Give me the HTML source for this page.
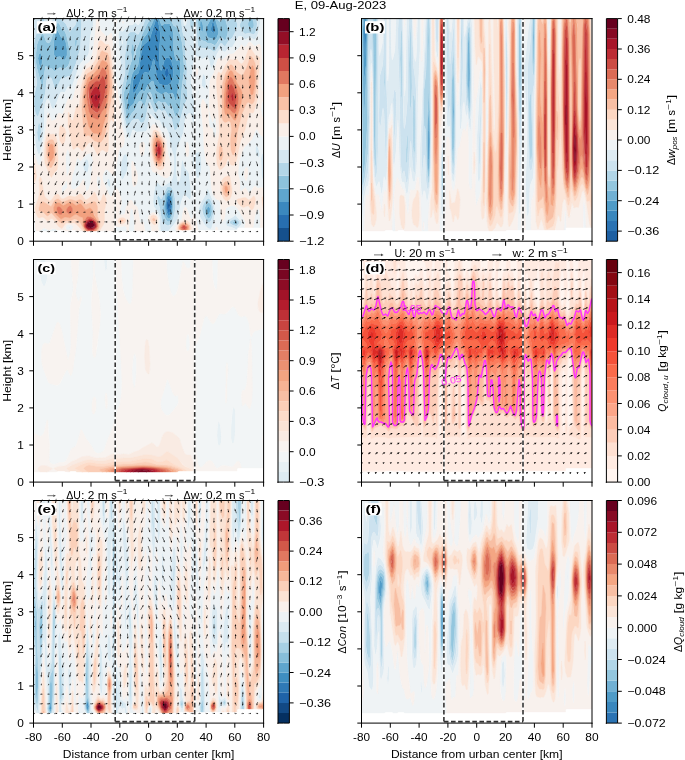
<!DOCTYPE html>
<html><head><meta charset="utf-8"><title>E, 09-Aug-2023</title>
<style>html,body{margin:0;padding:0;background:#fff;width:685px;height:760px;overflow:hidden}svg{display:block;will-change:transform;font-family:"Liberation Sans",sans-serif}</style>
</head><body>
<svg width="685" height="760" viewBox="0 0 685 760" version="1.1">
<defs>
<style type="text/css">*{stroke-linejoin: round; stroke-linecap: butt}</style>
</defs>
<g id="figure_1">
<g id="patch_1">
<path d="M0 760L685 760L685 0L0 0z" style="fill:#ffffff" />
</g>
<g id="axes_1">
<g id="patch_2">
<path d="M33.5 241.2L263.6 241.2L263.6 18.6L33.5 18.6z" style="fill:#ffffff" />
</g>
<g id="QuadContourSet_1" clip-path="url(#p49ef406c6c)">
<g transform="scale(.5)"><path d="M337 418l2-1 1-7-1-6-2-1-1 7 0 5z" style="fill:#15508d;stroke:#15508d;stroke-width:.8" />
<path d="M336 425l1 1 2-1 2-4 1-7-1-13-2-5-2 0-1 1-1 4-2 7 1 9zM337 417l-1-7 1-7 2 1 1 8-1 5-2 1zM332 155l1 0 2-1 3-7-1-8-3-4-1 1-1 2-2 5 0 7zM287 122l1-5-1-1zM311 75l2-2 2-8-1-7-1-2-2 3-1 8 0 5z" style="fill:#276eb0;stroke:#276eb0;stroke-width:.8" />
<path d="M336 431l1 1 2-1 2-2 2-8 1-9-1-9-1-8-2-3-3-2-3 3-1 4-1 13 1 13zM336 425l-2-8-1-9 2-7 1-4 1-1 2 0 2 5 1 13-1 7-2 4-2 1zM267 186l3-2 5-8 7-18 6-12 3-2 5 2 1 0 3-4 3-8 3-13 1-3 2 4 5 36 2 5 3 5 3 1 7 2 7-1 6-5 3-7 2-11-1-14-3-11-4-6-5-1-3 2-3 6-5 18-1 0-2-4-1-11 0-31 2-26-4-23-3-8-1 0-2 3-11 35-6 8-6 5-2 4-4 15-4 35-1 3-7 6-4 9-1 15 0 7zM331 154l-1-4 0-7 2-5 1-2 1-1 3 4 1 8-4 7-1 1zM287 121l0-5 1 1zM311 74l-1-7 1-8 2-3 1 2 0 9-1 6zM339 75l1-4-1-4-1 4zM425 65l3 1 1-3 1-4-1-9-2-6-2 0-1 3-2 9 0 5z" style="fill:#3b88be;stroke:#3b88be;stroke-width:.8" />
<path d="M336 437l3 0 3-5 2-9 1-11 0-11-2-9-3-6-3-1-3 2-2 6-2 19 1 15 2 6zM335 430l-3-9 0-13 2-13 2-4 1-1 3 2 2 5 2 17-2 9-2 6-3 3zM415 427l1 1 2 0 2-5 0-6-2-4-2 0-1 1-1 3 0 6zM257 221l4-8 6-5 7-16 6-9 4-3 4 3 2-1 5-11 9-9 2 0 1 2 4 16 2 3 10 6 7-4 3 0 4 3 8-2 2 3 3 11 2 1 1-2 8-54 0-15-2-13-1-1-3 5-2 0-3-6-3-17 0-29-2-10-5-11-3-1-4 1-4-1-5 4-1-1-1-2-4-11-10 0-5 13-10 19-6 7-3 5-4 21-4 29-3 5-8 9-3 11-7 48 0 13 0 2zM266 186l-1-10 1-15 4-9 7-6 1-3 4-35 4-15 2-4 6-5 6-8 11-35 2-3 1 0 3 8 4 23-2 26 0 31 1 11 2 4 1 0 5-18 3-6 3-2 5 1 4 6 3 11 1 14-2 11-3 7-6 5-7 1-7-2-3-1-3-5-2-5-5-36-2-4-1 3-3 13-3 8-3 4-1 0-5-2-3 2-6 12-8 20-6 8-1 0zM338 74l0-3 1-4 1 4zM80 134l1 1 2-2 2-14-2-9-2-4-1 0-1 1-2 3-1 7 1 8zM127 120l3-1 2-2 2-7 0-12-2-13-3-8-2-1-4-1-1-1-5-10-1-2-2-1-2 4-2 4-2 11-1 17 1 13 2 3 2 2 8-2zM427 78l2 1 2 0 3-4 3-8 0-8-7-22-8 0-8 15-2 6 0 5 2 8 2 4zM425 65l-3-4 0-5 2-9 1-3 2 0 2 8 1 9-2 5-1 0zM404 64l1 0 1-3 1-5-2-10-3-6-2 3 0 9 1 7z" style="fill:#5fa5cd;stroke:#5fa5cd;stroke-width:.8" />
<path d="M467 448l3 1 3-1 1-1 1-2-1-2-3-1-4 1-2 2zM336 444l1 0 3-2 3-6 3-11 1-13 0-13-2-11-3-7-5-2-3 3-4 8-2 13-2 14 1 8 1 7 4 8zM335 436l-2-4-3-7 0-15 3-18 1-5 3-2 3 1 4 7 1 10 0 11-1 11-2 8-3 4-2 1zM416 437l3-1 2-2 2-5 1-6-1-11-2-4-3-3-3 1-3 3-2 5-1 5 1 6 2 5 2 4zM415 427l-1-4 0-6 1-3 1-1 2 0 2 4 0 6-2 5-2 0zM254 238l1 1 3-2 6-11 6-6 6-14 2-3 3-1 2 1 4 8 1 1 2-1 6-22 1-3 3-2 3 5 4 17 2 4 2-1 4-5 2-2 7 4 6-2 6 8 1 1 5-3 1 1 7 21 2 1 1-1 4-6 2-7 2-11 3-35 4-30 0-13-3-39-3-17-6-17-1-2-8-4-6-14-15 0-2 1-2-1-4 0 4 11 1 2 1 1 5-4 4 1 4-1 3 1 5 11 2 10 0 29 3 17 3 6 2 0 3-5 1 1 2 13 0 15-8 52-1 4-2-1-3-11-2-3-8 2-4-3-3 0-7 4-10-6-2-3-4-16-1-2-2 0-9 9-5 11-2 1-4-3-4 3-6 9-7 16-6 5-4 8-2-2-1-7 1-12 8-48 4-9 6-7 3-5 4-29 3-18 3-6 7-9 13-25 2-7-5 0-7 8-12 24-7 20-5 11-2 14-2 3-1-2 2-11-1-9-1-5-2-2-1 1-1 2-1 13 2 15-6 18-11 52 0 10 4 28zM84 176l2-3 3-28 2-12 2 0 4 4 6 0 6 6 11-8 7 3 3-1 6-5 3-6 2-11-1-13-7-31-3-8-7-6-4-9-3-3-3 3-3 6-8 26-2 4-3 2-3-1-2-3-5-13-1-2-2 1-3 4-5 11-2 6-2 17 0 20 2 11zM80 134l-3-9-1-8 1-7 2-3 1-1 1 0 2 4 2 9-2 14-2 2zM126 119l-6-6-8 2-2-2-2-3-1-13 1-17 2-11 2-4 2-4 2 1 1 2 5 10 1 1 4 1 2 1 3 10 2 13 0 11-4 8-1 1zM152 94l1-3 1-9-1-5-1 0-2 3 0 5 0 7zM427 89l2 2 3-2 7-12 3-2 2 0 6 6 2-3 3-9 1-10-2-9-3-10-2-3-3 0-4 5-3 1-2-2-3-4-4 0 7 24 0 6-3 7-2 4-3 1-13-4-2-4-2-6 0-6 1-5 9-17-26 0 0 11 1 13 2 11 2 7 3 2 7 2 5 4 6 0zM403 63l-2-6-1-7 1-8 1-2 3 7 2 11-2 5-1 1zM501 57l3 0 2 0 2-5-1-9-3-6-3 0-1 1-4 8 0 6z" style="fill:#8dc2dc;stroke:#8dc2dc;stroke-width:.8" />
<path d="M334 451l3 0 3-2 6-9 3-11 2-15-1-17-3-15-4-7-4-2-5 1-2 4-9 20-1 0-5-7-1 0-2 4 1 6 4 13 5 29 2 3zM335 443l-3-3-4-8-1-7-1-8 2-14 2-13 4-8 3-3 5 2 3 7 2 11 0 15-1 11-3 11-4 7zM467 451l4 1 3 0 4-5 0-4-4-4-3-1-3 0-6 3-2 2-1 2 1 2zM466 447l-1-2 1-2 4-1 3 0 2 3-1 2-3 2zM415 444l3 1 1 0 3-4 3-7 2-11-1-9-2-8-3-6-3-3-2 0-4 3-4 6-3 6-1 7 3 11 4 8zM415 436l-4-8-2-5 0-6 2-5 2-4 2-2 3-1 3 3 2 4 1 11-1 6-2 5-3 3zM77 284l2 0 1-4 2-16-1-13-2-5-2 0-1 6-2 13 1 11zM349 261l1 0 3-2 5-10 10-38 5-10 2-8-2-26 1-30-3-29 0-24-6-21-3-26-12 0-3 1 0-1-6 0 6 14 8 4 1 2 7 21 2 15 3 37 0 13-4 30-3 37-2 10-3 8-3 4-1 1-2-1-7-21-1-1-5 3-1-1-6-8-6 2-7-4-2 2-4 5-1 1-1-1-3-7-3-13-3-5-3 2-1 3-6 22-2 1-1-1-4-8-2-1-3 1-2 3-6 14-6 6-6 11-3 2-2-5-5-34-1-11 11-52 6-18-2-13 1-13 1-4 1-1 2 3 2 11-2 13 1 2 2-3 2-14 5-11 7-20 12-24 7-8-12 0-4 11-10 20-1 1-2-1-4-4-9 0-4 3-2 5-5 38 0 37-6 28-1 11 1 15 7 44 2 5 2 3 3-2 6-10 3-2 7-1 2 0 5 7 3 1 3-1 3-4 1-3 5-26 3-8 1 0 1 3 6 14 3 4 3-1 4-5 2 0 4 3 6-1 1 0 6 11 1 2 5 0 1 3zM74 232l2 1 1-2 10-31 4-16 2-23 3-5 4-1 3 2 6 19 1 3 2 0 2-4 8-17 3-2 4 0 6-3 5-1 3-3 9-22 9-32 2-47-1-11-7 0-5 14-5 5-5 7-1 0-7-15-7-7-3-4-11 0-7 18-4 8-3 2-3-4-6-24-4 0-5 18-8 16-4 21 0 29 7 44-1 6-4 18-1 19 2 14 1 5zM84 174l-4-16-6-21-2-11 0-20 2-17 2-6 5-11 3-4 2-1 1 2 5 13 2 3 3 1 3-2 2-4 8-26 3-6 3-3 3 3 4 9 7 6 3 8 7 31 1 13-2 11-3 6-6 5-3 1-7-3-11 8-6-6-6 0-4-4-2 0-2 12-3 29-2 2zM151 93l-1-4 0-7 2-5 1 0 1 5 0 5-1 4-1 3zM428 104l3-2 10-15 3 0 4 5 3 0 7-12 4-2 3-3 7-14 3-9 0-4-5-11-9 0-1 4-2 0-3-4-6 0 3 6 4 15 0 7-3 11-2 5-1 0-6-6-3 1-7 11-5 4-7-4-6 0-5-4-7-2-3-2-2-7-2-11-1-13 0-11-4 0 0 8 3 39 1 7 2 4 1 1 10 0 12 3zM506 69l3-1 1-1 3-8 1-11-1-11-9 0 3 5 1 6-1 7-3 2-6-3-2-4 0-5 5-8-16 0-6 13 2 6 3 5 3 5 3 2 8-2zM382 59l3-2 3-9 1-5 0-6-9 0 0 15 1 5zM439 43l3-1 4-5-12 0 3 4zM323 38l1 0 2-1-4 0z" style="fill:#b3d6e8;stroke:#b3d6e8;stroke-width:.8" />
<path d="M322 462l15 0 10-12 6-8 4-8 5-30 3-8 3-6 1-1 1 1 9 9 2-1 1-5 0-11-4-35-2-4-6-7-4-15-1-1-2 5-3 33-2 5-2-1-1-2-2-11 0-45 2-11 5-10 7-18 3-26 3-7 3-4 3-2 3 3 4 16 2 1 1-1 2-6 1-11-1-16-1-8-5-17-3-24 4-33 3-15 2-2 1-1 12 6 2 0 6-4 3 0 3 5 3 15 1 2 2-1 3-6 6-19 6-11 3 0 5 4 3 1 2-2 6-7 6 0 1-1 10-18 3-4 5 1 7 6 1 0 7-4 3 0 6 4 2 0 2-1 4-7 4-13 1-12 0-9-7 0 2 9-1 10-3 9-4 4-9-3-7 2-3-1-4-6-5-9 1-6 5-9-15 0 5 11 0 4-3 9-7 14-3 3-4 2-7 12-3 0-4-5-3 0-10 15-3 2-7-5-12-3-10 0-1-1-2-4-1-7-3-39 0-8-3 0 0 6-1 5-3 9-3 2-1-2-1-5 0-15-6 0-2 12-2 2-1 0-1-3-2-11-4 0 3 26 6 21 0 24 3 29-1 30 2 26-2 8-5 10-9 36-4 9-5 5-1 0-2-4-4-20-1-3-5 0-1-2-6-11-1 0-6 1-4-3-2 0-4 5-3 1-3-4-6-14-1-3-1 0-3 8-5 26-3 5-2 2-3 1-3-2-4-6-9 1-3 2-7 12-3-1-1-2-4-14-5-36-1-14 1-11 6-28 0-37 5-38 2-5 4-3 9 0 4 4 2 1 1-1 10-20 4-11-8 0-3 8-3 5-1 0-5-5-1 0-5 5-5 0-3 1-12 12-5-2-2 2-1 6 0 5 4 56-2 33 1 26 7 58 4 14 4 11 3 5 2-1 4-12 1-4 2 0 6 4 15 0 5-2 3-7 3-21 1-5 1-1 9 10 3 2 4 0 2 1 7 14 1 0 3-1 3 3 5 12 4 26 5 17 1 9 0 11-2 21-3 7-3 4-16 9-2-1-6-7-2 0-1 1-2 5-3 11-2 15 1 11 1 6 6 8 4 8 2 8 0 18 1 6zM334 451l-8-5-2-3-5-29-4-13-1-6 2-4 1 0 5 7 1 0 9-20 2-4 5-1 4 2 4 7 4 19 0 15-3 16-3 10-6 9-3 1zM244 87l0-7 1 0 0 8-1 0zM388 87l0-9 1 4zM421 458l1 0 2-3 4-15 2-11 0-10-3-15-7-16-4-11-1 0-4 13-10 17-3 9 0 9 2 9 10 17 6 6zM415 443l-4-5-5-9-1-6-1-6 1-5 3-6 4-6 4-3 2 0 3 3 3 6 2 8 1 9-2 11-3 7-1 2-3 2zM473 459l1-1 1-3 2 0 6-6 1-4-2-3-6-6-5-6-1 0-4 4-12 6-2 3 0 4 1 4 2 2 7 1zM466 451l-5-3-2-3 1-2 2-2 5-2 4-1 4 2 3 3 0 4-4 5-3 0zM137 456l2 0 1-1-1-1-2 0zM218 374l1 0 2-2 0-6-2-7-2-2-2 1-1 6 1 5zM527 362l0-57-4 5-1 7 1 34 2 7zM244 359l1 0 2-2 6-12 2-7 0-21-1-6-3-3-3 1-3 5-4 14 0 19 1 9zM396 357l2-2 3-7 2-18-1-16-3-9-1-2-6 3-4 0-2 4-1 13 1 7 3 8 4 15 2 3zM172 345l3 0 1-3 2-10-1-9-2-4-2-1-2 2-2 3-3 9 2 8zM516 314l2 0 1-2 0-6-3-11-3-4-2 4 0 9 2 7zM77 308l2 0 1-2 1-5 5-26 2-24 1-30 1-11 3-9 1-2 2 0 1 0 2 3 4 13 3 3 1 0 3-4 9-25 3-5 3 0 4 1 1-1 6-11 1 0 5 1 3-3 13-39 8-11 9-9 3-6 1-9 1-23 6-22 1-15-12 0-2 5-1-5-10 0 1 11-2 47-9 32-9 21-3 4-5 1-6 3-4 0-3 2-8 17-2 4-2 0-1-3-6-19-3-2-4 1-2 1-3 25-2 13-12 36-1 2-2-1-3-5-3-15 0-21 2-9 3-11 1-6-7-49 0 126 2 14 2 33 3 14zM77 284l-2-8-1-11 2-13 1-6 2 0 3 6 0 13-2 16-1 3zM395 194l1-2 2-10-2 0-1 4zM409 178l2 0 0-2 1-9-1-12-2-5-1-2-2 1-1 3-2 17 0 2zM67 91l4-20 8-16 5-18-8 0-2 2-1-2-6 0zM97 65l3-2 4-8 7-18-5 0-3 6-4 3-3-3-2-6-6 0 6 24zM139 63l1 0 5-7 5-5 5-14-33 0 3 4 7 7zM458 41l2 0 1-4-6 0zM347 38l3-1-3 0z" style="fill:#d5e7f1;stroke:#d5e7f1;stroke-width:.8" />
<path d="M68 462l4 0-2-7 0-13-3-7 0 27zM80 462l33 0 1-2-4-3-4 0-7 4-10-5-3 1-7 5zM133 460l4 1 6-1 4-4-1-3-1-2-3-2-5 0-2 1-2 1-2 4 1 3zM137 455l2-1 1 1-1 1zM206 462l6 0-3-1zM228 462l26 0 0-4-1-5-3-1-12 2-6-1-2 2-3 7zM258 462l11 0 0-13-1-15-2-13-2-4-1 0-2 2-2 8 0 16-2 13 1 6zM291 462l12 0 0-7-6-12-1-5 1-6 3-3 3-3 4-1 3 1 3 2 3 4 1 8-1 13 1 9 4 0-2-28-3-10-9-12-1-8 1-11 3-20 3-7 1-1 2 0 7 8 3 0 16-10 3-7 3-22 0-17-1-7-5-15-4-24-3-9-3-7-6 0-7-14-2-1-4 0-3-2-9-10-1 1-1 5-4 22-1 4-3 3-18 1-6-4-2 0-1 4-4 12-2 1-5-12-4-13-8-48-2-22 0-21 2-33-4-53 0-8 1-4 2-2 5 2 12-12 3-1 5 0 5-5 1 0 5 5 1 0 3-5 3-8-51 0 2 8-2 3-1 1-1 0-2-3 0-5 1-4-31 0 1 17 3 8 10 11 5-2 5-5 2 2 7 86 9 61 3 34 4 18 2 11-1 8-1 5-3 4-4 2-2 4-4 20-4 30-2 1-1-1-12-11-3-1-3 3-2 5-2 7 1 8 11 26 4 5 1 0 2-1 6-17 1-2 7 11 3 9 2 11-1 8-4 13 2 4 4 1 4-1 2-2 2-11 5-12 3-3 3-1 1 1 4 9 5 2 2 4 5 28 1 2 5-2 1 2 3 16zM217 373l-2-4-1-5 1-6 2-1 2 2 2 7-1 7-1 1zM267 373l-2-6-2-29 0-10 1-6 1 0 2 3 7 20 1 8 0 7-2 7-3 6-2 1zM243 358l-1-4-1-9 1-18 4-13 2-5 3-1 3 3 1 6 1 11-1 12-1 3-7 14-2 2zM330 356l-17-10-7-2-3-6-4-32-1-18 4-32 2-5 2-2 3 0 8 5 7 12 6 7 3 7 3 29 5 16 1 13-1 9-2 6-5 3zM282 310l-2-7-1-12 2-5 5-2 2 2 1 3 0 13-3 8-2 1zM246 46l-1-1 0-2 2-1 1 3-1 1zM337 462l15 0-1-6 1-3 3-5 9-10 3-19 2-4 1-1 3 2 2 3 4 14 3 5 1 0 2-1 4-15 7 38 34 0 2-6 2 0 2 6 38 0 0-2-1 1-11-5-7-1-2-2-1-4 0-4 2-3 12-6 4-4 1 0 5 6 6 6 2 3-1 4-6 6 12 0 2-10-2-5-6-10-4-7-4-6-4-4-4-2-5 0-10 5-1 3-1 13-2 6-3 5-1 0-1-3-1-8-1-26-3-6-4-1-2-1-4-5-3-7-2-11-3-39-1-4-5-4-3-11-3-20-1-30-5-48 0-11 2-7 1-3 1 0 8 14 3 9 0 20 1 10 3 6 1 0 2-2 1 1 2 15 1 3 1 1 2-2 2-9-1-23-1-6-2-1-4 10-7-25 1-43 1-15 8-16 6-22 1-3 3-4 1 0 5 4 1-1 6-4 7-7 6 0 3-1 6-6 5-4 5-8 1 1 4 4 3 0 5-7 2-3 3 0 8 8 2 0 6-4 3 1 1 3 2 10 1 15-2 52 2 11 3 5 0-148-7 0 0 11-2 11-3 12-5 8-3 0-6-4-3 0-7 4-1 0-7-6-5-1-3 4-10 18-1 1-6 0-6 7-2 2-3-1-5-4-3 0-6 11-6 19-3 6-2 1-1-2-3-15-3-5-3 0-6 4-2 0-12-6-1 1-2 2-3 15-4 33 3 24 5 17 1 8 1 16-1 11-2 6-1 1-2-1-4-16-3-3-3 2-3 4-3 7-3 26-7 18-5 10-2 11 0 45 2 11 1 2 2 1 2-5 3-33 2-5 1 1 4 15 6 7 2 4 4 35 0 11-1 5-2 1-9-9-1-1-2 3-5 14-6 30-7 12zM420 458l-5-2-6-7-9-15-2-9 0-9 3-9 10-17 4-13 1 0 4 11 7 16 3 15-1 13-2 12-4 12-1 2zM395 356l-2-3-4-15-3-8-1-7 1-13 2-4 4 0 6-3 2 3 2 9 1 17-1 10-3 10-1 3-2 2zM374 314l-2-6-1-11 1-8 1-4 2-1 2 5 1 12-2 10-1 3zM395 193l0-7 1-4 2 0-2 10-1 2zM408 176l-5-5 0-4 2-15 1-3 2-1 1 2 2 5 1 14-1 9zM393 150l-1-3 0-6 1-5 2 0 1 9-1 5-2 1zM506 455l14 0 1-8 0-9-2-13-2-8-1 0-2 2-4 10zM214 427l1 1 1-3 1-2-2-2-1 1zM498 386l3-2 5-9 3-3 2 1 5 4 5-2 6 1 0-14-3-5-1-8-1-32 1-7 4-5 0-32-3-1-3-2-7-11-1-1-3 4-7 18-6 5-10 12-7 20-4 21 0 9 4 17 0 15 1 3 2 0 8-7 5 9zM491 360l-2-7 0-8 1-7 3-4 1 1 2 5 0 7-3 14zM515 314l-2-3-2-9 0-9 2-2 1 1 3 5 3 11-1 4-1 2-2 0zM125 385l1 1 1-1 3-5 5-5 0-6-2-10-3 9-1 2-4 3-1 2-1 5zM172 382l1 1 2-1 3-4 3-12 5-45-2-11-2-4-1 0-8 2-11 13-2 0-4-6-1 0-2 4-4 19-4 11-3 18 0 6 1 4 3 2 3 0 10-8 7-12 2 0 1 5zM172 345l-4-5-2-8 3-9 2-3 2-2 2 1 2 4 1 9-2 10-1 3-2 0zM198 380l1-1 2-5 1-14-2-6-4-3-1 1-1 2-1 8 2 12zM133 353l2-1 5-14 1-8-1-20-3-10-1-2-1 1-2 3-2 12 1 22zM77 331l3-2 1-2 2-6 4-35 6-37 2-23 1-1 1 1 5 14 1 2 6-2 3-3 4-10 1-1 2 0 4 2 3 0 1-3 6-19 3-8 1-2 2 1 4 4 2-1 10-37 1-3 6-8 6-18 3-5 8-5 5-11 2-13 6-41 1-22-6 0-1 15-5 20-2 26-2 10-2 4-12 12-5 8-13 39-3 3-5-1-1 0-6 11-1 1-4-1-3 0-3 5-9 25-3 4-1 0-3-3-4-13-2-3-1 0-2 0-1 2-3 9-1 11 0 28-2 16-4 28-3 13-1 2-2 0-1-1-5-16-2-35-2-14 0 61 7 24zM527 239l0-38-3 5-2 13 1 11zM244 88l1 0 0-8-1 0 0 2zM388 88l1-6-1-4zM369 51l1 0 2-2 2-12-8 0 2 11zM97 45l2 1 3-2 4-7-12 0zM173 42l2-5-3 0zM74 39l2-2-3 0z" style="fill:#ecf2f5;stroke:#ecf2f5;stroke-width:.8" />
<path d="M73 462l6 0 7-5 3-1 10 5 5-4 3 0 5 1 2 2 15 0 1 2 9 0 1-1-7-1-2-4 2-5 3-2 3 0 4 1 3 3 1 3-4 4 9 0 1 2 13 0-13-13-4-3-10 0-6 0-3 2-5 8-2 1-6-4-8-11-5-5-2 0-6 6-9-8-3-1-5 2-3-1-4-8-2-10 1-5 5-13 2-9 1-11-1-19 2-6 1 0 2 4 4 24 2 10 4 5 7 5 3-2 6-9 5-3 3 1 6 8 3 1 11-6 5 0 8 2 9-6 3 0 3 3 4 7 3 2 5-3 6-5 5-8 1 0 3 5 4 10 3 4 3-2 4-12 2 0 1 1 3 7 1 6-4 18 0 22-2 6-8 13 6 0 4-1 3 1 15 0 3-7 1-2 7 1 10-2 3 0 2 3 1 7 4 0-1-6 2-13 1-18 1-6 2-2 1 0 2 4 2 13 1 15 0 13 21 0-3-16-1-2-5 2-1-2-5-28-2-4-5-2-4-9-1-1-3 1-3 3-5 12-2 11-2 2-4 1-4-1-2-4 4-13 1-8-2-11-3-9-7-11-1 2-6 17-2 1-1 0-4-5-11-26-1-8 2-7 2-5 3-3 3 1 12 11 1 1 2-1 4-30 4-20 2-4 4-2 3-4 1-5 1-8-2-11-4-18-3-34-9-61-7-86-2-2-5 5-5 2-10-11-3-8-1-17-5 0-2 24-5 41-3 13-4 9-8 5-3 5-6 18-6 8-1 3-10 37-2 1-4-4-2-1-1 2-3 8-6 19-1 3-3 0-4-2-2 0-1 1-4 10-3 3-6 2-1-2-5-14-1-1-1 1-2 23-6 37-3 33-3 9-2 2-3 0-9-27 0 19 3 12 3 17-2 9-4 6 0 69 3 7 0 14zM239 447l-2-2-1-3 1-4 1-1 7-2 3 1 3 2 1 4-2 3-5 3zM214 427l0-5 1-1 2 2-1 2-1 3zM124 384l-1-5 1-6 5-4 4-10 2 10 0 6-5 5-3 5-1 1zM172 382l-3-18-1-5-2 0-7 12-10 8-3 0-3-2-1-4 0-6 3-18 4-11 4-19 2-4 1 0 4 6 2 0 11-13 8-2 1 0 2 4 2 11-5 45-3 12-3 4-2 1zM198 380l-3-6-2-12 1-8 1-2 1-1 4 3 2 6-1 14-2 5zM102 354l-2-2-1-3-9-22-1-8 0-15 1-18 3-13 3-6 6 2 5-1 3 2 3 8 2 11 1 32-1 15-1 4-5 5-5 8zM133 353l-1-17-1-22 2-12 2-3 1-1 1 2 3 10 1 20-2 10-4 12zM195 310l-10-19-3-4-3-2-3 2-8 12-3 3-2-1-4-5-3-2-3 0-5 5-2-1-3-10-4-26-3-11 0-17 0-7 1-3 2 3 3 12 3 2 1-1 6-25 1-2 5-1 1-4 3-32 7-31 3-6 11-8 7-10 4-11 3-25 2-3 2-1 3 1 7 7 6 0 3 6 5 41 7 85-1 13-3 9-1 0-5-4-1 2-2 6-2 22 0 26-1 7-1 2-1 1-8-5-2 0-3 2-5 8zM124 289l-4-9-2-13 1-13 1-2 3-1 3 2 4 5 2 7 0 10-3 9-3 6zM304 462l13 0-1-9 1-13-1-6-3-6-3-2-3-1-4 1-3 3-3 3-1 6 1 5 5 10 1 3 0 6zM307 449l-5-6-2-5 2-6 5-2 5 2 2 4 0 4-1 5-2 4-1 1zM352 461l0 1 3 0 1-1-1-5 0-3 4-6 7-4 6-2 6 4 4 6 1 4-2 5 15 0-7-38-4 15-2 1-1 0-3-5-6-17-3-2-1 1-3 8-2 15-11 13-2 5zM431 460l5 0-2-6-2 0-1 2zM490 455l16 0 4-25 3-8 3-5 1 0 2 4 1 9 1 15-1 10 7 0 0-38-2-7-1-9 0-6 3-4 0-15-6-1-5 2-5-4-2-1-9 14-2 0-1 0-6-11-8 7-2 0-1-3 0-15-4-17 2-24 8-24 2-4 15-15 6-15 2-5 2-2 1 1 7 11 3 2 3 1 0-34-3-7-2-11 1-13 1-4 3-3 0-16-3-5-2-13 2-48-2-22-1-6-2-3-3 1-6 4-3-2-4-5-3-2-3 1-4 7-3 2-2 0-4-4-1-1-5 8-5 4-6 6-3 1-6 0-7 7-6 4-1 1-5-4-1 0-3 4-1 3-6 22-8 16-1 15-1 43 7 25 4-10 2 1 1 6 1 23-2 9-2 2-1-1-1-3-2-15-1-1-2 2-1 0-3-6-1-10 0-20-3-9-8-14-1 0-1 3-2 11 5 53 1 32 3 20 3 11 5 4 1 4 3 39 2 11 3 7 4 5 2 1 4 1 3 6 1 26 1 8 1 3 1 0 3-5 2-6 1-13 1-3 10-5 5 0 4 2 4 4 4 6 4 7 6 10 2 5-2 10zM502 419l-5-7-3 0-7 3-6-3-4-4-2-4-1-5 1-1 5-1 8-2 3 0 7 5 3-2 5-5 1-1 2 1 1 3 1 5-1 9-4 9-2 1zM450 401l-3-4-4-9-2-9 0-10 2-7 4-6 3-2 7-3 1 1 2 3 2 11 2 11-1 11-2 7-3 5-4 2zM439 338l-5-10-1-14 0-15 5-26 1-11-2-39-4-52 0-11 2-12 2-4 1 0 3 3 1 0 2-2 6-13 7-11 3-2 7 1 6-2 2 2 5 6 3 2 1-1 3-3 4-9 6-17 3-2 1 0 10 15 6 2 2 2 0 6-3 63-1 13-3 13-5 15-1 1-6-1-3 5-7 30-9 22-8 39-3 7-3 3-5-1-2-3-3-10-2 1-3 10-4 6-6 5-1 0zM268 374l3-3 3-5 1-13-1-8-7-20-2-3-1 0-1 10 1 22 1 13 2 6zM491 361l2 0 1-4 2-10 0-7-2-5-1-1-3 4-1 7 0 8zM330 356l4 0 5-4 2-5 1-9-1-13-5-16-3-29-3-7-6-7-7-12-8-5-3 0-2 2-2 5-4 32 1 18 4 32 3 6 7 2zM318 340l-5-4-4-6-3-9-3-15-1-17 2-16 2-9 1-3 3-1 6 2 4 5 8 13 3 11 0 19-2 20-2 6-3 3-2 1zM375 314l2-4 1-9-1-12-2-5-2 1-1 4-1 8 1 11 1 5zM283 311l3 0 1-2 2-10 0-11-2-4-1 0-5 2-2 5 1 12 1 6zM393 151l2-1 1-5-1-9-2 0-1 5 0 7zM230 49l1 0 1-1 2-3-2-8-3 0-1 4 0 5zM247 47l1-2-1-3-2 1 0 2 0 1z" style="fill:#f9efe9;stroke:#f9efe9;stroke-width:.8" />
<path d="M165 461l1 1 3 0-9-16-7-7-4-1-9 4-8-1-7 5-3 0-5-4-14-16-1 0-5 5-3 1-8-8-7-1-1-4 0-3 3-11 2-1 3-1 16 10 7-12 3-2 2-1 3 0 6 5 3 1 13-5 4 0 9 3 8-3 3 1 6 7 3 2 9-4 8-2 3 3 3 9 0 17 5 17-1 6-4 7 4 0 8-13 2-6 0-22 4-18-1-6-3-7-1-1-2 0-4 12-3 2-3-4-4-10-3-5-1 0-5 8-6 5-5 3-3-2-4-7-3-3-3 0-9 6-8-2-5 0-11 6-3-1-6-8-3-1-5 3-6 9-3 2-7-5-4-5-2-10-4-24-2-4-1 0-2 6 1 19-1 11-2 9-5 13-1 5 2 10 4 8 3 1 5-2 3 1 9 8 6-6 2 0 5 5 8 11 6 4 2-1 5-8 3-2 6 0 10 0 4 3zM356 461l3-1-2-4 2-5 3-3 4-2 6-1 5 4 2 6-1 5 3 0 2-4-1-3-2-6-5-5-3-1-3 0-9 5-4 5-1 5zM307 449l3 1 1-1 2-4 1-5 0-4-2-4-5-2-5 2-2 6 2 5zM307 442l-2-2 0-2 2-2 3 2 0 2-1 2zM240 447l5 1 5-3 2-3-1-4-3-2-3-1-7 2-1 1-1 4 1 3zM242 443l-1-1 1-2 4 0 1 2-2 1zM503 420l1 0 3-3 3-9 1-9-2-6-2-1-1 1-5 5-3 2-7-5-3 0-8 2-5 1-1 1 1 5 2 4 4 4 6 3 7-3 3 0zM527 417l0-26-3 4 0 6 1 9zM451 401l4 1 4-3 3-6 2-7 0-9-2-11-2-11-2-3-1-1-7 3-3 2-4 6-2 7 0 10 2 9 4 9zM451 393l-3-3-1-4-2-11 3-9 3-3 3 0 3 2 2 4 1 13-1 6-2 4-3 2zM68 366l4-8 1-7-3-17-3-12 0 44zM103 355l1-2 5-8 5-5 1-4 1-15-1-32-2-11-3-8-3-2-5 1-6-2-3 6-3 13-1 18 0 15 1 8 9 22 3 5zM100 334l-4-7-2-12-1-9 0-11 1-9 2-4 3-2 5-1 4 3 2 7 1 12 0 11-2 9-3 9-3 5-1 0zM319 340l3 0 2-1 3-3 2-6 2-20 0-19-3-11-8-13-4-5-6-2-3 1-1 3-2 9-2 16 1 17 3 15 3 9 4 6zM317 332l-4-3-4-6-2-9-2-12 0-13 1-11 3-7 2-3 3 1 3 1 5 5 5 11 1 9 0 15-2 15-4 7-3 1zM439 339l3 0 6-5 4-6 3-10 2-1 3 10 2 3 5 1 3-3 3-7 8-39 9-22 7-30 3-5 6 1 1-1 5-15 3-13 1-13 3-63 0-6-2-2-6-2-10-15-1 0-3 2-6 17-4 9-3 3-1 1-3-2-5-6-2-2-6 2-7-1-3 2-7 11-6 13-2 2-1 0-3-3-1 0-2 4-2 12 0 11 4 52 2 39-1 11-5 26 0 15 1 14 3 7zM440 319l-2-6 0-11 1-8 2-3 1 0 2 2 2 6 0 13-2 8-2 1-1 0zM465 308l-3-8-1-14 0-8 2-18-1-11-1-4-3-3-7 3-3-1-2-3-2-5 0-54 1-15 6-20 9-17 2-1 3 2 9 14 10 6 3-3 7-15 6-18 1-2 2 0 3 4 4 9 3 15 0 28-3 24-1 8-3 6-3 1-7-3-2 1-4 10-5 7-2 9-8 32-4 37-3 8-1 1zM195 310l1 0 5-8 3-2 2 0 8 5 1-1 1-2 1-7 0-26 2-22 2-6 1-2 5 4 1 0 3-9 1-13-7-85-5-41-3-6-6 0-7-7-3-1-2 1-2 3-3 25-4 11-7 10-11 8-3 6-7 31-3 32-1 4-5 1-1 2-6 25-1 1-3-2-3-12-2-3-1 3 0 7 0 17 3 11 4 26 3 10 2 1 5-5 3 0 3 2 4 5 2 1 3-3 8-12 3-2 3 2 3 4zM194 284l-5-2-10-10-3-1-5 2-3-4-4-50 1-26 2-20 5-22 3-4 10-6 8-13 4-7 4-16 3-4 5 3 6 2 3 8 3 18 2 20 1 19 0 16-2 15-4 18-5 32-5 23-3 6-4 4-3 1zM125 290l1 0 1-2 3-6 2-17-2-7-4-5-3-2-3 1-1 4-1 13 2 13z" style="fill:#fcdecd;stroke:#fcdecd;stroke-width:.8" />
<path d="M168 460l1 2 2 0-3-6-2-5 0-13-1-3-6-2-6-4-3 0-10 7-10-2-7 4-3-1-5-5-6-8-2-7 2-6 3-4 2-2 3 0 8 5 2 1 9-5 4-1 5 1 7 5 7-4 3 1 9 11 2 0 6-3 3 1 15 28 0 4 0 6-2 3-3 4 3 0 4-7 1-8-5-15 0-18-2-6-2-4-3-1-7 2-9 4-3-2-6-7-3-1-8 3-9-3-4 0-13 5-3-1-6-5-3 0-2 1-3 2-7 12-16-10-3 1-2 1-3 11 0 5 2 2 6 1 8 8 3-1 5-5 1 0 14 16 5 4 3 0 7-5 8 1 9-4 4 1 7 6zM359 460l3 0-2-2-1-3 2-4 4-3 5-1 5 3 2 5-2 5 3 0 1-2 0-3 0-4-6-5-4-1-4 1-5 3-2 4-1 3zM242 444l3-1 2-1-1-2-4 0-1 2zM307 442l2 0 1-2 0-2-3-2-2 2 0 2zM452 394l3-1 3-3 2-10 0-7-2-6-1-2-3-2-3 0-3 3-2 5-1 6 2 11 3 4zM451 384l-2-4 0-3 1-4 2-2 3 3 1 6-2 5-2 1zM100 335l2 0 1 0 4-7 3-9 1-9 0-11-1-11-3-7-3-2-5 1-3 2-2 4-1 9 0 11 1 9 3 13zM100 321l-3-9 0-13 2-8 1-2 3-1 3 3 1 4 1 13-4 12-2 3zM317 333l5-1 2-4 2-4 2-14 0-15-1-9-5-11-5-5-3-1-3-1-2 3-3 7-1 11 0 13 2 12 2 9 4 6zM317 327l-4-4-3-6-2-9-1-9 2-17 2-6 3-1 5 2 3 5 3 7 2 10-1 11-2 11-4 6zM441 321l1 0 2-2 2-9-1-13-3-6-1 0-2 3-1 10 0 10 1 5zM465 309l2 1 1-1 3-8 4-37 9-37 10-21 2-1 1 0 6 3 3-1 3-6 1-8 3-24 0-28-3-15-4-9-3-4-2 0-1 2-6 18-7 15-3 3-10-6-9-14-3-2-2 1-9 17-6 20-1 15 0 54 2 5 2 3 3 1 7-3 3 3 1 4 1 11-2 18 0 8 1 14zM468 239l-8-10-8 1-1-1-2-4-1-8 0-28 2-22 4-14 4-9 3-3 3 1 2 3 8 21 9 14 2 9-2 15-8 28-4 9-1 0zM502 189l-2-9-2-19 3-22 2-6 1-2 2 1 1 3 2 5 1 21-3 23-3 6zM195 284l4 2 3-2 4-5 3-6 5-22 4-31 4-18 2-16 0-17-1-19-5-36-3-8-6-2-5-3-3 4-4 16-4 7-8 13-10 6-3 4-5 22-2 20-1 26 4 50 3 4 4-2 3 0 11 11zM198 271l-4-4-6 0-3-2-4-6-4-7-8-37-1-24 3-20 4-14 3-3 7-4 11-13 6-14 3-3 9 5 3 7 2 20 1 22-9 63-4 12-4 18-2 4z" style="fill:#f9c2a7;stroke:#f9c2a7;stroke-width:.8" />
<path d="M171 461l0 1 4 0-3-2-3-5-1-6 0-6 4-7 6-4 4 1 6 4 4 4 3 6 0 6-1 4-5 4-5 1 8 0 3-4 2-3 0-6-1-6-8-13-3-9-3-4-3-1-6 3-2 0-8-10-3-2-8 4-7-5-5-1-4 1-9 5-2-1-6-4-3-1-3 1-3 2-3 8 1 7 5 7 7 7 3 1 7-4 10 2 10-7 3 0 6 4 6 2 1 3 0 13zM119 429l-4-4-1-6 0-4 3-2 3 1 3 3 3 6-3 6-3 0zM136 427l-3-4 0-4 3-5 3-2 3 0 1 2 2 3 0 6-2 3-3 2zM360 458l2 2 4 0-3-2-1-3 2-4 5-2 4 2 2 4-1 3-3 2 4 0 2-4 0-3-4-5-3-1-4 1-4 2-2 3-1 3zM451 385l1 1 2-1 2-5-1-6-3-3-2 2-1 4 1 5zM317 327l3 0 2-2 2-6 2-9 1-11-2-10-3-7-3-5-5-2-3 1-2 6-2 9 0 10 2 11 2 7 3 6zM316 321l-3-4-2-5-2-15 1-8 1-5 2-2 3-2 3 2 3 6 2 7 1 7-1 10-2 7-3 3zM100 322l2 1 2-3 3-6 1-8-1-13-2-4-2-1-3 1-1 2-2 8 0 13zM198 271l3 0 2-4 4-18 4-12 9-63-1-22-2-20-3-7-9-5-3 3-6 14-11 13-7 4-3 3-4 14-3 20 1 24 8 37 4 7 4 6 3 2 6 0zM192 238l-9-4-2-5-3-6-4-24-1-12 1-11 2-7 2-5 7-5 7-7 6-4 6-12 2-1 3 3 3 5 3 11 0 20-3 26-3 15-5 8-6 13-3 3zM468 240l3 1 4-9 8-28 2-15-2-9-9-14-8-21-2-3-3-1-3 3-4 9-4 14-2 22 0 28 1 8 2 4 1 1 8-1zM465 225l-5-6-6-3-2-3-1-9 1-18 2-17 4-11 3-4 1 0 3 3 7 17 4 13 1 10-1 11-3 13-3 5-2 0zM503 190l1 0 2-2 1-4 2-10 1-14-1-20-2-5-1-3-2-1-1 2-2 6-3 22 2 19 1 7z" style="fill:#f2a17f;stroke:#f2a17f;stroke-width:.8" />
<path d="M173 461l2 1 9 0 5-1 4-3 2-5 0-6-3-6-4-4-7-4-5 0-3 2-2 3-3 5 0 6 0 4 3 5zM176 460l-4-2-2-5-1-6 2-3 2-4 3-2 5-1 4 1 4 3 4 4 1 6-1 4-2 3-3 2-6 1zM363 459l3 1 6 0 3-4-1-3-4-3-5 0-3 5zM367 458l-3-2 1-3 3-1 2 0 2 3 0 1-3 2zM119 429l3 0 1 0 3-6-3-6-3-3-3-1-3 2 0 4 1 6zM136 427l4 1 3-2 2-3 0-6-2-3-1-2-3 0-3 2-3 5 0 4zM317 322l3-1 3-5 2-15-1-8-2-7-3-4-3-2-3 2-2 4-2 13 3 15 2 5zM316 315l-4-7-1-11 2-8 1-2 3-1 3 3 2 3 1 12-1 8-2 3-1 1zM192 238l3 1 2-1 7-15 4-5 3-8 2-11 2-25 0-20-3-11-3-5-3-3-2 1-6 12-6 4-7 7-7 5-2 5-2 7-1 11 1 12 4 24 3 6 2 5zM191 225l-8-8-3-7-3-17 1-15 1-4 3-3 9-8 3-1 4 1 1-1 5-8 1-2 1 0 3 5 2 8 0 13-2 13-1 6-11 26-3 3zM465 225l3 1 2 0 3-5 3-13 1-11-1-10-4-13-7-17-3-3-1 0-3 4-4 11-2 17-1 18 1 9 2 3 6 3zM467 215l-3-2-6-7-2-4-1-5 1-10 1-11 3-5 2-3 3 3 3 6 4 16 0 7-1 9-1 4z" style="fill:#e17860;stroke:#e17860;stroke-width:.8" />
<path d="M176 460l6 1 6-1 4-4 2-3-1-6-2-4-5-4-4-2-3 0-4 2-3 2-2 4-1 6 1 4 3 3zM175 458l-3-3-1-4 0-4 2-4 3-2 5-1 4 1 4 2 3 4 0 4-2 5-7 3zM368 458l2 0 2-2 0-1-2-3-4 0-2 3 1 2zM316 316l3 0 1-1 2-5 1-8-1-7-2-6-1-2-3-1-3 3-2 10 2 11zM317 310l-3-5 0-6 1-6 2-1 2 1 1 4 1 5-1 6-1 2zM192 225l3 0 3-4 10-24 1-6 2-13 0-13-2-8-3-5-1 0-1 2-5 8-1 1-4-1-3 1-9 8-3 3-1 4 0 17 3 17 2 5zM192 215l-4-4-4-7-2-7 0-6 0-5 3-6 4-5 3-2 3 2 4 5 2 9-1 10-3 11-2 5-1 1zM467 215l3-2 1-4 1-9 0-7-4-16-3-6-3-3-2 3-3 5-1 11-1 10 1 5 2 4 6 7zM465 200l-1-1-2-6 1-4 1-2 1 0 2 6 0 7z" style="fill:#ce4f45;stroke:#ce4f45;stroke-width:.8" />
<path d="M176 459l9 0 6-3 1-3 0-4-1-4-3-3-5-2-4 0-3 1-3 2-2 4 0 6 2 3zM175 456l-2-3-1-4 1-3 3-3 3-1 4 0 6 4 2 5-2 4-1 1-6 2zM317 310l2 0 1-2 1-6-1-5-1-4-2-1-1 1-1 2-1 6 1 5zM192 216l3-1 2-5 3-11 1-10-2-9-4-5-3-2-3 2-4 5-3 6 0 5 0 6 2 7 4 8zM191 200l-2-8 2-3 1-1 2 3 0 8-2 3zM465 201l2-1 0-1 0-6-2-6-1 0-1 2-1 4 2 6z" style="fill:#b82531;stroke:#b82531;stroke-width:.8" />
<path d="M176 457l7 1 6-3 2-4-2-6-4-2-3-1-4 0-3 2-2 3-1 4 1 4zM180 456l-4-1-2-2 0-4 1-2 3-3 5 0 5 3 1 4 0 2-4 3zM191 201l1 1 2-3 0-8-2-3-1 1-2 4z" style="fill:#930e26;stroke:#930e26;stroke-width:.8" />
<path d="M181 456l5-1 3-4-1-4-2-1-4-2-6 1-2 4 0 4 2 2z" style="fill:#67001f;stroke:#67001f;stroke-width:.8" />
</g></g>
<g id="matplotlib.axis_1">
<g id="xtick_1">
<g id="line2d_1">
<defs>
<path id="mbc3e3207b5" d="M0 0L0 4.6" style="stroke:#000000;stroke-width:1" />
</defs>
<g>
<use href="#mbc3e3207b5" x="33.5" y="241.2" style="stroke:#000000;stroke-width:1" />
</g>
</g>
</g>
<g id="xtick_2">
<g id="line2d_2">
<g>
<use href="#mbc3e3207b5" x="62.3" y="241.2" style="stroke:#000000;stroke-width:1" />
</g>
</g>
</g>
<g id="xtick_3">
<g id="line2d_3">
<g>
<use href="#mbc3e3207b5" x="91" y="241.2" style="stroke:#000000;stroke-width:1" />
</g>
</g>
</g>
<g id="xtick_4">
<g id="line2d_4">
<g>
<use href="#mbc3e3207b5" x="119.8" y="241.2" style="stroke:#000000;stroke-width:1" />
</g>
</g>
</g>
<g id="xtick_5">
<g id="line2d_5">
<g>
<use href="#mbc3e3207b5" x="148.6" y="241.2" style="stroke:#000000;stroke-width:1" />
</g>
</g>
</g>
<g id="xtick_6">
<g id="line2d_6">
<g>
<use href="#mbc3e3207b5" x="177.3" y="241.2" style="stroke:#000000;stroke-width:1" />
</g>
</g>
</g>
<g id="xtick_7">
<g id="line2d_7">
<g>
<use href="#mbc3e3207b5" x="206.1" y="241.2" style="stroke:#000000;stroke-width:1" />
</g>
</g>
</g>
<g id="xtick_8">
<g id="line2d_8">
<g>
<use href="#mbc3e3207b5" x="234.8" y="241.2" style="stroke:#000000;stroke-width:1" />
</g>
</g>
</g>
<g id="xtick_9">
<g id="line2d_9">
<g>
<use href="#mbc3e3207b5" x="263.6" y="241.2" style="stroke:#000000;stroke-width:1" />
</g>
</g>
</g>
</g>
<g id="matplotlib.axis_2">
<g id="ytick_1">
<g id="line2d_10">
<defs>
<path id="m0c8410b8b1" d="M0 0L-4.2 0" style="stroke:#000000;stroke-width:1" />
</defs>
<g>
<use href="#m0c8410b8b1" x="33.5" y="241.2" style="stroke:#000000;stroke-width:1" />
</g>
</g>
<g id="text_1">
<text style="font-size:10.4px;font-family:&quot;Liberation Sans&quot;, sans-serif;text-anchor:end" x="23.8" y="245.2" transform="rotate(0 23.8 245.2)" textLength="6.6" lengthAdjust="spacingAndGlyphs">0</text>
</g>
</g>
<g id="ytick_2">
<g id="line2d_11">
<g>
<use href="#m0c8410b8b1" x="33.5" y="204.1" style="stroke:#000000;stroke-width:1" />
</g>
</g>
<g id="text_2">
<text style="font-size:10.4px;font-family:&quot;Liberation Sans&quot;, sans-serif;text-anchor:end" x="23.8" y="208.1" transform="rotate(0 23.8 208.1)" textLength="6.6" lengthAdjust="spacingAndGlyphs">1</text>
</g>
</g>
<g id="ytick_3">
<g id="line2d_12">
<g>
<use href="#m0c8410b8b1" x="33.5" y="167" style="stroke:#000000;stroke-width:1" />
</g>
</g>
<g id="text_3">
<text style="font-size:10.4px;font-family:&quot;Liberation Sans&quot;, sans-serif;text-anchor:end" x="23.8" y="171" transform="rotate(0 23.8 171)" textLength="6.6" lengthAdjust="spacingAndGlyphs">2</text>
</g>
</g>
<g id="ytick_4">
<g id="line2d_13">
<g>
<use href="#m0c8410b8b1" x="33.5" y="129.9" style="stroke:#000000;stroke-width:1" />
</g>
</g>
<g id="text_4">
<text style="font-size:10.4px;font-family:&quot;Liberation Sans&quot;, sans-serif;text-anchor:end" x="23.8" y="133.9" transform="rotate(0 23.8 133.9)" textLength="6.6" lengthAdjust="spacingAndGlyphs">3</text>
</g>
</g>
<g id="ytick_5">
<g id="line2d_14">
<g>
<use href="#m0c8410b8b1" x="33.5" y="92.8" style="stroke:#000000;stroke-width:1" />
</g>
</g>
<g id="text_5">
<text style="font-size:10.4px;font-family:&quot;Liberation Sans&quot;, sans-serif;text-anchor:end" x="23.8" y="96.8" transform="rotate(0 23.8 96.8)" textLength="6.6" lengthAdjust="spacingAndGlyphs">4</text>
</g>
</g>
<g id="ytick_6">
<g id="line2d_15">
<g>
<use href="#m0c8410b8b1" x="33.5" y="55.7" style="stroke:#000000;stroke-width:1" />
</g>
</g>
<g id="text_6">
<text style="font-size:10.4px;font-family:&quot;Liberation Sans&quot;, sans-serif;text-anchor:end" x="23.8" y="59.7" transform="rotate(0 23.8 59.7)" textLength="6.6" lengthAdjust="spacingAndGlyphs">5</text>
</g>
</g>
<g id="text_7">
<text style="font-size:10.4px;font-family:&quot;Liberation Sans&quot;, sans-serif;text-anchor:middle" x="10.8" y="129.9" transform="rotate(-90 10.8 129.9)" textLength="62.1" lengthAdjust="spacingAndGlyphs">Height [km]</text>
</g>
</g>
<g id="arrows_a"><path d="M33.4 231.5l.8 0M39.7 231.4l1.7 .1M46.9 231.6l1.7 -.1M54.1 231.7l1.7 -.2M61.3 231.6l1.7 0M68.5 231.6l1.7 -.1M75.7 231.4l1.7 .1M82.9 231.6l1.7 -.1M90.1 231.8l1.7 -.3M97.3 231.8l1.7 -.2M104.4 231.7l1.7 -.2M111.6 231.5l1.7 .1M118.8 231.8l1.7 -.2M126 231.8l1.7 -.2M133.2 231.5l1.7 .1M140.4 231.7l1.7 -.1M147.6 231.4l1.7 .1M154.8 231.5l1.7 .1M162 231.5l1.7 0M169.1 231.5l1.7 .1M176.3 231.7l1.7 -.2M183.5 231.8l1.7 -.2M190.7 231.6l1.7 0M198.4 231.5l1.2 .1M205.6 231.4l1.2 .2M212.7 231.4l1.2 .2M219.9 231.6l1.2 -.1M227.1 231.6l1.2 0M234.3 231.4l1.2 .2M241.5 231.5l1.2 0M248.7 231.5l1.2 0M255.9 231.7l1.2 -.2M33.4 222l.8 -.1M39.7 222l1.7 -.1M46.9 222l1.7 -.1M54.1 222.2l1.7 -.3M61.3 222.2l1.7 -.3M68.5 221.9l1.7 0M75.7 221.9l1.7 0M82.9 222.1l1.7 -.2M90 221.8l1.7 .1M97.2 221.9l1.7 0M104.4 221.8l1.7 .1M111.6 221.9l1.7 0M120.6 223.7l-.1 -1.8M127.7 224.5l0 -3M134.7 224.4l.2 -2.7M141.9 219.2l.2 3.2M148.6 219.3l.8 3M156.4 219.8l0 2.1M164 219.3l-.4 3M170.5 224.3l.3 -2.5M178.2 219.2l-.2 3.3M185.6 224.4l-.4 -2.9M192.4 219l0 3.7M199.9 224.3l-.3 -2.6M206.8 219.6l0 2.3M214 220l0 1.9M221.7 219.5l-.6 2.6M228.8 219.9l-.4 2M234.9 220.1l.7 1.8M242.1 219.6l.7 2.6M249.7 219.3l.2 3M257.3 219.8l-.1 2.1M33.6 212.4l.6 -.1M40.2 212.5l1.2 -.3M47.4 212.5l1.2 -.2M54.6 212.6l1.2 -.4M61.8 212.7l1.2 -.4M69 212.6l1.2 -.4M76.1 212.5l1.2 -.2M83.3 212.4l1.2 -.1M90.6 212.8l1.1 -.5M97.7 212.5l1.2 -.2M104.9 212.5l1.2 -.3M112.1 212.3l1.2 -.1M120.1 214.3l.4 -2.1M127.2 210.4l.5 1.9M135.3 209.8l-.4 2.8M141.5 209.4l.7 3.5M149.7 214.6l-.5 -2.6M156.2 209.9l.2 2.4M163 209.4l.9 3.5M170.5 209.5l.5 3.4M178.4 214.5l-.4 -2.4M185.7 214.4l-.4 -2.1M192.5 214.2l-.1 -1.9M200.2 209.9l-.7 2.6M206.7 209.6l.1 3.1M214.5 214.5l-.5 -2.4M221.2 209.6l0 3.1M228.7 213.8l-.3 -1.6M235.4 210.1l.2 2.1M241.8 209.8l1.1 2.9M249.9 215l0 -3.2M257.3 209.9l-.2 2.6M34.3 203.1l-.1 -.4M41 203.4l.4 -.8M48.4 203.5l.2 -.9M56 203.5l-.2 -.9M62.6 203.4l.4 -.8M70.5 203.5l-.3 -.8M77.8 203.4l-.4 -.8M84.3 203.5l.2 -.9M91.3 203.4l.4 -.8M99.4 203.4l-.4 -.8M106.4 203.5l-.2 -.9M113.3 203.5l0 -.9M121 200.3l-.5 2.4M127.6 205.5l.2 -3.5M134.9 200.5l0 2.1M142.1 204.7l0 -2.1M149.4 200.8l-.1 1.8M156.5 200l0 3.1M163.2 205.5l.6 -3.5M171.4 205l-.7 -2.6M178 204.7l.1 -2.1M185.2 205.1l.1 -2.8M192.4 200.6l0 2.1M199.2 204.2l.4 -1.6M206.5 204.1l.3 -1.5M213.4 200.4l.6 2.3M220.8 200.4l.4 2.2M228.8 204.8l-.4 -2.2M235.8 200.1l-.3 2.9M242.6 205.1l.1 -2.8M249.4 204.3l.5 -1.7M257.2 204.6l-.1 -2M34.4 192.4l-.2 .6M42.6 190.4l-1.5 3.2M49.2 191.2l-.6 1.8M56.7 190.9l-1 2.1M63.5 191l-.5 2M71.2 191l-1.1 1.9M78.1 191l-.7 2M85.6 191.1l-1.1 1.9M92 191.1l-.2 1.9M99.3 190.2l-.4 3.4M107 190.5l-1 2.9M114.4 190.3l-1.4 3.3M120.6 195.5l-.1 -2.8M127.8 195.1l-.1 -2.1M134.3 195.5l.6 -2.8M142.1 194.9l-.1 -2M149.7 195.7l-.5 -3.3M156.3 190.6l.2 2.5M163.4 190.3l.3 3.2M170.2 195.9l.8 -3.7M178.4 195l-.4 -2.1M184.8 195.9l.5 -3.6M192.7 195.4l-.3 -2.6M200 190.3l-.5 3.2M206.7 195.1l0 -2.1M214.1 195.2l-.1 -2.3M221.5 194.6l-.4 -1.7M228.3 195.2l.1 -2.3M234.9 191.2l.7 1.8M242.4 191.4l.3 1.6M249.6 195.5l.4 -3M257.4 190.8l-.2 2.2M34.4 183l-.2 .4M41.8 181.8l-.4 1.5M49.4 181.6l-.8 1.8M56.9 181.1l-1.3 2.5M64.1 181.3l-1.1 2.1M70.5 181.8l-.4 1.6M78.2 180.8l-1 3M85 181.3l-.5 2.1M92.4 181.8l-.6 1.5M99.2 180.5l-.4 3.5M106.9 182l-.8 1.3M114.2 180.8l-1 2.9M120.4 180.6l.2 3.2M127.9 185.2l-.2 -1.9M134.9 185.1l0 -1.8M142.1 181.4l-.1 1.9M149.5 180.8l-.3 2.8M156.3 186.3l.2 -3.8M164.3 180.6l-.8 3.3M171 185.8l-.2 -2.8M177.9 185.2l.1 -1.9M185.4 185.7l-.2 -2.5M192 181.1l.4 2.3M199.3 181.7l.3 1.6M206 185.6l.8 -2.5M214 185.3l0 -2M222 185.4l-.8 -2.1M227.7 181.4l.7 1.9M235.1 184.9l.5 -1.6M241.9 181l1 2.7M250.2 180.6l-.3 3.2M257.2 180.7l-.1 3M34.5 173.1l-.2 .6M42.5 171.5l-1.2 2.3M49.2 171.1l-.8 3.1M56.5 172.2l-.7 1.5M63.6 171.8l-.6 1.8M70.9 172l-.7 1.7M78.4 171.6l-1.1 2.2M85.4 171.2l-1 2.9M92.3 171.6l-.6 2M99.2 172l-.2 1.7M106.6 172.1l-.5 1.6M114.6 171l-1.6 3.3M120.7 171.1l-.2 3M127.6 175.5l.1 -1.9M135 170.8l-.1 3.7M141.9 175.7l.2 -2M149.8 175.8l-.5 -2.1M156.4 171.8l0 1.9M163.9 175.6l-.3 -1.9M170.3 175.9l.6 -2.2M177.6 170.9l.6 3.4M185.2 171.2l0 2.8M192.5 176l-.1 -2.4M199.7 175.3l-.1 -1.6M206.3 175.9l.5 -2.2M214.3 171.3l-.3 2.5M220.7 175.2l.5 -1.6M229.2 176.2l-1 -2.9M235.8 171.5l-.3 2.2M243.4 171.3l-.7 2.6M250.1 172.2l-.1 1.5M257 171l.2 3.2M34.3 163.4l-.1 .6M41.7 161.5l-.3 2.9M49.4 161.8l-.8 2.4M56.9 162l-1.2 2.1M63.4 162.6l-.5 1.4M71.1 162.2l-.9 1.8M77.9 162.1l-.5 2M85.3 161.9l-.8 2.2M93 161.7l-1.5 2.7M99.6 161.3l-.8 3.4M106.6 162l-.5 2.1M114 161.2l-.9 3.5M120.7 161.5l-.2 3M127.3 166.3l.4 -2.3M135 165.8l-.2 -1.8M142.3 161.5l-.3 2.8M149.8 166.9l-.7 -3.6M156.5 161.9l-.1 2.1M163.5 166.2l.1 -2.2M170.8 162.1l0 1.9M178 161.1l0 3.7M185.4 166.4l-.2 -2.6M192.1 161.3l.4 3.3M199.7 162.5l-.1 1.5M207 165.8l-.2 -1.7M214 165.7l0 -1.6M220.7 166.1l.5 -2.1M228.3 161.6l.1 2.8M235.3 161.9l.2 2.2M242.6 161.4l.2 3.1M250.8 161.6l-.9 2.7M256.3 161.5l1 3.1M34.4 153.9l-.2 .5M42.1 152.3l-.7 2.1M49 152.2l-.4 2.1M56.3 152.7l-.5 1.7M63.2 152.7l-.2 1.7M70.4 152.3l-.2 2.1M78.4 152.1l-1.2 2.5M85.7 151.7l-1.4 3.3M92.2 152l-.5 2.7M99.6 152.9l-.7 1.5M106.9 152.4l-.8 2M114.1 152.6l-.8 1.8M120.4 152.2l.1 2.2M128.1 152l-.5 2.7M135 156.4l-.1 -2M141.6 156.9l.6 -2.9M149.2 156.6l.1 -2.3M156.9 152.4l-.5 2M164.3 151.7l-.8 3.2M170.8 156.2l0 -1.9M178.4 152.2l-.3 2.3M185.3 156.4l-.1 -2M192.2 156.8l.2 -2.6M200.4 152l-.9 2.7M207.5 152.3l-.7 2.1M213.4 156.6l.5 -2.2M221.8 152.2l-.7 2.2M228.9 156.3l-.5 -1.9M235.6 156.3l0 -2M242.7 151.7l.1 3.2M249.7 152.5l.2 1.9M257.2 152.8l0 1.6M34.4 144.3l-.1 .4M42.3 142.3l-1 2.8M48.9 143.1l-.3 1.6M56.7 142.7l-1 2M63.4 143.2l-.5 1.5M70.5 142.8l-.3 1.9M78.2 143.2l-.9 1.5M85.5 142l-1.2 3.3M92.5 142.1l-.9 3.2M99.3 141.9l-.4 3.4M106.8 143.2l-.6 1.5M113.5 143l-.2 1.8M120.8 147.3l-.4 -3M127.3 142.9l.4 1.8M134.7 147.7l.3 -3.6M141.9 142l.3 3.3M149.3 142.7l0 2M156.8 142.2l-.4 3M163.5 147.5l.2 -3.3M170.8 147.5l.1 -3.3M178.5 141.9l-.6 3.4M185 141.8l.3 3.6M192.5 142.6l-.1 2.1M199.4 142.7l.2 2M207.5 146.8l-.7 -2M213.5 143.2l.5 1.5M221.8 146.9l-.7 -2.2M227.6 147.1l.8 -2.6M235.3 142.9l.2 1.9M242.8 146.3l0 -1.5M250 146.4l0 -1.6M257.5 146.3l-.4 -1.6M34.4 134.6l-.1 .5M42.5 132.5l-1.3 3.1M48.9 133.3l-.3 1.8M56 133.6l-.2 1.5M64 133.3l-1 1.8M71 133.5l-.9 1.6M78.7 132.7l-1.6 2.9M85 133.6l-.4 1.5M92.4 133.4l-.7 1.7M99.8 132.6l-1 3M107.1 132.7l-1.2 2.8M114.1 133.6l-.8 1.5M118.8 137.9l2.3 -3.8M128.6 132.8l-1 2.5M135.8 132.4l-1.2 3.3M143.1 132.1l-1.4 3.9M147.8 132.9l1.7 2.6M155.7 132.1l1 3.9M162.9 132.1l1 3.9M170 132.5l1 3.1M176.3 132.2l2.3 4M184.4 132.9l.9 2.3M191.6 131.9l1.1 4.2M199.5 137.4l.1 -2.4M207.4 133.4l-.6 1.7M213.8 132.5l.2 2.9M221.4 137.3l-.2 -2.2M228.6 133.1l-.2 2M236.2 132.6l-.7 2.9M243.4 137.8l-.8 -3.2M250.5 132.8l-.6 2.5M257.8 137.5l-.8 -2.8M34.3 124.9l-.1 .5M41.7 122.7l-.3 3.2M48.9 124l-.3 1.5M56.8 123.1l-1.1 2.7M63.6 123.9l-.6 1.6M70.7 123l-.6 2.7M78.5 122.8l-1.4 3.3M85.8 123.3l-1.4 2.4M92.7 122.7l-1.2 3.5M99.6 123.8l-.7 1.6M107.2 122.8l-1.3 3.2M114 123.5l-.7 1.9M119.9 128.9l.9 -4.7M129.3 122.8l-2.1 3.5M136.4 122.4l-2 4.1M143.3 122.9l-1.6 3.2M148.6 122l.9 4.6M155.5 122.7l1.2 3.5M163 122.4l.8 4M169.7 123.3l1.3 2.4M177.2 123.4l.9 2.1M184.4 123.3l.8 2.2M191.8 122.4l.7 4M199.5 127.3l.1 -1.9M207 127.2l-.2 -1.8M213.4 123.5l.6 1.9M221.2 127.4l0 -1.9M228.7 127.1l-.3 -1.7M235.7 127.5l-.1 -2.1M242.7 123.9l.1 1.5M250.1 123.3l-.1 2.2M257.3 123.3l-.1 2.1M34.3 115.3l-.1 .5M41.6 113.8l-.2 2M49.4 113.7l-.8 2.2M56.6 113.8l-.8 2M64.1 113.5l-1.2 2.5M70.4 114.1l-.2 1.7M77.7 114l-.3 1.8M85 114.2l-.4 1.6M92.3 114.3l-.6 1.5M99.4 113.9l-.5 1.9M106.7 114.4l-.6 1.4M113.8 113.2l-.6 3M121.6 112.8l-1.5 4M128.9 113.3l-1.5 3M136.3 113.4l-1.7 2.8M142.7 113.5l-.7 2.5M147.9 112.8l1.9 4M154.9 113.2l1.9 3.3M162.5 112.6l1.5 4.3M172.5 118.4l-2.1 -3.3M176.6 113.5l1.7 2.7M186.2 118.6l-1.3 -3.4M191.6 113.7l.9 2.2M199.6 118.4l0 -3M206.5 117.3l.3 -1.5M214.9 118.4l-1.1 -3.1M220.9 117.6l.2 -1.8M229.2 118.1l-.9 -2.5M235.1 118.2l.5 -2.7M242.2 113.9l.5 1.9M249.9 113.3l0 2.8M256.5 118.1l.6 -2.5M34.3 105.8l-.1 .4M42.4 103.7l-1.2 2.9M48.8 103.6l-.3 3M56.3 104.7l-.6 1.5M64 103.8l-1.1 2.8M70.4 104.2l-.2 2M77.8 104.2l-.4 2M85.3 104.3l-.8 1.9M92.3 104.1l-.6 2M99.2 103.6l-.3 2.9M106.9 103.6l-.9 3M113.7 104.5l-.4 1.6M121.5 103.3l-1.2 3.5M127 108.9l.9 -3.4M135.7 103.9l-.8 2.4M143 103.5l-1.2 3.3M148.4 103.5l1.1 3.3M155.4 103.4l1.4 3.4M162.6 103.4l1.4 3.5M170.2 103.5l.8 3.3M176.7 103.7l1.6 2.9M183.7 103.6l1.9 3.3M190.8 103.5l2.1 3.5M199.7 104.2l-.1 1.9M206.9 103.9l-.1 2.3M214.5 108.2l-.5 -2.1M221.7 107.8l-.5 -1.6M228.1 108.2l.3 -2M235.1 108.6l.5 -2.7M243 107.9l-.3 -1.8M250.1 108.3l-.2 -2.1M256.7 108.8l.4 -3.1M34.6 95.8l-.3 .7M42.2 94l-.9 2.8M49.3 94.7l-.7 1.9M57.2 93.9l-1.7 3.3M63.7 94.2l-.7 2.5M71.4 93.9l-1.5 3.3M77.6 95l-.2 1.5M85.2 94.6l-.7 1.9M92.4 95l-.7 1.5M99.3 94.7l-.4 1.8M106.9 95l-.7 1.5M114 94.5l-.7 2M120.9 94.2l-.4 2.4M128.6 93.4l-1.3 4.1M135.6 93.5l-.9 3.9M143 93.3l-1.2 4.3M147.6 93.5l2.2 4M155.8 93.7l.8 3.5M162.9 93.6l1 3.8M170.1 93.9l.8 3M177 93.7l1.4 3.5M183.8 93.6l1.8 3.8M192 94.2l.5 2.5M199 98l.6 -1.5M206.4 98.3l.4 -1.8M214.5 99l-.6 -2.8M221.2 98.2l-.1 -1.7M228.5 95l-.1 1.5M235.9 94.3l-.3 2.2M242.7 94l0 2.8M250.1 99.1l-.2 -3M256.6 94.4l.6 2.1M34.3 86.4l-.1 .5M41.9 84l-.6 3.5M49.1 84.2l-.6 3.2M56.4 84.3l-.7 3.1M63.3 84.3l-.4 3M70.4 84.5l-.2 2.5M78.1 85.2l-.7 1.7M85.3 85.4l-.8 1.4M93.1 84.4l-1.7 3.1M100 84.2l-1.3 3.3M106.9 84.9l-.8 1.9M113.7 84.9l-.4 2M121.9 84.7l-1.6 2.5M129.5 84.1l-2.4 3.6M136 84.4l-1.3 2.8M142.9 83.6l-1.1 4.3M148 84.2l1.6 3.4M155.2 84.8l1.4 2.3M164.5 89.1l-.9 -2.3M170 83.9l1.1 3.9M177.1 84.4l1.1 2.8M183.8 84.5l1.7 2.9M191.1 84.4l1.5 3M199.6 84.7l0 2.1M207.3 88.4l-.5 -1.5M214.2 88.6l-.2 -1.7M221.1 85.3l.1 1.6M228.4 89.4l-.1 -2.9M235.1 84.6l.4 2.3M242.6 84.8l.1 2.1M250.6 84.9l-.6 2M257.5 89l-.4 -2.1M34.4 76.7l-.2 .5M42.7 74.9l-1.5 2.8M48.8 75.4l-.2 1.8M56.8 75.4l-1 1.8M63.9 75.6l-.9 1.6M71.3 74.5l-1.4 3.4M78.2 75.7l-.8 1.6M85.3 74.6l-.9 3.1M92.7 74.5l-1.2 3.3M99.6 75.2l-.6 2M106.8 74.9l-.8 2.6M113.8 75.4l-.5 1.8M121.7 74l-1.6 4.4M127.3 79.5l.4 -2.4M135.9 75.2l-1 2.1M142.6 74.6l-.7 3.1M148.2 74.8l1.3 2.9M155 74.2l2 4M162.4 74.5l1.6 3.5M169.9 74l1.3 4.3M176.7 74.9l1.5 2.7M184.1 74.7l1.3 3M190.9 74.4l2 3.7M198.9 79.4l.7 -2.3M206.4 79l.4 -1.8M214.4 78.8l-.4 -1.6M221.2 80l0 -3.3M228.2 78.9l.2 -1.6M236.2 79.5l-.7 -2.4M242.7 74.6l0 3.1M250.3 75.6l-.3 1.6M256.9 79.6l.2 -2.6M34.5 67l-.3 .6M42.4 64.8l-1.3 3.6M49 65.5l-.4 2.1M56.1 64.9l-.3 3.2M63.3 64.7l-.4 3.6M70.6 65.8l-.4 1.8M77.8 65l-.5 3M85.1 65.7l-.5 1.9M92.5 65.1l-.8 2.8M99.3 65.6l-.3 1.9M107.3 65.4l-1.3 2.5M114.2 65.7l-.9 1.9M121.7 64.5l-1.6 4.1M128.7 64.8l-1.2 3.5M135.5 64.8l-.7 3.3M143.3 65.5l-1.3 2.2M148.6 64.5l.8 3.9M155.2 64.7l1.6 3.8M162.6 65.5l1.1 2.2M169.8 65.4l1.2 2.4M177.5 65.3l.6 2.4M184.2 65l1.2 3.1M191.9 65.1l.6 2.9M200.1 69.4l-.5 -1.8M207.5 64.9l-.9 3.1M214.5 70.1l-.5 -2.9M221.7 65.8l-.5 1.8M229.1 69.7l-.7 -2.2M235.5 69.8l.1 -2.3M242.2 65.7l.6 1.8M249.4 65.9l.6 1.7M257.8 65.3l-.7 2.5M34.4 57.5l-.2 .4M41.9 55.9l-.5 2.1M49.6 55.4l-1.2 3M56.4 56.5l-.7 1.4M63.6 56.3l-.6 1.6M70.5 56.4l-.3 1.5M77.8 55.6l-.5 2.5M84.9 55.1l-.5 3.5M92.6 56.2l-.9 1.7M99.2 55.9l-.3 2M106.8 55.2l-.9 3.3M113.9 56l-.5 2M119.2 60.1l1.5 -2.5M128.2 55.7l-.5 2.3M135.6 55.3l-.8 3.2M142.8 55.6l-.8 2.5M150.9 60.5l-2.1 -3.2M157.3 61.2l-1.2 -4.5M162.4 55.6l1.5 2.7M169.8 55.9l1.1 2.1M176.5 55.1l2 3.7M183.9 55.6l1.6 2.7M191.9 55.1l.7 3.5M199.1 60.2l.5 -2.3M207.3 55.7l-.5 2.2M213.2 55.8l.8 2.2M221.1 60.4l0 -2.8M227.6 60.4l.9 -2.8M235.1 59.9l.5 -1.9M243.2 59.7l-.4 -1.7M249.9 56.3l0 1.6M256.7 55.6l.4 2.4M34.5 47.8l-.3 .5M41.8 45.4l-.6 3.7M50.1 45.7l-1.9 3.3M56 46.1l-.2 2.2M63.3 46.2l-.3 2M71.1 46.1l-1 2.3M78.1 45.5l-.9 3.5M84.9 45.5l-.4 3.3M92.3 46.5l-.5 1.8M99.7 46.5l-.8 1.8M107.3 46l-1.4 2.6M114.1 45.7l-.9 3M121.3 45.8l-1 2.9M128.3 45l-.8 4.4M135.6 45l-1 4.4M143.6 45.8l-1.8 3.1M148.4 45.9l.9 2.7M155.7 45.6l.9 3.3M161.9 45.3l2.4 4M171.8 51.1l-1.2 -3.5M177.4 46.1l.7 2.3M184.1 45.8l1.4 3M190.9 45.6l2 3.4M200.5 45.9l-1.1 2.7M207.3 46.5l-.5 1.8M214 50l0 -1.8M221.7 50.6l-.6 -2.6M228.7 50.1l-.3 -1.8M235.4 50l.2 -1.7M243.2 50l-.5 -1.7M250.1 46.3l-.1 2M257.8 50.5l-.7 -2.3M34.4 38.2l-.2 .4M41.9 36.6l-.5 2.1M49.4 37.2l-.8 1.4M56.3 36.9l-.5 1.7M63.2 36.5l-.2 2.1M70.5 36.4l-.3 2.3M78.2 37.1l-.9 1.5M85.4 36l-1.1 3.2M92.2 37l-.4 1.6M99.9 36.5l-1 2.3M106.6 35.8l-.6 3.4M114.2 36.6l-.9 2M121.1 36.1l-.7 3M129.2 36.1l-1.9 3.3M135.6 35.2l-1 4.6M143 36.2l-1 2.8M148.6 35.5l.9 4.1M155.6 35.3l1.2 4.6M165.1 41.1l-1.8 -3M170.1 36.5l.7 2.2M177.4 36.2l.7 2.8M184.2 36.6l1.1 2.1M191 36.2l1.7 2.9M200 40.7l-.4 -2.1M206.2 36.5l.6 2.2M214.2 37.1l-.2 1.5M220.3 36.4l1 2.4M228.7 40.3l-.4 -1.7M235.4 36.3l.2 2.6M242.5 37.1l.3 1.6M249.7 36.4l.2 2.4M257.6 36.8l-.5 1.9M34.4 28.3l-.2 .6M42.4 26.6l-1.1 2.7M48.9 26.2l-.3 3.4M56.8 26.7l-1.2 2.6M63.3 27.1l-.3 1.8M70.4 27.1l-.2 1.9M78 27l-.6 2M85.2 27.4l-.6 1.6M92.3 27.2l-.6 1.8M99.4 26.1l-.6 3.5M106.4 27l-.3 1.9M113.8 26.8l-.5 2.1M121.8 26.8l-1.5 2.6M128.8 25.8l-1.5 4.4M135.7 26.8l-.8 2.3M143 26.2l-1.1 3.5M148.7 26.5l.7 2.9M155.2 27l1.4 2.1M161.9 26.1l2.3 3.9M170.2 26.1l.8 3.5M176.9 25.7l1.5 4.4M184 26.3l1.6 3.4M191.7 25.8l1 4.2M199.8 26.9l-.1 2.1M206.8 26.4l0 2.9M213.8 26.3l.2 3.2M221.2 26.6l0 2.7M228.3 31.2l.1 -2.2M235.8 31.2l-.2 -2.2M242.2 31.5l.6 -2.9M250.3 31.5l-.4 -2.8M257.8 26.8l-.8 2.3M34.3 18.9l0 .4M42.4 16.9l-1.2 2.9M49.2 17.3l-.6 2M56.5 17.6l-.7 1.8M63.7 17.7l-.8 1.7M70.4 17.6l-.3 1.7M77.6 16.7l-.3 3.1M85.6 17.1l-1.2 2.4M92 17.1l-.3 2.3M99.3 17l-.4 2.6M107 17.7l-.8 1.7M114.2 16.5l-1.1 3.5M121.7 16.2l-1.6 4.2M128.9 16.5l-1.6 3.7M135.5 16.2l-.7 4.2M142.9 16.4l-1 3.8M150.5 21.3l-1.2 -2M157.5 21.5l-1.1 -2.2M161.9 16.7l2.3 3.5M170.1 17l.8 2.5M176.9 16.5l1.4 3.5M184.5 17l.8 2.6M191.1 17l1.5 2.7M200.1 17.6l-.5 1.8M206.8 21l0 -1.7M213.6 21.4l.3 -2.1M220.6 21.6l.6 -2.4M229.2 17.2l-.9 2.2M235.1 21.8l.5 -2.7M242.6 17l.1 2.5M250 17.2l0 2.1M257.2 17.5l0 1.8" style="fill:none;stroke:#000;stroke-width:.55" /><path d="M35.1 231.6L34.2 232.4 34.3 230.8zM43.1 231.7L41.3 232.4 41.5 230.8zM50.3 231.5L48.6 232.4 48.6 230.8zM57.5 231.4L55.9 232.3 55.7 230.8zM64.7 231.5L63 232.4 63 230.8zM71.9 231.5L70.2 232.4 70.1 230.8zM79.1 231.7L77.3 232.4 77.4 230.8zM86.3 231.5L84.6 232.4 84.5 230.8zM93.4 231.3L91.9 232.3 91.6 230.8zM100.6 231.3L99 232.3 98.8 230.8zM107.8 231.4L106.2 232.3 106 230.8zM115 231.7L113.3 232.4 113.4 230.8zM122.2 231.3L120.6 232.3 120.4 230.8zM129.4 231.3L127.8 232.3 127.6 230.8zM136.6 231.6L134.9 232.4 134.9 230.8zM143.8 231.4L142.1 232.4 142 230.8zM151 231.7L149.2 232.4 149.3 230.8zM158.2 231.7L156.4 232.4 156.5 230.8zM165.4 231.6L163.6 232.4 163.7 230.8zM172.5 231.6L170.8 232.4 170.9 230.8zM179.7 231.4L178.1 232.3 177.9 230.8zM186.9 231.3L185.3 232.3 185.1 230.8zM194.1 231.5L192.4 232.4 192.4 230.8zM200.9 231.6L199.6 232.4 199.7 230.8zM208 231.7L206.7 232.3 206.9 230.8zM215.2 231.7L213.9 232.3 214.1 230.8zM222.4 231.5L221.2 232.4 221.1 230.8zM229.6 231.5L228.4 232.4 228.3 230.8zM236.8 231.7L235.4 232.3 235.7 230.8zM244 231.6L242.7 232.4 242.8 230.8zM251.2 231.6L249.9 232.4 250 230.8zM258.4 231.4L257.2 232.3 257 230.8zM35.1 221.8L34.3 222.7 34.1 221.1zM43.1 221.8L41.5 222.7 41.4 221.1zM50.3 221.8L48.6 222.7 48.6 221.1zM57.5 221.6L55.9 222.7 55.7 221.1zM64.7 221.6L63.1 222.7 62.8 221.1zM71.9 221.9L70.2 222.7 70.2 221.1zM79.1 221.9L77.3 222.7 77.4 221.1zM86.2 221.7L84.7 222.7 84.5 221.1zM93.4 222L91.7 222.7 91.8 221.1zM100.6 221.9L98.9 222.7 98.9 221.1zM107.8 222L106.1 222.7 106.2 221.1zM115 221.9L113.3 222.7 113.3 221.1zM120.4 220.1L121.3 221.9 119.7 222zM127.7 219.3L128.5 221.5 126.9 221.5zM135.1 219.5L135.7 221.7 134.1 221.6zM142.3 224.6L141.3 222.4 142.9 222.3zM150 224.5L148.6 222.6 150.2 222.2zM156.5 224.1L155.7 221.9 157.3 221.9zM163.3 224.5L162.8 222.2 164.4 222.4zM171.2 219.6L171.7 221.8 170.1 221.6zM177.8 224.7L177.2 222.4 178.8 222.5zM184.9 219.4L186 221.4 184.4 221.7zM192.4 224.9L191.6 222.7 193.2 222.6zM199.4 219.5L200.4 221.6 198.8 221.8zM206.8 224.2L206 222 207.6 222zM213.9 223.8L213.2 221.9 214.8 221.9zM220.6 224.3L220.3 222 221.9 222.3zM227.9 223.9L227.6 221.7 229.1 222.1zM236.2 223.7L234.8 222.2 236.3 221.6zM243.4 224.2L242 222.3 243.6 221.9zM250.1 224.5L249.2 222.4 250.8 222.2zM257 224L256.3 221.9 257.9 222zM34.8 212.2L34.4 213 34.1 211.5zM42.6 212L41.6 213 41.2 211.5zM49.8 212.1L48.7 213.1 48.5 211.5zM57 211.9L56 213 55.6 211.5zM64.2 211.8L63.3 213 62.7 211.5zM71.4 211.9L70.4 213 69.9 211.5zM78.6 212.1L77.5 213.1 77.2 211.5zM85.8 212.1L84.6 213.1 84.5 211.5zM92.9 211.7L92.1 213 91.4 211.5zM100.2 212.1L99.1 213.1 98.8 211.5zM107.3 212L106.3 213 105.9 211.5zM114.6 212.2L113.4 213.1 113.3 211.5zM120.9 210.2L121.3 212.4 119.7 212.1zM128.2 214.1L126.9 212.5 128.5 212.1zM134.5 214.8L134 212.5 135.6 212.7zM142.7 215.1L141.4 213.1 143 212.8zM148.8 209.9L150 211.9 148.4 212.2zM156.7 214.6L155.7 212.5 157.3 212.3zM164.3 215.1L163 213.1 164.6 212.8zM171.2 215L170.1 213 171.7 212.7zM177.6 210L178.8 212 177.2 212.3zM184.8 210.2L186 212.1 184.4 212.4zM192.3 210.4L193.2 212.2 191.6 212.3zM199 214.6L198.8 212.3 200.3 212.7zM206.9 214.9L206 212.8 207.6 212.7zM213.5 210L214.7 212 213.2 212.3zM221.2 214.9L220.4 212.7 222 212.7zM228.1 210.7L229.2 212.1 227.6 212.4zM235.7 214.4L234.8 212.3 236.4 212.2zM243.7 214.7L242.2 213 243.7 212.4zM250 209.6L250.7 211.8 249.1 211.7zM256.9 214.7L256.3 212.4 257.9 212.5zM34.1 202.2L35 202.5 33.4 202.7zM41.8 201.8L42.1 203 40.7 202.3zM48.8 201.8L49.4 202.8 47.8 202.4zM55.6 201.7L56.6 202.4 55 202.8zM63.4 201.8L63.7 203 62.3 202.3zM69.9 201.8L70.9 202.3 69.4 202.9zM76.9 201.8L78.1 202.2 76.7 203zM84.8 201.7L85.3 202.8 83.8 202.4zM92.1 201.8L92.5 203 91 202.3zM98.5 201.8L99.6 202.2 98.2 203zM105.9 201.8L106.9 202.4 105.4 202.8zM113.4 201.7L114.1 202.7 112.5 202.6zM120 204.9L119.7 202.6 121.3 202.9zM127.8 199.8L128.5 202 126.9 201.9zM134.9 204.8L134.1 202.6 135.7 202.6zM142.1 200.6L142.9 202.6 141.3 202.6zM149.1 204.4L148.5 202.6 150.1 202.7zM156.4 205.3L155.7 203 157.3 203.1zM164.1 199.8L164.6 202.1 163 201.8zM170.2 200.2L171.6 202.2 170 202.6zM178.1 200.5L178.8 202.6 177.2 202.6zM185.3 200.1L186 202.3 184.4 202.3zM192.4 204.7L191.6 202.6 193.2 202.6zM200 201L200.4 202.8 198.8 202.4zM207.1 201.1L207.6 202.8 206 202.5zM214.6 204.8L213.2 202.9 214.8 202.5zM221.6 204.8L220.4 202.8 222 202.5zM227.9 200.4L229.1 202.4 227.6 202.7zM235.3 205.2L234.7 202.9 236.3 203.1zM242.9 200.1L243.6 202.3 242 202.3zM250.4 200.9L250.7 202.8 249.2 202.4zM257.1 200.6L257.9 202.6 256.3 202.6zM34 193.5L33.5 192.7 35 193.3zM40.2 195.6L40.4 193.2 41.9 193.9zM48 194.7L47.8 192.7 49.4 193.2zM54.8 195L55.1 192.7 56.5 193.3zM62.5 195L62.2 192.8 63.8 193.2zM69.1 194.9L69.5 192.6 70.9 193.4zM76.7 195L76.6 192.7 78.1 193.2zM83.5 194.9L83.9 192.6 85.3 193.4zM91.5 194.9L90.9 192.9 92.5 193.1zM98.6 195.8L98.1 193.5 99.7 193.7zM105.3 195.5L105.2 193.1 106.7 193.6zM112.2 195.7L112.3 193.3 113.8 193.9zM120.4 190.5L121.3 192.6 119.7 192.7zM127.6 190.9L128.5 192.9 126.9 193zM135.5 190.5L135.7 192.8 134.2 192.4zM142 191L142.9 192.9 141.3 193zM148.9 190.2L150 192.3 148.4 192.5zM156.7 195.3L155.7 193.2 157.3 193.1zM163.9 195.7L162.9 193.6 164.5 193.4zM171.4 190.1L171.8 192.4 170.2 192zM177.6 190.9L178.8 192.8 177.2 193.1zM185.6 190.1L186.1 192.4 184.5 192.1zM192.1 190.6L193.2 192.7 191.6 192.8zM199.2 195.7L198.7 193.4 200.3 193.6zM206.8 190.8L207.6 193 206 193zM213.9 190.7L214.8 192.9 213.2 193zM220.8 191.3L222 192.8 220.4 193.1zM228.5 190.7L229.2 192.9 227.6 192.9zM236.2 194.7L234.8 193.3 236.3 192.7zM243.1 194.5L242 193.1 243.5 192.8zM250.3 190.4L250.8 192.7 249.2 192.5zM256.9 195.1L256.3 192.9 257.9 193.1zM34 183.7L33.5 183 34.9 183.7zM41 184.8L40.6 183.1 42.2 183.5zM47.8 185.1L47.9 183 49.3 183.6zM54.7 185.5L54.9 183.2 56.4 184zM61.9 185.4L62.2 183 63.6 183.8zM69.8 184.9L69.4 183.1 71 183.5zM76.5 185.9L76.4 183.5 78 184zM84.1 185.4L83.8 183.2 85.3 183.5zM91.1 184.8L91 183 92.5 183.6zM98.6 186.2L98.1 183.9 99.7 184.1zM105.3 184.7L105.4 182.9 106.8 183.7zM112.5 185.8L112.4 183.5 113.9 184zM120.6 186L119.7 183.9 121.3 183.8zM127.5 181.4L128.5 183.2 126.9 183.4zM134.9 181.6L135.7 183.3 134.1 183.3zM142 185.2L141.3 183.3 142.9 183.4zM149 185.8L148.4 183.6 150 183.7zM156.6 180.3L157.3 182.6 155.7 182.5zM163 186L162.7 183.7 164.3 184.1zM170.7 180.8L171.6 183 170 183.1zM178.1 181.5L178.8 183.4 177.2 183.3zM185.1 181L186 183.1 184.4 183.2zM192.8 185.6L191.6 183.6 193.2 183.2zM199.9 185L198.8 183.5 200.4 183.2zM207.6 181L207.6 183.3 206.1 182.8zM214 181.4L214.8 183.3 213.2 183.3zM220.4 181.2L221.9 183 220.4 183.6zM229.1 185.2L227.6 183.6 229.1 183zM236 181.8L236.3 183.6 234.8 183.1zM243.6 185.7L242.1 183.9 243.6 183.4zM249.7 186L249.1 183.8 250.7 183.9zM257.1 185.9L256.3 183.7 257.9 183.8zM34 174.2L33.5 173.4 35 174zM40.3 175.8L40.6 173.5 42 174.2zM48 176.3L47.7 174 49.3 174.3zM55.1 175.2L55.1 173.3 56.5 174zM62.4 175.5L62.2 173.4 63.7 173.9zM69.5 175.4L69.4 173.4 70.9 174zM76.3 175.8L76.6 173.4 78 174.1zM83.7 176.2L83.7 173.8 85.2 174.3zM91.2 175.7L91 173.5 92.5 173.9zM98.7 175.4L98.1 173.6 99.7 173.8zM105.7 175.3L105.4 173.5 106.9 173.9zM112 176.3L112.3 174 113.7 174.7zM120.3 176.3L119.7 174 121.3 174.2zM127.8 171.8L128.5 173.7 126.9 173.6zM134.8 176.6L134.1 174.4 135.7 174.4zM142.2 171.7L142.9 173.7 141.3 173.6zM148.7 171.6L150 173.5 148.5 173.9zM156.5 175.6L155.7 173.7 157.3 173.7zM163.4 171.7L164.4 173.6 162.9 173.8zM171.4 171.5L171.6 173.8 170.1 173.4zM178.5 176.5L177.4 174.4 178.9 174.2zM185.2 176.2L184.4 174 186 174zM192.3 171.4L193.2 173.5 191.6 173.6zM199.5 172.1L200.4 173.6 198.8 173.7zM207.3 171.5L207.6 173.8 206 173.5zM213.7 176L213.2 173.7 214.8 173.9zM221.6 172.1L221.9 173.9 220.4 173.4zM227.5 171.2L229 173 227.5 173.5zM235.3 175.9L234.8 173.6 236.3 173.8zM242.1 176L241.9 173.7 243.5 174.1zM249.8 175.2L249.1 173.6 250.7 173.7zM257.3 176.4L256.4 174.2 258 174.1zM34.1 164.7L33.4 163.9 35 164.2zM41.1 166.6L40.6 164.3 42.2 164.4zM47.8 166.3L47.8 163.9 49.3 164.5zM54.6 166L55 163.7 56.4 164.5zM62.5 165.5L62.2 163.8 63.7 164.3zM69.2 165.9L69.5 163.7 70.9 164.4zM76.9 166L76.6 163.8 78.1 164.2zM83.8 166.2L83.8 163.8 85.3 164.4zM90.5 166.4L90.8 164 92.2 164.8zM98.3 166.8L98 164.5 99.6 164.8zM105.7 166.1L105.3 163.9 106.9 164.2zM112.6 166.9L112.4 164.5 113.9 164.9zM120.3 166.6L119.7 164.4 121.3 164.5zM128.1 161.8L128.5 164.1 126.9 163.8zM134.7 162.3L135.7 164 134.1 164.1zM141.8 166.5L141.3 164.3 142.8 164.4zM148.7 161.2L149.9 163.2 148.3 163.5zM156.4 166.2L155.7 164 157.3 164.1zM163.8 161.8L164.4 164.1 162.9 164zM170.8 166L170 164 171.6 164zM178 167L177.2 164.8 178.8 164.8zM185.1 161.6L186 163.8 184.4 163.9zM192.7 166.8L191.7 164.7 193.3 164.5zM199.5 165.6L198.8 164 200.4 164.1zM206.6 162.3L207.6 163.9 206 164.1zM214 162.4L214.8 164 213.2 164zM221.6 161.9L222 164.2 220.4 163.9zM228.4 166.5L227.6 164.3 229.2 164.3zM235.8 166.2L234.8 164.1 236.4 164zM242.9 166.7L242 164.5 243.6 164.4zM249.1 166.4L249.1 164.1 250.6 164.6zM258 166.6L256.5 164.8 258 164.3zM34.1 154.8L33.5 154.1 35 154.6zM40.7 156.5L40.6 154.2 42.2 154.6zM48.2 156.5L47.8 154.2 49.4 154.5zM55.3 156.1L55 154.1 56.6 154.6zM62.7 156.1L62.2 154.3 63.8 154.5zM70 156.5L69.4 154.3 71 154.5zM76.3 156.6L76.5 154.3 78 155zM83.4 157.1L83.6 154.7 85 155.3zM91.3 156.8L90.9 154.5 92.5 154.8zM98.2 155.9L98.2 154 99.7 154.7zM105.4 156.4L105.4 154.1 106.9 154.7zM112.5 156.2L112.6 154.1 114.1 154.7zM120.6 156.6L119.7 154.4 121.3 154.3zM127.3 156.8L126.9 154.5 128.4 154.8zM134.8 152.4L135.7 154.3 134.1 154.4zM142.6 151.8L142.9 154.2 141.4 153.8zM149.3 152.1L150.1 154.4 148.5 154.3zM156 156.4L155.7 154.2 157.2 154.6zM163 157L162.7 154.7 164.3 155.1zM170.9 152.5L171.6 154.4 170 154.4zM177.7 156.6L177.2 154.3 178.8 154.6zM185.1 152.4L186 154.3 184.4 154.4zM192.6 152L193.2 154.3 191.6 154.1zM198.8 156.8L198.7 154.4 200.3 155zM206.1 156.4L206 154.1 207.5 154.6zM214.5 152.2L214.8 154.5 213.2 154.2zM220.5 156.5L220.4 154.2 221.9 154.7zM227.8 152.5L229.1 154.2 227.6 154.6zM235.5 152.4L236.4 154.4 234.8 154.4zM242.8 157.1L242 154.9 243.6 154.9zM250.1 156.2L249.1 154.5 250.7 154.3zM257.1 155.9L256.3 154.4 257.9 154.4zM34.1 145.2L33.5 144.5 35 145zM40.5 147.2L40.5 144.8 42 145.4zM48.3 146.4L47.8 144.6 49.4 144.9zM54.8 146.8L55.1 144.4 56.5 145.1zM62.5 146.2L62.2 144.5 63.7 145zM69.8 146.7L69.4 144.6 71 144.9zM76.5 146.2L76.7 144.3 78.1 145.1zM83.6 147.4L83.6 145.1 85.1 145.6zM91 147.4L90.8 145.1 92.4 145.5zM98.6 147.5L98.1 145.3 99.7 145.4zM105.5 146.2L105.4 144.4 106.9 145.1zM113.1 146.5L112.5 144.7 114.1 144.8zM120.2 142.1L121.3 144.2 119.7 144.4zM128.1 146.6L126.9 144.9 128.5 144.6zM135.1 141.8L135.7 144.1 134.1 144zM142.3 147.5L141.3 145.4 142.9 145.2zM149.2 146.8L148.5 144.7 150.1 144.7zM156.1 147.3L155.6 145 157.2 145.2zM163.8 142L164.5 144.2 162.9 144.1zM170.9 142L171.7 144.2 170.1 144.1zM177.6 147.5L177.1 145.2 178.7 145.5zM185.5 147.7L184.5 145.5 186.1 145.4zM192.3 146.9L191.6 144.7 193.2 144.8zM199.8 146.8L198.8 144.8 200.4 144.7zM206.1 142.7L207.5 144.5 206 145zM214.5 146.3L213.2 145 214.7 144.5zM220.5 142.6L221.9 144.5 220.4 144.9zM229.1 142.4L229.2 144.8 227.7 144.3zM235.8 146.6L234.8 144.8 236.4 144.6zM242.7 143.2L243.5 144.7 241.9 144.7zM249.9 143.1L250.7 144.7 249.1 144.8zM256.7 143.1L257.9 144.6 256.4 144.9zM34.1 135.6L33.4 134.9 35 135.3zM40.3 137.7L40.4 135.3 41.9 136zM48.3 136.9L47.8 135 49.4 135.2zM55.6 136.6L55 135 56.6 135.2zM62 136.9L62.3 134.7 63.7 135.5zM69.3 136.7L69.5 134.7 70.9 135.5zM76 137.5L76.4 135.2 77.8 136zM84.2 136.6L83.8 134.9 85.3 135.3zM91.1 136.8L91 134.8 92.5 135.4zM98 137.6L98 135.3 99.5 135.8zM105.1 137.5L105.2 135.1 106.7 135.8zM112.5 136.6L112.6 134.7 114 135.5zM122.2 132.3L121.8 134.6 120.4 133.7zM126.8 137.4L126.9 135 128.4 135.6zM133.9 137.8L133.9 135.5 135.4 136zM141 138.1L141 135.8 142.5 136.3zM150.8 137.3L148.9 135.9 150.2 135zM157.2 138.1L155.9 136.2 157.5 135.8zM164.4 138.1L163.1 136.2 164.6 135.8zM171.7 137.7L170.3 135.9 171.8 135.4zM179.7 138L177.9 136.5 179.3 135.7zM186.1 137.2L184.5 135.5 186 134.9zM193.3 138.3L191.9 136.4 193.5 135.9zM199.7 132.8L200.4 135 198.8 134.9zM206.2 136.8L206 134.8 207.5 135.4zM214.1 137.7L213.2 135.5 214.8 135.4zM220.9 132.9L222 135 220.4 135.2zM228.2 137.1L227.6 135 229.2 135.2zM235 137.6L234.7 135.3 236.2 135.7zM242.1 132.4L243.4 134.4 241.8 134.7zM249.4 137.4L249.1 135.1 250.7 135.5zM256.5 132.6L257.8 134.6 256.3 135zM34.1 126L33.4 125.3 35 125.6zM41.1 128.2L40.6 125.9 42.2 126.1zM48.3 126.9L47.8 125.3 49.4 125.6zM54.8 127.8L54.9 125.5 56.4 126.1zM62.4 127L62.2 125.2 63.7 125.7zM69.6 127.9L69.3 125.5 70.9 125.9zM76.3 128.1L76.4 125.8 77.8 126.4zM83.3 127.6L83.7 125.3 85.1 126.1zM90.8 128.2L90.7 125.9 92.3 126.4zM98.3 127.1L98.2 125.1 99.7 125.8zM105 128.1L105.1 125.7 106.6 126.3zM112.6 127.4L112.6 125.2 114.1 125.7zM121.2 122L121.5 124.4 120 124.1zM126.1 128.1L126.5 125.8 127.9 126.7zM133.4 128.5L133.6 126.2 135.1 126.9zM140.8 128L141.1 125.7 142.5 126.4zM149.9 128.8L148.7 126.8 150.3 126.5zM157.4 128.2L156 126.4 157.5 125.9zM164.3 128.5L163.1 126.5 164.6 126.2zM172 127.6L170.3 126.1 171.7 125.3zM178.9 127.5L177.3 125.8 178.8 125.2zM186 127.6L184.5 125.8 186 125.2zM193 128.5L191.8 126.5 193.4 126.2zM199.7 123.6L200.4 125.5 198.8 125.4zM206.5 123.7L207.6 125.3 206 125.6zM214.6 127.4L213.2 125.7 214.7 125.2zM221.2 123.5L222 125.4 220.4 125.5zM228.1 123.8L229.2 125.3 227.6 125.6zM235.4 123.4L236.4 125.4 234.8 125.5zM242.8 127L241.9 125.5 243.5 125.4zM249.8 127.6L249.1 125.4 250.7 125.5zM257 127.6L256.3 125.4 257.9 125.5zM34.1 116.3L33.4 115.6 35 116zM41.2 117.8L40.6 115.7 42.2 115.9zM47.8 117.9L47.8 115.6 49.3 116.1zM55 117.8L55.1 115.5 56.5 116.1zM61.9 118.1L62.1 115.7 63.6 116.4zM70 117.5L69.4 115.7 71 115.9zM77.1 117.6L76.6 115.7 78.2 115.9zM84.1 117.4L83.8 115.6 85.3 116zM91.2 117.4L91 115.5 92.5 116.1zM98.4 117.7L98.2 115.6 99.7 116zM105.5 117.2L105.4 115.5 106.9 116.1zM112.8 118.4L112.4 116.1 114 116.4zM119.4 118.8L119.4 116.5 120.9 117.1zM126.5 118.3L126.7 116 128.1 116.7zM133.5 118.2L133.9 115.9 135.3 116.7zM141.4 118.1L141.3 115.8 142.8 116.2zM150.7 118.8L149 117.2 150.5 116.5zM158 118.4L156.2 116.9 157.6 116.1zM164.8 119L163.3 117.2 164.8 116.6zM169.2 113.2L171.1 114.7 169.7 115.5zM179.5 118.1L177.6 116.7 179 115.8zM184.2 113.1L185.7 114.8 184.2 115.4zM193.3 117.9L191.7 116.2 193.2 115.6zM199.6 113.2L200.4 115.4 198.8 115.4zM207.1 114.3L207.6 116 206 115.6zM213.1 113.2L214.6 115 213.1 115.6zM221.4 114L222 115.9 220.4 115.7zM227.5 113.5L229 115.3 227.5 115.9zM236 113.4L236.4 115.7 234.8 115.4zM243.3 117.7L242 116 243.5 115.6zM250 118.3L249.1 116.1 250.7 116.1zM257.7 113.5L258 115.8 256.4 115.4zM34.2 106.6L33.4 106 35 106.3zM40.4 108.6L40.5 106.3 42 106.9zM48.4 108.7L47.8 106.5 49.4 106.6zM55.2 107.6L55 105.9 56.5 106.4zM62 108.6L62.1 106.2 63.6 106.8zM69.9 108.1L69.4 106.1 71 106.2zM76.9 108.1L76.6 106 78.1 106.3zM83.8 108.1L83.8 105.9 85.3 106.5zM91.1 108.2L91 105.9 92.5 106.4zM98.7 108.7L98.1 106.4 99.7 106.6zM105.4 108.7L105.2 106.4 106.8 106.8zM112.9 107.8L112.5 106 114.1 106.3zM119.5 109L119.5 106.6 121 107.1zM128.4 103.4L128.6 105.7 127.1 105.3zM134.1 108.4L134.1 106.1 135.6 106.6zM141.1 108.8L141.1 106.5 142.6 107zM150.2 108.9L148.7 107 150.2 106.5zM157.6 108.9L156 107.1 157.5 106.5zM164.7 108.9L163.2 107.2 164.7 106.6zM171.5 108.9L170.2 106.9 171.8 106.5zM179.4 108.6L177.6 107 179 106.3zM186.7 108.7L184.9 107.2 186.3 106.4zM194 108.8L192.2 107.3 193.6 106.5zM199.5 108.1L198.8 106.1 200.4 106.2zM206.7 108.4L206 106.2 207.6 106.2zM213.5 104.1L214.8 106 213.2 106.4zM220.7 104.6L221.9 105.9 220.4 106.4zM228.7 104.1L229.2 106.3 227.6 106zM236 103.7L236.4 106 234.8 105.7zM242.4 104.4L243.5 106 242 106.3zM249.8 104.1L250.7 106.1 249.1 106.2zM257.5 103.5L258 105.8 256.4 105.6zM33.9 97.2L33.5 96.1 34.9 96.9zM40.7 99L40.5 96.6 42.1 97.1zM47.9 98.4L47.9 96.2 49.3 96.8zM54.4 99.2L54.7 96.8 56.1 97.6zM62.3 98.8L62.2 96.5 63.7 96.9zM68.9 99.2L69.1 96.8 70.6 97.5zM77.2 98L76.6 96.4 78.2 96.6zM83.9 98.4L83.8 96.2 85.3 96.8zM91.1 98L91 96.2 92.5 96.8zM98.5 98.3L98.2 96.3 99.7 96.7zM105.4 98L105.4 96.2 106.8 96.9zM112.6 98.5L112.6 96.2 114.1 96.8zM120.1 98.8L119.7 96.5 121.3 96.8zM126.7 99.6L126.6 97.3 128.2 97.7zM134.1 99.5L133.9 97.2 135.5 97.6zM141.2 99.7L141 97.4 142.5 97.8zM150.9 99.5L149.1 97.9 150.5 97.2zM157.1 99.3L155.8 97.3 157.4 97zM164.4 99.5L163.1 97.5 164.6 97.1zM171.6 99.1L170.2 97.2 171.7 96.7zM179.1 99.3L177.6 97.5 179.1 97zM186.6 99.4L184.9 97.8 186.4 97.1zM192.8 98.9L191.7 96.8 193.2 96.6zM200.2 95L200.3 96.8 198.9 96.2zM207.1 94.8L207.6 96.7 206 96.4zM213.4 94L214.7 96 213.1 96.3zM221.1 94.8L222 96.5 220.4 96.5zM228.2 98L227.6 96.4 229.2 96.6zM235.2 98.7L234.8 96.4 236.3 96.6zM242.8 99L241.9 96.8 243.5 96.8zM249.8 93.9L250.7 96.1 249.1 96.2zM257.7 98.6L256.4 96.7 257.9 96.3zM34.2 87.3L33.4 86.8 35 87zM40.9 89.7L40.5 87.4 42.1 87.7zM48.1 89.5L47.7 87.2 49.3 87.5zM55.2 89.5L54.9 87.2 56.5 87.5zM62.6 89.4L62.1 87.1 63.7 87.4zM70 89.2L69.4 87 71 87.1zM76.6 88.6L76.6 86.5 78.1 87.2zM83.8 88.3L83.8 86.5 85.3 87.2zM90.4 89.4L90.7 87 92.1 87.8zM97.9 89.6L97.9 87.2 99.4 87.8zM105.4 88.8L105.4 86.6 106.9 87.2zM112.9 88.8L112.5 86.7 114.1 87zM119.1 89.1L119.6 86.8 121 87.6zM125.9 89.6L126.4 87.3 127.8 88.2zM133.8 89.3L134 86.9 135.4 87.6zM141.3 90.1L141 87.8 142.6 88.2zM150.5 89.6L148.9 87.9 150.3 87.2zM157.7 88.9L155.9 87.5 157.3 86.6zM162.8 84.7L164.3 86.4 162.8 87zM171.7 89.9L170.3 88 171.9 87.5zM179 89.3L177.4 87.5 178.9 87zM186.6 89.2L184.8 87.8 186.2 86.9zM193.7 89.3L192 87.7 193.4 87zM199.6 89L198.8 86.9 200.4 86.9zM206.3 85.3L207.5 86.6 206 87.1zM213.8 85.1L214.8 86.8 213.2 87zM221.3 88.5L220.4 86.9 222 86.8zM228.3 84.3L229.2 86.5 227.6 86.5zM236 89.1L234.8 87.1 236.4 86.8zM242.9 88.9L241.9 86.9 243.5 86.8zM249.3 88.8L249.2 86.6 250.7 87.1zM256.8 84.7L257.9 86.7 256.3 87zM34 77.7L33.5 76.9 35 77.5zM40.1 79.6L40.5 77.3 41.9 78zM48.4 79L47.8 77.1 49.4 77.3zM54.8 79L55.1 76.8 56.5 77.6zM62.1 78.8L62.3 76.8 63.7 77.6zM69 80L69.1 77.6 70.6 78.2zM76.6 78.8L76.7 76.8 78.1 77.6zM83.8 79.8L83.6 77.5 85.2 78zM90.8 79.9L90.8 77.6 92.3 78.1zM98.3 79.3L98.2 77 99.7 77.5zM105.4 79.6L105.3 77.2 106.8 77.7zM112.8 79L112.5 77 114.1 77.4zM119.3 80.4L119.3 78.1 120.8 78.7zM128.1 74.9L128.5 77.2 126.9 76.9zM133.9 79.2L134.1 76.9 135.6 77.6zM141.5 79.8L141.2 77.5 142.8 77.9zM150.3 79.7L148.7 78 150.2 77.3zM158 80.2L156.3 78.6 157.7 77.9zM164.9 79.9L163.3 78.3 164.7 77.6zM171.8 80.4L170.4 78.5 171.9 78.1zM179.3 79.6L177.6 78 179 77.2zM186.3 79.8L184.7 78 186.2 77.4zM193.9 80L192.2 78.5 193.6 77.7zM200.3 75L200.4 77.3 198.9 76.9zM207.1 75.4L207.6 77.4 206 77.1zM213.5 75.6L214.8 77 213.2 77.4zM221.2 74.5L222 76.7 220.4 76.7zM228.6 75.6L229.2 77.3 227.6 77.1zM234.9 75L236.3 76.9 234.8 77.3zM242.8 79.9L242 77.7 243.6 77.7zM249.6 78.8L249.2 77.1 250.7 77.4zM257.3 74.8L257.9 77.1 256.3 76.9zM33.9 68.2L33.5 67.2 34.9 67.9zM40.4 70.4L40.4 68 41.9 68.6zM48.2 69.7L47.8 67.4 49.4 67.7zM55.5 70.2L54.9 68 56.5 68.1zM62.7 70.4L62.1 68.2 63.7 68.3zM69.8 69.4L69.4 67.4 71 67.7zM76.9 70.2L76.5 67.9 78.1 68.1zM84 69.5L83.8 67.4 85.3 67.8zM91 70L90.9 67.7 92.4 68.1zM98.6 69.5L98.1 67.4 99.7 67.7zM105 69.8L105.3 67.5 106.7 68.2zM112.4 69.4L112.6 67.2 114 67.9zM119.3 70.6L119.4 68.3 120.9 68.9zM126.7 70.3L126.7 68 128.2 68.5zM134.3 70.3L134 68 135.5 68.3zM140.9 69.6L141.3 67.3 142.7 68.1zM149.9 70.6L148.7 68.6 150.2 68.3zM157.7 70.5L156.1 68.8 157.6 68.2zM164.7 69.7L163 68 164.4 67.3zM171.9 69.8L170.2 68.1 171.7 67.4zM178.6 69.9L177.3 67.9 178.8 67.5zM186.2 70.2L184.7 68.4 186.2 67.8zM192.9 70.1L191.7 68.1 193.3 67.8zM199.1 65.8L200.4 67.4 198.8 67.8zM206.1 70.2L205.9 67.9 207.4 68.3zM213.5 65.1L214.7 67.1 213.1 67.4zM220.7 69.4L220.4 67.4 221.9 67.8zM227.7 65.4L229.1 67.3 227.6 67.8zM235.6 65.3L236.4 67.6 234.8 67.5zM243.3 69.4L242 67.8 243.5 67.3zM250.5 69.2L249.2 67.8 250.7 67.3zM256.5 69.9L256.3 67.5 257.8 68zM34 58.3L33.5 57.6 34.9 58.3zM40.9 60L40.6 57.7 42.2 58.1zM47.6 60.4L47.7 58.1 49.1 58.7zM55.1 59.4L55.1 57.6 56.5 58.3zM62.4 59.5L62.2 57.7 63.7 58.2zM69.9 59.4L69.4 57.8 71 58.1zM76.9 60.2L76.5 57.9 78.1 58.2zM84.2 60.8L83.7 58.5 85.3 58.7zM90.9 59.7L91 57.6 92.5 58.3zM98.6 60L98.1 57.8 99.7 58zM105.4 60.7L105.2 58.3 106.7 58.7zM112.8 59.9L112.5 57.7 114.1 58.1zM121.8 55.7L121.4 58 120 57.2zM127.2 60.2L126.9 57.8 128.5 58.2zM134.2 60.6L134 58.3 135.5 58.7zM141.4 60.2L141.2 57.9 142.8 58.4zM147.6 55.4L149.5 56.8 148.1 57.7zM155.6 54.6L156.9 56.5 155.4 56.9zM164.9 60.2L163.2 58.7 164.6 57.9zM171.9 60L170.2 58.4 171.6 57.7zM179.5 60.7L177.8 59.2 179.2 58.4zM186.6 60.2L184.8 58.7 186.1 57.9zM193 60.7L191.8 58.7 193.3 58.4zM200.1 55.7L200.4 58 198.8 57.7zM206.3 60.1L206 57.8 207.6 58.2zM214.8 60.1L213.3 58.3 214.8 57.7zM221.2 55.4L222 57.6 220.4 57.6zM229.2 55.5L229.2 57.8 227.7 57.3zM236 56L236.3 58.1 234.8 57.7zM242.3 56.2L243.5 57.7 242 58.1zM250 59.5L249.1 57.9 250.7 57.9zM257.5 60.2L256.4 58.2 257.9 57.9zM33.9 48.8L33.5 47.9 34.9 48.7zM41 51.2L40.5 48.9 42.1 49.2zM47.1 50.9L47.5 48.6 48.9 49.4zM55.6 50.5L55 48.2 56.6 48.4zM62.7 50.3L62.2 48.2 63.8 48.4zM69.2 50.4L69.4 48.1 70.8 48.8zM76.7 51.1L76.4 48.8 78 49.1zM84.2 51L83.7 48.8 85.3 49zM91.2 50.1L91 48.1 92.5 48.5zM98.1 50.1L98.2 47.9 99.7 48.6zM104.9 50.6L105.2 48.3 106.6 49zM112.5 50.8L112.4 48.5 113.9 49zM119.7 50.8L119.6 48.5 121.1 49zM127.1 51.5L126.7 49.2 128.3 49.5zM134.2 51.6L133.9 49.2 135.4 49.6zM140.6 50.8L141 48.5 142.4 49.3zM150.1 50.7L148.6 48.8 150.1 48.3zM157.2 51L155.9 49.1 157.4 48.6zM165.4 51.3L163.6 49.8 165 48.9zM169.9 45.5L171.4 47.3 169.8 47.9zM178.7 50.5L177.3 48.6 178.8 48.1zM186.4 50.8L184.7 49.1 186.2 48.4zM193.9 50.9L192.2 49.4 193.5 48.6zM198.7 50.7L198.7 48.3 200.2 48.9zM206.3 50L206 48.1 207.6 48.5zM214 46.5L214.8 48.3 213.2 48.3zM220.6 45.9L221.9 47.9 220.3 48.2zM228.1 46.5L229.2 48.1 227.6 48.4zM235.8 46.6L236.4 48.4 234.8 48.2zM242.3 46.6L243.5 48.1 242 48.5zM249.8 50.3L249.1 48.2 250.7 48.3zM256.4 46.1L257.9 47.9 256.3 48.4zM34.1 39L33.5 38.4 35 38.9zM40.9 40.7L40.6 38.4 42.2 38.8zM47.8 40L47.9 38.2 49.3 39zM55.3 40.3L55 38.4 56.6 38.9zM62.8 40.8L62.2 38.6 63.8 38.7zM69.9 40.9L69.4 38.6 71 38.8zM76.5 40.2L76.7 38.2 78.1 39zM83.7 41.3L83.6 38.9 85.1 39.4zM91.3 40.2L91 38.4 92.5 38.9zM98 40.8L98.1 38.5 99.6 39.1zM105.7 41.4L105.2 39.1 106.8 39.4zM112.4 40.6L112.6 38.3 114 39zM119.9 41.2L119.6 38.9 121.2 39.2zM126.2 41.2L126.6 38.9 128 39.7zM134.1 42L133.8 39.7 135.4 40.1zM141.2 41L141.2 38.7 142.7 39.3zM149.9 41.8L148.7 39.8 150.3 39.4zM157.3 42L156 40.1 157.5 39.7zM162.2 36.2L164 37.7 162.6 38.5zM171.5 40.8L170.1 39 171.6 38.5zM178.6 41.1L177.3 39.2 178.9 38.8zM186.3 40.7L184.6 39.1 186 38.4zM193.8 41.1L192 39.5 193.4 38.8zM199.2 36.6L200.4 38.5 198.8 38.8zM207.4 40.8L206 38.9 207.6 38.4zM213.8 40.2L213.2 38.5 214.8 38.8zM222.1 40.9L220.5 39.1 222 38.5zM228 37L229.1 38.5 227.6 38.8zM235.7 41L234.8 38.9 236.4 38.8zM243 40.2L242 38.8 243.5 38.5zM250.1 40.9L249.1 38.8 250.7 38.6zM256.7 40.5L256.4 38.4 257.9 38.8zM34 29.6L33.4 28.8 35 29.2zM40.4 31.3L40.5 29 42 29.6zM48.3 31.8L47.8 29.5 49.3 29.6zM54.8 31.3L54.9 28.9 56.4 29.6zM62.7 30.8L62.2 28.9 63.8 29.1zM69.9 30.8L69.4 28.9 71 29.1zM76.8 30.9L76.6 28.7 78.1 29.2zM83.9 30.5L83.8 28.7 85.3 29.3zM91.1 30.8L91 28.7 92.5 29.2zM98.5 31.8L98 29.5 99.6 29.8zM105.8 30.9L105.3 28.9 106.9 29.1zM112.8 31.1L112.5 28.8 114.1 29.2zM119.2 31.2L119.6 28.9 121 29.7zM126.6 32.2L126.5 29.9 128.1 30.4zM134.1 31.2L134.1 28.9 135.6 29.4zM141.2 31.8L141.1 29.4 142.6 29.9zM149.9 31.5L148.6 29.6 150.1 29.2zM157.8 30.9L155.9 29.5 157.2 28.7zM165.4 31.9L163.5 30.4 164.9 29.6zM171.4 31.8L170.2 29.8 171.8 29.5zM179.1 32.3L177.7 30.4 179.2 29.9zM186.5 31.7L184.8 30 186.3 29.3zM193.2 32.2L191.9 30.2 193.4 29.8zM199.5 31.1L198.8 28.9 200.4 29zM206.8 31.5L206 29.3 207.6 29.3zM214.2 31.7L213.2 29.6 214.8 29.4zM221.2 31.4L220.4 29.2 222 29.2zM228.4 26.8L229.2 29 227.6 29zM235.3 26.8L236.4 28.9 234.8 29zM243.3 26.5L243.6 28.8 242 28.5zM249.5 26.5L250.7 28.5 249.1 28.8zM256.4 31.2L256.3 28.9 257.9 29.4zM34.2 19.8L33.4 19.3 35 19.4zM40.4 21.8L40.5 19.5 42 20.1zM48 21.4L47.8 19.1 49.4 19.6zM55 21.1L55.1 19 56.5 19.7zM62.2 21L62.3 19 63.7 19.7zM69.9 21.1L69.4 19.2 71 19.5zM77.1 22L76.5 19.7 78.1 19.9zM83.5 21.5L83.7 19.2 85.2 19.9zM91.5 21.6L90.9 19.3 92.5 19.5zM98.5 21.7L98.1 19.4 99.7 19.7zM105.3 21L105.4 19 106.8 19.7zM112.4 22.2L112.3 19.8 113.9 20.3zM119.3 22.5L119.4 20.1 120.9 20.7zM126.5 22.2L126.6 19.9 128.1 20.5zM134.3 22.5L133.9 20.2 135.5 20.5zM141.3 22.3L141.1 20 142.6 20.4zM148.1 17.4L149.9 18.9 148.6 19.7zM155.5 17.2L157.1 18.9 155.7 19.6zM165.4 22L163.5 20.6 164.9 19.7zM171.5 21.7L170.1 19.8 171.7 19.3zM179.1 22.1L177.6 20.4 179.1 19.8zM186 21.7L184.5 19.8 186.1 19.3zM193.7 21.6L191.9 20.1 193.3 19.3zM199.1 21.1L198.8 19.1 200.4 19.6zM206.8 17.7L207.6 19.4 206 19.3zM214.3 17.3L214.8 19.5 213.2 19.2zM221.7 17.1L222 19.4 220.4 19zM227.5 21.5L227.6 19.1 229.1 19.7zM236 16.9L236.4 19.2 234.8 18.9zM242.9 21.7L242 19.5 243.6 19.4zM249.9 21.5L249.1 19.3 250.7 19.4zM257.1 21.1L256.3 19.3 257.9 19.4z" style="fill:#000;stroke:none" /></g>
<g id="line2d_16">
<path d="M115.2 239.7L115.2 18.6" clip-path="url(#p49ef406c6c)" style="fill:none;stroke:#ffffff;stroke-width:1.6" />
</g>
<g id="line2d_17">
<path d="M115.2 239.7L115.2 18.6" clip-path="url(#p49ef406c6c)" style="fill:none;stroke-dasharray:4.6,2.5;stroke-dashoffset:0;stroke:#333333;stroke-width:1.6" />
</g>
<g id="line2d_18">
<path d="M194.7 239.7L194.7 18.6" clip-path="url(#p49ef406c6c)" style="fill:none;stroke:#ffffff;stroke-width:1.6" />
</g>
<g id="line2d_19">
<path d="M194.7 239.7L194.7 18.6" clip-path="url(#p49ef406c6c)" style="fill:none;stroke-dasharray:4.6,2.5;stroke-dashoffset:0;stroke:#333333;stroke-width:1.6" />
</g>
<g id="line2d_20">
<path d="M115.2 239.7L194.7 239.7" clip-path="url(#p49ef406c6c)" style="fill:none;stroke-dasharray:4.6,2.5;stroke-dashoffset:0;stroke:#333333;stroke-width:1.6" />
</g>
<g id="patch_3">
<path d="M33.5 241.2L33.5 18.6" style="fill:none;stroke:#000000;stroke-width:1;stroke-linejoin:miter;stroke-linecap:square" />
</g>
<g id="patch_4">
<path d="M263.6 241.2L263.6 18.6" style="fill:none;stroke:#000000;stroke-width:1;stroke-linejoin:miter;stroke-linecap:square" />
</g>
<g id="patch_5">
<path d="M33.5 241.2L263.6 241.2" style="fill:none;stroke:#000000;stroke-width:1;stroke-linejoin:miter;stroke-linecap:square" />
</g>
<g id="patch_6">
<path d="M33.5 18.6L263.6 18.6" style="fill:none;stroke:#000000;stroke-width:1;stroke-linejoin:miter;stroke-linecap:square" />
</g>
<g id="text_8">
<g id="patch_7">
<path d="M36.9 33.5L56.4 33.5L56.4 21.2L36.9 21.2z" style="fill:#ffffff" />
</g>
<text style="font-weight:700;font-size:11.7px;font-family:&quot;Liberation Sans&quot;, sans-serif;text-anchor:start" x="37.4" y="30.6" transform="rotate(0 37.4 30.6)" textLength="18.5" lengthAdjust="spacingAndGlyphs">(a)</text>
</g>
</g>
<g id="axes_2">
<g id="patch_8">
<path d="M278 241.2L289.4 241.2L289.4 18.6L278 18.6z" style="fill:#ffffff" />
</g>
<g id="QuadMesh_1">
<path d="M278 241.2L289.4 241.2L289.4 228.1L278 228.1L278 241.2" clip-path="url(#p65a85aa761)" style="fill:#15508d" />
<path d="M278 228.1L289.4 228.1L289.4 215L278 215L278 228.1" clip-path="url(#p65a85aa761)" style="fill:#276eb0" />
<path d="M278 215L289.4 215L289.4 201.9L278 201.9L278 215" clip-path="url(#p65a85aa761)" style="fill:#3b88be" />
<path d="M278 201.9L289.4 201.9L289.4 188.8L278 188.8L278 201.9" clip-path="url(#p65a85aa761)" style="fill:#5fa5cd" />
<path d="M278 188.8L289.4 188.8L289.4 175.7L278 175.7L278 188.8" clip-path="url(#p65a85aa761)" style="fill:#8dc2dc" />
<path d="M278 175.7L289.4 175.7L289.4 162.6L278 162.6L278 175.7" clip-path="url(#p65a85aa761)" style="fill:#b3d6e8" />
<path d="M278 162.6L289.4 162.6L289.4 149.5L278 149.5L278 162.6" clip-path="url(#p65a85aa761)" style="fill:#d5e7f1" />
<path d="M278 149.5L289.4 149.5L289.4 136.4L278 136.4L278 149.5" clip-path="url(#p65a85aa761)" style="fill:#ecf2f5" />
<path d="M278 136.4L289.4 136.4L289.4 123.4L278 123.4L278 136.4" clip-path="url(#p65a85aa761)" style="fill:#f9efe9" />
<path d="M278 123.4L289.4 123.4L289.4 110.3L278 110.3L278 123.4" clip-path="url(#p65a85aa761)" style="fill:#fcdecd" />
<path d="M278 110.3L289.4 110.3L289.4 97.2L278 97.2L278 110.3" clip-path="url(#p65a85aa761)" style="fill:#f9c2a7" />
<path d="M278 97.2L289.4 97.2L289.4 84.1L278 84.1L278 97.2" clip-path="url(#p65a85aa761)" style="fill:#f2a17f" />
<path d="M278 84.1L289.4 84.1L289.4 71L278 71L278 84.1" clip-path="url(#p65a85aa761)" style="fill:#e17860" />
<path d="M278 71L289.4 71L289.4 57.9L278 57.9L278 71" clip-path="url(#p65a85aa761)" style="fill:#ce4f45" />
<path d="M278 57.9L289.4 57.9L289.4 44.8L278 44.8L278 57.9" clip-path="url(#p65a85aa761)" style="fill:#b82531" />
<path d="M278 44.8L289.4 44.8L289.4 31.7L278 31.7L278 44.8" clip-path="url(#p65a85aa761)" style="fill:#930e26" />
<path d="M278 31.7L289.4 31.7L289.4 18.6L278 18.6L278 31.7" clip-path="url(#p65a85aa761)" style="fill:#67001f" />
</g>
<g id="matplotlib.axis_3" />
<g id="matplotlib.axis_4">
<g id="ytick_7">
<g id="line2d_21">
<defs>
<path id="mbff90f7d70" d="M0 0L4.2 0" style="stroke:#000000;stroke-width:1" />
</defs>
<g>
<use href="#mbff90f7d70" x="289.4" y="241.2" style="stroke:#000000;stroke-width:1" />
</g>
</g>
<g id="text_9">
<text style="font-size:10.4px;font-family:&quot;Liberation Sans&quot;, sans-serif;text-anchor:start" x="299.1" y="245.2" transform="rotate(0 299.1 245.2)" textLength="25.3" lengthAdjust="spacingAndGlyphs">−1.2</text>
</g>
</g>
<g id="ytick_8">
<g id="line2d_22">
<g>
<use href="#mbff90f7d70" x="289.4" y="215" style="stroke:#000000;stroke-width:1" />
</g>
</g>
<g id="text_10">
<text style="font-size:10.4px;font-family:&quot;Liberation Sans&quot;, sans-serif;text-anchor:start" x="299.1" y="219" transform="rotate(0 299.1 219)" textLength="25.3" lengthAdjust="spacingAndGlyphs">−0.9</text>
</g>
</g>
<g id="ytick_9">
<g id="line2d_23">
<g>
<use href="#mbff90f7d70" x="289.4" y="188.8" style="stroke:#000000;stroke-width:1" />
</g>
</g>
<g id="text_11">
<text style="font-size:10.4px;font-family:&quot;Liberation Sans&quot;, sans-serif;text-anchor:start" x="299.1" y="192.8" transform="rotate(0 299.1 192.8)" textLength="25.3" lengthAdjust="spacingAndGlyphs">−0.6</text>
</g>
</g>
<g id="ytick_10">
<g id="line2d_24">
<g>
<use href="#mbff90f7d70" x="289.4" y="162.6" style="stroke:#000000;stroke-width:1" />
</g>
</g>
<g id="text_12">
<text style="font-size:10.4px;font-family:&quot;Liberation Sans&quot;, sans-serif;text-anchor:start" x="299.1" y="166.6" transform="rotate(0 299.1 166.6)" textLength="25.3" lengthAdjust="spacingAndGlyphs">−0.3</text>
</g>
</g>
<g id="ytick_11">
<g id="line2d_25">
<g>
<use href="#mbff90f7d70" x="289.4" y="136.4" style="stroke:#000000;stroke-width:1" />
</g>
</g>
<g id="text_13">
<text style="font-size:10.4px;font-family:&quot;Liberation Sans&quot;, sans-serif;text-anchor:start" x="299.1" y="140.4" transform="rotate(0 299.1 140.4)" textLength="16.6" lengthAdjust="spacingAndGlyphs">0.0</text>
</g>
</g>
<g id="ytick_12">
<g id="line2d_26">
<g>
<use href="#mbff90f7d70" x="289.4" y="110.3" style="stroke:#000000;stroke-width:1" />
</g>
</g>
<g id="text_14">
<text style="font-size:10.4px;font-family:&quot;Liberation Sans&quot;, sans-serif;text-anchor:start" x="299.1" y="114.2" transform="rotate(0 299.1 114.2)" textLength="16.6" lengthAdjust="spacingAndGlyphs">0.3</text>
</g>
</g>
<g id="ytick_13">
<g id="line2d_27">
<g>
<use href="#mbff90f7d70" x="289.4" y="84.1" style="stroke:#000000;stroke-width:1" />
</g>
</g>
<g id="text_15">
<text style="font-size:10.4px;font-family:&quot;Liberation Sans&quot;, sans-serif;text-anchor:start" x="299.1" y="88" transform="rotate(0 299.1 88)" textLength="16.6" lengthAdjust="spacingAndGlyphs">0.6</text>
</g>
</g>
<g id="ytick_14">
<g id="line2d_28">
<g>
<use href="#mbff90f7d70" x="289.4" y="57.9" style="stroke:#000000;stroke-width:1" />
</g>
</g>
<g id="text_16">
<text style="font-size:10.4px;font-family:&quot;Liberation Sans&quot;, sans-serif;text-anchor:start" x="299.1" y="61.8" transform="rotate(0 299.1 61.8)" textLength="16.6" lengthAdjust="spacingAndGlyphs">0.9</text>
</g>
</g>
<g id="ytick_15">
<g id="line2d_29">
<g>
<use href="#mbff90f7d70" x="289.4" y="31.7" style="stroke:#000000;stroke-width:1" />
</g>
</g>
<g id="text_17">
<text style="font-size:10.4px;font-family:&quot;Liberation Sans&quot;, sans-serif;text-anchor:start" x="299.1" y="35.7" transform="rotate(0 299.1 35.7)" textLength="16.6" lengthAdjust="spacingAndGlyphs">1.2</text>
</g>
</g>
<g id="text_18">
<g transform="translate(340.7 158) rotate(-90)">
<text>
<tspan x="0" y="-1.2" style="font-size:10.4px;font-family:&quot;Liberation Sans&quot;, sans-serif" textLength="7.13" lengthAdjust="spacingAndGlyphs">Δ</tspan>
<tspan x="14.8" y="-1.2" style="font-size:10.4px;font-family:&quot;Liberation Sans&quot;, sans-serif"> </tspan>
<tspan x="18.1" y="-1.2" style="font-size:10.4px;font-family:&quot;Liberation Sans&quot;, sans-serif" textLength="4.06" lengthAdjust="spacingAndGlyphs">[</tspan>
<tspan x="22.1" y="-1.2" style="font-size:10.4px;font-family:&quot;Liberation Sans&quot;, sans-serif" textLength="10.15" lengthAdjust="spacingAndGlyphs">m</tspan>
<tspan x="32.3" y="-1.2" style="font-size:10.4px;font-family:&quot;Liberation Sans&quot;, sans-serif"> </tspan>
<tspan x="35.6" y="-1.2" style="font-size:10.4px;font-family:&quot;Liberation Sans&quot;, sans-serif" textLength="5.43" lengthAdjust="spacingAndGlyphs">s</tspan>
<tspan x="52.2" y="-1.2" style="font-size:10.4px;font-family:&quot;Liberation Sans&quot;, sans-serif" textLength="4.06" lengthAdjust="spacingAndGlyphs">]</tspan>
<tspan x="7.1" y="-1.2" style="font-style:oblique;font-size:10.4px;font-family:&quot;Liberation Sans&quot;, sans-serif" textLength="7.62" lengthAdjust="spacingAndGlyphs">U</tspan>
<tspan x="41.1" y="-5.4" style="font-size:7.3px;font-family:&quot;Liberation Sans&quot;, sans-serif" textLength="6.11" lengthAdjust="spacingAndGlyphs">−</tspan>
<tspan x="47.2" y="-5.4" style="font-size:7.3px;font-family:&quot;Liberation Sans&quot;, sans-serif" textLength="4.64" lengthAdjust="spacingAndGlyphs">1</tspan>
</text>
</g>
</g>
</g>
<g id="LineCollection_1" />
<g id="patch_9">
<path d="M278 241.2L283.7 241.2L289.4 241.2L289.4 18.6L283.7 18.6L278 18.6L278 241.2z" style="fill:none;stroke:#000000;stroke-width:1;stroke-linejoin:miter;stroke-linecap:square" />
</g>
</g>
<g id="axes_3">
<g id="patch_10">
<path d="M361.5 241.2L592 241.2L592 18.6L361.5 18.6z" style="fill:#ffffff" />
</g>
<g id="QuadContourSet_2" clip-path="url(#p26001cd7fa)">
<g transform="scale(.5)"><path d="M857 318l1-9 1-23-1-21-1-3zM729 115l1-1 2-36 0-26 0-5-2-3-1 6-1 19z" style="fill:#3a87bd;stroke:#3a87bd;stroke-width:.8" />
<path d="M857 334l2-9 0-43-1-39-1-1-1 49zM857 317l0-55 1 3 1 21-1 23zM938 162l0-56-1 24zM729 157l3-26 1-29 1-41-1-24-5 0-2 22 1 69 0 19zM729 113l-1-44 1-19 1-6 2 3 0 5 0 28-2 34-1 1z" style="fill:#4f9bc7;stroke:#4f9bc7;stroke-width:.8" />
<path d="M857 346l1-4 1-14 1-50-1-44-1-10-1-1-2 28 0 37 0 40zM857 334l-1-45 1-47 1 1 1 41 0 43zM906 269l1-7 1-39-1-35-1-8-1 37zM727 230l2-4 5-100 1-55-1-34-1 0 1 26-1 41-1 27-3 26-2-10-1-62 0-29 2-19-2 0-1 17 0 67zM938 201l1-12 1-46-1-52-1-16-2 6 0 8-1 39 1 45zM938 161l-1-31 1-24zM750 112l0-44-1 23zM1067 111l1-39-1-26-1 30z" style="fill:#71b0d3;stroke:#71b0d3;stroke-width:.8" />
<path d="M857 357l1-5 2-21 1-58-1-50-2-34-1-9-2 52-1 48 1 58 1 13zM857 345l-2-18 0-43 0-35 2-26 1 1 1 12 1 46-1 50-1 10-1 4zM727 349l3-21 5-85-1-61 2-111 0-34-2 0 1 39-2 63-4 87-2 4-2-145 0-29 1-19-2 0-1 17 2 276 1 16zM906 318l1-5 1-20 1-67 0-57-2-26-1-6-2 24-1 47 1 89zM906 267l-1-50 1-37 1 8 1 35-1 39zM750 302l3-224-1-41-3 0-1 4-2 28 2 120 0 84 1 27zM750 111l-1-22 1-21zM938 216l1-3 1-11 1-46-1-72-1-17-1-5-2 4-1 16-1 54 0 33zM938 200l-2-29-1-45 1-39 2-12 1 16 1 56-1 43zM1040 205l1-12 1-61-1-76-1-17-2 11 0 43 0 75zM1067 134l2-34 0-63-3 0-1 26 0 50 1 12zM1067 110l-1-34 1-30 1 28zM857 124l1-50-1-23-1 34z" style="fill:#93c6de;stroke:#93c6de;stroke-width:.8" />
<path d="M884 378l2-6 0-23 0-26-2-9-1 33zM724 370l2 0 1-2 3-14 6-47 1-21 1-50-2-86 2-89-1-24-1 0 0 34-2 111 1 63-5 83-3 21-1-3-1-16-2-258 1-35-1 0 1 230-1 87zM857 368l1-5 2-18 1-54-1-144 0-86-1-24-4 0-1 8-2 98-4 36-1 42 1 30 3 9 3 91 1 15zM857 356l-2-5-1-17 0-58 1-44 2-52 1 9 2 34 1 55-1 58-2 16-1 5zM857 123l-1-39 1-33 1 12 0 13zM906 337l1-3 2-20 2-84-2-98-2-29-1-1-3 41-1 52 1 111 2 24zM906 317l-2-20-1-89 1-47 2-24 1 6 2 26 0 57-1 67-1 20zM750 332l2-1 0-3 1-27 0-106 2-147-1-11-2 0 1 37-2 121 0 85-1 22-1-2-1-31 0-80-2-117 1-22 2-13-4 0-1 22 2 99 1 130 0 22zM814 330l1-10 1-25 0-19-1-9-1 6-2 26 0 24zM1062 322l1-1 1-9 1-26-2-68-1-27-2-9-2 24 0 82 1 24 1 6zM828 316l2-15 1-58-1-41-2-15-2 6 0 7-1 41 1 52 1 14zM804 308l1 0 0-7-1-30zM1040 250l1-9 2-39 0-87-1-78-5 0 0 34 0 57 1 91zM1040 204l-2-36 0-77 0-41 2-11 1 17 1 78-1 59zM938 228l1-1 2-14 1-53-1-84-1-20-2-5-3 10-1 17-2 74 1 32zM938 215l-4-48 0-33 1-52 1-16 2-4 1 5 1 18 1 75-1 44-1 9-1 3zM821 221l2-17 1-31-1-101-1-12-1-10-2 35-1 45 1 82 1 7zM771 207l0-58-2-29-1 45zM804 199l1-78-1-57-2-8-1 18-1 43 2 75zM896 181l1-23 0-26-1-75-1 49zM1067 152l2-11 1-24 0-76 0-4-1 0 0 63-2 34-1-9-1-15 0-43 1-30-1 0-1 34 0 46 1 26 1 6zM923 138l2-66-2-30-1 43z" style="fill:#b1d5e7;stroke:#b1d5e7;stroke-width:.8" />
<path d="M723 404l2-12 11-46 1-11 3-86-1-121 1-22 2-8 2 10 1 39 1 137 1 35 2 24 1 10 2 3 1-4 2-14 1-34 1-44-1-84 0-139-2 0 0 254-2 36 0 4-2 1-1-8-2-31-1-135-2-99 1-22-8 0 1 24-2 89 2 86-1 50-1 21-7 56-3 7-2 0-1-16zM884 400l2-3 0-5 1-26-1-49 0-11-2-5-1 21-1 32 1 30zM884 377l-1-30 1-33 2 9 0 28 0 21zM856 380l1-1 1-6 2-13 2-46 0-73-1-204-2 0 1 22 0 89 1 108-1 91-2 16-1 5-1-2-1-6-2-22-2-80-3-7-1-19 1-53 4-36 3-106-2 0-2 54-4 70-4 151 1 40 4-38 0-4 2 3 2 51 2 11zM814 367l1-4 2-13 4-68 1 3 3 42 1 14 2 5 2-2 1-10 2-70-1-86-1-17-4-29-3-95-6 0-3 63 0 99-4 48-2 10-1-1-2-33 1-97-2-79-1-10-7 0-1 21 0 37 3 86 2 144 3 22 1 1 3-7 1 3 3 19zM814 330l-2-7 0-24 2-26 1-6 1 9 0 19-1 25zM828 315l-1-8-1-14-1-52 1-41 0-7 2-6 2 15 1 41-1 58zM804 308l0-37 1 30 0 7zM820 221l0-2-1-13-1-80 1-44 2-32 1 10 1 22 1 94-1 32zM804 199l-2-7-2-75 1-43 1-18 2 8 1 57zM906 351l1-1 1-3 2-17 1-65 0-68-2-137-2-7-1 8-6 67-3-91-3 0-1 67 2 109 1 20 1-5 2-16 1 13 3 102 1 18zM906 336l-2-8-1-24-1-111 1-50 3-41 1 1 2 29 2 102-2 83-2 17-1 3zM896 180l-1-74 1-49 1 77 0 24zM1060 341l3-1 1-3 3-22-2-120 1-13 3-18 1-25 1-102-1 0 0 86-2 27-1 2-1-3-1-4-1-26 0-48 1-34-2 0-3 56-4 28-1 24 2 170 1 19 1 4zM1061 321l-2-13-1-26 0-78 2-22 2 9 1 27 2 70-1 24-1 9-1 1zM723 332l1-65-1-80zM959 333l2-13 0-18 1-68-1-15-4 76 1 30zM772 332l1-18 2-88-3-81 0-96-1-12-2 0-3 86-1 9-5 18-1 21-1 54 0 18 2 10 2-5 3-27 1-5 2 8 1 34 2 63zM771 206l-3-41 1-45 2 29zM1040 300l3-59 2-70 0-43-2-91-1 0 2 124-2 71-2 18-2-31-1-91 0-57 0-34-1 0 0 100 2 133zM788 281l3-22 2-57-1-17-4-7-2 21zM1013 268l1-15 1-105-1-60-1-31-2 53zM939 240l2-10 2-26 0-107-2-43-2-14-1 0-4 14-2 20-1 104 1 33 1 1 2-1 2 25 1 3zM937 226l-4-42-1-34 2-72 1-17 3-10 2 5 1 20 1 89-1 52-2 10-1 1zM922 232l1-17 3-79 0-99-4 0-1 9-1 162zM923 137l-1-52 1-43 2 30zM874 94l2-12 0-45-4 0 0 39 1 10z" style="fill:#cce2ef;stroke:#cce2ef;stroke-width:.8" />
<path d="M723 443l2-9 4-41 4-19 3-3 1-3 2-15 1-80 1-123 1-22 1-2 2 39 1 160 2 28 4 20 1 0 5-10 1 3 3 19 1 3 2-6 3-29 3 8 1 2 1-3 1-20 3-97 1-10 3-8 1-14 2-5 1 24 1 93 2 17 4-36 4-64 3 87 2 20 2 15 2 3 3-1 4 21 2 4 1-1 2-11 4-42 4 26 3 3 2-2 3-21 2-37 1-113 4-91 0-63-5 0-2 67-1 14-1 5-1-3-2-10-3-73-1 0 3 95 4 33 2 24 0 58-1 61-2 35-2 3-1-3-2-15-3-43-1-3-4 68-2 13-1 4-2-4-3-19-1-3-3 7-1-1-3-22-2-144-3-86 0-37 1-21-5 0-2 58-1 9-4 16-1-2-1-14-1-67-5 0 1 86-2 39-1-3-1-25 0-89 0-8-3 0 1 22 1 93 2 78-2 84-1 18-1-11-2-63-1-34-2-8-1 5-3 27-2 5-2-10 0-18 1-54 1-21 5-18 1-9 3-86-2 0-2 48-2 10-4 16-1-17-1-57-1 0 0 139 1 80-1 46-1 34-2 15-1 5-2-3-1-10-2-20-1-35-1-145-2-40-1-5-1 2-1 11-1 19 1 115-2 85-2 16-13 55zM788 280l-2-81 2-21 4 7 1 17-2 57-2 16zM1056 434l1-4 1-7 2-50 2-7 4-10 3-28-1-105 3-87 1-99-1 0-1 106-1 21-3 18-1 13 2 119-2 20-2 6-1 1-2 0-1-3-2-17-3-163 2-28 4-37 3-56-3 0-3 14-8 81-2-11-1-28-2-56-1 0 2 130-2 89-3 44-2-30-2-133 0-100-2 0 0 73 4 178-1 128 1 13 2-3 0-9 2-87 3-61 2-86 2-18 2 28 3 52 0 52-3 65 2 59 1 9zM884 431l2-1 2-11 1-44-2-74-1-12-2-2-2 28-1 60 1 42 1 10zM884 399l-1-17-1-28 1-32 1-21 2 5 0 11 1 49-1 27 0 4-2 3zM854 403l3-10 3-18 2-43 1-98-1-197-1 0 1 238-1 57-1 28-3 19-1 1-2-3-2-17-2-47-2-3-4 42-1-20 3-148 5-97 2-50-2 0-11 262 0 50 3 40 1 7 4-15 2 2 3 18zM906 365l1-1 2-5 1-14 3-67 0-53-2-188-6 0-3 28-2-6-1-22-2 0 3 91 6-67 1-8 2 12 2 135 0 69-1 63-2 15-1 3-1 1-2-6-1-18-3-102-1-13-2 16-1 5-1-16-2-109 1-71-2 0-2 35 0 45 3 108 1 25 2 5 3-3 0 2 3 87 2 17zM958 365l1-2 2-9 1-16 2-78 0-63 0-20-2-15-1 1-2 15-5 95 1 74 1 13zM959 332l-1-11-1-28 4-74 1 15-1 70 0 16zM1013 295l1-7 1-24 1-125-2-98-1-4-2 0-1 54 1 160zM1013 267l-2-157 2-53 1 31 1 60-1 105zM941 263l2-27 1-52 1-93-1-43-1-11-8 0-5 32-1 4-1-36-2 0 0 99-3 79-1 17-2-22 2-173-1 0-2 188 0 26 1 8 2-3 2-13 2-33 2-6 4 31 3-10 3 28zM938 239l-2-10-1-18-2 1-1-1-1-38 1-99 2-20 4-14 1 0 1 3 2 15 1 57-1 98-1 23-2 4zM809 257l4-32 2-28 0-97 3-63-5 0-2 137-2 18-3-151 0-4-2 0 2 76 1 115 1 28zM876 115l1-13 1-65-2 0 0 45-2 12-1-8-1-10 0-39-2 0 1 59 2 12 1 5zM1099 48l0-11-1 0 0 6z" style="fill:#deebf2;stroke:#deebf2;stroke-width:.8" />
<path d="M724 462l5 0 0-13 1-30 2-23 1-5 2-1 1 2 1 0 2-13 2-69 0-145 1-12 1-10 2 35 0 115 1 56 4 33 2 6 1 2 3-1 2 3 5 33 5-41 1-4 3 4 1-2 2-23 2-101 1-9 1-4 2-1 3-16 1 30 1 135-2 67 1 0 1 2 5 0-3-67 3-25 3-14 1-1 9 22 4 3 2 10 5 38 2 0 2-35 2-13 1-1 2 2 1 0 5-2 1-4 4-21 2 1 0 3 3 35 3 58 0 11 14 0-1-13 2-33 4-50 1-34 1-106-1-189-1 0 1 195-1 98-2 41-2 14-2 14-2 4-1-2-3-18-2-2-4 15-1-7-2-27-1-37 0-36 11-252-4 0-3 86-1-2 0-84-3 0 0 63-4 91-1 113-2 37-3 21-2 2-3-3-4-26-4 42-2 11-1 1-2-4-4-21-3 1-2-3-2-15-2-20-3-87-4 64-4 36-2-17-1-93-1-24-2 5-1 14-3 8-1 10-3 97-1 20-1 3-1-2-3-8-3 29-2 6-1-3-3-19-1-3-5 10-1 0-4-20-2-28-1-160-2-39-1 2-1 22-1 123-1 80-2 15-1 3-3 3-1 5-4 20-3 35-2 10 0 18zM848 460l-1-2-1-7 1-6 1-2 1 12-1 6zM880 462l9 0 0-11 3-35 0-34-1-74 2-26 1-8 3 0 2 9 2 62 2 26 2 8 1 3 1-1 2-4 2-11 5-70 1 0 2-2 7-35 2-2 1 1 3 6 3-20 2 42 0 78 2 11 2 6 1-1 2-5 2-141 2-58-1-139-4 0 2 30 0 78-1 74-2 34-1 10-3-10-3-28-3 10-4-31-2 6-3 41-1 7-2 1-1-5 0-28 2-189-1 0-1 123-3 51-1-8-2-39-1-127-1 0 2 188 0 53-3 67-1 14-2 5-1 1-2-7-2-17-2-68-1-21-3 2-2-5-1-11-3-114 0-52 2-35-4 0 1 160-3 46-3 36-3 56-1 127zM884 430l-1-3-1-11-1-41 1-60 2-28 2 2 1 12 2 74-1 44-2 11-2 1zM894 462l0-2 0 2zM1036 460l7 0 0-65 1-45 2 9 3 42 2 59 11 0 1-58 4-13 2-14 1-32 0-109 3-197-1 0-1 99-3 85 0 109-2 27-4 9-2 7-2 50-1 7-1 4-2-4-1-9-2-59 3-65 0-52-3-52-2-28-2 18-2 86-3 61-2 87 0 9-2 3-1-12 0-146-3-160 0-74-1 0 0 78 3 154-1 158 0 33zM1129 460l2 0 0-4 1-1 1 0-1-26-1-10-2 4 0 6-1 31zM1167 455l5 0-1-38-3-19-1 2-1 14zM952 412l1-1 3-10 3-8 2-10 3-51 1-81 0-67-1-39-2-7-1-1-2 8-4 39-3 15-1 13-1 44 2 74-2 52zM957 364l-2-8 0-13-1-74 5-93 2-13 1-1 2 15 0 40-2 104-1 33-2 9-1 2zM1011 392l2-5 0-10 4-204 0-45-2-91-2 0 3 87 0 54-1 93-1 17-1 7-2-44-1-160 1-54-2 0 3 290zM972 296l2-5 1-19 1-29-1-92-1-8-2 78zM809 192l2-18 2-137-3 0-1 16 0-16-3 0zM776 162l2-39-1-86-3 0 0 99 1 23zM876 131l1 0 1-12 1-82-1 0-1 65-1 13-2-2-1-5-2-12-1-59-1 0 1 65 2 13zM1049 132l8-76 3-19-9 0-1 24-1 9-2-5-1-28-2 0 2 56 1 28zM1184 129l0-92-1 0zM831 123l1-5 1-14 2-67-2 0-2 37-1 6-2-9-1-34-2 0 2 61 1 14 2 8zM785 120l4-16 1-9 2-58-10 0 1 67 1 14zM759 111l4-16 2-10 2-48-10 0 1 57zM1098 105l1-1 2-67-2 0 0 11-1-5 0-6-3 0 1 46zM929 73l1-4 5-32-7 0zM902 65l3-28-6 0 1 22z" style="fill:#eff3f5;stroke:#eff3f5;stroke-width:.8" />
<path d="M730 462l39 0 2-2 13 0 0-7 2-60-1-135-1-30-3 16-2 1-1 4-1 9-2 101-2 23-1 2-3-4-1 4-5 41-5-33-2-3-3 1-1-2-2-6-4-33-1-56 0-115-2-35-1 10-1 12-1 204-1 16-2 7-1 0-1-2-2 1-2 13-2 47 0 11zM745 453l-2-5-2-10-1-28 3-246 1 129 1 60 1 14 4 26 3 34 0 9-3 13-3 5zM779 442l-1-2-2-11-1-26 2-119 1-24 1-4 2 2 3-7 1 141-4 40-2 10zM769 432l-1-9 1-15 1 11zM791 462l4 0 1-2 12 0 1 2 34 0 0-11-2-52-4-44-2-1-4 21-1 4-5 2-1 0-2-2-1 1-2 13-2 35-2 0-5-38-2-10-4-3-9-22-1 1-3 14-3 25zM806 458l-3-5-2-8-2-24 0-24 2-6 1-1 5 2 1 3 2 22 0 32-2 9-1 1zM834 455l-3-4-3-1-2-5-2-11 0-13 1-13 2-9 4-6 3-11 1-2 2 4 1 12 1 36-2 19-2 4zM848 461l0-18-1 2-1 8 1 7zM857 462l22 0 1-127 3-56 3-36 3-46-1-160 0 154-2 28-4 22-1 12-1-35-1 5-1 180-1 31-1 10-2 4-1-1-2-5-4-22-1-2-3 16-2 1 0-12 0-24 3-35 1-130-1-197-1 0 1 189-1 104-1 36-4 50-2 33zM890 462l4 0 0-2 1 2 83 0-4-19-2-40 2-82 3-61 0-193 1-22 1-8-11 0 3 56 1 35-2 115 1 152-1 24-2 16-3 4-1-4-2-23 4-158-1-117-1-13-6-10-2-1-3 16-1 0-2-36-1-56-2 0 1 139-2 58-2 141-2 5-1 1-2-6-2-11 0-78-2-42-3 20-3-6-1-1-2 2-7 35-2 2-1 0-5 70-2 11-2 4-1 1-1-3-2-8-2-26-2-62-2-9-3 0-1 8-2 28 1 70 0 37-3 36 0 9zM906 443l-4-22-2-4-1-9 0-27 1 5 3 21 4-2 2 1 1-2 5-26 1 0 3 12 1 9-1 22-1 13-2 5-1 0-3-8-2-2-3 14zM952 412l-2-30 2-52-2-74 1-44 1-13 3-15 4-39 2-8 1 1 2 7 1 39 0 67-1 81-3 51-2 10-3 8-3 10zM897 349l-1-13 0-24 1 10zM948 347l-1-20 1-23 1 6 1 15-1 15zM972 295l0-74 2-78 1 8 1 92-1 29-1 19zM985 462l26 0 2-2 22 0 2-185-4-160 0-78-2 0 1 78 3 104 1 65-1 61-2 66-2 10-4 15-7 16-2 1-1-3-2-20 0-100 4-187-2-93 2-13-4 0 2 91 0 45-4 204 0 10-2 5 1-65-3-290-2 0 3 139 0 119-2 132-2 16-2 10-2 1-1 0-6-8-1-1-4 11-5 4-1 2zM1044 460l7 0 0-7-2-54-3-40-2-9-1 101 0 9zM1062 460l27 0-6-21-1 0-5 17-1 2-1-2-3-13-1-24 0-183 3-199-1 0-3 191 0 117-1 30-2 14-4 13zM1111 460l17 0 1-33 0-4 2-4 1 10 1 26 33 0 0-43 1-12 1-2 3 19 1 38 10 0-4-13-8-53-3-8-3 3-7 31-5-1-3 2-1-1-3-8-1-2-3 24-2 5-1 1-2-4-4-25-1-5-2-3-1 0-3 8-3 35-1 2-3-12-2-1zM988 263l2-7 0-24-3-134 0-61-7 0 1 21 6 189zM916 211l1-19 2-47 1-108-1 0-1 111-2 17-1-14-1-25 0-89-2 0 1 127 2 39zM1184 202l-1-154 0-11-2 0zM877 153l2-21 1-95-1 0-2 94-1 0-2-5-3-18-1-24-1-47-1 0 1 74zM1119 149l2-15 1-97-6 0 1 86zM1098 145l1-1 1-32 2-75-1 0-2 67-1 1-2-22-1-46-1 0 2 71zM844 123l3-86-4 0 0 84zM830 80l1-6 2-37-6 0 1 34zM1049 70l1-9 1-24-5 0 1 28zM995 62l1-25-2 0zM809 53l1-16-1 0z" style="fill:#f8f1ed;stroke:#f8f1ed;stroke-width:.8" />
<path d="M978 462l6 0 6-6 4-11 1 1 6 8 1 0 2-1 2-6 1-15 2-35 1-100 0-121-3-139-1 0 3 130 0 117-3 128-1 15-1 5-2 3-1-1-1-3-5-16-1-3-2 3-3 17-6 17-2 3-2-1-1-3-2-10-2-37 1-74 3-69 1-170 6 181 2 17 3 18 1 2 1-3 2-15 3-73 1-178-2 0-1 25-1-25-7 0 0 61 3 134 0 24-2 7-1-16-6-195-1-15-2 3-1 6 0 208-3 67-2 85 2 37 2 12zM807 459l1-1 1-3 1-10 0-33-2-17-1-3-5-2-2 2-1 7 0 28 3 22 2 6zM1089 460l21 0 6-30 2 1 3 12 1-2 3-35 3-8 1 0 2 3 2 11 3 19 2 4 1-1 5-29 1 2 3 8 1 1 3-2 5 1 7-31 3-3 3 8 9 58 3 8 2 0 0-27-3-24-1-3-5 2-1-2-7-32-2-2-1 1-3 4-6 22-4 7-2 1-2-7-5-22-2 28-2 9-2 0-1-4-6-24-3-15-3-48-2-70 3-212-2 0-1 97-2 15-2-26-1-86-1 0 0 112 4 53 1 45-4 83-2 19-1 55-3 32-2 13-3 4-10 5-2 0-2-7-5-33-1-2-3 0-2 2-4 14-1-4-2-16-1-169 3-206-1 0-3 199 0 183 1 24 3 13 1 2 1-2 5-17 1 0zM834 455l1 0 2-4 2-19-1-36-1-12-2-4-1 2-3 11-4 6-2 9-1 13 0 13 2 11 2 5 3 1zM746 453l1 1 3-5 3-13 0-9-3-34-4-26-1-14-1-60-1-129-3 246 2 30 1 8zM746 429l-3-5-1-23 1-100 2 70 4 39-1 17-1 2zM1018 453l2-1 6-12 5-17 2-12 1-19 2-125-4-141-1-89-1 0 1 86 3 111 0 80-2 81-3 17-3 11-4 2-2 2-2-2-1-22 0-89 2-110 2-141 1-26-3 0-2 11 2 54 0 48-4 254 1 36 1 10zM874 448l2-4 1-10 1-31 1-180 1-5 1 35 1-12 4-22 2-28 0-154-1 0 0 149-1 22-2 11-1 3-2-1-2-45 1-139-1 4 0 91-2 21-8-42-1-74-4 0 1 186-1 128 0 24-3 28 0 20 0 12 2-1 3-16 1 2 4 22 2 5zM873 425l-5-26-2-32 0-76 0-141 1-26 6 13 2 10 2 20 0 32 1 87-1 107-1 26-2 6zM906 444l1-1 3-14 2 2 3 8 1 0 2-5 1-13 1-22-1-9-3-12-1 0-5 26-1 2-2-1-4 2-3-21-1-5 0 27 1 9 2 4zM779 442l2-5 3-25 1-22-1-139-3 7-2-2-1 4-1 28-2 116 2 28 1 8zM779 417l-1-3-1-15-1-46 1-69 1-12 1-5 3 9 1 12 1 72-1 32-2 20zM965 439l3-4 1-8 2-32 0-304-3-54-2 0 1 28 3 28 0 33 0 258-1 15-1 12-2-7 0-12 1-156-2-123 0-5-4-5-2-10-1-22 0-34-9 0 1 56 2 36 1 0 3-16 2 1 6 10 1 13 1 117-1 82-3 72 1 24zM769 434l1-17-1-9-1 17zM1184 391l0-189-2-156-1-9-1 0 4 243-2 99zM1098 356l1-3 1-23 0-137 3-156-1 0-3 107-1 1-2-37-2-71-1 0 3 143 0 148 0 16zM897 350l0-28-1-10 0 24zM948 347l1-7 1-15-1-15-1-6-1 23zM916 165l2-31 1-97-1 0-1 50-1 29 0-79-2 0 0 89 1 25z" style="fill:#fbe5d8;stroke:#fbe5d8;stroke-width:.8" />
<path d="M1095 458l4-2 4-2 3-2 2-5 2-9 3-41 1-50 2-17 4-68 0-36-5-77 0-112-2 0 0 32 0 105 0 47 2 3 1 11 0 23-1 22-2-5-1 28-1 92-2 23-3 16-4 5-3 1-4 6-2-1-1-6-5-42-1-5-3 7-3 1-3 4-1 0-1-11-2-144 3-184 1-28-2 0-3 206 1 167 2 18 1 4 4-14 2-2 3 0 1 2 5 33 2 7zM979 451l2 1 3-4 6-17 2-16 2-3 1 3 5 16 1 3 1 1 2-3 1-5 1-15 3-139 0-110-3-126-1 0 3 137 0 119-2 100-1 19-3 8-1-2-1-5-3-16-1-46 3-152 0-162-1 0 0 19 0 89-1 70-3 73-2 15-1 3-1-2-3-18-2-17-6-181-1 170-3 69-1 72 2 33 1 11zM980 440l-2-6-1-11-1-31 3-191 2-11 2 72 4 59 0 76-1 19-2 14-2 9-1 2zM746 429l1 0 1-2 1-17-4-39-2-70-1 102 1 21zM743 401l0-35 1 27zM1020 427l2-2 4-2 1-3 4-17 1-17 2-57 0-82-3-106-1-104-1 0 1 97 3 126 0 65-3 59-2 20-2 8-2 0-1-2-3-5-2-12 0-74 2-78 2-176 1-28-1 0-1 28-2 132-2 143 0 68 1 17zM1184 428l0-37-1-5-1-9 2-104-4-236-1 0 1 35 2 221-1 52-2 28-2 12-2 4-1 0-7-31-2-3-1-1-2 1-2 7-7 24-2 5-2 1-2-8-2-15-3-42-3 55-1 11-2 3-1-2-3-9-3-16-4-52-1-52 0-104 0-85 1-39-1 0-3 214 3 87 3 35 8 33 1 4 2 0 2-9 2-28 5 22 2 7 2-1 4-7 6-22 3-4 1-1 3 6 6 28 1 2 5-2 0 2zM874 425l2-11 1-26 1-106-1-102-3-36-1-7-6-13-1 28 0 141 1 87 2 28 2 12 2 5zM873 408l-3-11-1-13-2-76 0-145 1-16 2-6 1 0 2 4 2 15 2 66-1 162-2 20-1 1zM779 418l4-28 1-34-1-68-1-12-3-9-1 5-1 12-1 74 1 45 1 11zM779 401l-1-11-1-43 1-59 1-10 2 24 1 51-1 33zM968 411l1-14 1-33 0-260-3-41-1-26-2 0 0 35 0 11-2 4-1-6-1-9 0-35-2 0 1 54 2 12 4 5 1 22 1 111-1 149 0 14zM968 384l-1-37 1-62 1 49zM968 204l-1-85 1-23 1 14 1 29-1 48zM1098 376l1 0 1-5 1-26 0-158 3-150-1 0-1 9-2 143 0 143-1 21-1 3-2-12 0-21 0-154-3-124 0-8-1 0 2 134 1 165 1 28zM1142 297l1-111-1-59-1-24-1 36 0 50 1 98zM1158 243l2 0 1-11 1-41 0-57-1-18-1 0-2 6-1 18-1 36 0 45zM881 221l2 1 2-5 2-30 0-150 0 141-2 24-1 8-1 3-2-5-1-32 0-139-1 134zM916 116l1-29 1-50-2 0-1 4zM1085 48l1-1 1-10-6 0zM1141 45l1-8-3 0 0 6zM1161 39l1 1 1-3-3 0z" style="fill:#fcd7c2;stroke:#fcd7c2;stroke-width:.8" />
<path d="M1095 446l4-6 3-1 4-5 3-16 2-25 1-90 1-28 2 5 1-26 0-19-1-11-2-3 0-30 0-124 0-30-2 0 1 30-1 171-1 131-2 32-2 10-1 1-3-3-1-10 1-58 0-170 2-134-1 17-2 124 0 169-1 24-1 5-1 0-2-10-1-28-1-186-1-106-1-9-1 0 1 22 2 108 0 186 4 55-1 13-2 10-2-2-1-8-2-20-4-89-3 54-1 9-2-6-3-15-1-18-2-41 1-57 2-78 0-85 2-15 1 6 1 16 1 26-2 78 2 29 3 32 1-10 1-153 1-32 1-15-2 0-1 10-1 1-4-11-4 0-1 14-3 205 2 137 1 11 1 0 3-4 3-1 3-7 1 5 5 42 1 6zM981 441l1-2 3-10 2-32 0-76-4-59-2-72-2 11-3 194 1 32 2 11zM980 429l-1-2-1-10-1-27 1-77 1-35 2-13 3 37 1 34-1 70-1 19-2 4zM1002 420l2-3 1-11 2-31 1-89 0-93-2-141-1-15-1 0 2 123 1 115 0 50-1 57-2 21-2 4-1-3-2-20-1-70 2-91 0-154 1-32-2 0 0 162-3 152 1 46 3 16 1 5zM1024 412l2 0 1-3 3-19 3-93 0-50-3-100-1-110-1 0 1 21 0 83 3 126-2 86-2 33-1 11-1 3-2-1-2-9-2-30 3-289 1-34-1 0-1 22-2 182-2 76 0 78 2 10zM873 409l1 0 1-5 1-18 1-93 0-76-2-59-2-13-2-4-1 0-2 6-1 18 0 145 2 76 1 13zM873 390l-3-30-2-72 0-117 1-17 2-5 2 5 2 17 1 65-1 128-1 21zM743 401l1-8-1-27zM779 401l2-17 1-33-1-49-2-24-1 10-1 61 1 41zM779 382l-1-11-1-31 1-35 1-12 2 56-1 22zM1136 396l2-3 1-11 3-55 3 42 2 15 2 8 2-1 2-5 7-24 2-7 2-1 1 1 2 3 7 31 1 0 2-4 2-12 2-30 1-57-2-215-1-34-2 0 2 37 1 212-2 72-1 15-2 5-1 1-2-3-5-30-3-9-2 1-1 5-8 34-2 5-2 1-1-4-2-13-2-38 0-148-2-111 2-32-2 0-1 8-2-2 0-6-2 0 2 34 1 261-2 41-2 11-1 0-3-7-3-15-2-50-2-173 1-70 1-32-2 0-1 117 1 158 3 55 4 18 3 9zM1142 297l-1-10-1-100 1-84 1 24 1 59zM968 385l1-51-1-49-1 64zM1160 260l1-3 1-6 1-21 1-85 0-78 2-30-3 0-1 3-1-1-1-2-8 0 3 13 1 15-2 100 1 61 2 24 1 8zM1158 241l-2-22 0-45 1-34 1-18 2-6 1 0 1 20 0 64-1 34-1 9-2 0zM883 213l1-3 2-10 1-24-1-139 0 136-1 24-1 5-1 3-2-7-1-27 0-130 0 133 1 32zM968 205l1-18 1-48-1-29-1-14-1 23zM962 87l2-4 0-11 0-35-4 0 0 35 1 9z" style="fill:#f8bfa4;stroke:#f8bfa4;stroke-width:.8" />
<path d="M1095 431l2-10 1-13-3-37-1-20 0-165-2-128-1-21-2 0-1 15-1 32-1 153-1 10-3-32-2-29 2-78-1-26-1-16-1-6-2 15 0 85-2 78-1 57 2 41 1 18 3 15 2 6 1-9 3-54 4 89 2 20 1 8zM1093 404l-1-5-2-30-2-85 1-199 1-38 2 23 1 114 1 211zM1080 336l-3-19-1-28 0-32 1-26 2 3 1 12 3 44 0 37-1 10zM981 429l2-8 2-17 0-70-1-32-3-37-2 13-1 35-1 79 1 28 1 7zM980 414l-1-10-1-18 1-71 2-22 2 15 1 29-1 64-1 11-1 3zM1105 412l1-1 2-12 2-33 2-292-1-37-2 0 2 34-1 165-1 122-1 29-2 5-1-2-2-26 0-182 1-115 2-30-2 0-1 35-1 130 0 145-1 54 1 8zM1002 407l2-6 2-21 1-107-2-217-1-19-3 0-1 32 0 154-2 65 0 55 1 47 2 13zM1002 393l-1-3-1-15-1-41 1-54 2-52-1-154 0-21 1-10 2 29 1 151 1 66-1 77-1 22zM1024 400l2 0 1-3 2-13 3-102-3-145 0-78-1-22-4 0-1 13-1 117 0 93-2 94 1 32zM1025 384l-1-7-1-24 1-93-1-73 1-120 2-23 1 2 1 17 0 63 2 138-2 94-1 20-1 7zM873 390l1-5 1-23 1-126-1-65-2-17-2-5-2 5-1 17 0 117 2 72 1 22zM872 327l-1 0-1-22-1-56 0-71 1-14 1-6 2 4 1 18 1 48-1 59-1 40zM1135 384l1 0 2-9 2-37-1-275-2-26-2 0 2 15 1 22 1 266-2 31-2 5-1-2-3-10-1-15-3-67-1-169 1-52 2-24-2 0-1 32-1 67 2 168 2 54 3 17zM779 384l2-37-2-54-1 12-1 38 1 28zM1149 383l2-1 2-5 8-34 1-5 2-1 3 9 5 30 2 3 1-1 2-5 2-17 1-37 0-50-1-197-2-35-1 0 1 13 1 24 1 210 0 41-2 29-2 14-1 3-2-3-8-56-2-1-6 45-4 14-1 4-2 1-1-3-2-12-2-37 2-143-2-111 0-21 2-11-2 0-1 2-1 30 2 111 0 148 2 38 2 13zM1161 279l2-6 1-30 2-174 2-32-2 0-1 24-1 86-1 87-1 18-2 8-2-2-1-8-2-37 0-155-1-10-2-11-3 0 2 19 1 18 2 164 3 25 1 9 2 5zM883 205l1-3 1-5 1-26 0-134-1 0 1 34 0 87-2 37-1 3-1-3-1-19 0-139 0 11-1 121 1 29z" style="fill:#f4a683;stroke:#f4a683;stroke-width:.8" />
<path d="M981 415l1-7 1-11 1-65-1-26-2-13-2 24-1 71 1 20 0 5zM1093 405l1-10-1-213-1-112-2-23-1 38-1 199 2 85 2 30zM1092 366l-2-5 0-12-2-76 2-197 2 53 1 114 0 89zM1002 394l2-6 1-24 1-76-1-65-1-151-2-29-1 10 0 21 1 154-2 52-1 54 1 41 1 15zM1002 377l-1-13-1-32 1-46 1-20 2 0 0 3 1 35-1 60zM1106 392l2-5 1-23 1-91 1-201-2-35-3 0-1 9-2 128 0 192 1 20 1 4zM1106 375l-1-6-1-20-1-156 2-126 1-24 2-3 1 10 1 22 0 156-2 126 0 14-2 8zM1026 385l1-7 1-25 2-91-2-136 0-63-1-17-1-2-2 23-1 124 1 69-1 94 1 25zM1027 275l-3-84 2-65 1 21 1 53zM1135 376l1-3 2-11 1-30-2-263-2-32-6 0-2 22-1 51 1 165 3 76 2 18zM1134 366l-3-17-2-24-2-126 1-123 1-24 2-9 1-4 2 1 1 6 1 26 2 225-1 56-1 11-1 3zM1149 375l2-1 1-4 4-14 6-45 2 1 8 56 2 3 1-3 2-15 2-51 0-105-1-128-2-32-3 0 2 13 1 24 2 223-1 44-2 16-1 4-2-2-1-6-2-17-3-32-1-22 2-211 1-21 2-13-2 0-2 21-2 181-1 30-2 10-1-2-2-5-1-9-3-31-3-173-2-22-3 0-1 8-1 31 2 111-2 132 2 39 2 14zM1149 367l-1-3-2-13-1-43 2-130-2-104 2-25 1 1 2 21 3 155 5 78 0 21-2 20-4 17-1 5zM1080 336l2 1 1-12 0-36-3-43-1-12-2-3-1 26 0 32 1 28zM873 327l2-63 0-43-1-45-1-14-2-4-1 6-1 16 0 78 1 47 1 22zM871 275l-1-21 0-33 0-32 1-19 2 4 0 10 1 48-1 39-2 5zM883 198l1-3 1-4 1-28 0-91-1-35 1 34 0 72-2 44-1 3-2-17 0-95 1-41-1 0 0 19 0 109 0 23z" style="fill:#e8896c;stroke:#e8896c;stroke-width:.8" />
<path d="M1002 378l2-18 1-59-1-34 0-1-2 0-1 22-1 48 1 31zM1106 376l2-8 0-15 2-132 0-150-1-21-1-10-2 3-1 24-2 132 1 152 1 19zM1106 356l-1-25-1-136 2-119 0-17 2-3 1 31 0 128-1 117zM1149 368l2-1 1-5 4-19 2-18 0-21-5-78-3-155-2-21-1-1-2 25 2 104-2 132 1 43 2 11zM1149 360l-1-4-1-16-1-45 2-106 1-25 3 64 4 80-2 33-2 15-1 3zM1092 367l1-133-1-105-2-53-2 199 2 78 0 8zM1090 336l-1-74 1-99 2 36 0 74 0 59zM1135 367l2-13 1-31-1-236-2-39-1-8-2-1-1 4-2 9-1 30-1 143 3 113 2 22 2 5zM1133 354l-2-14-1-26-2-112 1-115 1-26 2-9 2 1 0 5 1 22 2 211-1 54-1 11-1 0zM1174 361l1-4 2-14 1-39-2-224 0-24-2-13-1-6-3 0-2 13-1 21-2 211 1 22 3 32 2 17 1 6zM1173 349l-5-37-1-41 2-193 0-24 2-9 1 2 2 7 1 17 1 133 0 117-1 22-1 7zM871 276l2-3 0-8 1-35-1-46 0-10-2-4-1 19 0 34 0 31zM871 247l0-57 2 7 0 28 0 21-2 3zM1027 275l1-75-1-53-1-21-2 65zM883 190l1-3 1-3 1-30 0-82-1-35-3 0-1 26 0 98zM883 180l-1-26-1-46 1-43 1-26 1 3 1 10 0 58 0 59-1 9-1 3z" style="fill:#db6b55;stroke:#db6b55;stroke-width:.8" />
<path d="M1149 360l2-1 1-5 2-13 2-35-4-78-3-64-1 25-2 106 1 45 1 16zM1149 351l-2-19-1-39 2-60 1-11 5 53 1 31-2 34-2 10-2 2zM1106 357l2-25 1-117 0-128-1-31-2 3 0 17-2 119 1 136zM1106 306l-1-94 1-112 2 9 0 84 0 67zM1134 356l1 0 2-13 0-67-2-196-1-22 0-5-2-1-2 9-1 28-1 121 2 109 2 26zM1134 343l-2-8-1-26-2-86 1-99 1-34 1-16 2 3 1 29 1 122 0 91-1 22zM1174 350l1-10 2-32-1-130-1-109-2-17-1-5-1-2-2 9 0 24-2 197 3 52 2 22zM1172 334l-2-30-2-40 2-161 1-38 1 3 1 21 2 167 0 59-1 19zM1090 336l2-4 0-59 0-74-2-36-1 99zM1090 297l0-68 1 40zM871 249l2-3 0-21 0-28-2-7zM883 181l1-3 1-11 0-65 0-52-1-8-1-3-1 28-1 48 1 43zM883 169l-1-61 1-59 1 5 1 52-1 58z" style="fill:#cc4c44;stroke:#cc4c44;stroke-width:.8" />
<path d="M1149 352l2-2 2-12 2-34-1-29-5-53-1 11-2 62 1 39 1 11zM1149 340l-1-13-1-34 1-35 1-11 3 27 1 30-1 26-1 9-2 2zM1134 344l1-3 1-22 0-94-1-119-1-29-2-3-1 16-1 34-1 101 2 84 1 26zM1134 323l-2-19-2-66 1-80 1-37 2 10 1 90 0 83zM1172 334l2 0 1-26 0-95-2-129-1-16-1-3-1 38-2 161 2 40zM1172 306l-1-20-1-37 0-52 1-52 1 8 2 57 0 76zM1106 306l2-46 0-67 0-84-2-9-1 112zM1090 299l1-32-1-38zM883 170l1-7 1-61-1-48-1-5-1 61zM883 148l0-81 1 17 0 20z" style="fill:#bd2d35;stroke:#bd2d35;stroke-width:.8" />
<path d="M1149 341l2-2 1-11 1-26-1-28-3-27-1 11-1 37 1 35zM1149 323l-1-28 1-26 2 7 1 25-1 20-2 4zM1134 323l1-19 0-83-1-90-2-10-1 37-1 80 2 66zM1132 249l0-38 1 25zM1172 308l2-22 0-78-2-55-1-8-1 52 0 54 1 38zM883 149l1-47 0-18-1-17z" style="fill:#a81529;stroke:#a81529;stroke-width:.8" />
<path d="M1149 325l2-4 1-20-1-25-2-7-1 28zM1132 249l1-13-1-25z" style="fill:#870a24;stroke:#870a24;stroke-width:.8" />
</g></g>
<g id="matplotlib.axis_5">
<g id="xtick_10">
<g id="line2d_30">
<g>
<use href="#mbc3e3207b5" x="361.5" y="241.2" style="stroke:#000000;stroke-width:1" />
</g>
</g>
</g>
<g id="xtick_11">
<g id="line2d_31">
<g>
<use href="#mbc3e3207b5" x="390.3" y="241.2" style="stroke:#000000;stroke-width:1" />
</g>
</g>
</g>
<g id="xtick_12">
<g id="line2d_32">
<g>
<use href="#mbc3e3207b5" x="419.1" y="241.2" style="stroke:#000000;stroke-width:1" />
</g>
</g>
</g>
<g id="xtick_13">
<g id="line2d_33">
<g>
<use href="#mbc3e3207b5" x="447.9" y="241.2" style="stroke:#000000;stroke-width:1" />
</g>
</g>
</g>
<g id="xtick_14">
<g id="line2d_34">
<g>
<use href="#mbc3e3207b5" x="476.7" y="241.2" style="stroke:#000000;stroke-width:1" />
</g>
</g>
</g>
<g id="xtick_15">
<g id="line2d_35">
<g>
<use href="#mbc3e3207b5" x="505.6" y="241.2" style="stroke:#000000;stroke-width:1" />
</g>
</g>
</g>
<g id="xtick_16">
<g id="line2d_36">
<g>
<use href="#mbc3e3207b5" x="534.4" y="241.2" style="stroke:#000000;stroke-width:1" />
</g>
</g>
</g>
<g id="xtick_17">
<g id="line2d_37">
<g>
<use href="#mbc3e3207b5" x="563.2" y="241.2" style="stroke:#000000;stroke-width:1" />
</g>
</g>
</g>
<g id="xtick_18">
<g id="line2d_38">
<g>
<use href="#mbc3e3207b5" x="592" y="241.2" style="stroke:#000000;stroke-width:1" />
</g>
</g>
</g>
</g>
<g id="matplotlib.axis_6">
<g id="ytick_16">
<g id="line2d_39">
<g>
<use href="#m0c8410b8b1" x="361.5" y="241.2" style="stroke:#000000;stroke-width:1" />
</g>
</g>
</g>
<g id="ytick_17">
<g id="line2d_40">
<g>
<use href="#m0c8410b8b1" x="361.5" y="204.1" style="stroke:#000000;stroke-width:1" />
</g>
</g>
</g>
<g id="ytick_18">
<g id="line2d_41">
<g>
<use href="#m0c8410b8b1" x="361.5" y="167" style="stroke:#000000;stroke-width:1" />
</g>
</g>
</g>
<g id="ytick_19">
<g id="line2d_42">
<g>
<use href="#m0c8410b8b1" x="361.5" y="129.9" style="stroke:#000000;stroke-width:1" />
</g>
</g>
</g>
<g id="ytick_20">
<g id="line2d_43">
<g>
<use href="#m0c8410b8b1" x="361.5" y="92.8" style="stroke:#000000;stroke-width:1" />
</g>
</g>
</g>
<g id="ytick_21">
<g id="line2d_44">
<g>
<use href="#m0c8410b8b1" x="361.5" y="55.7" style="stroke:#000000;stroke-width:1" />
</g>
</g>
</g>
</g>
<g id="arrows_b" />
<g id="line2d_45">
<path d="M443.9 239.7L443.9 18.6" clip-path="url(#p26001cd7fa)" style="fill:none;stroke:#ffffff;stroke-width:1.6" />
</g>
<g id="line2d_46">
<path d="M443.9 239.7L443.9 18.6" clip-path="url(#p26001cd7fa)" style="fill:none;stroke-dasharray:4.6,2.5;stroke-dashoffset:0;stroke:#333333;stroke-width:1.6" />
</g>
<g id="line2d_47">
<path d="M523 239.7L523 18.6" clip-path="url(#p26001cd7fa)" style="fill:none;stroke:#ffffff;stroke-width:1.6" />
</g>
<g id="line2d_48">
<path d="M523 239.7L523 18.6" clip-path="url(#p26001cd7fa)" style="fill:none;stroke-dasharray:4.6,2.5;stroke-dashoffset:0;stroke:#333333;stroke-width:1.6" />
</g>
<g id="line2d_49">
<path d="M443.9 239.7L523 239.7" clip-path="url(#p26001cd7fa)" style="fill:none;stroke-dasharray:4.6,2.5;stroke-dashoffset:0;stroke:#333333;stroke-width:1.6" />
</g>
<g id="patch_11">
<path d="M361.5 241.2L361.5 18.6" style="fill:none;stroke:#000000;stroke-width:1;stroke-linejoin:miter;stroke-linecap:square" />
</g>
<g id="patch_12">
<path d="M592 241.2L592 18.6" style="fill:none;stroke:#000000;stroke-width:1;stroke-linejoin:miter;stroke-linecap:square" />
</g>
<g id="patch_13">
<path d="M361.5 241.2L592 241.2" style="fill:none;stroke:#000000;stroke-width:1;stroke-linejoin:miter;stroke-linecap:square" />
</g>
<g id="patch_14">
<path d="M361.5 18.6L592 18.6" style="fill:none;stroke:#000000;stroke-width:1;stroke-linejoin:miter;stroke-linecap:square" />
</g>
<g id="text_19">
<g id="patch_15">
<path d="M365 33.5L384.9 33.5L384.9 21.2L365 21.2z" style="fill:#ffffff" />
</g>
<text style="font-weight:700;font-size:11.7px;font-family:&quot;Liberation Sans&quot;, sans-serif;text-anchor:start" x="365.4" y="30.6" transform="rotate(0 365.4 30.6)" textLength="19" lengthAdjust="spacingAndGlyphs">(b)</text>
</g>
</g>
<g id="axes_4">
<g id="patch_16">
<path d="M606.4 241.2L617.6 241.2L617.6 18.6L606.4 18.6z" style="fill:#ffffff" />
</g>
<g id="QuadMesh_2">
<path d="M606.4 241.2L617.6 241.2L617.6 231.1L606.4 231.1L606.4 241.2" clip-path="url(#pd825c84d82)" style="fill:#1d5fa2" />
<path d="M606.4 231.1L617.6 231.1L617.6 221L606.4 221L606.4 231.1" clip-path="url(#pd825c84d82)" style="fill:#2b73b3" />
<path d="M606.4 221L617.6 221L617.6 210.8L606.4 210.8L606.4 221" clip-path="url(#pd825c84d82)" style="fill:#3a87bd" />
<path d="M606.4 210.8L617.6 210.8L617.6 200.7L606.4 200.7L606.4 210.8" clip-path="url(#pd825c84d82)" style="fill:#4f9bc7" />
<path d="M606.4 200.7L617.6 200.7L617.6 190.6L606.4 190.6L606.4 200.7" clip-path="url(#pd825c84d82)" style="fill:#71b0d3" />
<path d="M606.4 190.6L617.6 190.6L617.6 180.5L606.4 180.5L606.4 190.6" clip-path="url(#pd825c84d82)" style="fill:#93c6de" />
<path d="M606.4 180.5L617.6 180.5L617.6 170.4L606.4 170.4L606.4 180.5" clip-path="url(#pd825c84d82)" style="fill:#b1d5e7" />
<path d="M606.4 170.4L617.6 170.4L617.6 160.3L606.4 160.3L606.4 170.4" clip-path="url(#pd825c84d82)" style="fill:#cce2ef" />
<path d="M606.4 160.3L617.6 160.3L617.6 150.1L606.4 150.1L606.4 160.3" clip-path="url(#pd825c84d82)" style="fill:#deebf2" />
<path d="M606.4 150.1L617.6 150.1L617.6 140L606.4 140L606.4 150.1" clip-path="url(#pd825c84d82)" style="fill:#eff3f5" />
<path d="M606.4 140L617.6 140L617.6 129.9L606.4 129.9L606.4 140" clip-path="url(#pd825c84d82)" style="fill:#f8f1ed" />
<path d="M606.4 129.9L617.6 129.9L617.6 119.8L606.4 119.8L606.4 129.9" clip-path="url(#pd825c84d82)" style="fill:#fbe5d8" />
<path d="M606.4 119.8L617.6 119.8L617.6 109.7L606.4 109.7L606.4 119.8" clip-path="url(#pd825c84d82)" style="fill:#fcd7c2" />
<path d="M606.4 109.7L617.6 109.7L617.6 99.5L606.4 99.5L606.4 109.7" clip-path="url(#pd825c84d82)" style="fill:#f8bfa4" />
<path d="M606.4 99.5L617.6 99.5L617.6 89.4L606.4 89.4L606.4 99.5" clip-path="url(#pd825c84d82)" style="fill:#f4a683" />
<path d="M606.4 89.4L617.6 89.4L617.6 79.3L606.4 79.3L606.4 89.4" clip-path="url(#pd825c84d82)" style="fill:#e8896c" />
<path d="M606.4 79.3L617.6 79.3L617.6 69.2L606.4 69.2L606.4 79.3" clip-path="url(#pd825c84d82)" style="fill:#db6b55" />
<path d="M606.4 69.2L617.6 69.2L617.6 59.1L606.4 59.1L606.4 69.2" clip-path="url(#pd825c84d82)" style="fill:#cc4c44" />
<path d="M606.4 59.1L617.6 59.1L617.6 49L606.4 49L606.4 59.1" clip-path="url(#pd825c84d82)" style="fill:#bd2d35" />
<path d="M606.4 49L617.6 49L617.6 38.8L606.4 38.8L606.4 49" clip-path="url(#pd825c84d82)" style="fill:#a81529" />
<path d="M606.4 38.8L617.6 38.8L617.6 28.7L606.4 28.7L606.4 38.8" clip-path="url(#pd825c84d82)" style="fill:#870a24" />
<path d="M606.4 28.7L617.6 28.7L617.6 18.6L606.4 18.6L606.4 28.7" clip-path="url(#pd825c84d82)" style="fill:#67001f" />
</g>
<g id="matplotlib.axis_7" />
<g id="matplotlib.axis_8">
<g id="ytick_22">
<g id="line2d_50">
<g>
<use href="#mbff90f7d70" x="617.6" y="231.1" style="stroke:#000000;stroke-width:1" />
</g>
</g>
<g id="text_20">
<text style="font-size:10.4px;font-family:&quot;Liberation Sans&quot;, sans-serif;text-anchor:start" x="627.3" y="235" transform="rotate(0 627.3 235)" textLength="31.9" lengthAdjust="spacingAndGlyphs">−0.36</text>
</g>
</g>
<g id="ytick_23">
<g id="line2d_51">
<g>
<use href="#mbff90f7d70" x="617.6" y="200.7" style="stroke:#000000;stroke-width:1" />
</g>
</g>
<g id="text_21">
<text style="font-size:10.4px;font-family:&quot;Liberation Sans&quot;, sans-serif;text-anchor:start" x="627.3" y="204.7" transform="rotate(0 627.3 204.7)" textLength="31.9" lengthAdjust="spacingAndGlyphs">−0.24</text>
</g>
</g>
<g id="ytick_24">
<g id="line2d_52">
<g>
<use href="#mbff90f7d70" x="617.6" y="170.4" style="stroke:#000000;stroke-width:1" />
</g>
</g>
<g id="text_22">
<text style="font-size:10.4px;font-family:&quot;Liberation Sans&quot;, sans-serif;text-anchor:start" x="627.3" y="174.3" transform="rotate(0 627.3 174.3)" textLength="31.9" lengthAdjust="spacingAndGlyphs">−0.12</text>
</g>
</g>
<g id="ytick_25">
<g id="line2d_53">
<g>
<use href="#mbff90f7d70" x="617.6" y="140" style="stroke:#000000;stroke-width:1" />
</g>
</g>
<g id="text_23">
<text style="font-size:10.4px;font-family:&quot;Liberation Sans&quot;, sans-serif;text-anchor:start" x="627.3" y="144" transform="rotate(0 627.3 144)" textLength="23.2" lengthAdjust="spacingAndGlyphs">0.00</text>
</g>
</g>
<g id="ytick_26">
<g id="line2d_54">
<g>
<use href="#mbff90f7d70" x="617.6" y="109.7" style="stroke:#000000;stroke-width:1" />
</g>
</g>
<g id="text_24">
<text style="font-size:10.4px;font-family:&quot;Liberation Sans&quot;, sans-serif;text-anchor:start" x="627.3" y="113.6" transform="rotate(0 627.3 113.6)" textLength="23.2" lengthAdjust="spacingAndGlyphs">0.12</text>
</g>
</g>
<g id="ytick_27">
<g id="line2d_55">
<g>
<use href="#mbff90f7d70" x="617.6" y="79.3" style="stroke:#000000;stroke-width:1" />
</g>
</g>
<g id="text_25">
<text style="font-size:10.4px;font-family:&quot;Liberation Sans&quot;, sans-serif;text-anchor:start" x="627.3" y="83.3" transform="rotate(0 627.3 83.3)" textLength="23.2" lengthAdjust="spacingAndGlyphs">0.24</text>
</g>
</g>
<g id="ytick_28">
<g id="line2d_56">
<g>
<use href="#mbff90f7d70" x="617.6" y="49" style="stroke:#000000;stroke-width:1" />
</g>
</g>
<g id="text_26">
<text style="font-size:10.4px;font-family:&quot;Liberation Sans&quot;, sans-serif;text-anchor:start" x="627.3" y="52.9" transform="rotate(0 627.3 52.9)" textLength="23.2" lengthAdjust="spacingAndGlyphs">0.36</text>
</g>
</g>
<g id="ytick_29">
<g id="line2d_57">
<g>
<use href="#mbff90f7d70" x="617.6" y="18.6" style="stroke:#000000;stroke-width:1" />
</g>
</g>
<g id="text_27">
<text style="font-size:10.4px;font-family:&quot;Liberation Sans&quot;, sans-serif;text-anchor:start" x="627.3" y="22.6" transform="rotate(0 627.3 22.6)" textLength="23.2" lengthAdjust="spacingAndGlyphs">0.48</text>
</g>
</g>
<g id="text_28">
<g transform="translate(676.2 165.1) rotate(-90)">
<text>
<tspan x="0" y="-1.2" style="font-size:10.4px;font-family:&quot;Liberation Sans&quot;, sans-serif" textLength="7.13" lengthAdjust="spacingAndGlyphs">Δ</tspan>
<tspan x="28.8" y="-1.2" style="font-size:10.4px;font-family:&quot;Liberation Sans&quot;, sans-serif"> </tspan>
<tspan x="32.1" y="-1.2" style="font-size:10.4px;font-family:&quot;Liberation Sans&quot;, sans-serif" textLength="4.06" lengthAdjust="spacingAndGlyphs">[</tspan>
<tspan x="36.2" y="-1.2" style="font-size:10.4px;font-family:&quot;Liberation Sans&quot;, sans-serif" textLength="10.15" lengthAdjust="spacingAndGlyphs">m</tspan>
<tspan x="46.4" y="-1.2" style="font-size:10.4px;font-family:&quot;Liberation Sans&quot;, sans-serif"> </tspan>
<tspan x="49.7" y="-1.2" style="font-size:10.4px;font-family:&quot;Liberation Sans&quot;, sans-serif" textLength="5.43" lengthAdjust="spacingAndGlyphs">s</tspan>
<tspan x="66.3" y="-1.2" style="font-size:10.4px;font-family:&quot;Liberation Sans&quot;, sans-serif" textLength="4.06" lengthAdjust="spacingAndGlyphs">]</tspan>
<tspan x="7.1" y="-1.2" style="font-style:oblique;font-size:10.4px;font-family:&quot;Liberation Sans&quot;, sans-serif" textLength="8.52" lengthAdjust="spacingAndGlyphs">w</tspan>
<tspan x="15.6" y=".6" style="font-style:oblique;font-size:7.3px;font-family:&quot;Liberation Sans&quot;, sans-serif" textLength="4.63" lengthAdjust="spacingAndGlyphs">p</tspan>
<tspan x="20.3" y=".6" style="font-style:oblique;font-size:7.3px;font-family:&quot;Liberation Sans&quot;, sans-serif" textLength="4.46" lengthAdjust="spacingAndGlyphs">o</tspan>
<tspan x="24.7" y=".6" style="font-style:oblique;font-size:7.3px;font-family:&quot;Liberation Sans&quot;, sans-serif" textLength="3.80" lengthAdjust="spacingAndGlyphs">s</tspan>
<tspan x="55.2" y="-5.4" style="font-size:7.3px;font-family:&quot;Liberation Sans&quot;, sans-serif" textLength="6.11" lengthAdjust="spacingAndGlyphs">−</tspan>
<tspan x="61.3" y="-5.4" style="font-size:7.3px;font-family:&quot;Liberation Sans&quot;, sans-serif" textLength="4.64" lengthAdjust="spacingAndGlyphs">1</tspan>
</text>
</g>
</g>
</g>
<g id="LineCollection_2" />
<g id="patch_17">
<path d="M606.4 241.2L612 241.2L617.6 241.2L617.6 18.6L612 18.6L606.4 18.6L606.4 241.2z" style="fill:none;stroke:#000000;stroke-width:1;stroke-linejoin:miter;stroke-linecap:square" />
</g>
</g>
<g id="axes_5">
<g id="patch_18">
<path d="M33.5 482.1L263.6 482.1L263.6 259.5L33.5 259.5z" style="fill:#ffffff" />
</g>
<g id="QuadContourSet_3" clip-path="url(#p3f610aff29)">
<g transform="scale(.5)"><path d="M438 892l3-2 1-4 1-11-2-23-3-10-1 1-2 6-1 22 1 15 2 5zM465 887l2 0 1-3 2-6 1-20 0-29-1-11-2-4-1 0-2 7-3 36 0 22 2 7zM87 572l2 0 1-1 4-11 1-11 0-11-2-10-3-9-9 0-2 13 0 15 4 18zM211 543l1-1 2-5 1-18-7 0 1 15z" style="fill:#e7f0f4;stroke:#e7f0f4;stroke-width:.8" />
<path d="M434 937l3-1 5-4 5-1 7 1 10 2 3-2 7-9 3-1 3 4 3 10 44 0 0-43-1-6-1-10 1-9 1-8 0-203-17 5-5 5-2 7-2-3-3-24-4-12-4-4-7 3-3-1-3-3-7-15-3-2-3 1-9 11-4 3-3 0-7-1-3 1-9 17-2 2-2 1-3-3-8-13-3 0-3 5-9 36-7 16-2 10 0 18 3 64-3 50 0 24 2 46 1 13 3 15 3 5 2 0 3 0 10-11 4-2 3 0 4 3 6 10zM438 892l-1-1-2-5-1-16 1-21 2-6 1-1 3 10 2 23-1 11-3 6zM464 886l-2-11 0-26 3-30 2-5 1 0 2 4 1 13 0 31-3 22-1 3-2 0zM498 816l-7-10-1 1-3 4-2 1-1-5-1-15 1-10 1-1 5-1 3-9 2-20 2-45 4-29 2 17 1 88-2 28-2 6-2 1zM452 807l-1-4 0-13 1-26 0-28 2-11 1 4 1 11-2 22 0 35zM106 929l4 0 9-4 8 0 5-3 4-8 7-17 2-1 5-2 3-5 4-12 4-15 1-3 1 0 9 18 10 13 7 13 3 3 4 1 6-1 4-3 3-4 5-16 10-23 8-33 8-19 3-20 1-32-3-62-8-125 0-50-18 0-1 18-2 5-1 1-2-9-1-15-19 0 0 28 10 55 2 26-1 15-6 54-2 10-3 8-1 0-2-4-1-8 1-39-3-54 0-21 4-42-1-28-28 0-2 32-4 26-1 7 2 10 3 8 2 0 4-10 1 7-5 18-6 79-6 39-3 14-1 2-2-1-1-2-3-7-1-2-2 1-12 26-4 4-3 1-14-4-3-2-1-3-9-24-3-11-1-13 1-13 1-8 2-5 3-2 4 2 3 0 3-3 12-35 2-5 2-1 3 3 4 14 12 55 1 3 1-1 2-4 2-11 1-15-1-74 1-13 5-24-4-41-1-17-52 0 4 15 1 15-2 15-2 5-2 3-2 0-1-1-3-6-4-16 0-17 2-13-14 0 0 347 12 6 2 1 3-2 3-3 2-6 5-22 2 1 3 49-1 30 2 5 2 2zM186 827l-2-9 0-11 2-10 2-3 1 0 2 2 1 7 0 13-3 11-1 1zM212 816l-1-6-1-11 1-11 1-2 2 4 1 17-1 10zM334 831l3-1 5-3 11-15 3-5 2-10-2-6-6 1-4-5-9-25-1-2-2-1-1 3-5 19-6 18-1 9 1 8 3 7 5 6zM268 776l2-2 1-6 2-28 0-21-2-10-1-2-2 1-2 11-2 24 1 25 2 6zM375 703l1-1 2-1 2-11-1-14-3-8-1 1-2 3-1 10 0 13 1 6zM258 608l3 0 2-2 2-15 1-26 1-46-25 0 1 33 3 26 5 19 4 8zM345 591l2 2 3-2 5-11 3-13 8-44 2 2 5 11 2 1 3 0 3-5 1-13-49 0 1 24 3 22 3 17zM431 578l1 2 2-1 1-8 1-52-12 0 2 39 2 12z" style="fill:#f2f5f6;stroke:#f2f5f6;stroke-width:.8" />
<path d="M68 944l13 0-5-4 0-4 4-4 6-1 10 2 7 3 2 2-7 4-5 2 20 0 2-2-7-4 1-2 8-3 13-2 13-8 23-10 13-1 13 4 7 0 12-1 11-6 5-1 10 1 10-1 11 1 10-5 9-3 9-6 17-9 4 1 6 7 3 0 3-4 5-15 3-7 5-4 4-1 4 1 5 1 8 7 5 4 2 5 6 18 3 7 4 4 8 0 2 3 4 18 4 11 83 0 0-4 1-2 8 0-3-10-3-4-3 1-7 9-3 2-10-2-7-1-5 1-7 5-3-1-7-12-4-3-3 0-4 2-10 11-3 0-2 0-3-5-4-22-2-45 0-30 3-51-3-64 0-18 2-10 7-16 9-36 3-5 3 0 8 13 3 3 2-1 2-2 9-17 3-1 7 1 4-1 13-14 3 1 2 1 7 15 3 3 3 1 7-3 4 4 4 12 3 24 2 3 2-7 5-5 17-5 0-32-6 0-2-2-3-6 0-7 3-20 5-20 3-5 0-46-91 0-1 48-1 10-2 3-3-5-3-13-1-17-1-26-42 0-1 14-2 3-3 2-4-4-4-9-2-2-10 55-4 11-5 4-2-2-3-5-4-15-4-26-1-26-66 0-2 69-2 16-2 4-1 1-3-2-4-7-4-9-3-11-3-26-1-35-9 0 0 48 9 156 2 41-1 24-3 20-6 15-9 33-11 27-5 16-3 4-5 3-6 1-4-2-3-4-6-11-10-13-9-18-1 0-1 3-4 15-4 12-3 5-5 2-2 1-7 17-4 8-5 3-8 0-10 4-3 0-3-1-3-3-2-5 1-30-2-20-1-25 0-4-2-1-5 22-2 6-3 3-3 2-2-1-12-6 0 78zM333 831l-4-3-5-7-2-5-1-8 1-9 6-18 5-19 1-3 2 1 1 2 9 25 4 5 6-1 1 8 0 6-2 5-10 13-6 7-3 1zM268 775l-3-11-1-22 2-26 2-8 2-1 1 2 2 10 0 24-2 25-1 6-2 2zM295 747l-2-4-2-9-2-22 1-22 2-10 2-1 2 2 2 14 2 34-1 16-2 3zM373 701l-1-8 0-13 1-8 2-3 1-1 2 2 1 7 1 15-2 9-2 1-1 1zM527 893l0-33-1 8-1 9 1 10zM186 828l2 0 2-3 2-11 0-11-1-7-2-2-1 0-2 3-2 11 0 13zM212 817l2 0 1-10-1-17-2-4-1 2-1 11 1 12zM498 817l2-1 1-3 2-7 2-25-2-87-2-17-4 29-2 45-2 20-3 9-5 1-1 1-1 10 1 15 1 5 2-1 3-4 1-1zM452 807l2-10 0-35 2-22-1-11-1-4-2 11 0 28-1 26 0 13zM110 770l6 0 3-2 14-28 2-1 1 2 4 9 2 1 1-2 2-6 7-47 6-79 5-18-1-7-4 10-2 0-3-8-2-10 1-7 4-26 2-32-16 0 1 17 4 41-4 22-2 13 0 18 1 62-2 15-3 11-1 1-1-3-13-61-3-8-3-3-2 1-2 5-12 35-1 2-3 1-6-2-1 0-3 4-2 6-1 10 0 11 1 10 3 11 10 27 3 2zM188 715l1 0 2-2 1-7 8-61 1-17-2-26-10-55 0-28-3 0 1 30-3 39-1 20 3 56-1 39 1 8z" style="fill:#f8f3f0;stroke:#f8f3f0;stroke-width:.8" />
<path d="M79 942l2 2 12 0 5-2 7-4-2-2-9-4-5-1-6 0-4 2-3 3 0 4zM130 943l9 1 1-1-6-5 0-2 2-1 4-3 29-11 10-2 16 3 13 0 17-5 12 0 10-1 13 0 27-6 7-1 9 1 14 4 6-2 9-8 2-1 3 1 19 13 12 14 14 7 2 4 7 0-4-11-4-18-2-3-8 0-4-4-3-7-6-18-2-5-5-4-8-7-5-1-4-1-4 1-5 4-3 7-5 15-3 4-3 0-6-7-4-1-17 9-9 6-9 3-10 5-11-1-10 1-10-1-5 1-11 6-12 1-7 0-14-4-13 1-12 6-10 4-12 8-4 1-10 1-8 3-1 2 7 4 14 0zM296 748l1 0 1-1 1-4 1-16-2-34-2-12-2-2-1 0-2 4-1 9-1 22 2 25 2 5zM521 625l6 0 0-60-3 5-4 14-4 20 0 8 1 7 2 4z" style="fill:#f9ebe3;stroke:#f9ebe3;stroke-width:.8" />
<path d="M139 942l13 0 1 2 12 0-14-6-1-2 13-7 12-4 7 0 13 2 14 1 16-4 10 0 12-1 13 0 24-5 7-1 12 1 11 5 5 1 4 0 9-4 4 1 12 8 21 9 3 2 1 2 11 0-2-4-12-5-5-4-9-12-19-13-3-1-2 1-9 8-6 2-14-4-9-1-7 1-27 6-13 0-10 1-12 0-17 5-13 0-16-3-10 2-24 9-6 3-5 3 0 2z" style="fill:#fbe4d6;stroke:#fbe4d6;stroke-width:.8" />
<path d="M160 942l5 2 13 0-8-4-2-2 0-2 3-3 7-3 5 1 11 2 12 0 19-3 22-2 14 0 29-4 9 1 17 4 20 1 23 7 6 3 0 2 8 0-1-2-3-2-21-9-12-8-4-1-9 4-4 0-5-1-11-5-12-1-7 1-24 5-13 0-12 1-10 0-16 4-14-1-13-2-7 0-12 4-13 7 1 2z" style="fill:#fddcc9;stroke:#fddcc9;stroke-width:.8" />
<path d="M173 942l5 2 27 0-5-2-2-2 3-2 20-5 24-2 16 0 27-2 49 4 18 5 3 2 1 2 6 0 0-2-6-3-19-6-7-1-19-1-15-4-9-1-29 4-14 0-22 2-19 3-12 0-11-2-5-1-7 3-3 3 0 2z" style="fill:#fbceb7;stroke:#fbceb7;stroke-width:.8" />
<path d="M201 942l4 2 8 0-3-2 0-2 7-3 8-2 20-2 43-2 48 4 10 2 6 3 1 2-1 2 3 0 1-2 3 0-1-2-3-2-18-5-49-4-27 2-16 0-23 2-21 5-3 2z" style="fill:#f8bfa4;stroke:#f8bfa4;stroke-width:.8" />
<path d="M211 943l2 1 5 0-2-2 0-2 5-2 9-2 17-2 40-2 46 4 7 2 6 2 2 2-1 2 5 0 1-2-1-2-4-2-12-3-48-4-43 2-21 2-11 3-3 2 0 2z" style="fill:#f6b394;stroke:#f6b394;stroke-width:.8" />
<path d="M217 943l1 1 5 0-2-2 1-2 2-1 18-4 45-2 16 1 31 4 8 2 1 2-1 2 5 0 1-2-2-2-4-2-8-2-47-4-40 2-19 2-10 3-2 1 0 2z" style="fill:#f3a481;stroke:#f3a481;stroke-width:.8" />
<path d="M221 942l2 2 5 0-2-2 1-2 18-4 42-2 17 1 26 3 7 2 2 2-2 2 5 0 1-2-3-2-8-3-29-3-16-1-45 2-16 3-4 2z" style="fill:#eb9172;stroke:#eb9172;stroke-width:.8" />
<path d="M227 943l1 1 5 0-2-2 2-2 12-3 41-2 17 1 21 3 7 1 2 1 1 1-2 2 5 0 2-2-2-2-8-2-25-3-18-1-44 3-15 3-1 2z" style="fill:#e37e64;stroke:#e37e64;stroke-width:.8" />
<path d="M232 943l1 1 5 0-2-2 2-2 9-2 39-2 15 0 15 2 9 2 2 2 1 0-2 2 6 0 2-2-3-2-9-2-19-2-17-1-42 2-11 3-2 2z" style="fill:#db6b55;stroke:#db6b55;stroke-width:.8" />
<path d="M237 943l1 1 4 0-2-2 2-2 8-1 36-3 14 1 13 2 6 1 3 2-2 2 6 0 2-2-3-2-15-3-24-1-41 2-7 2-2 2z" style="fill:#d25849;stroke:#d25849;stroke-width:.8" />
<path d="M241 943l1 1 5 0-2-2 4-2 19-2 16-1 15 1 11 1 7 3-2 2 5 0 2-2-3-2-10-2-23-2-38 3-5 1-3 2z" style="fill:#c84440;stroke:#c84440;stroke-width:.8" />
<path d="M245 942l2 2 7 0-3-2 6-2 15-2 14 0 11 0 12 2 4 2-2 2 4 0 2-2-3-2-9-2-19-1-35 3-4 1-2 1z" style="fill:#be3036;stroke:#be3036;stroke-width:.8" />
<path d="M251 942l3 2 8 0-4-2 6-2 22-2 18 2 4 2-2 2 5 0 2-2-4-2-6-1-17-1-21 1-8 1z" style="fill:#b41c2d;stroke:#b41c2d;stroke-width:.8" />
<path d="M260 943l2 1 6 0-3-2 3-1 16-2 15 1 4 2-2 2 5 0 2-2-7-2-17-2-20 2-6 2z" style="fill:#a21328;stroke:#a21328;stroke-width:.8" />
<path d="M265 942l3 2 9 0-5-2 15-2 10 2-4 2 8 0 2-2-5-2-14-1-12 1z" style="fill:#8d0c25;stroke:#8d0c25;stroke-width:.8" />
<path d="M273 942l4 2 16 0 4-2-13-2z" style="fill:#790622;stroke:#790622;stroke-width:.8" />
</g></g>
<g id="matplotlib.axis_9">
<g id="xtick_19">
<g id="line2d_58">
<g>
<use href="#mbc3e3207b5" x="33.5" y="482.1" style="stroke:#000000;stroke-width:1" />
</g>
</g>
</g>
<g id="xtick_20">
<g id="line2d_59">
<g>
<use href="#mbc3e3207b5" x="62.3" y="482.1" style="stroke:#000000;stroke-width:1" />
</g>
</g>
</g>
<g id="xtick_21">
<g id="line2d_60">
<g>
<use href="#mbc3e3207b5" x="91" y="482.1" style="stroke:#000000;stroke-width:1" />
</g>
</g>
</g>
<g id="xtick_22">
<g id="line2d_61">
<g>
<use href="#mbc3e3207b5" x="119.8" y="482.1" style="stroke:#000000;stroke-width:1" />
</g>
</g>
</g>
<g id="xtick_23">
<g id="line2d_62">
<g>
<use href="#mbc3e3207b5" x="148.6" y="482.1" style="stroke:#000000;stroke-width:1" />
</g>
</g>
</g>
<g id="xtick_24">
<g id="line2d_63">
<g>
<use href="#mbc3e3207b5" x="177.3" y="482.1" style="stroke:#000000;stroke-width:1" />
</g>
</g>
</g>
<g id="xtick_25">
<g id="line2d_64">
<g>
<use href="#mbc3e3207b5" x="206.1" y="482.1" style="stroke:#000000;stroke-width:1" />
</g>
</g>
</g>
<g id="xtick_26">
<g id="line2d_65">
<g>
<use href="#mbc3e3207b5" x="234.8" y="482.1" style="stroke:#000000;stroke-width:1" />
</g>
</g>
</g>
<g id="xtick_27">
<g id="line2d_66">
<g>
<use href="#mbc3e3207b5" x="263.6" y="482.1" style="stroke:#000000;stroke-width:1" />
</g>
</g>
</g>
</g>
<g id="matplotlib.axis_10">
<g id="ytick_30">
<g id="line2d_67">
<g>
<use href="#m0c8410b8b1" x="33.5" y="482.1" style="stroke:#000000;stroke-width:1" />
</g>
</g>
<g id="text_29">
<text style="font-size:10.4px;font-family:&quot;Liberation Sans&quot;, sans-serif;text-anchor:end" x="23.8" y="486.1" transform="rotate(0 23.8 486.1)" textLength="6.6" lengthAdjust="spacingAndGlyphs">0</text>
</g>
</g>
<g id="ytick_31">
<g id="line2d_68">
<g>
<use href="#m0c8410b8b1" x="33.5" y="445" style="stroke:#000000;stroke-width:1" />
</g>
</g>
<g id="text_30">
<text style="font-size:10.4px;font-family:&quot;Liberation Sans&quot;, sans-serif;text-anchor:end" x="23.8" y="449" transform="rotate(0 23.8 449)" textLength="6.6" lengthAdjust="spacingAndGlyphs">1</text>
</g>
</g>
<g id="ytick_32">
<g id="line2d_69">
<g>
<use href="#m0c8410b8b1" x="33.5" y="407.9" style="stroke:#000000;stroke-width:1" />
</g>
</g>
<g id="text_31">
<text style="font-size:10.4px;font-family:&quot;Liberation Sans&quot;, sans-serif;text-anchor:end" x="23.8" y="411.9" transform="rotate(0 23.8 411.9)" textLength="6.6" lengthAdjust="spacingAndGlyphs">2</text>
</g>
</g>
<g id="ytick_33">
<g id="line2d_70">
<g>
<use href="#m0c8410b8b1" x="33.5" y="370.8" style="stroke:#000000;stroke-width:1" />
</g>
</g>
<g id="text_32">
<text style="font-size:10.4px;font-family:&quot;Liberation Sans&quot;, sans-serif;text-anchor:end" x="23.8" y="374.8" transform="rotate(0 23.8 374.8)" textLength="6.6" lengthAdjust="spacingAndGlyphs">3</text>
</g>
</g>
<g id="ytick_34">
<g id="line2d_71">
<g>
<use href="#m0c8410b8b1" x="33.5" y="333.7" style="stroke:#000000;stroke-width:1" />
</g>
</g>
<g id="text_33">
<text style="font-size:10.4px;font-family:&quot;Liberation Sans&quot;, sans-serif;text-anchor:end" x="23.8" y="337.7" transform="rotate(0 23.8 337.7)" textLength="6.6" lengthAdjust="spacingAndGlyphs">4</text>
</g>
</g>
<g id="ytick_35">
<g id="line2d_72">
<g>
<use href="#m0c8410b8b1" x="33.5" y="296.6" style="stroke:#000000;stroke-width:1" />
</g>
</g>
<g id="text_34">
<text style="font-size:10.4px;font-family:&quot;Liberation Sans&quot;, sans-serif;text-anchor:end" x="23.8" y="300.6" transform="rotate(0 23.8 300.6)" textLength="6.6" lengthAdjust="spacingAndGlyphs">5</text>
</g>
</g>
<g id="text_35">
<text style="font-size:10.4px;font-family:&quot;Liberation Sans&quot;, sans-serif;text-anchor:middle" x="10.8" y="370.8" transform="rotate(-90 10.8 370.8)" textLength="62.1" lengthAdjust="spacingAndGlyphs">Height [km]</text>
</g>
</g>
<g id="arrows_c" />
<g id="line2d_73">
<path d="M115.2 480.6L115.2 259.5" clip-path="url(#p3f610aff29)" style="fill:none;stroke:#ffffff;stroke-width:1.6" />
</g>
<g id="line2d_74">
<path d="M115.2 480.6L115.2 259.5" clip-path="url(#p3f610aff29)" style="fill:none;stroke-dasharray:4.6,2.5;stroke-dashoffset:0;stroke:#333333;stroke-width:1.6" />
</g>
<g id="line2d_75">
<path d="M194.7 480.6L194.7 259.5" clip-path="url(#p3f610aff29)" style="fill:none;stroke:#ffffff;stroke-width:1.6" />
</g>
<g id="line2d_76">
<path d="M194.7 480.6L194.7 259.5" clip-path="url(#p3f610aff29)" style="fill:none;stroke-dasharray:4.6,2.5;stroke-dashoffset:0;stroke:#333333;stroke-width:1.6" />
</g>
<g id="line2d_77">
<path d="M115.2 480.6L194.7 480.6" clip-path="url(#p3f610aff29)" style="fill:none;stroke-dasharray:4.6,2.5;stroke-dashoffset:0;stroke:#333333;stroke-width:1.6" />
</g>
<g id="patch_19">
<path d="M33.5 482.1L33.5 259.5" style="fill:none;stroke:#000000;stroke-width:1;stroke-linejoin:miter;stroke-linecap:square" />
</g>
<g id="patch_20">
<path d="M263.6 482.1L263.6 259.5" style="fill:none;stroke:#000000;stroke-width:1;stroke-linejoin:miter;stroke-linecap:square" />
</g>
<g id="patch_21">
<path d="M33.5 482.1L263.6 482.1" style="fill:none;stroke:#000000;stroke-width:1;stroke-linejoin:miter;stroke-linecap:square" />
</g>
<g id="patch_22">
<path d="M33.5 259.5L263.6 259.5" style="fill:none;stroke:#000000;stroke-width:1;stroke-linejoin:miter;stroke-linecap:square" />
</g>
<g id="text_36">
<g id="patch_23">
<path d="M36.9 274.4L55.5 274.4L55.5 262.1L36.9 262.1z" style="fill:#ffffff" />
</g>
<text style="font-weight:700;font-size:11.7px;font-family:&quot;Liberation Sans&quot;, sans-serif;text-anchor:start" x="37.4" y="271.5" transform="rotate(0 37.4 271.5)" textLength="17.6" lengthAdjust="spacingAndGlyphs">(c)</text>
</g>
</g>
<g id="axes_6">
<g id="patch_24">
<path d="M278 482.1L289.4 482.1L289.4 259.5L278 259.5z" style="fill:#ffffff" />
</g>
<g id="QuadMesh_3">
<path d="M278 482.1L289.4 482.1L289.4 472L278 472L278 482.1" clip-path="url(#pf4e5fc58b5)" style="fill:#ddebf2" />
<path d="M278 472L289.4 472L289.4 461.9L278 461.9L278 472" clip-path="url(#pf4e5fc58b5)" style="fill:#e7f0f4" />
<path d="M278 461.9L289.4 461.9L289.4 451.7L278 451.7L278 461.9" clip-path="url(#pf4e5fc58b5)" style="fill:#f2f5f6" />
<path d="M278 451.7L289.4 451.7L289.4 441.6L278 441.6L278 451.7" clip-path="url(#pf4e5fc58b5)" style="fill:#f8f3f0" />
<path d="M278 441.6L289.4 441.6L289.4 431.5L278 431.5L278 441.6" clip-path="url(#pf4e5fc58b5)" style="fill:#f9ebe3" />
<path d="M278 431.5L289.4 431.5L289.4 421.4L278 421.4L278 431.5" clip-path="url(#pf4e5fc58b5)" style="fill:#fbe4d6" />
<path d="M278 421.4L289.4 421.4L289.4 411.3L278 411.3L278 421.4" clip-path="url(#pf4e5fc58b5)" style="fill:#fddcc9" />
<path d="M278 411.3L289.4 411.3L289.4 401.2L278 401.2L278 411.3" clip-path="url(#pf4e5fc58b5)" style="fill:#fbceb7" />
<path d="M278 401.2L289.4 401.2L289.4 391L278 391L278 401.2" clip-path="url(#pf4e5fc58b5)" style="fill:#f8bfa4" />
<path d="M278 391L289.4 391L289.4 380.9L278 380.9L278 391" clip-path="url(#pf4e5fc58b5)" style="fill:#f6b394" />
<path d="M278 380.9L289.4 380.9L289.4 370.8L278 370.8L278 380.9" clip-path="url(#pf4e5fc58b5)" style="fill:#f3a481" />
<path d="M278 370.8L289.4 370.8L289.4 360.7L278 360.7L278 370.8" clip-path="url(#pf4e5fc58b5)" style="fill:#eb9172" />
<path d="M278 360.7L289.4 360.7L289.4 350.6L278 350.6L278 360.7" clip-path="url(#pf4e5fc58b5)" style="fill:#e37e64" />
<path d="M278 350.6L289.4 350.6L289.4 340.4L278 340.4L278 350.6" clip-path="url(#pf4e5fc58b5)" style="fill:#db6b55" />
<path d="M278 340.4L289.4 340.4L289.4 330.3L278 330.3L278 340.4" clip-path="url(#pf4e5fc58b5)" style="fill:#d25849" />
<path d="M278 330.3L289.4 330.3L289.4 320.2L278 320.2L278 330.3" clip-path="url(#pf4e5fc58b5)" style="fill:#c84440" />
<path d="M278 320.2L289.4 320.2L289.4 310.1L278 310.1L278 320.2" clip-path="url(#pf4e5fc58b5)" style="fill:#be3036" />
<path d="M278 310.1L289.4 310.1L289.4 300L278 300L278 310.1" clip-path="url(#pf4e5fc58b5)" style="fill:#b41c2d" />
<path d="M278 300L289.4 300L289.4 289.9L278 289.9L278 300" clip-path="url(#pf4e5fc58b5)" style="fill:#a21328" />
<path d="M278 289.9L289.4 289.9L289.4 279.7L278 279.7L278 289.9" clip-path="url(#pf4e5fc58b5)" style="fill:#8d0c25" />
<path d="M278 279.7L289.4 279.7L289.4 269.6L278 269.6L278 279.7" clip-path="url(#pf4e5fc58b5)" style="fill:#790622" />
<path d="M278 269.6L289.4 269.6L289.4 259.5L278 259.5L278 269.6" clip-path="url(#pf4e5fc58b5)" style="fill:#67001f" />
</g>
<g id="matplotlib.axis_11" />
<g id="matplotlib.axis_12">
<g id="ytick_36">
<g id="line2d_78">
<g>
<use href="#mbff90f7d70" x="289.4" y="482.1" style="stroke:#000000;stroke-width:1" />
</g>
</g>
<g id="text_37">
<text style="font-size:10.4px;font-family:&quot;Liberation Sans&quot;, sans-serif;text-anchor:start" x="299.1" y="486.1" transform="rotate(0 299.1 486.1)" textLength="25.3" lengthAdjust="spacingAndGlyphs">−0.3</text>
</g>
</g>
<g id="ytick_37">
<g id="line2d_79">
<g>
<use href="#mbff90f7d70" x="289.4" y="451.7" style="stroke:#000000;stroke-width:1" />
</g>
</g>
<g id="text_38">
<text style="font-size:10.4px;font-family:&quot;Liberation Sans&quot;, sans-serif;text-anchor:start" x="299.1" y="455.7" transform="rotate(0 299.1 455.7)" textLength="16.6" lengthAdjust="spacingAndGlyphs">0.0</text>
</g>
</g>
<g id="ytick_38">
<g id="line2d_80">
<g>
<use href="#mbff90f7d70" x="289.4" y="421.4" style="stroke:#000000;stroke-width:1" />
</g>
</g>
<g id="text_39">
<text style="font-size:10.4px;font-family:&quot;Liberation Sans&quot;, sans-serif;text-anchor:start" x="299.1" y="425.3" transform="rotate(0 299.1 425.3)" textLength="16.6" lengthAdjust="spacingAndGlyphs">0.3</text>
</g>
</g>
<g id="ytick_39">
<g id="line2d_81">
<g>
<use href="#mbff90f7d70" x="289.4" y="391" style="stroke:#000000;stroke-width:1" />
</g>
</g>
<g id="text_40">
<text style="font-size:10.4px;font-family:&quot;Liberation Sans&quot;, sans-serif;text-anchor:start" x="299.1" y="395" transform="rotate(0 299.1 395)" textLength="16.6" lengthAdjust="spacingAndGlyphs">0.6</text>
</g>
</g>
<g id="ytick_40">
<g id="line2d_82">
<g>
<use href="#mbff90f7d70" x="289.4" y="360.7" style="stroke:#000000;stroke-width:1" />
</g>
</g>
<g id="text_41">
<text style="font-size:10.4px;font-family:&quot;Liberation Sans&quot;, sans-serif;text-anchor:start" x="299.1" y="364.6" transform="rotate(0 299.1 364.6)" textLength="16.6" lengthAdjust="spacingAndGlyphs">0.9</text>
</g>
</g>
<g id="ytick_41">
<g id="line2d_83">
<g>
<use href="#mbff90f7d70" x="289.4" y="330.3" style="stroke:#000000;stroke-width:1" />
</g>
</g>
<g id="text_42">
<text style="font-size:10.4px;font-family:&quot;Liberation Sans&quot;, sans-serif;text-anchor:start" x="299.1" y="334.3" transform="rotate(0 299.1 334.3)" textLength="16.6" lengthAdjust="spacingAndGlyphs">1.2</text>
</g>
</g>
<g id="ytick_42">
<g id="line2d_84">
<g>
<use href="#mbff90f7d70" x="289.4" y="300" style="stroke:#000000;stroke-width:1" />
</g>
</g>
<g id="text_43">
<text style="font-size:10.4px;font-family:&quot;Liberation Sans&quot;, sans-serif;text-anchor:start" x="299.1" y="303.9" transform="rotate(0 299.1 303.9)" textLength="16.6" lengthAdjust="spacingAndGlyphs">1.5</text>
</g>
</g>
<g id="ytick_43">
<g id="line2d_85">
<g>
<use href="#mbff90f7d70" x="289.4" y="269.6" style="stroke:#000000;stroke-width:1" />
</g>
</g>
<g id="text_44">
<text style="font-size:10.4px;font-family:&quot;Liberation Sans&quot;, sans-serif;text-anchor:start" x="299.1" y="273.6" transform="rotate(0 299.1 273.6)" textLength="16.6" lengthAdjust="spacingAndGlyphs">1.8</text>
</g>
</g>
<g id="text_45">
<g transform="translate(339.9 389.6) rotate(-90)">
<text>
<tspan x="0" y="-1.3" style="font-size:10.4px;font-family:&quot;Liberation Sans&quot;, sans-serif" textLength="7.13" lengthAdjust="spacingAndGlyphs">Δ</tspan>
<tspan x="13.5" y="-1.3" style="font-size:10.4px;font-family:&quot;Liberation Sans&quot;, sans-serif"> </tspan>
<tspan x="16.8" y="-1.3" style="font-size:10.4px;font-family:&quot;Liberation Sans&quot;, sans-serif" textLength="4.06" lengthAdjust="spacingAndGlyphs">[</tspan>
<tspan x="20.9" y="-1.3" style="font-size:10.4px;font-family:&quot;Liberation Sans&quot;, sans-serif" textLength="5.21" lengthAdjust="spacingAndGlyphs">°</tspan>
<tspan x="26.1" y="-1.3" style="font-size:10.4px;font-family:&quot;Liberation Sans&quot;, sans-serif" textLength="7.27" lengthAdjust="spacingAndGlyphs">C</tspan>
<tspan x="33.3" y="-1.3" style="font-size:10.4px;font-family:&quot;Liberation Sans&quot;, sans-serif" textLength="4.06" lengthAdjust="spacingAndGlyphs">]</tspan>
<tspan x="7.1" y="-1.3" style="font-style:oblique;font-size:10.4px;font-family:&quot;Liberation Sans&quot;, sans-serif" textLength="6.36" lengthAdjust="spacingAndGlyphs">T</tspan>
</text>
</g>
</g>
</g>
<g id="LineCollection_3" />
<g id="patch_25">
<path d="M278 482.1L283.7 482.1L289.4 482.1L289.4 259.5L283.7 259.5L278 259.5L278 482.1z" style="fill:none;stroke:#000000;stroke-width:1;stroke-linejoin:miter;stroke-linecap:square" />
</g>
</g>
<g id="axes_7">
<g id="patch_26">
<path d="M361.5 482.1L592 482.1L592 259.5L361.5 259.5z" style="fill:#ffffff" />
</g>
<g id="QuadContourSet_4" clip-path="url(#p706396b148)">
<g transform="scale(.5)"><path d="M724 944l45 0 2-2 14 0 1 2 9 0 1-2 12 0 1 2 202 0 2-2 118 0 0-1-408 0 0 3zM928 872l1 0 1-3 1-7-3-89-2-18-1-2-2 35 0 69 1 9 2 5zM880 870l1-3 1-5 2-81 0-30-1-8-2-2-1 7-1 20-1 94 1 8zM1126 864l2-1 1-5 2-89-1-16-2-12-2 0-1 6-1 24 0 71 1 18zM1136 854l2 0 6-6 1-8-1-91-2-23-1-10-2-3-1 3-2 13-2 27 1 88zM1165 850l2-1 0-5 1-33 0-55-1-18-2 3 0 4-1 23 0 57zM1093 839l2-7 0-7-2-37-2 43 1 6zM1103 830l2-64 0-17-2-13-1 8-1 27 1 52zM1134 623l1 1 2-5 2-13 1-61-1-26-7 0 3 48-1 15-2 22zM1076 618l1-2 2-10 1-15-3-62-1 1-1 4-2 24-1 5-2-4-1 0-1 12 1 15zM1167 617l1-11 1-48 0-13-1-2-1-1-3 10-1 17 1 35 1 10zM1056 613l2-9 0-20-2-32 0-3-2-3-2 3-1 3 3 53zM1125 612l2-8 2-16-2-41-2-10-2 3-1 11-2 27 1 19 2 12zM1001 597l1-2 1-4 2-40 2-7 1-1 3 1 1-3 1-22-13 0-3 19-1 13 1 22 1 15zM988 596l3-55-1-22-4 0-1 15 2 54zM884 592l2-3 0-7 1-33-1-16-3-12-2 7 0 19 2 35zM905 592l1-7 3-44 0-22-14 0-1 22 0 3 2 0 1 1 3 9zM727 589l2-19 0-24-3-27-3 0 0 21 2 18 1 27zM1031 588l2-4 2-37-1-28-14 0 1 18 5 9 2 10zM795 587l1-2 1-7 2-31 0-15-1-3-2 0-2 12-1 15 0 21zM1044 586l2-4 4-33-2-17-1-2-1-1-3 11-1 11 1 26zM1149 588l3-11 2 5 1-4 2-59-12 0zM818 585l4-28 2 2 1 3 2 14 2-20 2-8 4 6 2-1 7-19 1 6 3 25 3 10 2-17 0-17-3-16-2-2-2 0-1-4-34 0 0 19 4 18zM749 568l1-5 4-35 1-1 4 16 3 4 1 0 2-8 1-20-27 0-2 24 2 0 1-7 2-4 1 4zM864 561l2-3 3-20 1-19-5 0-2 24zM929 560l4-23 2 0 4 18 2-5 2-31-19 0 2 28 2 10zM782 550l1-7-3-15 0-9-2 0 2 13zM962 547l3-12 1-1 5 13 1 1 3-12 1-17-16 0 0 22 1 4z" style="fill:#fff5f0;stroke:#fff5f0;stroke-width:.8" />
<path d="M724 941l407 0 0-3 1-2 52 0 0-61-7-1-6 0-2-1-1-3 2-110-1-24-2-11-2 2-1 7-2 19 0 39 0 63 0 18-2 5-2 1-6-4-11-3-2-2 0-10 6-9 1-11-2-98-2-26-1-7-2-2-1 3-6 21-1 0-3-4-2 0-1 3-6 21 0 24 2 80-1 18-2 4-2 0-5-3-3 0-39 0-18-1-4 7-2-1-2-4-3-1-98 0-7 4-2-23-2-65-3-44-2-9-1-2-2 6-1 19-1 113-1 2-1 0-4-2-22 1-3 1-3 2-1 0-2-24 1-98-1-17-1-8-2-1-2 11-1 18-2 95-2 24-1 0-3-3-17 0-5 0-1 0-1-3-2-107-1-22-2-3-1 8-1 28 1 63 2 24-1 10-1 1-5 1-23 0-20 1-8 0-6 2-9-3-19 0-7 4-1-2-1-3-2-55-2-6-1 7-3 55-1 2-9-2 0 67zM927 871l-3-7-1-15 0-67 2-29 1 2 2 18 3 89-1 8-1 2-1 0zM879 870l-1-6 1-87 1-26 1-10 2 2 1 13 0 43-2 65-1 4-1 2zM1132 868l-1-15 1-12 2 16zM1126 862l-2-24 0-69 1-22 1-6 2 0 2 12 1 22-2 83-1 5-2 1zM1136 853l-1-11-1-86 2-27 2-13 1-3 2 3 1 10 2 23 1 91-1 8-6 6-2 0zM1165 849l-1-33 0-50 1-23 2-5 1 18 0 55-1 34 0 4zM1053 850l5-6 1-10-2-22-4-18-1 44 0 7zM1092 846l1 0 2-4 1-11-1-63 0-11-2-2-1 19-2 53 0 13zM1092 838l0-2 0-11 1-37 2 41-1 7-1 3zM899 844l1 1 2-7-1-52-1-22-3-18-1 5-1 11 0 65 1 10zM915 843l1-83-1-22-2-6-1 10-1 20 2 76 0 3zM1103 840l2-2 0-7 1-62-1-29-2-15-1 5-1 12-1 35 1 52 1 7zM1103 829l-1-8-1-53 1-24 1-8 2 13 0 22-1 50zM1134 633l1 0 4-10 1-6 1-50 1-19 2-4 2 16 0 39 2 9 4-11 3 2 1-2 4-38 1 3 3 52 1 8 2 2 2-10 2-50 1-2 3 35 0 3 2 1 1-8 3-31 0-3 2-1 1 1 0-40-27 0-2 59-1 4-2-5-3 11-4-69-6 0 1 24-1 61-1 11-3 9-1-1-2-15 3-37-3-52-98 0 1 28-2 37-2 4-3-32-2-10-5-9-1-18-7 0-1 22-1 3-3-1-1 1-2 7-2 40-1 4-1 2-2-4-2-11-1-30 0-9 4-24-10 0 1 22-3 55-1-8-2-43 1-26-10 0-1 17-3 12-1-1-5-13-1 1-3 12-1-2-1-26-17 0-2 31-2 5-4-18-2 0-4 23-1-3-2-10-2-28-15 0 0 22-3 44-1 7-5-38-3-9-1-1-2 0 0-3 1-22-25 0-1 19-3 20-2 3-1-18 2-24-20 0 1 4 2 0 2 2 3 16 0 17-2 17-3-10-3-25-1-6-7 19-2 1-4-6-2 8-2 20-2-14-1-3-2-2-4 28-3-29-4-18 0-19-18 0-2 26-2 3-2-14-1-15-6 0 0 9 3 15-1 7-2-18-2-13-12 0-1 20-2 8-1 0-3-4-4-16-2 4-3 32-1 5-6-32-1-4-2 4-1 7-2 0 2-24-13 0 3 37-1 24-1 9 0-1-4-48 1 49 2 16 1 0 2-16 2-40 1-27 2 29 3 30 3-19 2-5 1 0 2 7 2 22 2 3 1-6 3-27 2-10 1 1 7 14 2 2 1 0 5-21 1 0 3 9 4 8 3 14 2 2 2-2 3 4 4 20 2 4 1-2 2-8 3-29 4-17 2-1 2 13 2 3 1 0 2 4 2 33 2 5 4-24 2 5 3 22 1 2 3-38 1-3 3 5 2-1 6-15 1 2 1 5 3 27 3 10 2 2 1-2 2-9 2-36 0-2 2-1 3 40 1 7 5-38 3-6 4-9 3 10 3 38 2 11 2 0 1-7 3-34 3 15 2-13 2-2 3 8 3 33 2 5 1-3 2-11 2-32 4-14 3-24 0-4 2 0 6 32 3 31 1 4 4-31 2-1 1 4 3 18 6-42 3-6 3 0 1 1 1 2 8 32 1 1 3-14 1-3 2 2 3 20 1 16 1-16 1-9 4-13 1-3 2 0 2 14 2 33 2 15 1 3 2-4 2-31 2 1 3 18 4 10 1-1 2-7 1-33 2-9 1-2 5 9 4-16 4 8 0 1 3 0 2 3 5 48 2 0 0-4 3-36 1-11 1-3 5 45 1 4 2-2 4-22 1 3 3 37 2 6 1-4 2-13 1-44 0-4 2 0 2 8 4 35 4 9 4 14 1-2 2-7 2-18 0-13 0-26 1-11 1-4 2-2 1 6 1 37 2 22 1 5 2-14 1-37 2-12 1-4 2-1 1 4 2 15-1 22 2 5 2-24 7-39 1-4 3 5 1-1 2-3 1 1 0 6-1 47 1 25 4 15 2 2 4-10zM1076 617l-7-31-1-15 1-12 1 0 2 4 1-5 2-24 1-4 1-1 3 62-2 19-1 6zM1166 615l-2-11-1-37 2-16 2-9 1 1 1 2 0 15-1 46-1 11zM1055 612l-1-8-3-52 1-3 2-3 2 3 0 3 2 32-1 24-1 5zM1125 612l-2-4-2-11-1-20 2-28 1-9 2-3 2 10 2 41-2 16-1 5zM884 591l-1-9-2-35 0-19 2-7 3 12 1 16-1 33 0 7zM795 586l-2-11 0-19 1-15 2-12 2 0 1 3 0 15-2 33-1 5-1 2zM1044 586l-2-11 0-24 1-11 3-11 1 1 1 2 2 17-4 33z" style="fill:#ffebe2;stroke:#ffebe2;stroke-width:.8" />
<path d="M1046 880l1 0 1-1 3-6 18 1 39 0 3 0 5 3 3-2 2-22-2-78 0-24 6-21 1-3 2 0 3 4 1 0 6-21 1-3 2 2 1 7 2 26 2 98-1 11-6 9 0 10 2 2 11 3 6 4 3-2 1-4 0-115 2-24 1-7 2-2 2 11 1 24-2 110 1 3 2 1 6 0 7 1 0-16-4-4-3-11-2 1-3 9-1-1 0-95-1-28-2-10-1-3-2 1-2 9-2 28-1 103-2 5-9-12-1-9-3-106-3-27-1-5-2-1-2 3-5 13-1 1-3-2-2 0-1 2-3 7-3 4-2 7-1 20 3 93-1 7-2 4-1 0-2-2-2-5-4-15 0-89-2-24-2-9-1 5-2 20-2 63-1-50-2-18-2 1-2 27-2 74-2 4-1 0-2-2-1-4-3-39-1-6-4 51-2 6-4 4-3-3-3-9-1-94-2-2-3 11-1 0-3-16-2-3-1 22 0 91-1 9-2 8-1-1-2-5-4-21-2-6-1-3-6 7-1 0-6-8-3-2-7 7-3-3-4-6-2-1-11 7-3-1-1-2-8-23-4-6-1 0-3 0-2-2-1-48 0-7-2-2-1 16 0 43-1 9-2 2-7-7-3 3-7 21-5 11-3 15-4 8-1-3-1-7-1-87-5-33-2-7-1-2-2 6-2 19 0 102-1 5-1 2-2-3 0-6 0-104-2-20-2-8-1 2-3 13-2 3-1 0-4 3-5-8-1 2-2 26 0 80-3 17-2 4-2 1-1-9 1-98-2-21-2-11-2 0-1 4-4 26-3 101-1-21-2-17-3 32-1-2-5-18-4 5-7 23-2 1-1-2-2-104-1-16-3-10-1 2-2 18-1 102-1 6-1 2-3-1-2-2-8-16-5-3-1-4-1-10-3 27-2 5-2 3-4-1-6 2-3 4-3 1-10-2-4 7-3-2-4-5-9-5-2 0-5 3-5 1-5 8-2 0-1-10-2-77-1-12-2-1-1 5-1 15-2 72-1 4-2 1-7-12 0 26 9 2 1-2 3-55 1-7 2 6 2 55 1 3 1 2 7-4 19 0 9 3 6-2 8 0 20-1 23 0 5-1 1-1 1-10-2-24-1-63 1-28 1-8 2 3 1 22 2 107 1 3 1 0 5 0 17 0 3 3 1 0 2-24 2-95 1-18 2-11 2 1 1 8 1 17-1 98 2 24 1 0 3-2 3-1 22-1 4 2 1 0 1-2 1-113 1-19 2-6 1 2 2 9 3 44 2 65 2 23 7-4 98 0 3 1zM1053 849l-1-13 1-42 4 18 2 22-1 10-4 4zM905 847l-1-9 0-30 2-26 1-12 2 4 1 14 1 48-1 8-4 4zM1091 845l-1-5 0-14 2-52 1-19 2 2 0 11 1 63-1 11-2 4-1 0zM898 844l-2-7-1-10 0-65 1-11 1-5 3 18 1 26 1 48-2 7zM914 842l-1-6-2-78 1-18 1-8 2 6 1 26-1 72 0 7zM1102 838l-1-11-1-61 1-28 2-13 2 7 1 13 0 41-1 48 0 4-2 2zM1132 868l2-11-2-16-1 12zM1177 807l0-61-2 5 0 20 0 35zM1134 640l1-1 3-6 3-3 3-13 1 0 2 3 1 0 4-13 3 2 2-2 3-22 1 2 3 34 1 7 2 3 2-12 2-36 1 3 3 22 0 3 2 0 2-9 2-25 2-5 1 0 0-13-1-1-2 1 0 3-3 31-1 8-2-1 0-3-3-35-1 2-2 50-2 10-2-2-1-8-3-52-1-3-4 38-1 2-3-2-4 11-2-9 0-39-2-16-2 4-1 19-1 50-1 6-4 10-1 0-5-24-4 10-2-2-4-15-1-25 1-47 0-6-1-1-2 3-1 1-3-5-1 4-7 39-2 24-2-5 1-22-2-15-1-4-2 1-1 4-2 12-1 37-2 14-1-5-2-22-1-37-1-6-2 2-1 4-1 11 0 26 0 13-2 18-2 7-1 2-4-14-4-9-4-35-2-8-2 0 0 4-1 44-2 13-1 4-2-6-3-37-1-3-4 22-2 2-1-4-5-45-1 3-1 11-3 36 0 4-2 0-5-48-2-3-3 0 0-1-4-8-4 16-5-9-1 2-2 9-1 30-2 10-1 1-2-4-3-10-2-14-2-1-2 26-2 9-2-10-3-39-2-16-2 0-1 3-4 13-1 9-1 16-1-16-3-20-2-2-1 3-3 14-1-1-8-32-2-3-3 0-3 6-2 7-4 35-3-18-1-4-2 1-4 31-1-4-3-31-6-32-2 0 0 4-3 24-4 14-2 32-2 11-1 3-2-5-3-33-3-8-2 2-2 13-3-15-3 34-1 7-2 0-2-11-3-38-3-10-4 9-3 6-5 38-1-7-3-40-2 1 0 6-2 30-2 11-1 2-4-8-4-31-1-5-1-2-6 15-2 1-3-5-1 3-3 38-1-2-3-22-2-5-4 24-1-2-3-36-2-4-1 0-2-3-2-13-2 1-4 17-3 29-2 8-1 2-2-4-4-20-3-4-2 2-2-2-3-14-4-8-3-9-1 0-5 21-1 0-2-2-7-14-1-1-2 10-3 27-1 6-2-3-2-22-2-7-1 0-2 5-3 19-3-30-2-29-2 60-3 23-1 0-1-6-2-36 0 47 3 6 1-2 2-6 3-28 1-6 4 29 2-1 4-15 4 14 0 1 2 0 2-11 3-29 1-6 1 0 5 13 4 33 1 5 2 1 4-16 3 14 1-2 3-18 3 6 3 1 1 2 5 11 3 4 1 0 4-9 5-36 1-3 2-2 4 28 1-1 4 23 1 2 1 1 4-17 2 3 3 17 1 2 4-28 2 1 1 4 2 1 6-23 1 5 2 21 5 12 2 2 1-1 4-17 2-1 3 15 1 3 2-4 3-28 1-6 3 3 4 7 5 22 2 7 2 0 4-7 2 0 1 0 4-22 2 3 4 29 2 4 7-12 1-9 3-35 1-11 2-4 1 0 2 3 2 8 2 37 2 10 1 0 1-9 3-27 2-1 4 28 1-3 3-41 2-7 1-3 2-1 3 6 4 22 3 6 2 14 2 4 2-2 0-4 2-24 0-3 2 3 0 34 3 12 1 0 1-1 3-9 3-36 2 0 4 41 2 11 1 2 2-2 2-16 2-3 6 12 1 1 1 0 2-10 3-36 1-2 1 2 2 19 2 5 2-22 2-4 3 10 1 2 3-5 2 4 3 30 2 13 2 1 1-6 3-30 1-1 3 20 3 10 2 0 1 0 3-12 3 28 1 3 2 1 2-10 4-33 1-3 4 28 3 2 2 3 3 10 1 3 1-3 5-24 1-4 2-1 1 2 3 17 1 4 2-7 3-15 1 1 2 3 1 2 3-2 2-5 4-25 1-1 3 1 1 2 2 6 2 26 2 9 6 9 3-6 1 0zM1143 597l-1-15 2-17 0 15zM789 548l2-3 2-26-7 0 1 15z" style="fill:#fee0d2;stroke:#fee0d2;stroke-width:.8" />
<path d="M1046 867l1 1 1-2 2-13 0-93 1-22 2 3 3 16 1 0 3-11 2 2 1 94 3 9 3 3 4-4 2-6 4-51 1 6 3 39 1 4 2 2 1 0 2-4 2-74 2-27 2-1 2 18 1 50 2-63 2-20 1-5 2 9 2 24 0 89 4 15 2 5 2 2 1 0 2-4 1-7-3-93 1-20 2-7 3-4 3-7 1-2 2 0 3 2 1-1 5-13 2-3 2 1 1 5 3 27 3 106 1 9 9 12 2-5 1-103 2-28 2-9 2-1 1 3 2 10 1 28 0 95 1 1 3-9 2-1 3 11 4 4 0-4-2-2-2-4-1-9-1-103-1-9-2 2-1 7-2 2-3-23-2-6-2 1-1 4-6 40-3 7-1 26 1 54-1 3-2 2-1-2-2-9-2-83-2-32-3-18-1-3-2 0-1 0-6 11-1 1-5-1-4 7-3 2-2 5-4 13-1 22 0 13 3 15 1 26 1 37-1 6-1 0-3-6-4-17 0-76-2-31-1-11-2-4-1 3-3 21-1 5-3-13-2 1-1 8-2 27-3 73-1 1-1-2-2-5-1-52-2-16-1-2-2 12-3 63-1 8-4 4-2 0-1-3-1-9-1-72-1-26-1-9-2-1-3 6-1 0-5-13-1 5-1 21 0 104-2 13-1 0-2-6-6-35-1-3-4 11-2 3-1 0-3-2-4-8-2-1-7 7-3-2-4-6-2-1-5 3-6 5-3-1-1-3-3-9-3-24-3 6-6-2-1-2-2-53-1-11-2-1-1 9-2 15-1 50 0 1-1 0-6-7-2 2-8 26-5 10-5 21-2 1-1-6 0-81-2-24-7-28-1-2-2 1-4 18-4-25-2-4-1 1-3 8-7 10-2-1-3-4-1 2-2 7-1 33 0 70-1 11-3 10-1-8 0-90-2-23-2-14-1-3-2 0-1 3-6 28-3 8-1 2-1-1-5-12-1 2-2 5-1 16-1 52-9 30-2-1 0-5-2-99-2-22-3-9-1 0-1 2-2 15-3 67-3 18-2 24-1 2-10-17-3-70-1 5-1 6-2 67-2 13-1 2-1 1-6 0-2-2-1-5 0-22-1 20-2 13-3 3-4 0-3-3-1-9 0-86 0-12-2-7-1 7-1 16 1 85-1 10-2 4-2 0-5-8-8-4-3-1-10 4-5 9-2-2 0-6-1-94-2-10-1-4-2 0-1 2-1 7-2 17-2 82-1 4-3-6-3-9-1-8 0 16 7 12 2-1 1-6 2-70 1-15 1-5 2 1 1 12 2 77 1 10 2 0 5-8 5-1 5-3 2 0 9 5 4 5 3 2 4-7 10 2 3-1 3-4 6-2 4 1 2-3 2-5 3-27 1 10 1 4 5 3 8 16 3 3 2 0 2-8 1-100 1-18 2-4 3 10 1 16 2 104 1 2 2-1 7-23 4-5 5 18 1 2 3-32 2 17 1 21 3-97 3-23 2-11 2 0 1 5 2 19 0 108 1 7 2-1 2-6 3-17 0-78 2-26 1-2 5 8 4-3 1 0 2-3 3-13 1-2 2 8 2 20 0 104 0 6 2 3 1-2 1-5 0-102 2-19 2-6 1 2 2 7 5 33 1 87 1 7 1 3 4-8 3-15 5-11 7-21 3-3 7 7 2-2 1-9 0-43 1-16 2 2 0 7 1 48 2 2 3 0 1 0 4 6 8 23 1 2 3 1 11-7 2 1 4 6 3 3 7-7 3 2 6 8 1 0 6-7 1 3 4 20zM1156 851l0-6 1-4 0 10 0 2zM1177 807l-2-1 0-37 0-18 2-5zM906 848l4-6 1-8-2-50 0-10-2-4-2 20-1 35 0 19 1 3zM907 838l-1-6 1-17 2 7 0 9 0 4zM1134 646l1-1 3-5 3 0 1-1 3-8 3-2 4-15 5 3 3-10 1 0 3 21 1 6 2 2 2-8 2-20 1 0 3 12 2-1 1-4 4-29 2-3 0-11-1 0-2 5-2 25-2 9-2 0 0-3-3-22-1-3-2 36-2 12-2-3-1-7-3-34-1-2-3 22-2 2-3-2-4 13-1 0-2-3-1 0-3 13-3 3-3 6-1 1-5-20-1 0-3 6-6-9-2-9-2-26-2-6-1-2-3-1-1 1-4 25-2 5-3 2-1-2-2-3-1-1-3 15-2 7-1-4-3-17-1-2-2 1-1 4-5 24-1 3-1-3-3-10-2-3-3-2-4-28-1 3-4 33-2 10-2-1-1-3-3-28-3 12-1 0-2 0-3-10-3-20-1 1-3 30-1 6-2-1-2-13-3-30-2-4-3 5-1-2-3-10-2 4-2 22-2-5-2-19-1-2-1 2-3 36-2 10-1 0-1-1-6-12-2 3-2 16-2 2-1-2-2-11-4-41-2 0-3 36-3 9-1 1-1 0-3-12 0-34-2-3 0 3-2 24 0 4-2 2-2-4-2-14-3-6-4-22-3-6-2 1-1 3-2 7-3 41-1 3-4-28-2 1-3 27-1 9-1 0-2-10-2-37-2-8-2-3-1 0-2 4-1 11-3 35-1 9-7 12-2-4-4-29-2-3-4 22-1 0-2 0-4 7-2 0-2-7-5-22-4-7-3-3-1 6-3 28-2 4-1-3-3-15-2 1-4 17-1 1-2-2-5-12-2-21-1-5-6 23-2-1-1-4-2-1-4 28-1-2-3-17-2-3-4 17-1-1-1-2-4-23-1 1-4-28-2 2-1 3-5 36-4 9-1 0-3-4-5-11-1-2-3-1-3-6-3 18-1 2-3-14-4 16-2-1-1-5-4-33-5-13-1 0-1 6-3 29-2 11-2 0 0-1-4-14-4 15-2 1-4-29-1 6-3 26-2 8-1 2-3-6 0 14 1 1 2 0 1-3 5-21 1-3 4 16 2 0 4-7 2 1 2 4 2-1 3-12 3-31 1-1 6 37 4 16 2 1 3-4 1 0 3 5 1-1 3-13 2-2 4 0 4 9 5 3 1 0 7-16 3-20 2-2 2 22 2 7 3 3 3 9 1 0 4-13 2 2 3 14 1 3 2-4 2-15 2 0 3 6 4-6 2-1 2 6 5 4 3 5 1-1 4-11 2 0 4 12 2-3 4-21 1 0 5 6 3 2 4 12 3 3 4-3 3 0 4-16 2 1 4 22 2 3 2-2 2-1 1 1 2-1 1-5 6-45 1 0 1 2-1 20 1 9 1 3 1 1 4 7 1 2 1-2 4-29 2-1 3 18 1 5 2-2 3-44 1-9 1-3 2 0 1 4 2 8 1 29 1 11 2 1 1-1 2 0 4 6 4 2 5 9 1 0 3-4 4-13 2-2 6 23 1 2 2-2 4-16 3 2 4 6 1 0 2-7 3-28 1-4 3 27 2 2 2-12 2-2 3 8 1 0 3-3 2 1 4 22 1 4 2 2 1-4 3-18 1-2 5 13 7 12 2 10 2 3 2-2 1-4 5-24 1-4 3 13 1 3 3-1 5 12 1 2 1-2 5-21 1-2 2 0 1 2 3 14 1 2 5-10 3-1 4-6 4-13 2-2 3 13 2-7 2 2 4 21 6 6 3-5 1 1zM1144 598l0-20 0-13-2 19z" style="fill:#fdcdb9;stroke:#fdcdb9;stroke-width:.8" />
<path d="M1046 864l1 0 1-2 1-9 0-102 1-24 1-6 5 13 1 0 3-6 2 1 1 9 1 26 1 72 1 9 1 3 2 0 4-4 1-8 3-63 2-12 1 2 2 16 1 52 2 5 1 2 1-1 3-73 2-27 1-8 2-1 3 13 1-5 3-21 1-3 2 4 1 11 2 31 0 76 4 17 3 6 1 0 1-2 0-8-2-59-3-19 0-16 1-15 3-9 3-9 3-2 4-7 5 1 1-1 4-8 3-3 2 0 2 4 3 32 2 28 1 72 2 9 1 2 2-2 1-3-1-54 1-26 3-7 6-40 1-4 2-1 2 6 3 23 2-2 1-7 2-2 1 9 1 103 1 9 2 4 2 2 0-3-1-1-2-6-1-7 0-83-2-32-1-5-5 7-4-19-1-2-2 1-1 3-6 27-3 1-1 4-3 16-2-4-6-49-1-5-1-1-3 0-7 8-5 0-4 6-4 3-5 9-2 15-2 4-4-30-2-5-1 3-3 16-1 2-3-8-2 1-4 32-2 78-1 1-2-5-2-72-2-12-1-1-2 5-1 15-3 70-2 8-2 4-2 0-1-8-1-78-2-31-1-8-2-1-3 4-1 0-5-13-2 12-1 21 0 109-1 9-1 1-3-12-2-17-1-63-2-10-2 21-3 41-2 8-1 2-3-3-6-16-4 11-3 4-2-2-5-8-5 1-2-4-2-1-2 8-2 4-2 0-2-4-2-7-2-37-2-17-2 0-2 32-1 1-1 0-2-1-1-2-2-54-2-15-2 0-7 34-1-2-2-3-1 1-4 46-5 19-6 15-5 21-1-7-1-79-2-28-1-5-3-6-5-18-2 0-3 9-1 1-4-20-2-3-1 1-10 19-2 0-3-3-1 1-3 15-3 34-3-38-3-13-1-3-2 0-1 3-4 17-5 9-1 1-1-1-5-9-1 1-1 2-2 9-1 14-2 63-4 17-3 6-3-99-2-21-4-19-1-1-2 6-4 39-2 9-2 4-1 7-2 63-2 1-1-2-4-5-1-3-2-67-2-17-2 6-2 18-2 80-2 4-5 0-1-1-1-3 0-76-2-13-2 21-1 70-1 7-2 2-3 0-2-2-2-5 0-93-1-21-2-6-1 4-2 10-2 20 2 87-1 8-2 1-5-7-5-1-4-2-4 0-3-4 0-4-2 1-7 16-1 1-2-103-1-13-2-4-1-2-2 0-2 5-3 16-2 91 0 4-1 1-2-5-2-10-1-57-1-26 0 81 2 12 3 9 2 2 1-4 2-82 2-17 1-7 1-2 2 0 1 4 2 11 1 99 2 2 5-9 5-2 7-2 9 5 4 6 3 2 2-4 1-6-1-87 1-18 1-7 2 7 0 14 0 89 1 4 1 2 6 1 2-1 2-6 2-29 0 22 1 6 2 1 7-1 2-4 1-11 2-63 1-10 1-5 3 70 10 17 1-2 2-24 3-18 3-67 2-15 1-2 1 0 3 9 2 22 2 99 0 5 2 1 9-30 1-49 2-22 1-3 1-1 5 12 1 1 1-2 3-8 6-28 1-3 2 0 3 11 2 25 0 96 1 6 3-10 1-11 0-70 1-33 2-7 1-2 3 4 2 1 7-10 3-8 1-1 2 4 4 25 4-18 2-1 1 2 7 28 2 24 0 81 1 6 2-1 5-21 5-10 8-26 2-2 6 7 1 0 0-1 1-50 2-15 1-9 2 1 1 11 2 53 1 2 6 2 3-6 3 24 3 9 1 3 3 1 6-5 5-3 2 1 4 6 3 2 7-7 2 1 4 8 3 2 1 0 2-3 4-11 1 3 5 34zM1115 851l-2-2 0-5 0-15 2 3 0 15zM1157 853l0-12-1 6zM907 838l2-3 0-4 0-9-2-7-1 17zM998 804l2-12 0-17 0-12-2-10-1 6 0 9zM1051 653l2 0 3-6 6-23 1-1 3 8 1 0 3-3 5 13 1 1 1-2 5-19 1-1 2 0 1 2 3 12 1 2 3-6 2-1 1 0 2-2 8-16 2 1 3 11 2-5 2 0 4 16 6 3 3-3 1 1 5 16 1-1 3-4 3 2 1 0 3-7 3-4 4-15 2 0 3 2 1-1 2-3 1 0 4 18 2 3 1-3 3-16 1-1 3 6 3-5 5-23 1-2 0-14-1 2-4 25-2 9-2 1-3-12-1 0-2 20-2 8-2-2-1-6-3-21-1 0-3 10-5-3-4 15-3 2-3 8-1 1-3 0-3 5-1 1-5-18-1-1-3 5-6-6-4-21-2-2-2 7-3-13-2 2-4 13-4 6-3 1-5 10-1-2-3-14-1-2-2 0-1 2-5 21-1 2-1-2-5-12-3 1-1-3-3-13-1 4-5 24-1 4-2 2-2-3-2-10-7-12-5-13-1 2-3 18-1 4-2-2-1-4-4-22-2-1-3 3-1 0-3-8-2 2-2 12-2-2-3-27-1 4-3 28-2 7-1 0-4-6-3-2-4 16-2 2-1-2-6-23-2 2-4 13-3 4-1 0-5-9-4-2-4-6-2 0-1 1-2-1-1-11-1-29-2-8-1-4-2 0-1 3-1 9-3 44-2 2-1-5-3-18-2 1-4 29-1 2-1-2-4-7-1-1-1-3-1-9 1-20-1-2-1 0-6 45-1 5-2 1-1-1-2 1-2 2-2-3-4-22-2-1-4 16-3 0-4 3-3-3-4-12-3-2-5-6-1 0-4 21-2 3-4-12-2 0-4 11-1 1-3-5-5-4-2-6-2 1-4 6-3-6-2 0-2 15-2 4-1-3-3-14-2-2-4 13-1 0-3-9-3-3-2-7-2-22-2 2-3 20-7 16-1 0-5-3-4-9-4 0-2 2-3 13-1 1-3-5-1 0-3 4-2-1-4-16-6-37-1 1-3 31-3 12-2 1-2-4-2-1-4 7-2 0-4-16-1 3-5 21-1 3-3-1 0 10 3-2 6-19 1-2 4 11 2 0 4-5 4 3 2-1 3-8 3-16 1-2 7 30 3 7 2 0 3-2 1 1 3 3 1-1 5-14 3-1 1 0 4 8 3 1 3-1 7-12 3-9 2 0 4 17 3 3 3 6 1 0 4-13 2 3 3 13 1 3 2-3 2-12 2 1 3 7 1 0 3-3 3 2 4-3 5 5 1-1 4-9 2 1 4 10 2-2 4-16 1-1 8 5 4 8 3 3 7 1 4-13 2-1 4 19 2 4 2-1 5 4 4-18 1-2 3 12 2-1 3-4 3 1 1-2 4-24 2-1 3 14 1 4 2-1 2-14 2-37 1-5 2 1 1 8 1 37 2 9 1 4 2 0 3-3 1 0 6 4 6 7 1-1 5-5 2-5 2-1 1 2 5 13 1 2 2-2 4-15 3 0 5 5 2-5 3-16 1-2 3 18 2 1 2-8 2 0 3 4 6 0 1 3 4 16 2 1 1-3 3-14 1-2 8 15z" style="fill:#fcbba1;stroke:#fcbba1;stroke-width:.8" />
<path d="M1046 861l1-1 1-9 0-109 1-21 2-12 5 13 1 0 3-4 2 1 1 8 2 31 1 78 1 8 2 0 2-4 2-8 3-70 1-15 2-5 1 1 1 2 2 11 1 69 1 4 1 3 1-9 2-70 4-32 2-1 3 8 1-2 3-16 1-3 2 5 4 30 2-4 2-15 5-9 4-3 4-6 5 0 1-1 4-5 3-2 2 0 1 1 1 5 6 49 2 4 3-16 1-4 3-1 7-30 2-1 1 2 4 19 5-7 1 7 2 22 0 93 1 7 3 5 0-2-3-6 0-6 0-83-2-34-2-12-5 7-3-13-2-4-2 1-1 2-4 20-2 3-3 0-4 9-2-1-1-6-4-28-2-5-3 0-8 5-5 0-4 5-4 2-5 8-4 15-4-23-2-3-1 2-3 13-1 2-3-7-2 2-7 46-4-25-2-5-1 0-2 3-1 8-3 28-3 14-1 52-2-5 1-63-3-36-3-22-2-1-3 3-1-1-1-3-1-7 0-13-1-7-2 1-1 9 0 12-4 44 1 102 0 6-1 3-2-5-2-17 0-76 0-15-2-7-2 0-1 5-3 17-2 17-1 44-1 6-2 0-2-6-2-7-1-63-5-18-1 0-2 6-2 19 0 17 2 37-1 7-1 1-2-4-2-9 1-30 0-12-2 1 0 3-1 34-2 6-1 1 0-2-2-53-2-13-2-7-1 0-2 3-4 16-1-5-3-2-5-6-1 10-2 33-1 4-1 0-2-7-1-51-2-13-1-3-2 0-5 18-2 1-3-1-1 1-2 4-3 18-2 22-4-35-1-4-1 0-1 5-2 25-1 59-2 13-1-8-1-76-2-27-2-5-4-9-4-13-2-1-3 6-1 0-2-16-1-5-1-1-2 0-1 3-10 20-2 1-3-3-1 1-6 28-4-24-2-5-1-2-2 0-1 3-4 15-5 6-1 1-1-1-5-8-1 0-2 3-1 6-2 16-2 70-3 12-2-1 0-1-2-69-1-24-5-37-3-9-2-1-1 4 0 15-3 25-2 6-2 2-2 3-1 9-2 67-1 6-2-1-1-1-1-6-2-67-1-16-2-5-1 1-2 7-3 19-1 83-1 5-5 0-1-1 0-9 0-76-2-17-1-1-2 25-2 80-1 5-2 2-3-2-2-7 1-91-2-22-1-9-2-3-1 3-3 10-5 8-1 9-2 23 0 64 0 6-2 4-9-1-2-3-2-59-2-11-1 4-1 14-2 50-2 8-1 3-2-102-2-17-2-2-3-2-2 4-2 4-2 17-2 91-2-4 0-4-2-77-2-22 2 101 2 10 2 5 1-1 0-4 2-91 3-16 2-5 2 0 1 2 2 4 1 13 2 103 1-1 7-16 2-1 0 4 3 4 4 0 4 2 5 1 5 7 2-1 1-11-2-82 2-22 2-10 1-4 2 6 1 21 0 93 2 5 2 2 3 0 2-2 1-7 1-70 2-21 2 13 0 76 1 3 1 1 5 0 2-4 2-80 2-18 2-6 2 17 2 67 1 3 4 5 1 2 2-1 2-63 1-7 2-4 2-9 4-39 2-6 1 1 4 19 2 21 3 99 3-6 4-17 2-63 1-14 2-9 1-2 1-1 5 9 1 1 1-1 5-9 4-17 1-3 2 0 1 3 3 13 3 38 3-34 3-15 1-1 3 3 2 0 10-19 1-1 2 3 4 20 1-1 3-9 2 0 5 18 3 6 1 5 2 28 1 79 1 7 5-21 6-15 5-19 4-46 1-1 2 3 1 2 7-34 2 0 2 15 2 54 1 2 2 1 1 0 1-1 2-32 2 0 2 17 2 37 2 7 2 4 2 0 2-4 2-8 2 1 2 4 5-1 5 8 2 2 3-4 4-11 6 16 3 3 1-2 2-8 3-41 2-21 2 10 1 63 2 17zM992 821l-2-3-1-8 2-47 1 3 3 42-1 10 0 2zM998 803l-1-35 0-9 1-6 2 10 0 12 0 17zM1115 852l0-20-2-3 0 15 0 5zM1051 671l2-1 7-32 2-3 1 0 3 5 3-5 1-1 5 13 1 1 6-20 1-1 2 1 1 2 3 11 1 2 3-5 3-1 4-10 6-7 5 12 1-1 1-3 2 0 4 13 6 2 3-2 1 1 5 15 4-6 4 6 6-13 4-16 2 0 3 3 1 1 2-3 1 0 4 15 2 2 1-3 3-11 1-1 2 3 1 0 3-5 5-16 1-2 0-14-1 2-5 23-3 5-3-6-1 1-3 16-1 3-2-3-4-18-1 0-2 3-1 1-3-2-2 0-4 15-3 4-3 7-1 0-3-2-3 4-1 1-5-16-1-1-3 3-6-3-4-16-2 0-2 5-3-11-2-1-8 16-2 2-1 0-2 1-3 6-1-2-3-12-1-2-2 0-1 1-5 19-1 2-1-1-5-13-3 3-1 0-3-8-1 1-6 23-3 6-2 0-5-23-8-15-1 2-3 14-1 3-2-1-4-16-1-3-6 0-3-4-2 0-2 8-2-1-3-18-1 2-3 16-2 5-5-5-3 0-4 15-2 2-1-2-5-13-1-2-2 1-2 5-5 5-1 1-6-7-6-4-1 0-3 3-2 0-1-4-2-9-1-37-1-8-2-1-1 5-2 37-2 14-2 1-1-4-3-14-2 1-4 24-1 2-3-1-3 4-2 1-3-12-1 2-4 18-5-4-2 1-2-4-4-19-2 1-4 13-7-1-3-3-4-8-8-5-1 1-4 16-2 2-4-10-2-1-4 9-1 1-5-5-4 3-3-2-3 3-1 0-3-7-2-1-2 12-2 3-1-3-3-13-2-3-4 13-1 0-3-6-3-3-4-17-2 0-3 9-7 12-3 1-3-1-4-8-1 0-3 1-5 14-1 1-3-3-1-1-3 2-2 0-3-7-7-30-1 2-3 16-3 8-2 1-4-3-4 5-2 0-4-11-1 2-5 16-1 3-3 2 0 8 1-1 3-5 5-14 1-1 4 9 2 0 4-5 4 2 2-1 6-15 1 0 9 27 3 2 3-1 4 3 1-1 5-14 1-2 3 0 4 7 5 0 8-11 3-6 2 1 4 13 6 8 1-1 4-11 2 2 3 13 1 2 2-1 2-8 2 2 3 13 1 2 6-8 4-9 2 0 3 4 1-1 4-9 2 1 4 9 2-1 4-14 1-2 2 0 6 3 7 11 6 3 1 0 1-3 3-9 2-1 4 18 2 2 2 2 5 8 1 0 3-7 1 0 2 1 1 0 5-9 3-2 1-2 4-22 2-1 4 15 2 0 2-8 2-17 1-2 3 21 3 9 1 3 2 0 3-5 3 0 4 2 4 4 3 1 5-3 2-4 2 0 3 4 3 7 1 1 2-2 4-13 1-2 3 0 4 4 2-2 3-13 1 0 3 14 2 1 2-6 2 0 3 3 6 1 1 2 4 13 2 2 1-2 3-13 1-2 3 3 4 10z" style="fill:#fca689;stroke:#fca689;stroke-width:.8" />
<path d="M1046 858l1-3 0-6-1-106 4-40 0-12 1-9 2-1 2 9-1 11 0 5 2 5 1 1 3-3 2 1 4 24 2 39-1 59 2 4 1-52 3-14 3-28 1-8 2-3 1 0 2 5 4 25 7-46 2-2 3 7 1-2 3-13 1-2 2 3 4 23 4-15 5-8 4-2 4-5 5 0 10-5 1 0 2 3 4 30 1 6 2 1 4-9 3 0 2-3 3-18 2-4 2-1 1 1 4 16 5-7 1 5 3 37 0 87 1 7 2 5-2-16-1-94-1-23-3-16-5 7-3-11-2-2-2 0-2 4-3 16-2 2-3 0-4 6-2-1-2-13-1-8 0-9-1-5-1 0-8 5-10 2-8 5-3 4-2 3-2 12-2 3-4-18-2-3-1 1-3 10-1 2-3-6-2 1-6 27-1 1-4-12-2-1-1-1-2 5-4 16-1 0-5-10-5-34-5-17-1-9 2-15 4-11 2 2 2-1 3-7 1-1 5 14 1 1 4-16 2-4 1 0 3 3 3 10 1 1 3-3 3-1 4-12 3-4 3-2 5 12 1 0 1-3 2 0 4 12 2 1 4 0 3-2 1 2 5 14 4-5 4 8 2-1 4-12 4-18 2-1 3 4 1 1 3-2 4 13 2 1 4-11 1 0 2 1 1 0 8-18 1-1 0-11-1 2-6 19-2 2-1 0-2-3-1 1-3 11-1 3-2-2-4-15-1 0-2 3-1-1-3-3-2 0-4 16-6 13-4-6-4 6-5-15-1-1-3 2-6-2-4-13-2 0-1 3-1 1-5-12-6 7-4 10-3 1-3 5-1-2-3-11-1-2-2-1-1 1-6 20-1-1-5-13-1 1-3 5-3-5-1 0-2 3-7 32-2 1-6-33-4-10-3-3-1 2-3 13-1 2-2-2-4-13-1-2-6-1-3-3-2 0-2 6-2-1-3-14-1 0-3 13-2 2-4-4-3 0-1 2-4 13-2 2-1-1-3-7-3-4-2 0-2 4-5 3-3-1-4-4-4-2-3 0-3 5-2 0-1-3-3-9-3-21-1 2-2 17-2 8-2 0-4-15-2 1-4 22-1 2-3 2-5 9-1 0-2-1-1 0-3 7-1 0-5-8-2-2-2-2-4-18-2 1-3 9-1 3-1 0-8-4-5-10-8-3-1 2-4 14-2 1-4-9-2-1-4 9-1 1-3-4-2 0-4 9-6 8-1-2-3-13-2-2-2 8-2 1-1-2-3-13-2-2-4 11-1 1-6-8-4-13-2-1-3 6-8 11-5 0-4-7-3 0-1 2-5 14-1 1-4-3-3 1-3-2-9-27-1 0-5 13-3 3-4-2-4 5-2 0-4-9-1 1-5 14-1 3-3 3 0 7 3-3 1-3 5-12 1 0 3 5 1 1 6-5 4 2 2-1 6-11 1 1 2 3 7 20 3 3 5 2 3-1 6-14 2-1 1 0 3 4 3 1 4-3 4-6 6-6 2 1 4 12 6 7 1-2 4-10 6 17 4-1 2 5 1 15-2 21 3 13-3 18-1 2-4 4-2 9-4 59-1-12-2-43-2-18-2-4-1 1-6 17-1 20 1 75-1 7-2 1-2-1-1-4 0-83-2-17-1-5-1-1-2 10-1 20-2 80-1 6-1 1-2-1-1-8 0-68 0-26-3-25-3-10-4 11-5 5-1 3-2 10-2 26-1 69-1 5-1 2-5 1-1-1-1-4-2-68-1-18-2-5-1 1-3 12-2 3-4-34-3-6-3-1-2 2-2 3-4 25-2 0-4-25 0 10 2 9 1 18 1 74 2 6 2-89 2-19 3-7 1-1 2 0 3 4 2 15 2 104 1-3 2-8 2-50 1-14 1-4 2 11 2 59 2 3 7 2 2-1 2-4 0-74 2-21 1-7 5-8 3-10 1-3 2 3 2 14 1 21-1 87 2 7 3 2 2-2 1-5 2-80 2-25 1 1 2 17 0 76 0 9 1 1 5 0 1-5 1-83 3-19 2-7 1-1 2 5 1 16 2 67 1 6 1 1 2 1 1-6 2-67 1-9 2-3 2-2 2-6 3-25 0-15 1-4 2 1 3 9 5 37 1 24 2 69 0 1 2 1 3-12 2-70 2-16 1-6 2-3 1 0 5 8 1 1 1-1 5-6 4-15 1-3 2 0 1 2 2 5 4 24 6-28 1-1 3 3 2-1 10-20 1-3 2 0 1 1 1 5 2 16 1 0 3-6 2 1 4 13 4 9 2 5 2 27 1 76 1 8 2-13 1-59 2-25 1-5 1 0 1 4 4 35 2-22 3-18 2-4 1-1 3 1 2-1 5-18 2 0 1 3 2 13 1 51 2 7 1 0 1-4 2-33 1-10 5 6 3 2 1 5 4-16 2-3 1 0 2 7 2 13 2 53 0 2 1-1 2-6 1-34 0-3 2-1 0 12-1 30 2 9 2 4 1-1 1-7-2-37 0-17 2-19 2-6 1 0 5 18 1 63 2 7 2 6 2 0 1-6 1-44 2-17 3-17 1-5 2 0 2 7 0 15 0 76 2 17zM1045 851l-1-2 0-7 0-24 2 18zM1028 821l-1-1-1-8 0-46-1-23-2-11-5-10-1 0-4 13-5 4-3 9-1-1-3-15-3-6-1-1-7 5-3 3-2 0-3-3-2 8-2 23-1-4-4-41-2-9-2 0-5 15-2 1-3-1-1 0-6 14-1 1-5-12-1 1-6 25-4-30-2-5-3-3-4-16-4-9-3-15 0-7 2-6 4-11 4-6 4-20 2-2 4 15 2 0 4-14 1 1 4 15 3 6 2-1 4-6 3-1 9 6 10-3 6 7 1 1 2-2 5-15 3-2 4 3 2-1 3-9 1 0 3 14 2 1 2-5 2 0 3 3 7 4 4 9 2 1 1-1 4-13 2 1 3 5 3 9 2 18 0 41-4 27-4-9-2 1-6 20-2 21-1 48zM854 784l-1-3-4-45-4-44-3-17 0-11 6-21 2-1 3 2 1 0 4-8 2 1 3 6 1 1 2-3 4-11 1-2 2 0 6 2 5 9 8 6 1 0 1-1 3-8 2-1 4 15 4 6 2 4 1 7 0 10-2 9-6 13-2 1-3-2-1 1-4 22-2 3-5-21-1-3-1-1-3 4-4 13-5 5-1 1-1-1-5-8-1 0-2 2-3 17zM992 822l2-4 1-10-3-42-1-3-2 47 1 8 1 2z" style="fill:#fc9272;stroke:#fc9272;stroke-width:.8" />
<path d="M1046 852l0-16-2-18 0 24 0 7zM1184 846l-1-91-5-62-1-2-2 0-3 2-4-3-3 0-3 3-2 15-2 2-3 0-4 4-2-4-2-7 3-13-2-21 4-27 2-1 4 6 3-2 4 11 2 1 4-9 3 1 1-1 6-14 2-2 1-1 0-9-1 1-2 3-4 13-2 2-1 0-2-1-1 0-4 11-2-1-4-13-3 2-1-1-3-4-2 1-4 18-4 12-2 1-4-8-4 5-5-14-1-2-3 2-4 0-2-1-4-12-2 0-1 3-1 0-5-12-3 2-3 4-4 12-3 1-3 3-1-1-3-10-1-3-3 0-6 20-1-1-5-14-1 1-3 7-2 1-2-2-2 2-3 14-1 10 1 9 5 17 5 34 5 10 1 0 4-16 2-5 1 1 2 1 4 12 1-1 6-27 2-1 3 6 1-2 3-10 1-1 2 3 4 18 2-3 2-12 2-3 3-4 8-5 10-2 8-5 1 0 1 5 0 9 1 8 2 13 2 1 4-6 3 0 2-2 3-16 2-4 2 0 2 2 3 11 5-7 3 16 1 23 1 94 1 9zM1073 730l-1 0-5-8-2-12-1-9 0-11-4-15 0-9 1-4 3-1 5-13 1-1 5 16 1 1 4-17 2-4 1 0 2 0 1 2 3 10 1 1 3-2 2 0 1-1 6-17 3-3 1 0 5 13 1 0 1-2 2 0 4 12 2 1 7-2 1 2 5 15 2-5 2-1 2 9-1 7-1 3-2 1-2-1-5 3-8 2-5 3-3 4-2 14-2 3-4-16-2-2-1 1-3 8-1 1-3-9-2 3-3 15-3 10-1 0-4-8-3-2-2 2-2 10zM789 844l2 1 1-1 1-4 2-82 1-20 2-10 1 1 1 3 2 17 0 78 0 11 2 1 1 0 2-1 0-4 0-87 1-11 6-17 1-1 2 4 1 10 4 63 3-44 1-17 2-7 4-4 3-15 0-9-2-9 2-21-1-15-2-5-4 1-6-17-4 10-1 2-6-7-4-12-2-1-6 6-4 6-4 3-3-1-3-4-1 0-2 1-6 14-3 1-5-2-3-3-7-20-2-3-1-1-6 11-2 1-4-2-6 5-1-1-3-5-1 0-5 12-1 3-3 3 0 8 3-3 6-13 1 0 3 3 1 0 6-5 6 2 6-7 9 19 8 14 3-4 7-16 2-1 4 2 3 0 8-11 6-4 6 14 4 5 2 0 1 0 4-9 2 3 3 9 4 9 1 11-3 15 4 9 1 9-2 6-4 4-1 4-5 29-1-2-3-26-3-12-1 1-6 13-4 20-5-23-1-1-2 5-2 19-3 45 0 44-1-83-2-21-5-37-1-1-3-1-7-16-4 11 1 6 3 3 3 1 3-2 1 1 1 6-2 8-6 7-5 24-2 24-1 63 0 5-2 3-2-1-1-5-2-69-2-26-2-4-1 1-3 7-2 0-4-20-3-5-3-1-2 2-2 2-4 15-2 0-4-16 0 8 4 25 2 0 4-25 2-3 2-2 3 1 3 6 4 34 2-3 3-12 1-1 2 5 1 18 2 68 1 4 4 1 2-1 1-2 1-5 1-69 2-28 2-9 6-7 4-11 2 3 1 9 3 26 0 89zM803 834l-1-11 2-47 1 3 1 48-1 9-1 0zM1028 822l1-8 1-50 2-17 6-20 2-1 4 9 4-29-1-16 1-23-2-18-3-9-3-5-2-1-4 13-1 1-2-1-4-9-7-4-3-3-2 0-2 5-2-1-3-14-1 0-3 9-2 1-4-3-3 2-5 15-2 2-1-1-6-7-10 3-9-6-3 1-4 6-2 1-3-6-4-15-1-1-4 14-2 0-4-15-2 2-4 20-4 6-4 11-2 6 0 7 3 15 4 9 4 16 3 3 2 5 4 30 6-25 1-1 5 12 1-1 6-14 1 0 3 1 2-1 5-15 2 0 2 9 4 41 1 4 2-23 2-8 3 3 2 0 3-3 7-5 1 1 3 6 3 15 1 1 3-9 5-4 4-13 1 0 5 10 2 11 1 23 0 46 1 8zM1028 745l-4-20-6-11-1-1-4 11-5 5-3 6-1 0-4-14-3-3-6 1-4 5-2 1-3-3-1 2-3 12-1-2-6-34-2 0-5 14-2 1-3-1-1 0-6 11-1 0-5-9-1 1-6 16-4-19-5-10-1-12-5-10-1-9 2-13 5-11 3-14 2-3 4 14 2 1 1-1 3-6 1 2 5 8 2 3 2-1 6-7 3 0 7 3 8 0 8 5 1 0 2-2 5-15 3-3 4 3 2-1 3-7 1 2 3 13 2 2 2-2 2 0 6 4 4 2 6 7 1-1 4-9 2 0 1 1 3 7 2 12 0 11-2 13 3 13-1 13-2 5-1 0-3-4-2 2-6 15-4 13zM854 785l4-53 3-17 2-2 1 0 5 8 1 1 1-1 5-5 4-13 3-4 1 1 1 3 5 21 2-3 4-22 1-1 3 2 2-1 6-13 2-9 0-10-1-7-2-4-4-6-4-15-2 1-3 8-1 1-1 0-8-6-5-9-6-2-2 0-1 2-4 11-2 3-1-1-3-6-2-1-4 8-1 0-3-2-2 1-6 21 0 11 3 17 4 40 4 49zM854 751l-1-3-6-44 1-14-3-15 1-13 2-9 2-2 3 1 1 0 4-6 2 0 3 5 1 0 2-1 5-14 3-1 5 2 7 10 6 6 1 1 1-1 3-5 2-1 7 19 0 11-1 5-3 6-2 1-4 1-2 2-2 18-2 6-1-3-3-16-2-2-3 1-1 2-4 12-5 5-1 1-1-1-5-10-1 0-2 2-2 10z" style="fill:#fb7d5d;stroke:#fb7d5d;stroke-width:.8" />
<path d="M1184 839l0-94-4-42 2-15-4-5-4-4-3 3-1 1-3-3-2 1-4 5-6 0-3-4-2-13 1-13 1-6 2-1 4 7 3-3 1 2 3 10 2 1 4-9 3 3 7-18 2-2 1 1 0-10-1 1-2 2-6 14-1 1-3-1-4 9-2-1-4-11-3 2-4-6-2 1-4 27 2 21-3 13 2 7 2 4 4-4 3 0 2-2 2-15 3-3 3 0 4 3 3-2 2 0 1 2 5 62zM1151 703l1-2 0 2-1 1zM760 835l3-1 1-5 2-67 2-28 4-18 6-7 2-8-1-6-1-1-5 2-2-2-2-2-1-6 3-9 1-2 7 16 3 1 1 1 5 36 2 33 1 72 0-40 2-32 2-28 3-13 1 1 2 5 3 18 4-20 6-13 1-1 3 12 3 26 1 2 5-29 1-4 4-4 2-4 0-9-5-11 3-17-1-11-4-7-3-9-2-3-4 9-1 0-2 0-4-5-6-14-6 4-8 11-3 0-4-2-2 1-7 16-3 4-8-14-9-19-6 7-6-2-6 5-1 0-3-3-1 0-6 13-3 3 0 13 9-18 4 1 7-7 6 3 4 0 2 1 7 12 2 9-1 6-1 3-6 5-1 3 1 1 3-2 3 2 7 8 3 6-7 40-3 79-2-1-2-68-2-19-1-10-2-2-1 1-3 5-2-1-4-15-3-5-3-2-2 2-6 15-2-1-4-14 0 8 4 16 2 0 4-15 2-2 2-2 3 1 3 5 4 20 2 0 3-7 1-1 2 4 2 26 2 68zM792 742l-6-38 0-5 3-11-2-6-6-6-1-9 3-7 6-3 9-12 3-2 3-1 1 0 2 3 4 10 4 7 2 1 1 0 4-7 2 2 2 8 0 7-1 5-1 2-3 1-4-1-5 6-1 6 3 9-2 8-4 8-4 11-5-13-1 0-4 23-2 5zM821 734l-5-33 2-7 3-4 3 2 7 9 1 3-1 3-3 3-1 4-5 21zM804 836l1 0 1-2 0-9-1-46-1-3-2 49zM854 751l4-32 2-7 3-7 1 0 5 10 1 1 1-1 5-5 4-12 1-2 3-1 2 2 3 16 1 3 2-6 2-18 2-2 4-1 2-1 3-6 1-5 0-11-7-19-2 1-3 5-1 1-1-1-6-6-7-10-5-2-3 1-5 14-2 1-1 0-3-5-2 0-4 6-1 0-3-1-2 2-2 9-1 13 3 15-1 14 6 44zM853 734l-3-15-2-16 2-9 4-3 3 2 1 2 2 8-4 28-2 5zM868 708l-1-5 0-11-1-4-5-6-5-2-5-2-1-3-1-8 1-1 1-2 3 0 4-6 5 2 1 0 7-17 2-1 3-1 3 2 14 23 1-1 3-4 2 0 1 5 1 7-2 5-6 0-12 14-7 14-4 4zM890 706l-1-5 1-4 1 6-1 5zM1028 747l4-13 6-15 2-2 3 4 1 0 2-9 1-11-3-11 2-13 0-11-2-12-3-7-1-1-2 0-4 9-1 1-6-7-4-2-6-4-2 0-2 2-2-2-3-13-1-2-3 7-2 1-4-3-3 3-5 15-2 2-1 0-8-5-8 0-7-3-3 0-6 7-2 1-2-3-5-8-1-2-3 6-1 1-2-1-4-14-2 3-3 14-5 11-2 13 1 9 5 10 1 12 5 10 4 19 6-16 1-1 5 9 1 0 6-11 1 0 3 1 2-1 5-14 2 0 6 34 1 2 3-12 1-2 3 3 2-1 4-5 6-1 3 3 4 14 1 0 3-6 5-5 4-11 1 1 6 11zM1028 729l-4-13-5-10-1-5 3-5 6-3 3-1 6 1 4 4 4 2 1 5-1 8-1 0-3-3-10 19-2 2zM1003 725l-5-12-1-1-6-1-4 6-2 0-3-2-1 1-3 8-1-1-4-20 2-11-1-2-2 0-3 1-2 2-2 10-1 3-2 1-3-2-1 1-3 6-3 4-1 0-2-2-3-6-1 0-4 13-2 2-1-3-4-17 2-8 3-2 3 1 3 4 1 0 3-3 3-1 3 1 3 3 1 0 2-3 1-3-3-6-6-7-18 2-5-3-1-5 0-6 4-15 2-3 4 9 2 1 4-1 1 0 7 7 8-10 3-2 2 0 8 3 10 7 3 1 3-4 7-20 1-1 2 0 2 2 2-1 3-4 6 18 2 1 8 6 4 1 6 6 1-1 4-8 2 0 2 3 1 5 0 4-2 6-3 3-5-2-5 2-7 0-4 3-3 7 3 13-3 9-1 4-8 11-1 0zM1073 731l4-14 2-2 3 2 4 8 1 0 3-10 3-15 2-3 3 9 1-1 3-8 1-1 2 2 4 16 2-3 2-14 3-4 5-3 8-2 5-3 2 1 2-1 1-3 1-7-2-9-2 1-2 5-5-15-1-2-7 2-2-1-4-12-2 0-1 2-1 0-5-13-1 0-3 3-6 17-1 1-2 0-3 2-1-1-3-10-1-2-2 0-1 0-2 4-4 17-1-1-5-16-1 1-5 13-3 1-1 4 0 9 4 15 0 11 1 9 2 12 5 8zM1072 721l-4-7-2-6 0-7 1-5 2-2 3-1 7 4 7-3 3 0 2 3 0 6-1 7-3 7-1 0-4-8-3-1-2 2-2 9-2 3zM1109 706l-3-11-3-2-4 2-4-12-2-1-4-4-3 4-1 0-5-1-2-6 1-10 3-11 3-2 1 2 3 13 1 1 2-3 3 0 1-3 4-18 2-3 3-2 1 1 5 13 1 1 3-2 5 21-1 7-7 11-1 12-2 5zM1068 682l-1-5 0-8 2-13 1-2 2 10 1 11-3 8zM1123 673l0-2 1 0 1 2-2 2zM724 697l3-4 6 0 1-1-2-6-9-10 0 22zM981 694l4-1 5 1 1-1 0-3-1-5-2-2-3-2-4 1-4 6 0 2z" style="fill:#fb6b4b;stroke:#fb6b4b;stroke-width:.8" />
<path d="M760 821l2 1 3-81 7-38-3-6-7-8-3-2-3 2-1-1 1-3 6-5 1-3 1-8-2-7-7-12-2-1-4 0-6-3-7 7-4-1-9 18 0 6 9 10 2 6-1 1-6 0-3 4-1 1 0 9 4 14 2 1 6-15 2-2 3 2 3 5 4 15 2 1 3-5 1-1 2 2 1 10 2 19zM760 764l-3-32-2-15-2-2-4 5-2 0-5-19 1-9-5-8-3-11 0-6 2-5 3-6 3-3 3 1 3 4 3 8 0 7-4 15 0 4 5 4 6-3 3 0 5 6 2 4 0 5-4 19-3 30zM727 712l-2-9 2-4 2-1 2 3 1 3-3 9-2 0zM1184 745l0-15-3-26 1-5 2-4 0-21-3 1-1-2-2-7 1-8 2-7 2-1 1 1 0-10-1-1-3 5-5 13-1 2-3-3-4 9-2-1-3-10-1-2-3 3-4-7-2 1-1 8-1 11 2 13 3 4 6 0 4-5 2-1 3 3 1-1 3-3 4 4 4 5-2 15zM792 743l6-28 1 0 5 13 4-11 3-5 3-9 0-2-3-9 1-6 5-6 4 1 3-1 1-2 1-5 0-7-2-8-2-2-4 7-1 0-2-1-4-7-4-10-2-3-1 0-3 1-3 2-9 12-5 2-2 2-2 8 1 8 6 5 2 6-3 11 0 5zM792 730l-5-26 1-5 6-11-3-13 0-8 5-13 3-4 3-1 3 2 2 3 3 12 0 9-4 17 5 11-7 16-5-9-1 0-4 18zM821 735l1 0 5-21 1-4 3-3 1-3-1-3-7-9-3-2-3 4-2 7zM821 725l-3-22 1-6 2-2 3 1 1 2 2 6-5 21zM854 736l2-5 4-28-2-8-1-2-3-2-4 3-2 9 3 24 2 7zM853 725l-2-6-2-16 2-6 3-2 3 3 1 6-2 18-2 4zM1028 730l12-21 3 3 1 0 1-8-1-5-4-2-4-4-6-1-3 1-6 3-3 5 1 5 5 10zM1028 719l-4-13 0-3 3-6 3 0 6 1 1 3 1 3-4 10-4 5-2 1zM1004 727l1 0 8-11 3-10 1-5-3-11 3-7 4-3 7 0 5-2 5 2 3-3 2-6 0-4-1-5-2-3-2 0-4 8-1 1-6-6-4-1-8-6-2-1-6-18-3 4-2 1-2-2-2 0-1 1-7 20-3 4-3-1-10-7-8-3-2 0-3 2-8 10-7-7-1 0-4 1-2-1-4-9-2 3-4 15 0 6 1 5 5 3 18-2 6 7 3 6-1 3-2 3-1 0-3-3-3-1-3 1-3 3-1 0-3-4-3-1-3 2-2 8 4 17 1 3 2-2 4-13 1 0 3 6 2 2 1 0 3-4 3-6 1-1 3 2 2-1 1-3 2-10 2-2 4-1 2 2-2 11 4 20 1 1 3-8 1-1 3 2 2 0 3-5 1-1 1 0 6 2zM1003 719l-3-9-5-7 0-11-4-19 1-7 3-13 2-6 1-3 2 0 2 1 5-1 6 25 0 6-3 15 1 3 2 8 0 5-8 14-1 0zM978 716l-1-1-2-8 1-8 1-2 1 0 4 3 3-2 2 1 1 4-1 6-2 1-3-3zM938 714l-1-11 0-4 2-2 2 1 1 2 1 4-2 10-2 1zM950 706l0-3 1-2 1 0 2 2-1 2-1 3-1-1zM981 693l-4-3 0-2 4-6 4-1 3 2 2 2 1 5 0 3-1 1-5-1-3 1zM966 680l-3-5-1-6 2-5 2-2 3 1 2 3 2 5 0 4-2 4-3 2zM1073 722l6-14 3 1 4 8 1 0 2-3 2-13-1-5-1-2-3 0-7 3-7-4-3 1-2 2-1 5 0 7 3 8 3 5zM1073 714l-3-4-2-6 1-3 1-2 3-1 2 3 1 3-1 7zM1086 708l-1-5 1-2 1-1 2 1 0 5-2 3zM869 708l1 2 4-4 7-14 12-14 6 0 2-5-1-7-1-5-2 0-3 4-1 1-14-23-3-2-3 1-2 1-7 17-1 0-5-2-4 6-3 0-1 2-1 1 1 8 1 3 5 2 5 2 5 6 1 4 0 11zM870 699l1-6-4-16 0-8 1-9 3-9 2-2 3-1 3 2 4 8 2 8 1 7-2 7-4 8-9 13zM890 708l1-5-1-6-1 4zM1109 708l2-5 1-12 7-11 1-7-5-21-3 2-1-1-5-13-1-1-3 2-2 3-4 18-1 3-3 0-2 3-1-1-3-13-1-2-3 2-3 11-1 10 2 5 2 2 3 0 1 0 3-4 1 1 5 4 4 12 3-2 3 1zM1105 690l-4-2-1-2-2-6-1-7 1-11 2-11 2-4 3-2 1 1 2 4 3 11 1 3 2 2 1 3 0 4-6 16-1 2zM1151 704l1-1 0-2-1 1zM1069 683l1 0 1-3 2-5-1-11-2-10-1 2-2 13 0 8zM1123 675l2-2-2-2 0 2z" style="fill:#f5523a;stroke:#f5523a;stroke-width:.8" />
<path d="M760 765l5-38 4-19 0-5-2-4-5-6-3 0-6 3-5-4 0-4 4-15 0-7-3-8-3-4-3-1-3 3-3 6-2 5 0 6 3 11 5 8-1 9 5 19 2 0 4-5 2 2 2 15zM760 740l-5-30-2-3-4 6-2 0-1-4-1-8 2-4 3 1 3 4 5-5 2-2 3 2 4 6 0 5-5 29-2 5zM741 677l-1-8 2-4 1-2 2 1 1 3 0 6-1 4-2 1zM792 731l2-3 4-18 1 0 5 9 7-16-5-11 4-17 0-9-3-12-2-3-3-2-3 1-3 4-5 13 0 8 3 13-6 11-1 5zM792 721l-3-11 0-7 2-5 3-3 1 0 2 2 1 6-4 18-2 1zM804 712l-2-1-2-10 0-4 2-2 3 4 1 4-1 5zM799 686l-3-7-1-10 3-10 1-2 3-1 2 2 2 4 1 12-2 7-3 6-1 0zM1184 730l0-10-2-16 2-9-2 4-1 5zM821 725l1 0 5-21-2-6-1-2-3-1-2 2-1 6zM821 716l-2-13 1-4 2-1 2 3 1 5-3 11-1 0zM854 726l3-12 1-11-1-5-3-3-3 2-1 2-1 5 2 15 2 5zM854 717l-2-5-1-8 0-3 2-2 1-1 2 3 1 3-1 10zM1004 720l1 0 2-2 5-10 1-4 0-3-3-9 3-23-6-25-5 1-2-1-2 0-1 3-2 6-3 13-1 7 4 19 0 11 3 4zM1003 714l-3-11-1-11-5-19 2-15 2-7 2-2 5 2 2 1 2 8 1 9 0 8-3 13 3 11 0 3-5 11-1 0zM1028 720l8-9 2-7-1-3-1-3-6-1-3 0-3 6 1 7zM1028 712l-1-8 1-3 4 2 1 1-3 7zM978 716l3-8 1-1 3 3 2-1 1-6-1-4-2-1-3 2-4-3-1 0-1 2-1 8 2 8zM939 715l2-1 2-10-1-4-1-2-2-1-2 2 0 4 1 9zM1073 714l2-3 1-7-1-3-2-3-3 1-1 2-1 3 2 7 2 2zM727 713l2 0 3-9-1-3-2-3-2 1-2 4zM1087 709l2-3 0-3 0-2-2-1-1 1-1 3 1 4zM951 707l1 1 2-4-1-1-1-2-1 0-1 2zM871 701l11-17 4-11-1-7-2-8-4-8-3-2-3 1-2 2-3 9-1 9 0 8 4 16-1 6zM875 686l-2-2-2-3-1-10 2-11 1-3 3-2 3 3 1 3 2 10-1 6-2 5-2 3zM1106 690l2 1 1-2 6-16 0-4-1-3-2-2-1-3-3-11-2-4-1-1-3 2-2 6-2 11-1 11 3 11 1 2zM1102 682l-2-5 0-11 2-12 1-2 2-1 1 2 2 5 1 17-1 5-2 3-1 1zM966 681l3-1 2-1 2-8-2-5-2-3-3-1-2 2-2 7 1 6zM1181 675l3-1 0-23-1-1-2 1-1 4-2 9 1 7z" style="fill:#ee3a2c;stroke:#ee3a2c;stroke-width:.8" />
<path d="M760 742l7-34 0-5-4-6-3-2-2 2-5 5-3-4-3-1-2 4 1 8 1 4 2 0 4-6 2 3zM760 729l-4-25 2-5 2-2 4 4 1 5-3 20-2 4zM792 722l2-1 4-18-1-6-2-2-1 0-4 4-1 5 1 10zM792 714l-1-6 0-5 1-4 2-1 1 3 0 5-1 8-2 1zM1184 720l0-22-1 2-1 4zM854 718l2-4 1-10-1-3-2-3-1 1-2 2 0 3 1 10zM853 708l0-4 1-2 1 4-1 4zM821 717l1 0 3-13-1-4-2-2-1 0-1 2-1 4zM821 708l0-5 1 0 0 6-1 0zM1004 715l1 0 2-3 3-8 0-3-3-9 3-15 0-10-3-15-2-1-5-2-2 2-2 7-2 15 5 19 1 11zM1003 708l-1-7 0-6 2-1 3 5 0 4-2 6-1 0zM1002 688l-4-8-1-9 1-12 2-3 1 0 4 2 2 4 1 7-1 8-2 8-1 3-2 1zM804 712l1-4 1-5-1-4-3-4-2 2 0 4 2 10zM1028 712l2-1 3-7-1-1-4-2-1 3zM799 686l2 1 1 0 2-3 3-11-1-11-2-4-2-2-3 1-1 2-3 10 1 10zM876 686l2-2 2-4 2-9-2-10-1-3-3-3-3 2-1 3-2 11 1 10 2 3zM875 673l0-4 1-2 1 4-1 3zM1103 683l3 0 2-2 1-8-1-15-2-5-1-2-2 1-1 2-2 13 0 11zM1104 673l-1-6 0-4 2-1 1 7-1 4zM742 677l1 1 2-1 1-4 0-6-1-3-2-1-1 2-2 4 0 4z" style="fill:#dd2a25;stroke:#dd2a25;stroke-width:.8" />
<path d="M760 730l2-4 3-20-1-5-4-4-2 2-2 5 3 21zM760 719l-3-15 1-3 2-2 2 2 1 5-1 12-2 3zM792 715l2-1 2-10-1-3-1-3-3 3-1 3zM821 709l1 0 1-3-1-3-1 0zM854 710l1-6-1-2-1 2 0 2zM1004 709l2-1 1-5 0-4-3-5-2 1 0 6zM1002 689l2-1 3-8 1-11-1-7-2-4-4-2-1 0-2 3-1 12 1 9 2 4zM1001 677l-1-8 1-4 1 0 2 2 0 6-2 5zM876 674l1-3-1-4-1 4zM1105 673l1-6-1-5-2 1 0 4 0 5z" style="fill:#ca181d;stroke:#ca181d;stroke-width:.8" />
<path d="M760 721l2-3 1-12-1-5-2-2-2 2-1 5 2 12zM760 712l-1-6 0-2 1-2 2 2 0 4-2 5zM1002 678l2-3 0-6-1-3-2-1-1 8 1 3z" style="fill:#b71319;stroke:#b71319;stroke-width:.8" />
<path d="M760 713l2-7-2-4-1 2 0 2z" style="fill:#a30f15;stroke:#a30f15;stroke-width:.8" />
</g></g>
<g id="matplotlib.axis_13">
<g id="xtick_28">
<g id="line2d_86">
<g>
<use href="#mbc3e3207b5" x="361.5" y="482.1" style="stroke:#000000;stroke-width:1" />
</g>
</g>
</g>
<g id="xtick_29">
<g id="line2d_87">
<g>
<use href="#mbc3e3207b5" x="390.3" y="482.1" style="stroke:#000000;stroke-width:1" />
</g>
</g>
</g>
<g id="xtick_30">
<g id="line2d_88">
<g>
<use href="#mbc3e3207b5" x="419.1" y="482.1" style="stroke:#000000;stroke-width:1" />
</g>
</g>
</g>
<g id="xtick_31">
<g id="line2d_89">
<g>
<use href="#mbc3e3207b5" x="447.9" y="482.1" style="stroke:#000000;stroke-width:1" />
</g>
</g>
</g>
<g id="xtick_32">
<g id="line2d_90">
<g>
<use href="#mbc3e3207b5" x="476.7" y="482.1" style="stroke:#000000;stroke-width:1" />
</g>
</g>
</g>
<g id="xtick_33">
<g id="line2d_91">
<g>
<use href="#mbc3e3207b5" x="505.6" y="482.1" style="stroke:#000000;stroke-width:1" />
</g>
</g>
</g>
<g id="xtick_34">
<g id="line2d_92">
<g>
<use href="#mbc3e3207b5" x="534.4" y="482.1" style="stroke:#000000;stroke-width:1" />
</g>
</g>
</g>
<g id="xtick_35">
<g id="line2d_93">
<g>
<use href="#mbc3e3207b5" x="563.2" y="482.1" style="stroke:#000000;stroke-width:1" />
</g>
</g>
</g>
<g id="xtick_36">
<g id="line2d_94">
<g>
<use href="#mbc3e3207b5" x="592" y="482.1" style="stroke:#000000;stroke-width:1" />
</g>
</g>
</g>
</g>
<g id="matplotlib.axis_14">
<g id="ytick_44">
<g id="line2d_95">
<g>
<use href="#m0c8410b8b1" x="361.5" y="482.1" style="stroke:#000000;stroke-width:1" />
</g>
</g>
</g>
<g id="ytick_45">
<g id="line2d_96">
<g>
<use href="#m0c8410b8b1" x="361.5" y="445" style="stroke:#000000;stroke-width:1" />
</g>
</g>
</g>
<g id="ytick_46">
<g id="line2d_97">
<g>
<use href="#m0c8410b8b1" x="361.5" y="407.9" style="stroke:#000000;stroke-width:1" />
</g>
</g>
</g>
<g id="ytick_47">
<g id="line2d_98">
<g>
<use href="#m0c8410b8b1" x="361.5" y="370.8" style="stroke:#000000;stroke-width:1" />
</g>
</g>
</g>
<g id="ytick_48">
<g id="line2d_99">
<g>
<use href="#m0c8410b8b1" x="361.5" y="333.7" style="stroke:#000000;stroke-width:1" />
</g>
</g>
</g>
<g id="ytick_49">
<g id="line2d_100">
<g>
<use href="#m0c8410b8b1" x="361.5" y="296.6" style="stroke:#000000;stroke-width:1" />
</g>
</g>
</g>
</g>
<g id="QuadContourSet_5" clip-path="url(#p706396b148)">
<g transform="scale(.5)"><path d="M723 751l1 26 1 57 2 10 2 5 1-1 0-4 2-91 3-16 2-5 2 0 1 2 2 4 1 13 2 103 1-1 7-16 2-1 0 4 3 4 4 0 4 2 5 1 5 7 2-1 1-8-2-87 2-20 2-10 1-4 2 6 1 21 0 93 2 5 2 2 3 0 2-2 1-7 1-70 2-21 2 13 0 76 1 3 1 1 5 0 2-4 2-80 2-18 2-6 2 17 2 67 1 3 4 5 1 2 2-1 2-63 1-7 2-4 2-9 4-39 2-6 1 1 4 19 2 21 3 99 3-6 4-17 2-63 1-14 2-9 1-2 1-1 5 9 1 1 1-1 5-9 4-17 1-3 2 0 1 3 3 13 3 38 3-34 3-15 1-1 3 3 2 0 10-19 1-1 2 3 4 20 1-1 3-9 2 0 5 18 3 6 1 5 2 28 1 79 1 7 5-21 6-15 5-19 4-46 1-1 2 3 1 2 7-34 2 0 2 15 2 54 1 2 2 1 1 0 1-1 2-32 2 0 2 17 2 37 2 7 2 4 2 0 2-4 2-8 2 1 2 4 5-1 5 8 2 2 3-4 4-11 6 16 3 3 1-2 2-8 3-41 2-21 2 10 1 63 2 17 3 12 1-1 1-9 0-109 1-21 2-12 5 13 1 0 3-4 2 1 1 8 2 31 1 78 1 8 2 0 2-4 2-8 3-70 1-15 2-5 1 1 1 2 2 11 1 69 1 4 1 3 1-9 2-70 4-32 2-1 3 8 1-2 3-16 1-3 2 5 4 30 2-4 2-15 5-9 4-3 4-6 5 0 7-8 3 0 1 1 1 5 6 49 2 4 3-16 1-4 3-1 7-30 2-1 1 2 4 19 5-7 1 7 2 22 0 93 1 7 3 5M1184 597l-1 2-5 23-3 5-3-6-1 1-3 16-1 3-2-3-4-18-1 0-2 3-1 1-3-2-2 0-4 15-3 4-3 7-1 0-3-2-3 4-1 1-5-16-1-1-3 3-6-3-4-16-2 0-2 5-3-11-2-1-8 16-2 2-1 0-2 1-3 6-1-2-3-12-1-2-2 0-1 1-5 19-1 2-1-1-5-13-3 3-1 0-3-8-1 1-6 23-3 6-2 0-5-23-8-15-1 2-3 14-1 3-2-1-4-16-1-3-6 0-3-4-2 0-2 8-2-1-3-18-1 2-3 16-2 5-5-5-3 0-4 15-2 2-1-2-5-13-1-2-2 1-2 5-5 5-1 1-6-7-6-4-1 0-3 3-2 0-1-4-2-9-1-37-1-8-2-1-1 5-2 37-2 14-2 1-1-4-3-14-2 1-4 24-1 2-3-1-3 4-2 1-3-12-1 2-4 18-5-4-2 1-2-4-4-19-2 1-4 13-7-1-3-3-4-8-8-5-1 1-4 16-2 2-4-10-2-1-4 9-1 1-5-5-4 3-3-2-3 3-1 0-3-7-2-1-2 12-2 3-1-3-3-13-2-3-4 13-1 0-3-6-3-3-4-17-2 0-3 9-7 12-3 1-3-1-4-8-1 0-3 1-5 14-1 1-3-3-1-1-3 2-2 0-3-7-7-30-1 2-3 16-3 8-2 1-4-3-4 5-2 0-4-11-1 2-5 16-1 3-3 2M1115 852l0-20-2-3 0 15 0 5zM998 804l-1-36 0-9 1-6 2 10 0 12 0 17z" style="fill:none;stroke:#ff33ff;stroke-width:2.8" />
</g></g>
<g id="arrows_d"><path d="M361.9 472.6l-1.2 .6M369.1 472.7l-1 .6M376.3 472.6l-1.1 .6M383.5 472.7l-1 .6M390.7 472.6l-1.1 .5M397.9 472.7l-1 .7M405.1 472.7l-1 .7M412.3 472.6l-1.1 .5M419.5 472.7l-1 .7M426.7 472.6l-1.1 .5M433.9 472.6l-1.1 .6M441.1 472.7l-1 .6M448.3 472.7l-1 .7M455.5 472.7l-1 .7M462.7 472.6l-1.1 .5M469.9 472.7l-1 .6M477.1 472.7l-1 .6M484.3 472.7l-1 .6M491.5 472.7l-1 .6M498.7 472.6l-1.1 .6M505.9 472.7l-1 .6M513.1 472.6l-1.1 .5M520.3 472.6l-1.1 .5M527.5 472.6l-1.1 .5M534.7 472.6l-1.1 .6M542 472.7l-1 .6M549.2 472.7l-1 .6M556.4 472.7l-1 .6M563.6 472.6l-1.1 .6M570.8 472.7l-1 .6M578 472.7l-1 .6M585.2 472.6l-1.1 .6M361.4 463.2l-.2 .1M368.5 463.4l.2 -.1M375.7 463.4l.2 -.1M382.9 463.4l.2 -.1M390.1 463.4l.2 -.1M397.3 463.4l.2 -.1M404.5 463.3l.2 -.1M411.7 463.4l.2 -.1M418.9 463.3l.2 -.1M426.1 463.4l.2 -.1M433.3 463.3l.2 -.1M440.5 463.4l.2 -.1M447.7 463.3l.2 -.1M454.9 463.3l.2 -.1M462.1 463.4l.2 -.1M469.3 463.3l.2 -.1M476.5 463.4l.2 -.1M483.7 463.3l.2 -.1M490.9 463.3l.2 -.1M498.1 463.4l.2 -.1M505.3 463.4l.2 -.1M512.5 463.3l.2 -.1M519.7 463.3l.2 -.1M526.9 463.3l.2 -.1M534.1 463.3l.2 -.1M541.3 463.4l.2 -.1M548.5 463.3l.2 -.1M555.7 463.3l.2 -.1M563 463.4l.2 -.1M570.2 463.4l.2 -.1M577.3 463.3l.2 -.1M584.5 463.3l.2 -.1M361.1 453.8l.5 -.3M368 454l1.1 -.6M375.2 454l1.1 -.7M382.4 454l1.1 -.6M389.7 454.1l1.1 -.7M396.8 454l1.1 -.7M404 454l1.1 -.7M411.2 454l1.1 -.6M418.4 454l1.1 -.6M425.7 454.1l1.1 -.7M432.8 453.9l1.2 -.6M440.1 454.1l1.1 -.7M447.2 453.9l1.2 -.6M454.4 454l1.1 -.7M461.6 453.9l1.2 -.6M468.9 454l1.1 -.7M476.1 454l1.1 -.7M483.3 454.1l1.1 -.7M490.5 454.1l1.1 -.7M497.6 454l1.1 -.6M504.9 454l1.1 -.7M512.1 454.1l1.1 -.7M519.3 454l1.1 -.7M526.4 454l1.1 -.6M533.6 454l1.1 -.6M540.8 453.9l1.1 -.6M548.1 454.1l1.1 -.7M555.3 454l1.1 -.6M562.5 454.1l1.1 -.7M569.7 454.1l1.1 -.7M576.9 454l1.1 -.7M584 453.9l1.2 -.6M361.1 444.2l.5 -.4M368 444.4l1.1 -.7M375.1 444.2l1.2 -.6M382.4 444.4l1.1 -.7M389.6 444.3l1.1 -.6M396.8 444.4l1.1 -.7M404 444.4l1.1 -.7M411.2 444.4l1.1 -.7M418.4 444.3l1.1 -.6M425.6 444.3l1.2 -.6M432.9 444.4l1.1 -.7M440.1 444.4l1.1 -.7M447.2 444.3l1.2 -.6M454.4 444.3l1.2 -.6M461.6 444.3l1.1 -.6M468.8 444.3l1.1 -.6M476.1 444.4l1.1 -.7M483.2 444.3l1.2 -.6M490.4 444.3l1.1 -.6M497.7 444.4l1.1 -.7M504.9 444.3l1.1 -.7M512 444.3l1.1 -.6M519.3 444.4l1.1 -.7M526.4 444.3l1.2 -.6M533.6 444.3l1.2 -.6M540.9 444.3l1.1 -.6M548.1 444.4l1.1 -.7M555.2 444.3l1.1 -.6M562.4 444.3l1.2 -.6M569.7 444.4l1.1 -.7M576.8 444.3l1.2 -.6M584.1 444.4l1.1 -.7M360.9 434.6l.9 -.5M367.8 434.8l1.5 -.9M375 434.9l1.5 -.9M382.1 434.7l1.6 -.8M389.4 434.8l1.6 -.9M396.6 434.8l1.6 -.9M403.8 434.7l1.6 -.8M410.9 434.7l1.6 -.8M418.1 434.7l1.6 -.8M425.4 434.8l1.5 -.9M432.6 434.7l1.6 -.8M439.8 434.8l1.6 -.9M447.1 434.9l1.5 -1M454.3 434.9l1.5 -1M461.5 434.9l1.5 -1M468.6 434.7l1.6 -.8M475.8 434.8l1.6 -.9M483 434.8l1.6 -.8M490.2 434.8l1.6 -.9M497.4 434.8l1.6 -.9M504.6 434.8l1.6 -.9M511.9 434.9l1.5 -1M519.1 434.9l1.5 -.9M526.3 434.9l1.5 -.9M533.4 434.7l1.6 -.8M540.7 434.9l1.5 -1M547.9 434.9l1.5 -.9M555 434.8l1.6 -.9M562.2 434.8l1.6 -.9M569.5 434.9l1.5 -1M576.6 434.8l1.6 -.9M583.9 434.8l1.6 -.9M360.9 425l.9 -.5M367.8 425.2l1.5 -.9M374.9 425.1l1.6 -.8M382.2 425.2l1.5 -.9M389.4 425.2l1.5 -1M396.7 425.3l1.5 -1M403.8 425.2l1.5 -.9M410.9 425.1l1.6 -.8M418.2 425.1l1.6 -.8M425.4 425.2l1.6 -.9M432.6 425.2l1.5 -.9M439.8 425.1l1.6 -.8M447 425.1l1.6 -.9M454.2 425.1l1.6 -.9M461.5 425.3l1.5 -1M468.7 425.3l1.5 -1M475.9 425.2l1.5 -1M483 425.2l1.6 -.9M490.2 425.1l1.6 -.8M497.5 425.3l1.5 -1M504.7 425.3l1.5 -1M511.9 425.3l1.5 -1M519 425.1l1.6 -.8M526.3 425.2l1.5 -1M533.4 425.1l1.6 -.8M540.7 425.3l1.5 -1M547.9 425.2l1.5 -.9M555.1 425.3l1.5 -1M562.3 425.2l1.6 -.9M569.5 425.2l1.5 -.9M576.7 425.2l1.5 -1M583.8 425.1l1.6 -.8M360.9 415.4l.9 -.5M367.8 415.6l1.5 -1M375 415.5l1.6 -.9M382.2 415.5l1.6 -.9M389.4 415.5l1.6 -.9M396.7 415.6l1.5 -1M403.9 415.6l1.5 -1M411 415.6l1.5 -.9M418.2 415.6l1.5 -1M425.5 415.6l1.5 -1M432.6 415.4l1.6 -.8M439.8 415.4l1.6 -.8M447 415.6l1.5 -1M454.2 415.6l1.5 -.9M461.4 415.4l1.6 -.8M468.6 415.5l1.6 -.9M475.8 415.5l1.6 -.9M483 415.5l1.6 -.9M490.2 415.5l1.6 -.8M497.4 415.5l1.6 -.8M504.6 415.5l1.5 -.9M511.8 415.4l1.6 -.8M519.1 415.6l1.5 -.9M526.3 415.6l1.5 -1M533.5 415.6l1.5 -.9M540.6 415.5l1.6 -.8M547.8 415.5l1.6 -.9M555.1 415.5l1.6 -.9M562.2 415.5l1.6 -.9M569.5 415.5l1.6 -.9M576.7 415.6l1.5 -.9M583.8 415.5l1.6 -.9M360.7 405.8l1.3 -.7M367.6 406.1l2 -1.3M374.8 406.1l2 -1.3M381.9 405.9l2.2 -1.1M389.2 406.1l2.1 -1.2M396.3 405.9l2.1 -1.1M403.5 406l2.1 -1.2M410.7 406l2.1 -1.1M418 406.1l2 -1.3M425.1 405.9l2.1 -1.1M432.4 406.1l2 -1.3M439.5 406l2.1 -1.2M446.7 405.9l2.1 -1.1M453.9 406l2.1 -1.2M461.1 405.9l2.1 -1.1M468.4 406.1l2 -1.3M475.5 406l2.1 -1.2M482.7 406l2.1 -1.2M489.9 405.9l2.1 -1.1M497.1 405.9l2.1 -1.1M504.4 406l2.1 -1.2M511.5 405.9l2.1 -1.1M518.8 406l2.1 -1.2M526.1 406.1l2 -1.3M533.2 406l2.1 -1.2M540.3 405.9l2.1 -1.1M547.6 406.1l2 -1.3M554.8 406.1l2.1 -1.2M562 406.1l2.1 -1.2M569.2 405.9l2.1 -1.1M576.4 406l2.1 -1.2M583.6 406l2.1 -1.2M360.7 396.1l1.3 -.7M367.5 396.3l2.1 -1.1M374.7 396.3l2.1 -1.1M381.9 396.3l2.1 -1.1M389.2 396.4l2 -1.3M396.3 396.3l2.1 -1.1M403.5 396.3l2.1 -1.1M410.7 396.4l2.1 -1.2M417.9 396.3l2.2 -1.1M425.1 396.3l2.1 -1.1M432.3 396.3l2.1 -1.1M439.6 396.5l2 -1.3M446.7 396.3l2.1 -1.1M454 396.5l2 -1.3M461.1 396.3l2.1 -1.2M468.4 396.4l2.1 -1.2M475.6 396.4l2.1 -1.2M482.7 396.3l2.1 -1.1M490 396.4l2.1 -1.2M497.2 396.4l2 -1.3M504.4 396.4l2.1 -1.2M511.6 396.4l2.1 -1.2M518.7 396.3l2.2 -1.1M526.1 396.5l2 -1.3M533.3 396.5l2 -1.3M540.3 396.3l2.1 -1.1M547.6 396.4l2.1 -1.2M554.9 396.5l2 -1.3M562 396.4l2.1 -1.2M569.2 396.4l2.1 -1.2M576.4 396.4l2 -1.3M583.6 396.3l2.1 -1.1M360.7 386.6l1.3 -.8M367.4 386.6l2.2 -1.1M374.7 386.6l2.1 -1.1M381.9 386.7l2.1 -1.2M389.1 386.7l2.1 -1.1M396.3 386.7l2.1 -1.2M403.5 386.6l2.1 -1.1M410.8 386.8l2.1 -1.2M417.9 386.8l2.1 -1.2M425.2 386.8l2 -1.3M432.3 386.7l2.1 -1.1M439.5 386.7l2.1 -1.1M446.8 386.7l2.1 -1.2M453.9 386.7l2.1 -1.1M461.2 386.7l2.1 -1.2M468.3 386.6l2.1 -1.1M475.6 386.8l2.1 -1.2M482.8 386.8l2 -1.3M490 386.8l2 -1.3M497.2 386.9l2 -1.3M504.4 386.8l2.1 -1.2M511.6 386.7l2.1 -1.2M518.8 386.8l2 -1.3M526 386.8l2 -1.2M533.1 386.6l2.1 -1.1M540.4 386.7l2.1 -1.2M547.5 386.6l2.1 -1.1M554.8 386.8l2.1 -1.2M562 386.7l2.1 -1.2M569.2 386.7l2.1 -1.2M576.5 386.9l2 -1.3M583.7 386.8l2 -1.3M360.7 376.8l1.4 -.7M367.5 377.1l2.1 -1.2M374.7 377.1l2.1 -1.2M382 377.2l2 -1.3M389.2 377.2l2 -1.3M396.4 377.2l2 -1.3M403.5 377l2.2 -1.1M410.8 377.2l2 -1.3M417.9 377l2.1 -1.1M425.1 377l2.1 -1.2M432.3 377.1l2.1 -1.2M439.6 377.2l2 -1.3M446.7 377l2.1 -1.1M453.9 377l2.1 -1.1M461.2 377.2l2 -1.3M468.3 377l2.2 -1.1M475.5 377l2.1 -1.1M482.8 377.1l2.1 -1.2M489.9 377l2.1 -1.1M497.1 377l2.1 -1.1M504.3 377l2.1 -1.1M511.6 377.2l2 -1.3M518.7 377l2.1 -1.1M526 377.1l2.1 -1.2M533.2 377.1l2.1 -1.2M540.3 377l2.2 -1.1M547.6 377l2.1 -1.1M554.9 377.2l2 -1.3M562 377.1l2.1 -1.2M569.1 377l2.1 -1.1M576.5 377.2l2 -1.3M583.6 377.1l2.1 -1.2M360.7 367.3l1.3 -.8M367.6 367.6l2 -1.3M374.8 367.6l2 -1.3M382 367.5l2 -1.3M389.1 367.4l2.1 -1.2M396.3 367.4l2.1 -1.1M403.5 367.4l2.1 -1.2M410.8 367.5l2 -1.3M417.9 367.5l2.1 -1.2M425.1 367.4l2.1 -1.2M432.4 367.5l2.1 -1.2M439.6 367.5l2.1 -1.2M446.8 367.6l2 -1.3M454 367.5l2.1 -1.2M461.1 367.4l2.1 -1.2M468.4 367.6l2 -1.3M475.6 367.5l2 -1.3M482.8 367.4l2.1 -1.2M490 367.4l2.1 -1.2M497.3 367.6l2 -1.3M504.5 367.6l2 -1.3M511.5 367.3l2.2 -1.1M518.8 367.5l2 -1.3M526 367.4l2.1 -1.2M533.2 367.4l2.1 -1.2M540.4 367.4l2.1 -1.1M547.6 367.5l2.1 -1.2M554.8 367.4l2.1 -1.1M562 367.4l2.1 -1.1M569.2 367.4l2.1 -1.1M576.4 367.5l2.1 -1.2M583.6 367.3l2.1 -1.1M360.7 357.5l1.3 -.7M367.6 357.9l2 -1.3M374.7 357.8l2.1 -1.2M382 357.9l2 -1.3M389.2 357.9l2 -1.3M396.3 357.7l2.1 -1.1M403.5 357.8l2.1 -1.2M410.7 357.8l2.1 -1.2M418 357.9l2 -1.3M425.2 357.9l2 -1.3M432.3 357.7l2.1 -1.1M439.6 357.9l2 -1.3M446.8 357.9l2 -1.3M454 357.8l2.1 -1.2M461.2 357.9l2 -1.3M468.3 357.8l2.1 -1.2M475.6 357.8l2 -1.2M482.8 357.9l2 -1.3M490 357.9l2 -1.3M497.2 357.8l2.1 -1.2M504.4 357.8l2.1 -1.2M511.6 357.9l2 -1.3M518.7 357.7l2.1 -1.1M526 357.9l2 -1.3M533.2 357.9l2 -1.3M540.3 357.7l2.1 -1.1M547.7 357.9l2 -1.3M554.7 357.7l2.1 -1.1M561.9 357.7l2.1 -1.1M569.2 357.8l2.1 -1.2M576.5 357.9l2 -1.3M583.7 357.9l2 -1.3M360.7 348l1.3 -.8M367.6 348.2l2 -1.3M374.7 348.1l2.1 -1.1M381.9 348.2l2.1 -1.2M389.1 348.1l2.1 -1.1M396.3 348.1l2.1 -1.1M403.6 348.3l2 -1.3M410.8 348.3l2 -1.3M418 348.2l2 -1.3M425.1 348.1l2.1 -1.2M432.4 348.3l2 -1.3M439.5 348.1l2.1 -1.1M446.8 348.2l2.1 -1.2M454 348.2l2.1 -1.2M461.1 348l2.2 -1.1M468.4 348.2l2 -1.3M475.5 348.1l2.1 -1.1M482.8 348.3l2 -1.3M490 348.3l2 -1.3M497.2 348.2l2 -1.3M504.4 348.2l2 -1.3M511.6 348.1l2.1 -1.1M518.7 348.1l2.1 -1.1M526 348.1l2.1 -1.2M533.2 348.1l2.1 -1.2M540.5 348.3l2 -1.3M547.6 348.2l2 -1.3M554.9 348.2l2 -1.3M562 348.2l2 -1.3M569.3 348.2l2 -1.3M576.4 348.1l2.1 -1.2M583.7 348.3l2 -1.3M360.8 338.4l1.3 -.8M367.5 338.5l2.1 -1.2M374.8 338.6l2 -1.3M382 338.6l2 -1.3M389.1 338.5l2.1 -1.2M396.3 338.5l2.1 -1.2M403.6 338.6l2 -1.3M410.7 338.5l2.1 -1.2M417.9 338.4l2.1 -1.1M425.1 338.4l2.1 -1.1M432.4 338.6l2 -1.3M439.6 338.5l2.1 -1.2M446.7 338.4l2.1 -1.1M453.9 338.5l2.1 -1.2M461.2 338.6l2.1 -1.2M468.4 338.6l2 -1.3M475.5 338.4l2.1 -1.1M482.8 338.5l2.1 -1.2M490 338.5l2.1 -1.2M497.2 338.6l2 -1.3M504.3 338.4l2.1 -1.1M511.5 338.4l2.1 -1.1M518.8 338.6l2 -1.3M526 338.5l2.1 -1.2M533.1 338.4l2.1 -1.1M540.4 338.5l2.1 -1.2M547.6 338.6l2 -1.3M554.8 338.5l2.1 -1.2M562 338.4l2.1 -1.1M569.2 338.6l2 -1.3M576.3 338.4l2.1 -1.1M583.6 338.4l2.1 -1.1M360.6 328.5l1.4 -.6M367.5 328.9l2.1 -1.2M374.7 328.8l2.1 -1.1M381.8 328.7l2.2 -1M389 328.7l2.2 -1M396.3 328.7l2.2 -1.1M403.4 328.7l2.2 -1M410.8 328.9l2.1 -1.2M417.9 328.7l2.2 -1M425.1 328.9l2.1 -1.2M432.3 328.8l2.1 -1.1M439.5 328.7l2.2 -1M446.7 328.7l2.2 -1M453.9 328.8l2.1 -1.1M461.1 328.8l2.1 -1.1M468.3 328.7l2.1 -1.1M475.5 328.8l2.1 -1.2M482.7 328.7l2.2 -1M489.9 328.7l2.2 -1M497.1 328.8l2.1 -1.1M504.3 328.7l2.1 -1.1M511.6 328.8l2.1 -1.2M518.7 328.7l2.2 -1.1M526 328.8l2.1 -1.2M533.2 328.9l2.1 -1.2M540.3 328.8l2.1 -1.1M547.5 328.7l2.2 -1.1M554.8 328.9l2.1 -1.2M561.9 328.7l2.2 -1M569.2 328.8l2.1 -1.1M576.4 328.9l2 -1.3M583.5 328.7l2.2 -1.1M360.7 318.9l1.4 -.7M367.4 319l2.2 -1M374.7 319.1l2.1 -1.1M381.9 319.1l2.1 -1.1M389 318.9l2.2 -.9M396.3 319.2l2.1 -1.1M403.4 318.9l2.2 -.9M410.7 319.1l2.1 -1.1M417.8 319l2.2 -1M425 318.9l2.2 -.9M432.3 319.1l2.1 -1.1M439.5 319.1l2.2 -1M446.6 319l2.2 -.9M453.9 319.1l2.1 -1.1M461 319l2.2 -.9M468.2 319l2.2 -1M475.5 319.1l2.2 -1M482.7 319.1l2.2 -1M489.9 319l2.2 -1M497.1 319.1l2.1 -1.1M504.3 319.1l2.2 -1M511.5 319.1l2.2 -1.1M518.6 318.9l2.2 -.9M526 319.2l2.1 -1.1M533 318.9l2.2 -.9M540.3 319.1l2.1 -1.1M547.5 319.1l2.2 -1M554.7 319l2.2 -.9M562 319.2l2.1 -1.2M569.2 319.1l2.1 -1.1M576.3 319l2.2 -1M583.6 319.2l2.1 -1.2M360.1 309.3l2.3 -.9M366.8 309.5l3.4 -1.3M374.1 309.6l3.3 -1.4M381.2 309.4l3.4 -1.2M388.4 309.5l3.4 -1.3M395.7 309.6l3.3 -1.4M402.8 309.4l3.4 -1.2M410 309.5l3.4 -1.3M417.2 309.4l3.4 -1.1M424.5 309.7l3.3 -1.5M431.7 309.5l3.3 -1.4M438.8 309.4l3.4 -1.2M446.1 309.5l3.3 -1.4M453.2 309.4l3.4 -1.1M460.5 309.5l3.4 -1.3M467.7 309.6l3.3 -1.5M474.9 309.6l3.3 -1.4M482.1 309.5l3.4 -1.3M489.3 309.6l3.3 -1.4M496.5 309.7l3.3 -1.5M503.6 309.4l3.4 -1.2M510.9 309.6l3.3 -1.5M518.1 309.4l3.4 -1.2M525.3 309.6l3.3 -1.4M532.4 309.4l3.4 -1.2M539.7 309.5l3.3 -1.3M547 309.7l3.3 -1.5M554.1 309.5l3.4 -1.3M561.3 309.6l3.3 -1.4M568.5 309.5l3.3 -1.3M575.7 309.3l3.4 -1.1M582.9 309.5l3.3 -1.3M360.1 299.5l2.4 -.7M366.8 299.9l3.3 -1.4M374 299.8l3.4 -1.3M381.2 299.9l3.3 -1.3M388.4 299.7l3.4 -1.2M395.6 299.9l3.3 -1.4M402.8 299.9l3.3 -1.3M410 299.7l3.4 -1.1M417.2 299.8l3.4 -1.2M424.4 299.6l3.4 -1M431.6 299.7l3.4 -1.1M438.7 299.5l3.5 -.9M446 299.8l3.4 -1.3M453.2 299.7l3.4 -1.1M460.4 299.7l3.4 -1.1M467.6 299.7l3.4 -1.1M474.9 299.8l3.4 -1.3M482 299.6l3.4 -1M489.2 299.8l3.4 -1.2M496.4 299.6l3.5 -1M503.6 299.6l3.4 -1.1M510.9 299.8l3.4 -1.3M518 299.7l3.4 -1.2M525.2 299.7l3.4 -1.1M532.4 299.6l3.4 -1M539.6 299.6l3.5 -.9M546.8 299.5l3.5 -.9M554.1 299.8l3.4 -1.3M561.3 299.8l3.4 -1.2M568.5 299.8l3.4 -1.3M575.7 299.8l3.4 -1.2M582.8 299.5l3.5 -.9M360.1 289.8l2.4 -.7M366.7 289.8l3.5 -.8M374 290.1l3.4 -1.2M381.2 290.1l3.4 -1.2M388.4 290.1l3.4 -1.2M395.5 289.9l3.5 -.9M402.8 290l3.5 -1M409.9 289.8l3.5 -.7M417.2 290.1l3.4 -1.1M424.4 290l3.4 -1.1M431.5 289.9l3.5 -.9M438.8 289.9l3.5 -1M445.9 289.8l3.5 -.8M453.2 290l3.5 -1M460.4 290.1l3.4 -1.2M467.5 289.8l3.5 -.8M474.7 289.8l3.5 -.7M481.9 289.8l3.5 -.8M489.2 289.9l3.5 -.9M496.4 290.1l3.4 -1.1M503.5 289.7l3.5 -.7M510.8 289.9l3.5 -1M518 289.9l3.5 -.9M525.2 290l3.4 -1M532.4 290l3.5 -1M539.6 290l3.5 -1M546.8 289.9l3.5 -1M554 289.9l3.5 -1M561.2 289.8l3.5 -.8M568.4 289.9l3.5 -.9M575.6 289.8l3.5 -.8M582.8 289.9l3.5 -.9M360 280l2.4 -.5M366.7 280.2l3.5 -.9M373.9 280.2l3.5 -.9M381.1 280l3.5 -.6M388.3 280.3l3.5 -.9M395.5 280.1l3.5 -.8M402.7 280l3.6 -.6M409.9 280.2l3.5 -.8M417.1 280.3l3.5 -.9M424.3 280.2l3.5 -.8M431.5 280.3l3.5 -.9M438.7 280.3l3.5 -.9M446 280.3l3.5 -.9M453.1 280l3.6 -.6M460.3 280.1l3.5 -.7M467.5 280l3.5 -.6M474.8 280.3l3.5 -1M482 280.2l3.5 -.8M489.2 280.3l3.5 -1M496.3 280.1l3.5 -.8M503.5 280l3.5 -.6M510.7 280l3.6 -.6M517.9 280.1l3.5 -.7M525.2 280.2l3.5 -.8M532.4 280.2l3.5 -.9M539.6 280.3l3.5 -1M546.7 280l3.6 -.6M554 280.1l3.5 -.7M561.2 280.3l3.5 -1M568.4 280.1l3.5 -.8M575.6 280.2l3.5 -.8M582.8 280.3l3.5 -.9M360 270.2l2.4 -.4M366.7 270.5l3.5 -.7M373.8 270.2l3.6 -.4M381.1 270.4l3.5 -.7M388.3 270.3l3.6 -.5M395.5 270.4l3.5 -.7M402.7 270.3l3.6 -.5M409.9 270.4l3.5 -.7M417.1 270.5l3.5 -.7M424.3 270.5l3.5 -.7M431.5 270.2l3.6 -.4M438.7 270.5l3.5 -.8M445.9 270.1l3.6 -.3M453.1 270.3l3.6 -.5M460.3 270.3l3.6 -.5M467.5 270.5l3.5 -.8M474.7 270.4l3.6 -.6M481.9 270.4l3.5 -.7M489.1 270.3l3.6 -.5M496.3 270.2l3.6 -.4M503.5 270.1l3.6 -.3M510.7 270.2l3.6 -.4M517.9 270.3l3.6 -.5M525.1 270.4l3.5 -.7M532.3 270.3l3.6 -.5M539.5 270.4l3.5 -.7M546.7 270.4l3.5 -.6M553.9 270.3l3.6 -.5M561.1 270.3l3.6 -.6M568.3 270.3l3.6 -.6M575.5 270.2l3.6 -.4M582.8 270.3l3.6 -.6M360 260.7l2.4 -.5M366.7 260.7l3.6 -.6M373.9 260.8l3.5 -.7M381.1 260.8l3.5 -.7M388.2 260.4l3.6 -.3M395.5 260.7l3.6 -.6M402.7 260.6l3.6 -.4M409.9 260.8l3.5 -.7M417.1 260.7l3.6 -.6M424.3 260.6l3.6 -.4M431.5 260.5l3.6 -.3M438.7 260.5l3.6 -.3M445.9 260.7l3.5 -.6M453.1 260.8l3.5 -.7M460.3 260.6l3.6 -.5M467.5 260.5l3.6 -.4M474.7 260.5l3.6 -.3M481.9 260.7l3.5 -.6M489.1 260.5l3.6 -.3M496.3 260.7l3.6 -.5M503.5 260.6l3.6 -.5M510.7 260.5l3.6 -.4M517.9 260.8l3.5 -.7M525.1 260.6l3.6 -.5M532.3 260.6l3.6 -.5M539.5 260.8l3.5 -.7M546.7 260.7l3.5 -.7M553.9 260.6l3.6 -.5M561.1 260.5l3.6 -.4M568.4 260.7l3.5 -.6M575.5 260.6l3.6 -.5M582.8 260.7l3.5 -.6" style="fill:none;stroke:#000;stroke-width:.75" /><path d="M362.5 472.3L361.2 474.1 360.3 472.3zM369.8 472.2L368.6 474.1 367.5 472.5zM377 472.3L375.7 474.1 374.7 472.3zM384.2 472.3L383 474.1 381.9 472.4zM391.4 472.3L390 474.1 389.2 472.3zM398.6 472.2L397.4 474.2 396.3 472.5zM405.8 472.2L404.6 474.2 403.6 472.5zM413 472.3L411.6 474.1 410.8 472.3zM420.2 472.2L419.1 474.2 418 472.5zM427.4 472.3L426.1 474.1 425.2 472.3zM434.6 472.3L433.3 474.1 432.4 472.3zM441.8 472.2L440.6 474.1 439.6 472.4zM449 472.2L447.9 474.2 446.8 472.5zM456.2 472.2L455.1 474.2 454 472.5zM463.4 472.3L462.1 474.1 461.2 472.3zM470.6 472.3L469.4 474.1 468.4 472.4zM477.8 472.3L476.6 474.1 475.6 472.4zM485 472.3L483.8 474.1 482.8 472.4zM492.2 472.2L491.1 474.2 490 472.5zM499.4 472.3L498.1 474.1 497.2 472.3zM506.6 472.2L505.5 474.2 504.4 472.5zM513.8 472.3L512.5 474.1 511.6 472.3zM521 472.3L519.7 474.1 518.8 472.3zM528.2 472.3L526.9 474.1 526 472.3zM535.4 472.3L534.2 474.1 533.2 472.3zM542.6 472.2L541.5 474.1 540.4 472.4zM549.8 472.3L548.6 474.1 547.6 472.4zM557 472.2L555.9 474.2 554.8 472.5zM564.3 472.3L563 474.1 562 472.3zM571.5 472.2L570.3 474.1 569.2 472.4zM578.7 472.2L577.5 474.1 576.4 472.4zM585.9 472.3L584.6 474.1 583.6 472.3zM363 462.4L361.7 464.2 360.8 462.5zM370.3 462.2L369.2 464.1 368.1 462.5zM377.6 462.2L376.4 464.1 375.3 462.4zM384.7 462.2L383.6 464.1 382.5 462.5zM392 462.2L390.8 464.1 389.7 462.4zM399.2 462.2L398 464.1 396.9 462.5zM406.4 462.3L405.1 464.1 404.2 462.4zM413.6 462.3L412.4 464.1 411.4 462.4zM420.8 462.3L419.5 464.1 418.6 462.4zM428 462.2L426.9 464.1 425.7 462.5zM435.2 462.3L433.9 464.1 433 462.3zM442.4 462.2L441.3 464.1 440.2 462.5zM449.6 462.3L448.4 464.1 447.4 462.4zM456.8 462.3L455.6 464.1 454.6 462.4zM464 462.3L462.8 464.1 461.8 462.4zM471.2 462.3L470 464.1 469 462.4zM478.4 462.3L477.2 464.1 476.2 462.4zM485.7 462.3L484.3 464.1 483.4 462.3zM492.9 462.3L491.5 464.1 490.6 462.3zM500 462.2L498.8 464.1 497.8 462.4zM507.2 462.2L506 464.1 505 462.4zM514.5 462.3L513.1 464.1 512.2 462.3zM521.7 462.3L520.4 464.1 519.4 462.4zM528.9 462.3L527.6 464.1 526.6 462.3zM536.1 462.3L534.7 464.1 533.8 462.3zM543.2 462.3L542 464.1 541 462.4zM550.5 462.3L549.2 464.1 548.2 462.4zM557.7 462.3L556.3 464.1 555.5 462.3zM564.9 462.2L563.6 464.1 562.6 462.4zM572 462.2L570.9 464.1 569.8 462.4zM579.3 462.3L578 464.1 577.1 462.3zM586.5 462.3L585.2 464.1 584.3 462.4zM363.4 452.5L362.2 454.4 361.1 452.7zM370.9 452.3L369.6 454.2 368.6 452.5zM378.1 452.3L376.8 454.2 375.8 452.5zM385.3 452.3L384 454.2 383 452.5zM392.4 452.3L391.3 454.2 390.2 452.5zM399.7 452.3L398.4 454.2 397.4 452.5zM406.9 452.3L405.7 454.2 404.6 452.5zM414.1 452.3L412.8 454.2 411.8 452.5zM421.3 452.3L420 454.2 419 452.5zM428.4 452.3L427.3 454.2 426.2 452.5zM435.7 452.4L434.4 454.2 433.5 452.4zM442.8 452.2L441.7 454.2 440.6 452.5zM450.1 452.4L448.8 454.2 447.9 452.4zM457.3 452.3L456.1 454.2 455 452.5zM464.5 452.4L463.2 454.2 462.3 452.4zM471.7 452.3L470.5 454.2 469.4 452.5zM478.9 452.3L477.7 454.2 476.7 452.5zM486.1 452.3L484.9 454.2 483.8 452.5zM493.3 452.3L492.1 454.2 491 452.5zM500.5 452.3L499.3 454.2 498.3 452.5zM507.7 452.3L506.5 454.2 505.5 452.5zM514.9 452.3L513.7 454.2 512.6 452.5zM522.1 452.3L520.9 454.2 519.9 452.5zM529.3 452.4L528.1 454.2 527.1 452.5zM536.5 452.4L535.3 454.2 534.3 452.5zM543.8 452.4L542.5 454.2 541.5 452.4zM550.9 452.2L549.8 454.2 548.7 452.5zM558.1 452.4L556.9 454.2 555.9 452.5zM565.3 452.2L564.2 454.2 563.1 452.5zM572.5 452.3L571.4 454.2 570.3 452.5zM579.7 452.3L578.5 454.2 577.5 452.5zM587 452.4L585.6 454.2 584.8 452.4zM363.3 442.8L362.2 444.7 361.1 443.1zM370.8 442.6L369.7 444.5 368.6 442.9zM378.1 442.8L376.8 444.6 375.9 442.8zM385.2 442.7L384 444.6 383 442.8zM392.5 442.7L391.2 444.6 390.2 442.8zM399.7 442.7L398.4 444.6 397.4 442.8zM406.9 442.7L405.7 444.6 404.6 442.8zM414.1 442.7L412.9 444.6 411.8 442.8zM421.3 442.7L420 444.6 419.1 442.8zM428.5 442.8L427.2 444.6 426.3 442.8zM435.6 442.6L434.5 444.5 433.4 442.9zM442.8 442.6L441.7 444.5 440.6 442.9zM450.1 442.8L448.8 444.6 447.9 442.8zM457.3 442.7L456 444.6 455.1 442.8zM464.5 442.7L463.2 444.6 462.3 442.8zM471.7 442.7L470.4 444.6 469.5 442.8zM478.9 442.6L477.7 444.5 476.6 442.9zM486.1 442.8L484.8 444.6 483.9 442.8zM493.3 442.7L492.1 444.6 491.1 442.8zM500.5 442.7L499.3 444.6 498.3 442.8zM507.7 442.7L506.5 444.6 505.5 442.8zM514.9 442.7L513.7 444.6 512.7 442.8zM522.1 442.6L520.9 444.5 519.9 442.9zM529.4 442.8L528 444.6 527.1 442.8zM536.6 442.8L535.2 444.6 534.3 442.8zM543.7 442.7L542.5 444.6 541.5 442.8zM550.9 442.6L549.7 444.5 548.7 442.9zM558.2 442.7L556.9 444.6 555.9 442.8zM565.4 442.8L564 444.6 563.1 442.8zM572.5 442.6L571.4 444.5 570.3 442.9zM579.8 442.8L578.5 444.6 577.5 442.8zM586.9 442.7L585.7 444.6 584.7 442.8zM363.6 433.1L362.3 435 361.3 433.2zM371.1 432.9L369.9 434.8 368.8 433.1zM378.3 432.9L377.1 434.8 376 433.1zM385.5 433L384.2 434.8 383.3 433zM392.7 433L391.4 434.8 390.5 433zM399.9 433L398.6 434.8 397.7 433zM407.1 433L405.8 434.8 404.9 433zM414.3 433L413 434.8 412.1 433zM421.6 433L420.2 434.8 419.3 433zM428.7 432.9L427.5 434.8 426.5 433.1zM435.9 433L434.6 434.8 433.7 433zM443.1 433L441.8 434.8 440.9 433zM450.2 432.8L449.1 434.8 448 433.1zM457.5 432.8L456.3 434.8 455.2 433.1zM464.7 432.8L463.5 434.8 462.4 433.1zM472 433L470.6 434.8 469.7 433zM479.1 433L477.9 434.8 476.9 433zM486.4 433L485.1 434.8 484.1 433zM493.5 432.9L492.3 434.8 491.3 433.1zM500.7 432.9L499.5 434.8 498.5 433.1zM507.9 432.9L506.7 434.8 505.7 433zM515.1 432.9L513.9 434.8 512.9 433.1zM522.3 432.9L521.1 434.8 520.1 433.1zM529.5 432.9L528.3 434.8 527.3 433.1zM536.8 433L535.5 434.8 534.5 433zM543.9 432.9L542.7 434.8 541.7 433.1zM551.1 432.9L549.9 434.8 548.9 433.1zM558.4 433L557.1 434.8 556.1 433zM565.6 432.9L564.3 434.8 563.3 433zM572.7 432.8L571.6 434.8 570.5 433.1zM580 433L578.7 434.8 577.7 433zM587.2 433L585.9 434.8 584.9 433zM363.5 423.4L362.3 425.3 361.3 423.6zM371.1 423.2L369.9 425.1 368.8 423.4zM378.3 423.4L377 425.2 376.1 423.4zM385.5 423.3L384.3 425.1 383.2 423.4zM392.6 423.2L391.5 425.1 390.4 423.4zM399.8 423.2L398.7 425.1 397.6 423.4zM407.1 423.2L405.9 425.1 404.8 423.4zM414.3 423.4L413 425.2 412.1 423.4zM421.5 423.3L420.2 425.2 419.3 423.4zM428.7 423.3L427.5 425.1 426.5 423.4zM435.9 423.2L434.7 425.1 433.7 423.4zM443.2 423.4L441.8 425.2 440.9 423.4zM450.3 423.3L449.1 425.1 448.1 423.4zM457.5 423.3L456.3 425.2 455.3 423.4zM464.6 423.2L463.5 425.1 462.4 423.4zM471.8 423.2L470.7 425.1 469.6 423.4zM479.1 423.2L477.9 425.1 476.9 423.4zM486.3 423.3L485.1 425.1 484.1 423.4zM493.6 423.4L492.2 425.2 491.3 423.4zM500.7 423.2L499.5 425.1 498.4 423.4zM507.9 423.2L506.7 425.1 505.6 423.4zM515.1 423.2L513.9 425.1 512.9 423.4zM522.4 423.4L521 425.2 520.2 423.4zM529.5 423.2L528.3 425.1 527.3 423.4zM536.8 423.4L535.5 425.2 534.6 423.4zM543.9 423.2L542.8 425.1 541.7 423.4zM551.1 423.3L549.9 425.1 548.9 423.4zM558.3 423.2L557.2 425.1 556.1 423.4zM565.6 423.3L564.3 425.1 563.3 423.4zM572.7 423.2L571.5 425.1 570.5 423.4zM579.9 423.2L578.8 425.1 577.7 423.4zM587.2 423.3L585.9 425.2 585 423.4zM363.5 413.8L362.3 415.7 361.3 414zM371 413.6L369.9 415.5 368.8 413.8zM378.3 413.6L377 415.5 376 413.8zM385.5 413.6L384.2 415.5 383.3 413.8zM392.7 413.6L391.5 415.5 390.4 413.8zM399.8 413.5L398.7 415.5 397.6 413.8zM407 413.5L405.9 415.5 404.8 413.8zM414.3 413.6L413.1 415.5 412 413.8zM421.5 413.6L420.3 415.5 419.2 413.8zM428.6 413.5L427.5 415.5 426.4 413.8zM435.9 413.7L434.6 415.5 433.7 413.7zM443.2 413.7L441.8 415.5 440.9 413.7zM450.3 413.6L449.1 415.5 448 413.8zM457.5 413.6L456.3 415.5 455.3 413.8zM464.8 413.7L463.4 415.5 462.5 413.7zM471.9 413.6L470.7 415.5 469.7 413.8zM479.1 413.6L477.9 415.5 476.9 413.8zM486.3 413.7L485.1 415.5 484.1 413.7zM493.6 413.7L492.3 415.5 491.3 413.7zM500.8 413.7L499.5 415.5 498.5 413.7zM507.9 413.6L506.7 415.5 505.7 413.8zM515.2 413.7L513.9 415.5 512.9 413.7zM522.3 413.6L521.1 415.5 520.1 413.8zM529.5 413.5L528.4 415.5 527.3 413.8zM536.7 413.6L535.5 415.5 534.5 413.8zM544 413.7L542.7 415.5 541.7 413.7zM551.2 413.7L549.9 415.5 548.9 413.8zM558.3 413.6L557.1 415.5 556.1 413.8zM565.6 413.7L564.3 415.5 563.3 413.7zM572.8 413.6L571.5 415.5 570.5 413.8zM579.9 413.6L578.8 415.5 577.7 413.8zM587.2 413.7L585.9 415.5 585 413.7zM363.8 404.1L362.5 405.9 361.5 404.2zM371.3 403.8L370.1 405.7 369.1 404zM378.5 403.8L377.3 405.7 376.3 404zM385.8 404L384.5 405.7 383.6 403.9zM392.9 403.8L391.7 405.7 390.7 404zM400.2 403.9L398.9 405.7 398 404zM407.3 403.8L406.1 405.7 405.1 404zM414.6 403.9L413.3 405.7 412.3 404zM421.7 403.7L420.6 405.7 419.5 404zM429 403.9L427.7 405.7 426.8 403.9zM436.1 403.7L435 405.7 433.9 404zM443.4 403.9L442.1 405.7 441.1 404zM450.6 403.9L449.3 405.7 448.4 404zM457.8 403.8L456.5 405.7 455.5 404zM465 403.9L463.7 405.7 462.8 403.9zM472.1 403.8L471 405.7 469.9 404zM479.4 403.9L478.1 405.7 477.2 404zM486.6 403.9L485.3 405.7 484.4 404zM493.8 403.9L492.5 405.7 491.6 403.9zM501 403.9L499.7 405.7 498.8 404zM508.2 403.8L507 405.7 506 404zM515.4 403.9L514.1 405.7 513.2 403.9zM522.6 403.8L521.4 405.7 520.4 404zM529.7 403.7L528.6 405.7 527.5 404zM537 403.9L535.8 405.7 534.8 404zM544.3 403.9L542.9 405.7 542 404zM551.4 403.8L550.2 405.7 549.1 404zM558.6 403.8L557.4 405.7 556.4 404zM565.8 403.8L564.6 405.7 563.6 404zM573.1 403.9L571.7 405.7 570.8 404zM580.2 403.9L579 405.7 578 404zM587.4 403.8L586.2 405.7 585.2 404zM363.8 394.4L362.5 396.3 361.5 394.5zM371.4 394.3L370.1 396.1 369.1 394.3zM378.6 394.3L377.3 396.1 376.3 394.3zM385.8 394.3L384.5 396.1 383.6 394.3zM392.9 394.1L391.7 396 390.7 394.3zM400.2 394.3L398.9 396.1 398 394.3zM407.4 394.2L406.1 396.1 405.1 394.3zM414.6 394.2L413.3 396.1 412.3 394.3zM421.8 394.3L420.5 396.1 419.6 394.3zM429 394.3L427.7 396.1 426.8 394.3zM436.2 394.3L434.9 396.1 434 394.3zM443.3 394.1L442.2 396 441.1 394.3zM450.6 394.3L449.3 396.1 448.4 394.3zM457.7 394.1L456.6 396 455.5 394.3zM465 394.2L463.7 396.1 462.8 394.3zM472.1 394.1L471 396 469.9 394.3zM479.4 394.1L478.2 396 477.1 394.3zM486.6 394.3L485.3 396.1 484.4 394.3zM493.8 394.2L492.5 396.1 491.6 394.3zM501 394.1L499.8 396 498.7 394.3zM508.2 394.2L507 396 505.9 394.3zM515.4 394.2L514.2 396 513.1 394.3zM522.7 394.3L521.3 396.1 520.4 394.3zM529.7 394.1L528.6 396 527.5 394.3zM536.9 394.1L535.8 396 534.7 394.3zM544.3 394.3L542.9 396.1 542 394.3zM551.4 394.2L550.2 396.1 549.2 394.3zM558.5 394.1L557.4 396 556.3 394.3zM565.8 394.2L564.6 396.1 563.6 394.3zM573 394.2L571.8 396.1 570.8 394.3zM580.2 394.1L579 396 578 394.3zM587.5 394.3L586.2 396.1 585.2 394.3zM363.7 384.7L362.6 386.6 361.5 384.9zM371.4 384.7L370 386.4 369.2 384.7zM378.6 384.7L377.3 386.4 376.4 384.7zM385.8 384.6L384.5 386.4 383.5 384.7zM393 384.6L391.7 386.4 390.7 384.7zM400.1 384.5L398.9 386.4 397.9 384.7zM407.4 384.6L406.1 386.4 405.2 384.7zM414.5 384.5L413.3 386.4 412.3 384.7zM421.7 384.5L420.5 386.4 419.5 384.7zM428.9 384.5L427.8 386.4 426.7 384.7zM436.2 384.6L434.9 386.4 434 384.7zM443.4 384.6L442.1 386.4 441.2 384.7zM450.6 384.5L449.3 386.4 448.3 384.7zM457.8 384.6L456.5 386.4 455.6 384.7zM465 384.6L463.7 386.4 462.7 384.7zM472.2 384.6L470.9 386.4 470 384.7zM479.4 384.5L478.2 386.4 477.1 384.7zM486.5 384.5L485.4 386.4 484.3 384.7zM493.7 384.4L492.6 386.4 491.5 384.7zM500.9 384.4L499.8 386.4 498.7 384.7zM508.2 384.5L507 386.4 505.9 384.7zM515.4 384.5L514.2 386.4 513.2 384.7zM522.6 384.5L521.4 386.4 520.3 384.7zM529.8 384.5L528.6 386.4 527.5 384.7zM537.1 384.6L535.7 386.4 534.8 384.7zM544.2 384.6L543 386.4 542 384.7zM551.5 384.6L550.1 386.4 549.2 384.7zM558.6 384.5L557.4 386.4 556.4 384.7zM565.8 384.5L564.6 386.4 563.6 384.7zM573 384.6L571.8 386.4 570.8 384.7zM580.1 384.4L579 386.4 577.9 384.7zM587.4 384.4L586.2 386.4 585.1 384.7zM363.8 375.2L362.5 377 361.5 375.2zM371.3 374.9L370.1 376.7 369.1 375zM378.5 374.9L377.3 376.8 376.3 375zM385.7 374.8L384.5 376.7 383.5 375zM392.9 374.8L391.8 376.7 390.6 375zM400.1 374.8L398.9 376.7 397.9 375zM407.4 375L406.1 376.8 405.2 375zM414.5 374.8L413.4 376.7 412.3 375zM421.8 375L420.5 376.8 419.6 375zM429 374.9L427.7 376.8 426.7 375zM436.2 374.9L434.9 376.8 433.9 375zM443.3 374.8L442.2 376.7 441.1 375zM450.6 375L449.3 376.8 448.4 375zM457.8 375L456.5 376.8 455.6 375zM464.9 374.8L463.8 376.7 462.7 375.1zM472.2 375L470.9 376.8 470 375zM479.4 374.9L478.1 376.8 477.2 375zM486.6 374.9L485.3 376.8 484.4 375zM493.8 375L492.5 376.8 491.6 375zM501 375L499.7 376.8 498.8 375zM508.2 375L506.9 376.8 506 375zM515.3 374.8L514.2 376.7 513.1 375zM522.6 375L521.3 376.8 520.4 375zM529.8 374.9L528.6 376.7 527.5 375zM537 374.9L535.8 376.8 534.8 375zM544.3 375L542.9 376.8 542 375zM551.4 375L550.1 376.8 549.2 375zM558.6 374.8L557.4 376.7 556.3 375zM565.8 374.9L564.6 376.8 563.6 375zM573.1 375L571.7 376.8 570.8 375zM580.1 374.8L579 376.7 577.9 375.1zM587.4 374.9L586.2 376.7 585.2 375zM363.7 365.4L362.5 367.3 361.5 365.6zM371.3 365.1L370.1 367.1 369 365.4zM378.5 365.1L377.3 367.1 376.2 365.4zM385.7 365.1L384.5 367.1 383.5 365.4zM393 365.3L391.7 367.1 390.7 365.4zM400.2 365.3L398.9 367.1 397.9 365.4zM407.3 365.3L406.1 367.1 405.1 365.4zM414.5 365.2L413.3 367.1 412.3 365.4zM421.7 365.2L420.5 367.1 419.5 365.4zM429 365.3L427.7 367.1 426.7 365.4zM436.1 365.2L434.9 367.1 433.9 365.4zM443.3 365.2L442.1 367.1 441.1 365.4zM450.5 365.1L449.4 367.1 448.3 365.4zM457.7 365.2L456.5 367.1 455.5 365.4zM465 365.3L463.7 367.1 462.8 365.4zM472.1 365.1L471 367.1 469.9 365.4zM479.3 365.2L478.2 367.1 477.1 365.4zM486.6 365.3L485.3 367.1 484.4 365.4zM493.8 365.3L492.5 367.1 491.6 365.4zM500.9 365.1L499.8 367.1 498.7 365.4zM508.1 365.1L507 367.1 505.9 365.4zM515.5 365.4L514.1 367.2 513.2 365.4zM522.5 365.2L521.4 367.1 520.3 365.4zM529.8 365.3L528.6 367.1 527.6 365.4zM537 365.3L535.8 367.1 534.8 365.4zM544.2 365.3L542.9 367.1 542 365.4zM551.4 365.2L550.2 367.1 549.2 365.4zM558.7 365.3L557.3 367.1 556.4 365.4zM565.9 365.3L564.5 367.1 563.6 365.4zM573.1 365.3L571.8 367.1 570.8 365.4zM580.2 365.2L579 367.1 578 365.4zM587.5 365.4L586.1 367.2 585.2 365.4zM363.8 355.9L362.5 357.7 361.5 355.9zM371.3 355.5L370.1 357.4 369.1 355.8zM378.5 355.6L377.3 357.5 376.3 355.7zM385.7 355.5L384.6 357.4 383.4 355.8zM392.9 355.5L391.7 357.4 390.7 355.7zM400.2 355.7L398.9 357.5 398 355.7zM407.4 355.6L406.1 357.5 405.1 355.7zM414.5 355.6L413.3 357.5 412.3 355.7zM421.7 355.5L420.6 357.4 419.5 355.8zM428.9 355.5L427.8 357.4 426.7 355.8zM436.2 355.7L434.9 357.5 434 355.7zM443.3 355.5L442.2 357.4 441.1 355.8zM450.5 355.6L449.4 357.4 448.3 355.7zM457.8 355.6L456.5 357.5 455.5 355.7zM464.9 355.5L463.8 357.4 462.7 355.8zM472.2 355.6L470.9 357.5 470 355.7zM479.3 355.6L478.2 357.5 477.1 355.7zM486.5 355.5L485.4 357.4 484.3 355.8zM493.7 355.5L492.6 357.4 491.5 355.8zM501 355.6L499.8 357.5 498.7 355.7zM508.2 355.6L507 357.5 505.9 355.7zM515.3 355.5L514.2 357.4 513.1 355.8zM522.6 355.7L521.3 357.5 520.4 355.7zM529.8 355.5L528.6 357.4 527.5 355.7zM537 355.5L535.8 357.4 534.7 355.8zM544.3 355.7L542.9 357.5 542 355.7zM551.4 355.5L550.2 357.4 549.1 355.8zM558.7 355.7L557.3 357.5 556.4 355.7zM565.9 355.7L564.5 357.5 563.6 355.7zM573 355.6L571.8 357.5 570.8 355.7zM580.1 355.5L579 357.4 577.9 355.8zM587.4 355.5L586.2 357.4 585.1 355.8zM363.7 346.2L362.5 348 361.5 346.3zM371.3 345.9L370.1 347.8 369.1 346.1zM378.6 346L377.3 347.8 376.3 346.1zM385.7 345.9L384.5 347.8 383.5 346.1zM393 346L391.7 347.9 390.8 346.1zM400.2 346L398.9 347.8 397.9 346.1zM407.3 345.8L406.2 347.8 405.1 346.1zM414.5 345.9L413.4 347.8 412.3 346.1zM421.7 345.9L420.5 347.8 419.5 346.1zM429 346L427.7 347.8 426.7 346.1zM436.1 345.9L435 347.8 433.9 346.1zM443.4 346L442.1 347.9 441.2 346.1zM450.6 346L449.3 347.8 448.3 346.1zM457.8 345.9L456.5 347.8 455.5 346.1zM465 346.1L463.7 347.9 462.8 346.1zM472.1 345.9L471 347.8 469.9 346.1zM479.4 346L478.1 347.8 477.2 346.1zM486.5 345.8L485.4 347.8 484.3 346.1zM493.7 345.8L492.6 347.8 491.5 346.1zM500.9 345.9L499.8 347.8 498.7 346.1zM508.1 345.9L507 347.8 505.9 346.1zM515.4 346L514.1 347.8 513.2 346.1zM522.6 346L521.3 347.9 520.4 346.1zM529.8 346L528.6 347.8 527.6 346.1zM537 346L535.8 347.8 534.8 346.1zM544.1 345.8L543 347.8 541.9 346.1zM551.4 345.9L550.2 347.8 549.1 346.1zM558.6 345.9L557.4 347.8 556.3 346.1zM565.8 345.9L564.6 347.8 563.6 346.1zM573 345.9L571.8 347.8 570.7 346.1zM580.2 346L579 347.8 578 346.1zM587.4 345.9L586.2 347.8 585.1 346.1zM363.7 336.4L362.6 338.4 361.5 336.7zM371.3 336.3L370.1 338.2 369.1 336.4zM378.5 336.2L377.3 338.1 376.2 336.5zM385.7 336.3L384.5 338.2 383.5 336.5zM392.9 336.3L391.7 338.2 390.7 336.5zM400.1 336.3L398.9 338.2 397.9 336.4zM407.3 336.2L406.2 338.1 405.1 336.5zM414.6 336.3L413.3 338.2 412.3 336.4zM421.8 336.4L420.5 338.2 419.6 336.4zM429 336.4L427.7 338.2 426.8 336.4zM436.1 336.2L435 338.1 433.9 336.5zM443.4 336.3L442.1 338.2 441.1 336.4zM450.6 336.4L449.3 338.2 448.4 336.4zM457.8 336.4L456.5 338.2 455.6 336.4zM464.9 336.3L463.8 338.2 462.7 336.5zM472.1 336.2L471 338.2 469.9 336.5zM479.4 336.4L478.1 338.2 477.2 336.4zM486.6 336.3L485.4 338.2 484.3 336.4zM493.8 336.3L492.6 338.2 491.5 336.4zM500.9 336.2L499.8 338.1 498.7 336.5zM508.2 336.4L506.9 338.2 506 336.4zM515.4 336.4L514.1 338.2 513.2 336.4zM522.6 336.2L521.4 338.2 520.3 336.5zM529.8 336.3L528.6 338.2 527.6 336.4zM537.1 336.4L535.7 338.2 534.8 336.4zM544.2 336.3L543 338.2 542 336.4zM551.4 336.2L550.2 338.1 549.1 336.5zM558.6 336.4L557.4 338.2 556.4 336.4zM565.9 336.4L564.5 338.2 563.6 336.4zM573 336.2L571.8 338.2 570.7 336.5zM580.3 336.4L578.9 338.2 578 336.4zM587.5 336.4L586.1 338.2 585.2 336.4zM363.8 327L362.4 328.8 361.6 327zM371.3 326.6L370.1 328.5 369.1 326.8zM378.6 326.8L377.3 328.6 376.4 326.8zM385.8 326.8L384.4 328.6 383.6 326.8zM393 326.9L391.6 328.6 390.8 326.8zM400.2 326.8L398.9 328.6 398 326.8zM407.4 326.8L406 328.6 405.2 326.8zM414.5 326.6L413.3 328.5 412.3 326.8zM421.8 326.8L420.4 328.6 419.6 326.8zM429 326.7L427.7 328.5 426.7 326.8zM436.2 326.7L434.9 328.6 434 326.8zM443.5 326.9L442 328.6 441.2 326.8zM450.6 326.8L449.3 328.6 448.4 326.8zM457.8 326.8L456.5 328.6 455.6 326.8zM465 326.8L463.7 328.6 462.8 326.8zM472.2 326.8L470.9 328.6 470 326.8zM479.4 326.7L478.1 328.5 477.2 326.8zM486.7 326.8L485.3 328.6 484.4 326.8zM493.9 326.8L492.5 328.6 491.6 326.8zM501 326.7L499.7 328.5 498.8 326.8zM508.3 326.8L506.9 328.6 506 326.8zM515.4 326.7L514.2 328.5 513.2 326.8zM522.7 326.8L521.3 328.6 520.4 326.8zM529.8 326.7L528.6 328.5 527.6 326.8zM537 326.6L535.8 328.5 534.8 326.8zM544.3 326.8L542.9 328.6 542 326.8zM551.5 326.8L550.1 328.6 549.2 326.8zM558.6 326.7L557.4 328.5 556.4 326.8zM565.9 326.8L564.5 328.6 563.7 326.8zM573 326.7L571.8 328.6 570.8 326.8zM580.2 326.6L579 328.5 578 326.8zM587.5 326.8L586.1 328.6 585.3 326.8zM363.8 317.3L362.5 319.1 361.6 317.3zM371.4 317.2L370 318.9 369.2 317.1zM378.6 317.1L377.3 318.9 376.3 317.1zM385.8 317.1L384.5 318.9 383.6 317.1zM393.1 317.3L391.6 319 390.9 317.1zM400.2 317.1L398.9 318.9 397.9 317.1zM407.5 317.3L406 319 405.2 317.1zM414.6 317.1L413.3 318.9 412.4 317.1zM421.9 317.2L420.4 318.9 419.6 317.1zM429.1 317.3L427.6 319 426.9 317.1zM436.2 317.1L434.9 318.9 434 317.1zM443.4 317.2L442.1 318.9 441.2 317.1zM450.7 317.3L449.2 319 448.4 317.1zM457.8 317.1L456.5 318.9 455.6 317.1zM465.1 317.3L463.6 319 462.9 317.1zM472.3 317.2L470.8 319 470.1 317.1zM479.5 317.2L478.1 318.9 477.2 317.1zM486.7 317.2L485.3 318.9 484.4 317.1zM493.9 317.2L492.5 318.9 491.6 317.1zM501 317.1L499.7 318.9 498.8 317.1zM508.3 317.2L506.9 318.9 506 317.1zM515.5 317.1L514.1 318.9 513.2 317.1zM522.7 317.3L521.2 319 520.5 317.1zM529.8 317.1L528.5 318.9 527.6 317.1zM537.1 317.3L535.6 319 534.9 317.1zM544.3 317.1L542.9 318.9 542 317.1zM551.5 317.2L550.1 318.9 549.2 317.1zM558.7 317.3L557.3 319 556.5 317.1zM565.8 317.1L564.6 318.9 563.6 317.1zM573.1 317.1L571.8 318.9 570.8 317.1zM580.3 317.2L578.9 318.9 578.1 317.1zM587.4 317.1L586.2 318.9 585.2 317.1zM364.3 307.7L362.8 309.3 362.1 307.5zM372 307.5L370.5 309.1 369.8 307.3zM379.2 307.4L377.8 309.1 377 307.2zM386.5 307.5L384.9 309.1 384.2 307.3zM393.6 307.5L392.1 309.1 391.4 307.3zM400.8 307.4L399.4 309.1 398.6 307.2zM408.1 307.5L406.5 309.1 405.9 307.3zM415.3 307.5L413.8 309.1 413 307.2zM422.5 307.6L420.9 309.2 420.3 307.3zM429.6 307.3L428.2 309 427.3 307.2zM436.8 307.4L435.4 309.1 434.6 307.2zM444.1 307.6L442.5 309.2 441.9 307.3zM451.3 307.4L449.8 309.1 449 307.2zM458.5 307.6L456.9 309.2 456.3 307.3zM465.7 307.5L464.2 309.1 463.4 307.2zM472.8 307.3L471.4 309.1 470.6 307.2zM480.1 307.4L478.6 309.1 477.8 307.2zM487.3 307.5L485.8 309.1 485.1 307.3zM494.5 307.4L493 309.1 492.2 307.2zM501.6 307.3L500.2 309 499.4 307.2zM508.9 307.5L507.4 309.1 506.7 307.3zM516 307.3L514.6 309 513.8 307.2zM523.3 307.5L521.8 309.1 521.1 307.3zM530.5 307.4L529 309.1 528.2 307.2zM537.7 307.6L536.2 309.2 535.5 307.3zM544.9 307.4L543.4 309.1 542.7 307.2zM552 307.3L550.7 309 549.8 307.2zM559.3 307.5L557.8 309.1 557.1 307.2zM566.5 307.4L565 309.1 564.2 307.2zM573.7 307.4L572.2 309.1 571.5 307.2zM581 307.6L579.4 309.2 578.8 307.3zM588.1 307.4L586.6 309.1 585.9 307.2zM364.4 298.2L362.7 299.7 362.2 297.8zM372 297.8L370.5 299.4 369.8 297.6zM379.2 297.8L377.7 299.5 377 297.6zM386.4 297.8L384.9 299.5 384.2 297.6zM393.7 297.9L392.1 299.5 391.5 297.6zM400.8 297.8L399.4 299.4 398.6 297.6zM408 297.8L406.6 299.5 405.8 297.6zM415.3 298L413.7 299.5 413.1 297.6zM422.5 297.9L420.9 299.5 420.3 297.6zM429.7 298L428.1 299.6 427.5 297.6zM436.9 298L435.3 299.5 434.7 297.6zM444.2 298.1L442.5 299.6 442 297.7zM451.3 297.9L449.8 299.5 449.1 297.6zM458.5 298L456.9 299.5 456.3 297.6zM465.7 298L464.1 299.5 463.5 297.6zM472.9 298L471.3 299.5 470.7 297.6zM480.1 297.8L478.6 299.5 477.9 297.6zM487.4 298L485.7 299.6 485.2 297.6zM494.5 297.9L493 299.5 492.3 297.6zM501.8 298L500.1 299.6 499.6 297.6zM509 298L507.3 299.5 506.8 297.6zM516.1 297.9L514.6 299.5 513.9 297.6zM523.3 297.9L521.8 299.5 521.1 297.6zM530.6 298L529 299.5 528.3 297.6zM537.8 298L536.1 299.6 535.6 297.6zM545 298.1L543.3 299.6 542.8 297.7zM552.2 298.1L550.5 299.6 550 297.7zM559.3 297.8L557.8 299.5 557.1 297.6zM566.5 297.9L565 299.5 564.3 297.6zM573.7 297.8L572.2 299.5 571.5 297.6zM581 297.9L579.4 299.5 578.7 297.6zM588.2 298.1L586.5 299.6 586 297.7zM364.4 288.5L362.7 290.1 362.2 288.2zM372.2 288.6L370.4 290 370 288zM379.3 288.3L377.7 289.9 377.1 288zM386.5 288.3L384.9 289.9 384.3 288zM393.7 288.3L392.1 289.9 391.5 288zM400.9 288.5L399.3 289.9 398.8 288zM408.1 288.4L406.5 289.9 405.9 288zM415.4 288.6L413.6 290 413.2 288zM422.5 288.3L420.9 289.9 420.3 288zM429.7 288.4L428.1 289.9 427.5 288zM437 288.5L435.3 290 434.8 288zM444.2 288.4L442.5 289.9 442 288zM451.4 288.6L449.7 290 449.2 288zM458.5 288.4L456.9 289.9 456.3 288zM465.7 288.3L464.1 289.9 463.5 288zM473 288.5L471.3 290 470.8 288zM480.2 288.6L478.5 290 478 288zM487.4 288.6L485.7 290 485.2 288zM494.6 288.4L492.9 289.9 492.4 288zM501.7 288.3L500.2 289.9 499.5 288zM509 288.6L507.3 290 506.9 288zM516.2 288.4L514.5 289.9 514 288zM523.4 288.5L521.7 289.9 521.2 288zM530.6 288.4L528.9 289.9 528.4 288zM537.8 288.4L536.1 289.9 535.6 288zM545 288.4L543.3 289.9 542.8 288zM552.2 288.4L550.5 289.9 550 288zM559.4 288.4L557.7 289.9 557.2 288zM566.6 288.6L564.9 290 564.5 288zM573.8 288.5L572.1 289.9 571.6 288zM581 288.5L579.3 290 578.9 288zM588.2 288.5L586.5 289.9 586 288zM364.4 279L362.7 280.5 362.2 278.5zM372.1 278.8L370.4 280.3 369.9 278.4zM379.3 278.9L377.6 280.3 377.2 278.4zM386.6 279L384.8 280.4 384.4 278.4zM393.7 278.8L392.1 280.3 391.5 278.4zM401 278.9L399.2 280.3 398.8 278.4zM408.2 279.1L406.4 280.4 406.1 278.4zM415.4 278.9L413.7 280.3 413.2 278.4zM422.5 278.8L420.9 280.3 420.4 278.4zM429.8 278.9L428.1 280.3 427.6 278.4zM437 278.8L435.3 280.3 434.8 278.4zM444.2 278.8L442.5 280.3 442 278.4zM451.4 278.8L449.7 280.3 449.2 278.4zM458.6 279.1L456.8 280.4 456.5 278.4zM465.8 279L464 280.4 463.7 278.4zM473 279.1L471.2 280.4 470.9 278.4zM480.2 278.8L478.5 280.3 478 278.4zM487.4 278.9L485.7 280.3 485.2 278.4zM494.6 278.8L492.9 280.3 492.4 278.4zM501.8 278.9L500.1 280.3 499.6 278.4zM509 279L507.2 280.4 506.9 278.4zM516.3 279.1L514.4 280.4 514.1 278.4zM523.4 279L521.7 280.3 521.3 278.4zM530.6 278.9L528.9 280.3 528.4 278.4zM537.8 278.9L536.1 280.3 535.6 278.4zM545 278.8L543.3 280.3 542.8 278.4zM552.3 279.1L550.4 280.4 550.1 278.4zM559.4 279L557.7 280.4 557.3 278.4zM566.6 278.8L564.9 280.3 564.4 278.4zM573.8 278.9L572.1 280.3 571.7 278.4zM581 278.9L579.3 280.3 578.9 278.4zM588.2 278.8L586.5 280.3 586 278.4zM364.4 269.5L362.6 270.8 362.3 268.9zM372.2 269.3L370.4 270.7 370 268.7zM379.4 269.6L377.5 270.8 377.3 268.8zM386.6 269.4L384.8 270.7 384.4 268.8zM393.8 269.5L392 270.8 391.7 268.8zM401 269.3L399.2 270.7 398.8 268.7zM408.2 269.5L406.4 270.8 406.1 268.8zM415.4 269.4L413.6 270.7 413.2 268.8zM422.6 269.3L420.8 270.7 420.4 268.7zM429.8 269.3L428 270.7 427.6 268.7zM437 269.5L435.2 270.8 434.9 268.8zM444.2 269.3L442.5 270.7 442 268.7zM451.4 269.6L449.5 270.8 449.4 268.8zM458.6 269.5L456.8 270.8 456.5 268.8zM465.8 269.5L464 270.8 463.7 268.8zM473 269.3L471.3 270.7 470.8 268.7zM480.2 269.4L478.4 270.7 478.1 268.8zM487.4 269.4L485.6 270.7 485.3 268.8zM494.7 269.5L492.8 270.8 492.5 268.8zM501.9 269.6L500 270.8 499.8 268.8zM509.1 269.6L507.2 270.8 507 268.8zM516.3 269.6L514.4 270.8 514.2 268.8zM523.5 269.5L521.6 270.8 521.3 268.8zM530.6 269.4L528.9 270.7 528.5 268.8zM537.9 269.5L536 270.8 535.7 268.8zM545.1 269.4L543.3 270.7 542.9 268.8zM552.3 269.4L550.5 270.7 550.1 268.8zM559.5 269.5L557.6 270.8 557.4 268.8zM566.7 269.5L564.9 270.8 564.5 268.8zM573.9 269.5L572.1 270.8 571.7 268.8zM581.1 269.6L579.2 270.8 579 268.8zM588.3 269.4L586.5 270.7 586.2 268.8zM364.4 259.8L362.7 261.2 362.3 259.2zM372.2 259.8L370.4 261.1 370.1 259.1zM379.4 259.7L377.6 261.1 377.2 259.1zM386.6 259.7L384.8 261.1 384.4 259.1zM393.8 260L391.9 261.2 391.8 259.2zM401 259.8L399.2 261.1 398.9 259.1zM408.2 259.9L406.4 261.1 406.1 259.2zM415.4 259.7L413.6 261.1 413.2 259.1zM422.6 259.8L420.8 261.1 420.5 259.1zM429.8 259.9L428 261.1 427.7 259.2zM437 260L435.1 261.2 435 259.2zM444.2 260L442.3 261.2 442.2 259.2zM451.4 259.8L449.6 261.1 449.3 259.1zM458.6 259.7L456.8 261.1 456.4 259.1zM465.8 259.9L464 261.1 463.7 259.1zM473.1 259.9L471.2 261.1 471 259.2zM480.3 260L478.3 261.2 478.2 259.2zM487.4 259.8L485.6 261.1 485.3 259.1zM494.7 260L492.8 261.2 492.6 259.2zM501.8 259.8L500 261.1 499.7 259.1zM509.1 259.8L507.2 261.1 506.9 259.1zM516.3 259.9L514.4 261.1 514.2 259.2zM523.4 259.7L521.7 261.1 521.3 259.1zM530.7 259.9L528.8 261.1 528.6 259.1zM537.9 259.9L536 261.1 535.8 259.1zM545.1 259.7L543.3 261.1 542.9 259.1zM552.3 259.7L550.5 261.1 550.1 259.1zM559.5 259.9L557.6 261.1 557.4 259.1zM566.7 259.9L564.8 261.2 564.6 259.2zM573.9 259.8L572.1 261.1 571.7 259.1zM581.1 259.8L579.2 261.1 579 259.1zM588.3 259.8L586.5 261.1 586.1 259.1z" style="fill:#000;stroke:none" /></g>
<g id="line2d_101">
<path d="M443.9 480.6L443.9 259.5" clip-path="url(#p706396b148)" style="fill:none;stroke:#ffffff;stroke-width:1.6" />
</g>
<g id="line2d_102">
<path d="M443.9 480.6L443.9 259.5" clip-path="url(#p706396b148)" style="fill:none;stroke-dasharray:4.6,2.5;stroke-dashoffset:0;stroke:#333333;stroke-width:1.6" />
</g>
<g id="line2d_103">
<path d="M523 480.6L523 259.5" clip-path="url(#p706396b148)" style="fill:none;stroke:#ffffff;stroke-width:1.6" />
</g>
<g id="line2d_104">
<path d="M523 480.6L523 259.5" clip-path="url(#p706396b148)" style="fill:none;stroke-dasharray:4.6,2.5;stroke-dashoffset:0;stroke:#333333;stroke-width:1.6" />
</g>
<g id="line2d_105">
<path d="M443.9 480.6L523 480.6" clip-path="url(#p706396b148)" style="fill:none;stroke-dasharray:4.6,2.5;stroke-dashoffset:0;stroke:#333333;stroke-width:1.6" />
</g>
<g id="patch_27">
<path d="M361.5 482.1L361.5 259.5" style="fill:none;stroke:#000000;stroke-width:1;stroke-linejoin:miter;stroke-linecap:square" />
</g>
<g id="patch_28">
<path d="M592 482.1L592 259.5" style="fill:none;stroke:#000000;stroke-width:1;stroke-linejoin:miter;stroke-linecap:square" />
</g>
<g id="patch_29">
<path d="M361.5 482.1L592 482.1" style="fill:none;stroke:#000000;stroke-width:1;stroke-linejoin:miter;stroke-linecap:square" />
</g>
<g id="patch_30">
<path d="M361.5 259.5L592 259.5" style="fill:none;stroke:#000000;stroke-width:1;stroke-linejoin:miter;stroke-linecap:square" />
</g>
<g id="text_46">
<text style="font-size:9.2px;font-family:&quot;Liberation Sans&quot;, sans-serif;text-anchor:middle;fill:#ff33ff" x="411.5" y="311" transform="rotate(0 411.5 311)" textLength="20.4" lengthAdjust="spacingAndGlyphs">0.05</text>
</g>
<g id="text_47">
<text style="font-size:9.2px;font-family:&quot;Liberation Sans&quot;, sans-serif;fill:#ff33ff" transform="translate(442.1 385.8) rotate(-12)" textLength="20.4" lengthAdjust="spacingAndGlyphs">0.05</text>
</g>
<g id="text_48">
<g id="patch_31">
<path d="M365 274.4L384.9 274.4L384.9 262.1L365 262.1z" style="fill:#ffffff" />
</g>
<text style="font-weight:700;font-size:11.7px;font-family:&quot;Liberation Sans&quot;, sans-serif;text-anchor:start" x="365.4" y="271.5" transform="rotate(0 365.4 271.5)" textLength="19" lengthAdjust="spacingAndGlyphs">(d)</text>
</g>
</g>
<g id="axes_8">
<g id="patch_32">
<path d="M606.4 482.1L617.6 482.1L617.6 259.5L606.4 259.5z" style="fill:#ffffff" />
</g>
<g id="QuadMesh_4">
<path d="M606.4 482.1L617.6 482.1L617.6 469L606.4 469L606.4 482.1" clip-path="url(#p2c75ea1437)" style="fill:#fff5f0" />
<path d="M606.4 469L617.6 469L617.6 455.9L606.4 455.9L606.4 469" clip-path="url(#p2c75ea1437)" style="fill:#ffebe2" />
<path d="M606.4 455.9L617.6 455.9L617.6 442.8L606.4 442.8L606.4 455.9" clip-path="url(#p2c75ea1437)" style="fill:#fee0d2" />
<path d="M606.4 442.8L617.6 442.8L617.6 429.7L606.4 429.7L606.4 442.8" clip-path="url(#p2c75ea1437)" style="fill:#fdcdb9" />
<path d="M606.4 429.7L617.6 429.7L617.6 416.6L606.4 416.6L606.4 429.7" clip-path="url(#p2c75ea1437)" style="fill:#fcbba1" />
<path d="M606.4 416.6L617.6 416.6L617.6 403.5L606.4 403.5L606.4 416.6" clip-path="url(#p2c75ea1437)" style="fill:#fca689" />
<path d="M606.4 403.5L617.6 403.5L617.6 390.4L606.4 390.4L606.4 403.5" clip-path="url(#p2c75ea1437)" style="fill:#fc9272" />
<path d="M606.4 390.4L617.6 390.4L617.6 377.3L606.4 377.3L606.4 390.4" clip-path="url(#p2c75ea1437)" style="fill:#fb7d5d" />
<path d="M606.4 377.3L617.6 377.3L617.6 364.3L606.4 364.3L606.4 377.3" clip-path="url(#p2c75ea1437)" style="fill:#fb6b4b" />
<path d="M606.4 364.3L617.6 364.3L617.6 351.2L606.4 351.2L606.4 364.3" clip-path="url(#p2c75ea1437)" style="fill:#f5523a" />
<path d="M606.4 351.2L617.6 351.2L617.6 338.1L606.4 338.1L606.4 351.2" clip-path="url(#p2c75ea1437)" style="fill:#ee3a2c" />
<path d="M606.4 338.1L617.6 338.1L617.6 325L606.4 325L606.4 338.1" clip-path="url(#p2c75ea1437)" style="fill:#dd2a25" />
<path d="M606.4 325L617.6 325L617.6 311.9L606.4 311.9L606.4 325" clip-path="url(#p2c75ea1437)" style="fill:#ca181d" />
<path d="M606.4 311.9L617.6 311.9L617.6 298.8L606.4 298.8L606.4 311.9" clip-path="url(#p2c75ea1437)" style="fill:#b71319" />
<path d="M606.4 298.8L617.6 298.8L617.6 285.7L606.4 285.7L606.4 298.8" clip-path="url(#p2c75ea1437)" style="fill:#a30f15" />
<path d="M606.4 285.7L617.6 285.7L617.6 272.6L606.4 272.6L606.4 285.7" clip-path="url(#p2c75ea1437)" style="fill:#840711" />
<path d="M606.4 272.6L617.6 272.6L617.6 259.5L606.4 259.5L606.4 272.6" clip-path="url(#p2c75ea1437)" style="fill:#67000d" />
</g>
<g id="matplotlib.axis_15" />
<g id="matplotlib.axis_16">
<g id="ytick_50">
<g id="line2d_106">
<g>
<use href="#mbff90f7d70" x="617.6" y="482.1" style="stroke:#000000;stroke-width:1" />
</g>
</g>
<g id="text_49">
<text style="font-size:10.4px;font-family:&quot;Liberation Sans&quot;, sans-serif;text-anchor:start" x="627.3" y="486.1" transform="rotate(0 627.3 486.1)" textLength="23.2" lengthAdjust="spacingAndGlyphs">0.00</text>
</g>
</g>
<g id="ytick_51">
<g id="line2d_107">
<g>
<use href="#mbff90f7d70" x="617.6" y="455.9" style="stroke:#000000;stroke-width:1" />
</g>
</g>
<g id="text_50">
<text style="font-size:10.4px;font-family:&quot;Liberation Sans&quot;, sans-serif;text-anchor:start" x="627.3" y="459.9" transform="rotate(0 627.3 459.9)" textLength="23.2" lengthAdjust="spacingAndGlyphs">0.02</text>
</g>
</g>
<g id="ytick_52">
<g id="line2d_108">
<g>
<use href="#mbff90f7d70" x="617.6" y="429.7" style="stroke:#000000;stroke-width:1" />
</g>
</g>
<g id="text_51">
<text style="font-size:10.4px;font-family:&quot;Liberation Sans&quot;, sans-serif;text-anchor:start" x="627.3" y="433.7" transform="rotate(0 627.3 433.7)" textLength="23.2" lengthAdjust="spacingAndGlyphs">0.04</text>
</g>
</g>
<g id="ytick_53">
<g id="line2d_109">
<g>
<use href="#mbff90f7d70" x="617.6" y="403.5" style="stroke:#000000;stroke-width:1" />
</g>
</g>
<g id="text_52">
<text style="font-size:10.4px;font-family:&quot;Liberation Sans&quot;, sans-serif;text-anchor:start" x="627.3" y="407.5" transform="rotate(0 627.3 407.5)" textLength="23.2" lengthAdjust="spacingAndGlyphs">0.06</text>
</g>
</g>
<g id="ytick_54">
<g id="line2d_110">
<g>
<use href="#mbff90f7d70" x="617.6" y="377.3" style="stroke:#000000;stroke-width:1" />
</g>
</g>
<g id="text_53">
<text style="font-size:10.4px;font-family:&quot;Liberation Sans&quot;, sans-serif;text-anchor:start" x="627.3" y="381.3" transform="rotate(0 627.3 381.3)" textLength="23.2" lengthAdjust="spacingAndGlyphs">0.08</text>
</g>
</g>
<g id="ytick_55">
<g id="line2d_111">
<g>
<use href="#mbff90f7d70" x="617.6" y="351.2" style="stroke:#000000;stroke-width:1" />
</g>
</g>
<g id="text_54">
<text style="font-size:10.4px;font-family:&quot;Liberation Sans&quot;, sans-serif;text-anchor:start" x="627.3" y="355.1" transform="rotate(0 627.3 355.1)" textLength="23.2" lengthAdjust="spacingAndGlyphs">0.10</text>
</g>
</g>
<g id="ytick_56">
<g id="line2d_112">
<g>
<use href="#mbff90f7d70" x="617.6" y="325" style="stroke:#000000;stroke-width:1" />
</g>
</g>
<g id="text_55">
<text style="font-size:10.4px;font-family:&quot;Liberation Sans&quot;, sans-serif;text-anchor:start" x="627.3" y="328.9" transform="rotate(0 627.3 328.9)" textLength="23.2" lengthAdjust="spacingAndGlyphs">0.12</text>
</g>
</g>
<g id="ytick_57">
<g id="line2d_113">
<g>
<use href="#mbff90f7d70" x="617.6" y="298.8" style="stroke:#000000;stroke-width:1" />
</g>
</g>
<g id="text_56">
<text style="font-size:10.4px;font-family:&quot;Liberation Sans&quot;, sans-serif;text-anchor:start" x="627.3" y="302.7" transform="rotate(0 627.3 302.7)" textLength="23.2" lengthAdjust="spacingAndGlyphs">0.14</text>
</g>
</g>
<g id="ytick_58">
<g id="line2d_114">
<g>
<use href="#mbff90f7d70" x="617.6" y="272.6" style="stroke:#000000;stroke-width:1" />
</g>
</g>
<g id="text_57">
<text style="font-size:10.4px;font-family:&quot;Liberation Sans&quot;, sans-serif;text-anchor:start" x="627.3" y="276.6" transform="rotate(0 627.3 276.6)" textLength="23.2" lengthAdjust="spacingAndGlyphs">0.16</text>
</g>
</g>
<g id="text_58">
<g transform="translate(667.5 411.7) rotate(-90)">
<text>
<tspan x="0" y="-1.2" style="font-style:oblique;font-size:10.4px;font-family:&quot;Liberation Sans&quot;, sans-serif" textLength="8.20" lengthAdjust="spacingAndGlyphs">Q</tspan>
<tspan x="8.2" y=".6" style="font-style:oblique;font-size:7.3px;font-family:&quot;Liberation Sans&quot;, sans-serif" textLength="4.01" lengthAdjust="spacingAndGlyphs">c</tspan>
<tspan x="12.2" y=".6" style="font-style:oblique;font-size:7.3px;font-family:&quot;Liberation Sans&quot;, sans-serif" textLength="2.03" lengthAdjust="spacingAndGlyphs">l</tspan>
<tspan x="14.2" y=".6" style="font-style:oblique;font-size:7.3px;font-family:&quot;Liberation Sans&quot;, sans-serif" textLength="4.46" lengthAdjust="spacingAndGlyphs">o</tspan>
<tspan x="18.7" y=".6" style="font-style:oblique;font-size:7.3px;font-family:&quot;Liberation Sans&quot;, sans-serif" textLength="4.62" lengthAdjust="spacingAndGlyphs">u</tspan>
<tspan x="23.3" y=".6" style="font-style:oblique;font-size:7.3px;font-family:&quot;Liberation Sans&quot;, sans-serif" textLength="4.63" lengthAdjust="spacingAndGlyphs">d</tspan>
<tspan x="31.7" y=".6" style="font-style:oblique;font-size:7.3px;font-family:&quot;Liberation Sans&quot;, sans-serif" textLength="4.62" lengthAdjust="spacingAndGlyphs">u</tspan>
<tspan x="27.9" y=".6" style="font-size:7.3px;font-family:&quot;Liberation Sans&quot;, sans-serif" textLength="2.32" lengthAdjust="spacingAndGlyphs">,</tspan>
<tspan x="66.7" y="-5.4" style="font-size:7.3px;font-family:&quot;Liberation Sans&quot;, sans-serif" textLength="6.11" lengthAdjust="spacingAndGlyphs">−</tspan>
<tspan x="72.8" y="-5.4" style="font-size:7.3px;font-family:&quot;Liberation Sans&quot;, sans-serif" textLength="4.64" lengthAdjust="spacingAndGlyphs">1</tspan>
<tspan x="36.6" y="-1.2" style="font-size:10.4px;font-family:&quot;Liberation Sans&quot;, sans-serif"> </tspan>
<tspan x="39.9" y="-1.2" style="font-size:10.4px;font-family:&quot;Liberation Sans&quot;, sans-serif" textLength="4.06" lengthAdjust="spacingAndGlyphs">[</tspan>
<tspan x="44" y="-1.2" style="font-size:10.4px;font-family:&quot;Liberation Sans&quot;, sans-serif" textLength="6.61" lengthAdjust="spacingAndGlyphs">g</tspan>
<tspan x="50.6" y="-1.2" style="font-size:10.4px;font-family:&quot;Liberation Sans&quot;, sans-serif"> </tspan>
<tspan x="53.9" y="-1.2" style="font-size:10.4px;font-family:&quot;Liberation Sans&quot;, sans-serif" textLength="6.03" lengthAdjust="spacingAndGlyphs">k</tspan>
<tspan x="59.9" y="-1.2" style="font-size:10.4px;font-family:&quot;Liberation Sans&quot;, sans-serif" textLength="6.61" lengthAdjust="spacingAndGlyphs">g</tspan>
<tspan x="77.7" y="-1.2" style="font-size:10.4px;font-family:&quot;Liberation Sans&quot;, sans-serif" textLength="4.06" lengthAdjust="spacingAndGlyphs">]</tspan>
</text>
</g>
</g>
</g>
<g id="LineCollection_4" />
<g id="patch_33">
<path d="M606.4 482.1L612 482.1L617.6 482.1L617.6 259.5L612 259.5L606.4 259.5L606.4 482.1z" style="fill:none;stroke:#000000;stroke-width:1;stroke-linejoin:miter;stroke-linecap:square" />
</g>
</g>
<g id="axes_9">
<g id="patch_34">
<path d="M33.5 723.1L263.6 723.1L263.6 500.5L33.5 500.5z" style="fill:#ffffff" />
</g>
<g id="QuadContourSet_6" clip-path="url(#pd62a0e9e07)">
<g transform="scale(.5)"><path d="M175 1415l1-2-1-3z" style="fill:#2f79b5;stroke:#2f79b5;stroke-width:.8" />
<path d="M100 1419l2-1 0-3 0-2-2-1-1 5zM175 1418l1 0 1-5-1-6-1-2-2 3 0 3 0 5zM174 1413l1-3 1 3-1 2z" style="fill:#3f8ec0;stroke:#3f8ec0;stroke-width:.8" />
<path d="M100 1422l2 0 1-5-1-12 0-22 0-11-1 15 0 17-3 13zM100 1418l0-6 2 1 0 4-1 1-1 1zM175 1421l1 0 2-3 0-5-1-8-2-3-2 1-1 8 1 6zM174 1417l-1-6 0-3 2-3 2 4 0 6-1 3-1 0zM73 1375l1-1 0-28-1 0 0 4z" style="fill:#5fa5cd;stroke:#5fa5cd;stroke-width:.8" />
<path d="M100 1426l2 0 2-11 0-47-1-9-1-1-3 14 0 33-2 12 0 3zM100 1422l-2-5 3-13 0-17 1-15 0 11 0 22 1 12-1 5zM175 1424l1 0 2-2 1-9-1-8-3-10-3 9-1 7 1 7zM174 1420l-1-3-1-6 1-8 2-1 2 3 1 8-1 7-2 1zM404 1420l1 0 1-5-1-5-1 0-1 5zM231 1405l0-25-1-2 0 25zM73 1397l1 0 1-3 1-22 0-28-2-17-1 0-2 28 0 26zM73 1374l0-26 0-2 1 0 0 28-1 1zM173 1382l2-7 0-16 0-17-2-10-1 27zM81 1292l2-5 1-28 0-19-1-12-2 3-1 19zM71 1267l2 1 0-11 0-12-2-7-2 8zM230 1195l1-31 0-33-1-40-2-3-1 69 1 28zM480 1018l1-17-2 0z" style="fill:#87beda;stroke:#87beda;stroke-width:.8" />
<path d="M99 1426l1 0-3-9 2-13 1-40 2-6 1 1 1 13 0 45-3 9 2 0 2-9 0-13 2-23 1-78 2-59-1-28-2 0-1 24 1 78-3 24-2 5-3 10-1 17 0 30-3 13 1 3zM173 1425l1 1 4 0 2-13-3-22 0-58-2-26-2 1-1 18-1 37 1 31-2 17 1 7zM175 1424l-3-6-1-7 1-7 3-9 3 10 1 8-1 9-2 2zM173 1381l-1-22 1-27 2 12 0 17 0 14zM230 1426l2 0 1-34-1-31-1-12-1-3-2 43zM231 1405l-1-2 0-25 1 2zM402 1424l4 0 1-4 0-11-2-10-1 2-3 12 0 5zM403 1418l1-8 1 0 0 7 0 3-1 0zM483 1418l2 0 0-1 1 1 2 0-1-20-2-6-1 2 0 4zM365 1413l1-6-1-3-2 0-1 2 0 3 1 4zM74 1410l2-4 0-8 1-33 0-28-2-35 0-56-1-21-4-32-3 11 0 71 3 10 1 22-2 54 0 26 2 15 2 7zM73 1396l-2-17 0-26 2-26 1 0 2 19 0 28-2 22 0 1zM71 1266l-2-20 2-8 2 7 0 12 0 11zM448 1408l2 0 1-3-1-3-3 2 0 1zM122 1399l2-7 0-13-2-28-2-5 0 45 0 7zM81 1316l2-8 1-22 1-33 0-29-1-8-1-2-2 3-1 10-2 23 1 48zM81 1290l-1-40 1-19 2-3 1 12 0 19-1 28-2 5zM527 1304l0-58 0 26zM228 1289l2-5 0-8 2-136-1-53-1-17-2-5-1 13-1 34zM229 1194l-1-9-1-32 1-65 2 3 1 42 0 33zM71 1158l2-34 0-25-2 2 0 24-1 23zM478 1045l2-2 1-10 1-32-1 0-1 17-1-17-4 0 2 30z" style="fill:#a7d0e4;stroke:#a7d0e4;stroke-width:.8" />
<path d="M97 1426l1 0-3-9 3-13 1-43 1-10 5-11 2-24-1-65 1-35 2 0 1 24-3 65 1 61-1 15-2 24 0 12-2 9 1 0 3-11 2-34 0-76 2-59 0-28-2-19-2 0 0 2-2 23-1 96-2 9-4 19-1 17-1 39-2 13 2 7 0 2zM172 1424l1 2 1 0-3-8-1-7 2-15-1-44 2-44 2-1 1 20 1 65 3 19 0 7-2 8 2 0 1-11-2-26 0-62-4-50-2 5-3 70 0 44-1 15 0 6zM228 1426l1 0-1-43 2-37 1 3 2 27-1 50 2 0 1-37-4-84 1-93 2-63-1-35-2-48-1-13-3-11-2 5 0 34 1 202 1 44-1 64zM228 1289l-2-177 1-34 1-13 2 5 1 17 1 53-2 136 0 8zM120 1424l2 0-2-6-1 6zM401 1424l1 0-1-6 0-7 3-10 1-2 2 14-1 11 2 0 1-6-1-24-1-41-1-15-1-7-1 1-2 16 0 44-3 25zM74 1421l2 0 0-3 2-13 2-55 3-22 2-38 2-70 0-13-2-6-1 0-1 1-6 16-2-15-2-29 1-82-1-26-2 5-4 89 0 44 3-11 3 18 2 24 0 67 2 42 0 30-1 24-1 11-1 1-1-1-3-15-1-24 2-63-1-22-3-10 0 16 2 9 1 16-3 58 0 30 3 4zM81 1314l-2-18-1-46 2-23 1-10 2-3 1 2 1 8 0 31-2 53zM71 1157l-1-13 1-26 0-17 2-2 0 25zM365 1417l1-2 1-8-1-5-1-2-2 0-3 3 0 6 2 6zM363 1413l-1-4 0-3 1-2 2 0 1 5-1 4zM482 1417l2-21 0-2 1-2 2 6 1 20 1 0-1-27-1-10-2-4-1-1-1 7-1 15-1 20 1 0zM244 1413l2 0 1-4-2-4-1 0-1 4zM120 1411l6-15 1-15-5-66-2-15-1-3-1 23 0 56 1 28zM120 1398l0-26 0-26 2 5 1 15 1 19-1 10-1 4zM450 1411l1-2 1-4-1-5-1-1-4 3-2 3 2 4zM448 1407l-1-3 3-2 1 3-1 3zM261 1404l1-13 0-21-1-22-1-3-1 38 1 18zM202 1364l1-29-1-19-1-3-1 35 1 11zM322 1341l1-7 0-14 0-19-1-9-2 22zM527 1329l0-57 0-45-1 17-1 20zM428 1271l3-5 1-11-1-17-2-6-1-2-1 6-1 15 1 15zM260 1269l1-2 1-17-1-20-1-10-2 6 0 12zM90 1229l1-18 0-39 0-11-1-4-2 52zM347 1164l2-5 1-21-1-17-2 0-1 28 0 10zM123 1151l0-26-1-30-2 6 0 11 2 29zM527 1103l0-53-1 21zM307 1078l1-25-1-52-3 0 0 44 2 26zM477 1068l1-1 2-7 2-14 1-45-1 0-1 32-1 10-2 2-1-14-2-30-4 0 1 26zM317 1049l1-16 0-32-1 0zM222 1039l3-2 0-36-5 0 1 33zM206 1032l2 1 1-6 0-26-4 0zM399 1023l2-5 0-17-3 0z" style="fill:#c5dfec;stroke:#c5dfec;stroke-width:.8" />
<path d="M68 1424l2-4 2 6 7 0 2-50 6-95 2 7 1 42 4 31 1 41-2 16 2 8 1 0-2-9 2-13 1-39 1-17 4-19 2-9 1-96 2-23 0-2 2 0 1 15 1 26-2 65 0 73-2 38-3 10 5 0 1-119 2-50 0-33-2-31-1-19-2 2-3 36-2 97-3 20-2 5-1 1-1-2-2-56 1-163-1-11-3-10-1 43-3 43-2 9-4 10-1 2-2-2-1-11-1-19 1-91-2-21-1-12-2-4-4 88 0 32 4-89 2-5 1 26-1 80 2 29 2 17 6-16 1-1 2 2 1 8 0 18-2 65-2 34-3 22-3 63-1 8-2 0-4-13-3-4 0 22zM90 1227l-2-18 2-52 1 6 0 29 0 24zM159 1426l2 0-2-9-1 9zM171 1424l0 2 2 0-4-9 0-6 1-15 0-57 3-57 2-5 4 54 0 58 2 24-1 13 6 0-3-6-2-28 1-66-7-74-2 3 0 11-3 67-1 63-2 17 0 4zM227 1426l1 0-2-35 1-64-1-44-1-197 0-39 2-5 3 11 1 15 2 52-2 183 4 78-1 45 3 0 1-9 2-3 4 4 1 0 3-2 1 1 1 9 4 0-2-19-7-6-4-2 0-1-1-33 0-6-3 2-2-7-1-17-2-43 1-82 2-50 2 6 1 22 2 0 0-7 1-26-1-54-3 49-4-90-1-15-4-19-1-27-2 0 0 36-3 2-1-5-1-33-1 0-1 39-4 44 1 84 2 30 1 6 1-5 2-22 1-91 0-6 2 13 1 140-1 76 2 56-1 29zM244 1413l-1-4 1-4 1 0 2 4-1 4zM263 1426l2-43-1-48-2-24 2-18 0-27-2-46-2-15-2-1-2 29 3 69-1 50-1 37 2 22 2 12zM261 1404l-1-3-1-18 1-38 1 3 2 24-1 20zM260 1268l-2-30 0-12 2-6 1 10 1 20-1 17zM286 1426l1 0-1-30-3-14 0 23 1 19 0 2zM299 1426l3 0 1-4 0-5-2-3-1 0-2 4zM300 1420l0-2 0 2 0 1zM119 1424l1-6 2 6 2 0-2-11 1-5 4-7 1-5 1-39 0-18-3-12-4-50-2-11-1-2-3 10 0 16 1 102 1 32zM120 1411l-1-7-1-30 0-56 1-21 1 3 2 15 5 66-1 15zM363 1424l2 0 3-19-3-11-1-13-1-3-3-4-1 4 1 18-2 11zM363 1417l-3-5 0-5 0-4 3-3 2 0 1 2 1 5-1 8-1 2zM399 1424l1 0-1-9 3-23 0-48 2-12 1-1 1 7 2 19 0 37 1 21-1 9 2 0 1-6-1-24-1-50-1-23-3-20-1 0-2 7-1 16 0 68-3 25zM439 1417l3-5 2-1 4 2 3 0 2-4 0-5-2-8-1-1-6 4-2 0-2-3-1-4-1-1-1 16 1 6zM449 1411l-3-2-2-4 2-3 4-3 1 1 1 5-1 5zM481 1418l1-33 2-9 1 1 2 4 1 6 1 31 1 0 0-22-2-21-1-8-3-8-1 3-2 16-1 40zM520 1398l1-1 1-3-1-7-2 2-2 4 0 3zM139 1392l2-7 1-30-1-13-2-5-2 0-1 2 0 9 1 33zM202 1387l2-2 1-7 1-28-2-45-2-15-1-3-2 18 0 45 1 26 1 8zM202 1363l-1-4-1-15 1-31 1 3 1 21 0 18zM67 1372l3-56-1-16-2-9 1 33zM322 1366l1-4 1-9 1-20-1-48-1-12-1-6-4 14 0 15 2 56 0 9zM322 1340l-2-26 2-22 1 9 0 19 0 14zM392 1358l1-36-1-24-1-14-1 8 0 43zM527 1348l-2-84 2-52-2 17 0 26 0 74zM133 1330l0-19-1 13 0 3zM355 1324l1-11 0-13-3-21-4-50-2 21 1 27 1 14 4 30zM218 1322l1 1 2-3 2-13-3-30-2-15-1 4-2 13-1 13 1 21 1 5zM501 1322l2-17 0-33-1-30-2-13-2 1 0 10 0 54 2 26 0 2zM448 1303l2-1 2-18 3 5 2-8 0-50-1-13-2-4-2 2-2 13-3 24-1 30zM432 1290l2-2 1-16 0-47-2-9-6-9-2 5-2 25 0 39 2 13 2 1 2-2zM428 1270l-2-6 0-14 1-14 1-6 1 2 2 6 1 19-1 9-2 3-1 2zM186 1288l2-3 1-9-1-20-2 10zM250 1261l1 1 1-11 1-66 3-24 1-32-2-30-5-48-3-16-2 22 1 29 5 75-2 66zM276 1260l1 1 0-39-3-26-1-42-2-7-2 17-1 21 2 14 3 17zM404 1246l0-32 0-23-3 34 1 21zM313 1227l1-21 0-29-1-19-3-10-1 1-1 8-1 26 3 33 1 9zM347 1222l2-7 1-20 2-70-1-24-2-8-2-1-6 50 0 11 1 30zM347 1162l-1-3 0-13 1-25 2 1 1 20-1 17-2 5zM396 1190l0-32-1-38-7-54-2-1-1 27-1 72 1 4 3-26 1-9 2 0 4 52zM125 1183l1-15 0-22-5-102 0-43-4 0 0 41 2 83 3 40 1 14zM123 1149l-1-8-2-29 0-11 2-6 1 30zM324 1173l2-2 0-3 2-24-1-24-1-17-2 6-1 27zM179 1151l2-2 1-15 1-31-1-24-1-13-2-1zM104 1145l1-9 1-14-5-75 0-46-7 0 4 46 4 81 1 14zM406 1142l6-22 1-15 3-104-4 0 0 39-6 84zM363 1124l1-27-1-18-1-5-1 27 1 14zM527 1123l0-20-1-32 1-21 0-28-3 19-1 21zM307 1121l2-7 2-54-1-59-3 0 1 52-1 25-1-7-2-26 0-44-3 0 1 61zM477 1086l3-13 3-24 1-48-1 0 0 28-2 20-3 18-1 1-5-41-1-26-7 0 0 56 1 20 0 4 2 0 3-22 1-3 4 26zM317 1083l2-1 0-3 1-13 0-65-2 0 0 32-1 16 0-48-3 0 0 52 1 22zM490 1066l1-15 1-50-2 0-1 52zM376 1062l5-26 1-35-6 0-1 46zM208 1052l1-2 1-8 1-41-2 0-1 32-2-1 0-7-1-24-2 0 2 37 1 12zM162 1045l4-4 1-40-6 0zM399 1044l2-6 1-11 1-26-2 0 0 17-2 5-1-22-1 0 1 33zM89 1039l1-38-4 0 1 33zM504 1038l2-9 1-28-6 0 1 28 1 5zM176 1018l1-4 1-13-2 0z" style="fill:#dbeaf2;stroke:#dbeaf2;stroke-width:.8" />
<path d="M68 1426l4 0-2-6-3 6zM80 1426l1 0 1-47 4-55 1-11 6 87-1 18 1 8 2 0-2-9 2-15-1-41-4-31-1-42-2-7-6 97-2 48zM110 1426l2-113 1-12 2 23 2 100 1 0-2-135 0-15 3-10 1 2 1 6 5 55 3 10 0 7 0 50-2 7-4 6-1 6 2 11 4 0-3-6-1-5 1-3 3-3 1-3 4-33 2 6 2 28 2 4 1-3 5-48 1 2 1 12 2 52 2 0 2-46-3-58-5-36-3 33-2 5-1 0-2-8-2-31-2-1-1 2-2-1-5-15-3-31-2 0-4 11-2-2-3-50 0-34-3-26-4-77-1-58-2 0 0 35 4 82 1 17-2 10-1-3-1-14-4-81-4-46-4 0-1 38-2-5-1-33-5 0-2 33-2 17-1-5-2-11-2-34-2 0-1 58-2 47 0 22 4-88 2 4 3 35-1 89 1 19 1 11 2 2 1-2 4-10 2-9 3-43 1-43 3 10 1 13-1 160 1 42 1 15 1 2 1-1 2-5 3-18 3-106 2-29 2-2 0 3 3 41 0 30-2 61-1 117zM139 1391l-2-13-1-32 0-7 1-2 2 0 2 5 1 13-2 32-1 5zM133 1329l-1-2 0-5 1-11 1 13zM97 1307l-2-28 0-94 2-62 2-2 4 51 1 16-2 91-2 20-1 8-2 1zM78 1185l-1-8-1-16 1-55 2-30 2-16 2-35 1 13 2 41 1 56-3 38-3 11-1 2zM96 1090l-3-13-1-13 0-17 1-11 1 2 2 21 1 24-1 7 0 1zM156 1426l2 0 1-9 2 9 10 0-4-9 0-4 2-17 1-63 3-67 0-11 2-3 7 74-1 68 2 27 3 5 3 0-3-6-1-5 0-11-2-30 2-54 6-43 2-68-2-81-2 86-4 30-2 48-1 5-2-14-5-65 1-17 2-3 1-1 2-8 5-81 2-1 1 7 2-1-1-53-1-6-3 14-1 1-2-6-2-27-1-35-2 0-1 13-1 4 0-17-3 0 1 28 3 42 0 30-1 19-3 28-1 20 1 61-5 141-2 20-1 5-2 1-1 0-4-8-1 3-1 14zM186 1287l0-21 2-10 1 20-1 9-2 3zM179 1149l0-84 2 1 1 13 1 24-1 31-1 15-2 2zM225 1426l2 0-2-32 1-29-2-56 1-76-1-140-2-13 0 6-1 91-2 22-1 5-1-6-2-32-1-82 4-44 1-39-2 0 0 22-2 13-1 0-2-16 0-19-1 0-1 41-1 8-1 2-2-2-1-12-2-37-4 0 0 35 3 9 3 18 3 12 2 15 2 35 1 69-1 15-1 2-2-17 0-45-3-11-1 9-1 32 1 85 0 8-1-1-3-11-2 2-2 58 1 58 1 9 2 5 1 2 2-1 2-3 2 0 3 6 1 1 1-8 0-28 1-21 1-5 2-2 3 2 2 8 2 18 0 33zM201 1385l-2-14 0-29 0-40 2-15 1 3 2 15 2 48-1 26-1 7-2 1zM218 1322l-2-4-1-5-1-23 1-11 2-13 1-4 2 15 3 30-2 14-2 2zM222 1257l-1-19 1-19 2 21zM238 1426l12 0-1-9-1-1-3 2-1 0-4-4-2 2-1 6 0 4zM254 1426l2 0 1-14 2 14 3 0-1-3-2-14-2-22 2-85-3-69 2-29 2 1 2 15 2 46 0 27-2 18 2 22 1 48-2 45 10 0-2-3-4-1-1-2-2-5 3-17 0-134-2-48-6-39 0-54-1-29-6-50-2-43-7 0-1 39-2 11-2 7-1-5-3-38-2 0-1 5-1-3-2-16-1 0 1 27 4 19 1 15 4 90 3-49 1 46-1 41-2 0-1-22-2-6-2 37-1 91 2 47 1 17 2 7 3-2 0 6 1 33 0 1 4 2 7 6zM247 1398l-2-7-1-34-2-22-1-5-1 0-3 6-2-5-1-15-1-72 1-23 1-16 3 15 4 9 0 54 2 20 1 2 6-6 4-27 2 16-2 111-2-8-2 1-2 6-1 1zM250 1261l-1-34 2-66-5-75-1-29 2-22 3 16 5 48 2 30-1 32-3 24-1 66-1 11zM244 1222l-1-2 0-9 1-57 1-7 1 41-1 25zM280 1426l4 0-1-21 0-23 3 12 1 32 2 0-1-48-8-55-1 25zM297 1426l1 0 0-8 2-4 2 1 1 3-1 8 1 0 1-9-1-4-2-2-2 1-2 5-1 5zM360 1424l3 0 0-2-5-15 2-11-1-13 1-7 0-2 4 5 1 15 3 11-3 19 3 0 1-19-1-13-1-31-1-19 0-3-1 0-3 10-2-7-2-63-4-28-1-14-1-38 3-105-1-21-1-2-3 3-2-6-1-8-1 9-2 34-1 4-1 2-2-13-2-26 0-69-5 0-1 35-2 17-1 3-6-15-2-40-1 0 0 65-1 13 0 3-2 1-2-8-1-22 0-52-4 0 1 59-2 54-2 7-5-59-1-61-2 0 0 64-2-64-5 0-2 50 0 2-2 2-1-1-1 5-1 24 1 30 1 7 1-2 3-20 2 14 0 13-4 17 0 30 0 120 2 52 2 7 1 2 2-19 0-36-3-65 5-65 1-63 1-16 3 16 1 15 0 63 6 54 1 49 5 30 3 58 1 3 2 1 3-6 1-7 1-12-4-109-1-7-3 8-2-4 0-8 0-59 2-14 4 51 6-18 3-5 1 5 3 27 4-6 2 0 1 6 2 18 2 52 5 61 3 19 3 26-1 13 3 9zM321 1365l-1-4-1-17-1-48 0-15 4-14 1 6 1 14 1 50-1 20-1 5-1 4zM354 1324l-1-3-4-30-1-15-1-26 2-21 4 50 3 21 0 13zM312 1225l-3-18-2-28 1-24 1-6 1-1 3 10 1 21 0 33-1 15zM347 1220l-5-37-1-30 0-11 6-50 2 1 2 8 1 24-2 70-1 20-1 5-1 2zM324 1172l-1-37 1-26 2-6 1 17 1 24-2 26 0 1-2 2zM314 1129l-1-5-1-8 1-20 2 24 0 7zM391 1424l8 0-1-9 3-23 0-70 1-14 2-7 1 0 3 20 2 25 0 48 1 21-1 9 10 0-1-11 1-19-2-31-2-18-7-40-2-26-1-29 2-64 1-19 4-21 2-19 5-126-4 0-3 104-1 15-6 22 0-18 6-93 0-30-2 0-1 41-5 63-3 70-2-1 0-6-4-85-4-17-3-15-2-26-1-24-3 0-1 35-5 26-1-15 1-46-3 0-2 61 1 17 3 25 1 5 3-21 2-5 1 7 0 46-3 47-1 31 2 21 2 3 1 1 2-2 1 5 5 142 1 9 2-30 1-82-1-9-2-15-3-39-1 1-1-3 1-30 1-11 2 4 1 12 2 29 1 48 3 9 1 13 1 104-2 10-2 5-1 0-1-2-2-10-1 5-1 11 0 11zM392 1357l-2-24 0-41 1-8 1 14 1 24zM402 1246l-1-24 3-31 0 42 0 13zM396 1190l-1-5-4-52-2 0-1 9-3 26-1-4 1-72 1-27 2 1 7 54 1 38zM437 1424l5 0 0-6 2-3 1 0 5 2 1 0 4-10 0-5-3-13 0-58 2-16 4-6 1-7 2-93 0-18-1-12-3 7-2-3-4-22-1 5-5 62-1 13-2 1-3-85-2-29-2 4-4 53-2 3-1-3-4-28-3 46-4 52 3 52 1 9 1 3 3-10 4-7 5 3 2-9 2-31 1-2 2 0 1 5 6 119-1 4-2 3-1 1-2-3-2-44-1-9-1 0-1 15-2 46 0 24zM439 1417l-1-4-1-6 1-16 1 1 1 4 2 3 2 0 6-4 1 1 2 8 0 5-2 4-3 0-4-2-2 1zM448 1302l-2-21 1-28 3-24 2-13 2-2 2 4 1 13 0 50-2 8-3-5-2 18-2 1zM432 1290l-3-2-2 2-2-1-2-13 0-39 2-25 2-5 6 9 2 9 0 47-1 16zM480 1418l1-44 2-12 1-3 3 8 1 8 2 21 0 22 1 0 0-26-2-26-5-25-1-3-2 7-1 18-1 55zM350 1413l2-4 0-2-2-1zM516 1402l5 0 3-2 1-6 0-24 2-4 0-18-2-22 0-71 0-26 2-17 0-17-2 19-2 19 1 126-2 9-2 5-3 4-2 8-2 13zM519 1398l-2-2 0-4 2-3 2-2 1 9-1 1zM67 1346l1-22-1-15zM500 1335l1 0 1-2 2-15 1-68 4-49-1-27-1-15-1-3-4 47-1 4-3-6-1 2-1 17 2 96zM500 1322l-1-22-1-50 0-20 2-1 2 17 1 43-1 25-1 8zM277 1298l1-1 1-5 0-91-3-35-2-43-1-18-2 4-5 44-1 43 1 18 4 8 2 9zM275 1259l-2-43-3-17-2-14 1-21 2-17 2 7 1 42 3 26 0 39zM368 1261l2-11 0-15-1-26-1-17-2 3-1 36 1 26zM125 1214l2-29 2-63 5-52-2-69-7 0 1 4 1 26-1 59-2-31 1-58-4 0 0 43 5 102 0 22-1 15-2-4-1-14-3-40-2-83 0-41-3 0 0 48 4 82 5 79zM153 1165l1-8-1-10 0 10zM365 1166l1-1 0-4 2-71-1-15-5-36-3 27 0 26 1 40zM363 1123l-1-8-1-14 1-27 1 5 1 18 0 15zM527 1141l0-18-4-61 1-21 3-19 0-21-6 0 0 67zM467 1108l4-27 2 2 4 24 4-30 3-15 1 0 3 18 2 4 1 0 2-14 0-69-1 0-1 50-1 15-1-13 1-52-3 0 0 20-1-20-2 0-1 48-3 24-3 13-2-4-4-26-1 3-3 22-2 0 0-2-1-20 0-58-1 0-1 82 1 14 2 9zM168 1093l1-34 0-58-2 0-1 40-4 4-1-44-3 0 1 56 1 22 0 4 2 2 1-3 2-1zM506 1071l1-6 1-14 1-50-2 0-1 28-2 9-1-4-1-5-1-28-1 0 1 47 3 19zM398 1065l1-1 3-15 2-48-1 0-1 26-1 11-2 6-1-10-1-33-1 0 0 50zM435 1051l1-7 0-43-2 0zM346 1037l1-36-2 0zM270 1035l1-3 1-31-3 0z" style="fill:#edf2f5;stroke:#edf2f5;stroke-width:.8" />
<path d="M81 1426l1 0 4-76 1-6 4 74 1 8 1 0-1-9 1-17-6-87-1 11-4 59-1 43zM112 1424l1-60 3 60 1 0-2-100-2-23-2 23-1 102 2 0zM130 1426l1-13 2-9 4 17 2 2 1-1 2-7 3-33 1 5 1 37 2 0-2-52-1-12-1-2-5 48-1 3-2-4-2-28-2-6-4 33-1 3-2 1-2 3 1 7 3 6zM153 1426l3 0 0-24 1-11 1-3 4 8 1 0 2-1 1-5 2-20 5-141-1-61 1-20 3-28 1-19 0-30-3-42-1-28-4 0 0 58-1 34-3-12-2 1-1 3-2-2-1-23-1-59-2 0 2 102 1 7 3 12 2 39 4 9 3 61 0 35-3 72-2 24-1 5-3-6-2 2-1 0-3-6-1-7-3-50-3-17-4-33-2 8-3 37-1 4-2-12 0-30 2-33 1-36 3-33-1-13-2-9-1-5-1 5-3 55-1 69-2 7-2-3-2-15 0-30 4-91 1-15 2-4 2 5 1-6 0-28-3-46 0-30-3 0 2 69-5 52-2 63-2 29-2-4-5-79-4-82 0-48-2 0 3 139 4 24 2 30-1 20-3 12-1 2-2-6-2-28 2-54-2-7-2-11-5-73 0-48-2 0 1 58 4 77 3 26 0 34 3 50 2 2 4-11 2 0 3 31 5 15 2 1 1-2 2 1 2 31 2 8 1 0 2-5 3-33 1 7 5 40 2 50-2 43zM172 1107l0-34 1-2 1 25-1 11zM189 1425l3 1-5-8 0-7 1-4 4-8 3-7 1-1 6 7 4-2 2 1 4 7 2-2 1-10 0-37 1-11 2-2 3 6 2 13 1 11-2 24 1 30 2 0-1-32 0-33-2-18-2-8-3-2-2 2-1 5-1 21 0 28-1 8-1-1-3-6-2 0-2 3-2 1-1-2-2-5-1-9-1-58 2-58 2-2 3 11 1 1 0-8-1-85 1-32 1-9 3 11 0 45 2 17 1-2 1-15-1-69-2-35-2-15-3-12-3-18-3-9 0-35-10 0-1 24-3 21-2-3-1-13-1-29-1 0 1 35 2 27 2 6 1-1 3-14 2 14 0 45-2 1-1-7-2 1-5 81-2 8-3 3-1 14 4 67 3 16 1-5 2-48 4-30 2-86 2 81-2 68-6 43-2 54 2 30 0 11 1 5zM187 1385l-1-4-1-11 1-30 2-22 4-28 3-50 1 9 1 17-2 79-4 29-2 9-1 3zM182 1266l-1-3-1-15 1-10 1-4zM201 1212l-3-5-2-6-2-33 0-59 1-53 4 24 3-2 2 4 1 14-3 107zM185 1207l-1-8 0-18 1-24 1-11 1 37-1 16zM211 1426l6 0-3-5-2 1zM257 1426l2 0-2-14-1 14zM273 1426l7 0-1-80 1-23 4 35 3 18 2 50 1 0-1-21 2-31 0-4 5 11 0-9 2-69-2-70 3-32 1-7 1-1 3 15 4 36 2 122 0 12 1 8 2-40 1-10 2 8 1 30 2 8 1 2 2-1 4-3 2-4 1-6 0-13-3-50-1-54 1-24 1-9 2-3 1 2 1 8 2 31 1 10 3-22 2-13 1-4 2 0 2 9 6 123 0 33-2 13-1 19 5 0 0-8 3-8 1 2 2 5 0 7 2 0 0-4-3-11 1-13-3-26-3-19-5-61-2-52-2-18-1-6-2 0-4 6-3-27-1-5-3 5-6 18-4-51-2 14 0 59 0 8 2 4 3-8 1 7 4 109-1 12-1 7-3 6-2-1-1-3-3-58-5-30-1-49-6-54 0-63-1-15-3-16-1 16-1 63-5 63 3 87-1 30-1 5-1-2-2-11-1-24-2-137 1-35 4-19 0-13-2-14-3 20-1 2-1-7-1-29 1-25 1-5 1 1 2-2 0-2 2-50-2 0 0 16-2 11-1-3-2-9-1-15-12 0-1 31-1 3-1-34-2 0-1 65 2 35-1 12-4 16 0 10-1-43-3-56-1-39-3 0-1 20-2-20-2 0 1 35 6 45 1 18 1 80 6 37 1 24 1 39 0 119-3 17 2 5 1 2 4 1zM268 1418l-2-3 0-6 2-4 3-1 1-4-3-22-1-25 0-60 2-44 1 3 5 68 1 63-1 34-2 3zM350 1411l0-5 2 1 0 3-2 3zM354 1402l-1-6 0-2 2-1 0 5zM285 1342l-4-63 0-22 2-11 4 67 0 27 0 4zM277 1298l-5-67-2-9-4-8-1-18 1-43 5-44 2-4 1 18 2 43 3 35 0 91-1 5zM279 1138l-2-20 0-41 0-9 4-21 2 28 0 39-2 20-1 5zM296 1426l1-9 3-6 1 0 3 4 0 5-1 6 2 0 0-11-1-4-3-3-2 1-3 6-1 7 0 4zM310 1426l10 0-3-4-3-3-3-5-1 6zM368 1424l1 0 0-7 2-15-1-11-2-101 2-13 2-4 1 2 1 6 2 24 1 73 1 6 1-2 2-29-2-74 2-16 1-2 2 11 4 68 1 49-1 35 2 0 0-15 2-12 1 7 2 5 1 0 2-3 1-8 0-106-1-15-3-9-2-61-2-28-2-4-1 11-1 26 0 6 1 1 1-1 3 39 3 20 0 73-3 43-1-9-6-144 0-3-2 2-1-1-1-3-3-19 1-33 3-47 0-46-1-7-2 5-3 21-1-5-3-25-1-17 2-61-3 0-1 32-1 12-2-3-1-13-1-28-3 0-1 24-2 16-3-7-3 14-2 2-1-17 0-32-2 0-1 36-1-36-2 0 1 63-1 22-1 0-2-31-1-54-1 0 0 67 2 28 2 13 1-2 0-2 3-36 1-9 2 11 1 3 3-3 1 8-2 122 1 32 1 18 4 28 2 63 2 7 3-10 1 0 1 7 1 46 1 13zM396 1400l-1-9 1-39 2 7 0 30 0 8-2 3zM362 1281l-7-46-1-19 1-62 1-25 2-1 5 66 0 69zM367 1259l-1-11-1-24 1-29 2-3 1 19 1 26-1 18-1 6zM373 1205l-1-11-2-39 1-19 1-12 2 14 1 24 0 38-2 7zM365 1164l-5-32-2-42 1-28 3-23 5 36 1 15-2 72 0 3-1 1zM421 1424l1 0-2-7 0-10 4-9 3-2 2 1 2 1 3 9-1 10-3 7 5 0 1-65 2-20 1 0 1 9 2 44 2 3 1-1 2-3 1-4-6-113-1-11-2 0-1 2-3 33-1 7-5-3-4 7-3 10-1-5-4-61 4-48 3-48 4 28 1 3 2-3 4-53 2-4 2 29 3 85 2-1 1-13 5-64 1-3 4 22 2 3 3-7 1 12 0 18-2 87-1 11-1 4-3 4-2 22 0 52 3 16-1 6-3 6-1 0-5-2-1 0-2 3 0 6 3 0 0-2 2 0 1 2 4 0 5-15 1 4 1 11 5 0 0-56-2-68 2-91-2-73 2-6 3 6 1-5 3-28 2 0 1 13 1 19 0 66 2 17 1 0 2-32-1-79 2-21 2-7 1-2 7 24 1 13 3 54-1 65 3 93 1 14 2 7 1 0 3-8 2-21 0-59 4-56 1-24-2-28-3-22-5 49-1-6-2-68-3-25-1-19 0-59-1 0 0 69-2 14-1 0-2-4-3-18-1 0-3 15-4 30-4-24-2-2-4 27-2-2-1-7-2-15 1-83-1 0-2 65-1 59-1 23-1 8-2 3-4-20-1-3-4 45-1 9-1 0-4-63 1-57-3-45 0-24-2 0 0 43-1 7-1-50-2 0 2 102-2 42-1 15-2 5-1-4-1-10-3-52 0-4-2 0-1 1-1-4 0-26 2-65-2 0-5 126-2 19-4 21-1 19-2 65 1 28 2 26 7 40 2 16 2 33-1 21 1 7zM456 1398l-1-4-1-7 1-32 2-9 1 45-1 7 0 2zM431 1387l-3-16-3-3-1-13 3-26 2-11 2 0 3 11 0 21 0 30-2 8zM500 1335l-2-19-2-96 1-17 1-2 3 6 1-4 4-47 1 3 1 15 1 27-4 49-1 68-2 15-1 2zM409 1270l-1-26 1-29 2 5 0 30 0 21zM418 1201l-2-16 0-24 1-21 2-27 2 20 0 29-2 34zM478 1418l1 0 1-63 3-17 1 3 5 22 2 28 0 27 1 0 0-24-2-39-6-35-1-4-2-1-3 5-1 9 1 50-1 39zM509 1418l4 0-1-5 1-7 1-1 9-1 1-2 3-18 0-18-2 4 0 24-1 6-3 2-5 0-2-2-1-4 3-16 1-3 4-5 2-6 1-13-1-118 1-19 3-21 0-54-6-73 0-67-2 0 0 69 4 39 4 57-1 17-4 39 1 70 0 39-1 19-1 9-5 10-3 9-3 7-2 33zM247 1398l1 1 1-1 2-6 2-1 2 8 2-111-2-16-4 27-6 6-1-2-2-20 0-54-4-9-3-15-1 16-1 23 1 72 1 15 2 5 3-6 1 0 1 5 2 22 1 34zM248 1376l-1-11 0-17 2-11 2-8 2 2 0 6 0 18 0 8zM237 1313l-2-8 0-31 0-30 2-2 1 15 1 28-1 20zM97 1308l2-1 1-8 2-20 2-93-1-14-4-51-2 2-2 62 0 96zM98 1276l-1-16 0-59 2-41 2 14 1 27-2 62zM222 1258l2-20-2-19-1 19zM244 1222l1-9 1-27-1-39-1 7-2 58 1 8zM79 1185l1 1 1-2 3-11 3-38-1-56-2-41-1-13-2 35-2 16-2 30-1 55 1 16zM79 1170l-1-19 1-34 1-10 3-7 1 0 1 12 0 32-2 21-2 6-1 1zM155 1180l2-8 0-19 0-30-1-3-1-2-3 5-2 8-1 15 2 22 2 11zM153 1164l0-17 1 10zM399 1174l2 1 1-18 2-50 5-69 1-37-6 0-2 48-3 15-1 1-2-14 0-50-1 0-1 39-1 8-1 5-1-3-2-14-2-35-2 0 1 24 2 26 3 15 1 7 3 6 0 5zM401 1133l-2-2 0-24 0-16 2-7 1 2 0 4zM314 1129l1-4 0-5-2-24-1 20 1 8zM67 1105l2-43 1-61-3 0zM506 1099l1-7 2-22 1-69-1 0-1 50-1 14-1 6-2-4-3-19-1-47-1 0 1 56zM96 1091l1-10-1-24-2-19-1-2-1 11 0 17 1 13zM126 1090l1-61-1-24-1-4-1 58zM299 1065l0-64-2 0zM238 1058l2-7 2-11 1-39-2 0-1 23-2 1-1-24-9 0 2 16 1 3 1-5 2 0 3 38zM329 1056l1-3 2-17 1-35-2 0 0 26-2 10-3-10-1-26-4 0 2 40zM77 1051l2-17 2-33-3 0-1 14-1 7-2-21-2 0 2 34 2 11zM214 1036l1 0 2-13 0-22-5 0 0 19zM143 1024l2-3 1-20-3 0zM487 1021l0-20-1 0z" style="fill:#f9f0eb;stroke:#f9f0eb;stroke-width:.8" />
<path d="M83 1426l1 0 2-46 1-3 3 43 0 6 2 0-5-82-1 6-2 28-2 44 0 4zM112 1426l4-2-3-60zM132 1426l7 0 1-2 3 0 2-16 1 16 1 0-1-37-1-5-3 33-2 7-1 1-2-2-4-17-2 13 0 9zM191 1424l1 2 2 0-5-8-1-3 0-4 8-14 6 4 4-1 3 4 3 5 0 6-3 11 2 0 1-4 2-1 3 5 6 0-1-34 2-29-3-13-3-8-2 2-1 11 0 37-1 10-2 2-4-7-2-1-4 2-6-7-1 1-3 7-4 8-1 4 0 7zM219 1422l-3-5-1-6 1-17-1-31 2-12 1-2 1 1 2 5 2 13-2 24 0 26-1 4zM291 1426l1 0 0-2-1-15 0-14 2-3 3 6 1 1 2-1 1-6-1-35 1-54-2-61 1-18 2-12 2 2 1 8 2 26 1 111 2 45-2 8-4-7-3-2-1 2-5 12-1 9 2 0 0-8 2-6 3-4 1 0 3 3 1 4 0 11 5 0 1-12 3 5 3 3 3 4 1 0-7-15-1-7 1-12 2-10 3 5 1 1 7-3 3-4 3-9 2-17 2-89 1-16 2-9 2-1 1 10 5 94 0 50-2 32 1 0 1-4 0-15 2-13-1-50-6-109-1-6-2 0-1 4-2 13-3 22-1-10-2-31-1-8-1-2-2 3-1 9-1 24 1 54 3 50 0 13-1 6-2 4-4 3-2 1-1-2-2-8-1-30-2-8-1 10-2 40-1-8 0-12-2-122-4-36-3-15-1 1-1 7-3 26 0 23 2 52-1 55-1 24-5-11-1 8-1 31 1 17zM330 1333l-1-7-2-17 0-24 0-34 0-7 2-6 1 6 1 9 1 49 0 27 0 5zM353 1426l2 0-1-6 1-5 1 1 1 2-1 6 2 0 0-2 0-7-2-3-1-2-3 8 0 8zM369 1423l0 1 4 0-2-2-1-4 0-5 2-7 3-3 4-1 2-4 2-39 0-50 1 22 0 2 1 1 1 16 1 24 0 50 1 0 1-35-1-49-4-63-1-11-1-5-1 2-1 1-1 13 2 76-2 29-1 2-1-6-1-73-2-24-1-6-1-2-2 4-2 13 2 101 1 11-2 13zM373 1366l-1-4-1-35 0-16 1-10 1 4 2 32-1 20zM422 1424l3 0-3-6-1-9 2-5 2-3 3 0 1 1 3 7 0 8-4 7 2 0 3-7 1-6-1-7-2-6-3-2-3 0-1 2-4 9 0 10zM445 1424l3 0-1-2-2 0zM452 1424l3 0 0-4 2 1 0 3 2 0-1-11-1-4-4 9-1 6zM465 1424l1 0 1-46-3-86 2-115 1-11 2-11 2-23 2-4 0 23-2 37 0 26 2 13 4 16 1 4 1-5 2-48 0-85 2-19 1-2 1 6 5 24 2 18 1 28 0 86 2 40 2 47 1 19 2 6 1 1 2-4 4-24 1-72 3-45 2-8 1 2 5 11 1 14 2 52-1 44-1 13-1 6-6 13-2 2-1-1-2 4-2 48 2 0 0-3 1-19 1-13 3-5 3-9 4-8 1-6 2-48-1-85 4-39 1-19-4-59-4-32 0-72-3 0 1 74 2 22 2 12 2 11 2 35-1 20-1 11-2 4-1-7-1-36-2-12-1 2-3 13-2 1-2-26-1-18 3-43 1-63-2 0-1 69-2 22-1 7-6-42-1-56-2 0 0 49-1-9-1-40-1 0 0 59 1 19 3 25 2 68 1 6 5-49 3 24 2 28-1 24-4 54 0 63-2 15-3 10-1 0-2-7-1-18-3-93 1-68-3-45-1-13-7-26-1 2-2 11-2 24 1 71-2 33-1 0-2-17 0-66-1-19-1-13-2 0-3 28-1 5-3-6-2 4 2 75-2 93 2 66 0 56zM501 1129l0-29 1 16zM473 1424l1 0 0-4 1-2 2 0 1-39-1-50 1-9 3-5 2 1 1 4 5 33 3 39 0 26 1 0 0-24-2-46-2-19-4-20-2-7-5-6-4 0-1 0-2 4-2 18 1 38 1 4 2-5 1 0 2 19-1 23-4 21 0 6zM268 1419l6 1 2-3 1-36-1-61-5-68-1-3-2 44 0 60 1 25 3 22-1 4-4 3-1 4 0 6zM269 1417l-2-2 0-4 1-2 3-1 2 1 1 4-1 3zM274 1379l-1-1-2-9-1-23 0-42 1-16 2 13 2 43 0 26-1 10zM513 1418l4 0-3-3 0-6 5-3 4 0 4-4 0-18-3 18-1 2-9 1-2 2 0 6zM355 1402l0-4 0-5-2 1 0 2zM396 1400l2-3 0-10 0-28-2-7-1 39 0 5zM457 1400l1-5 0-6-1-43-2 9-1 34 1 7zM431 1387l1 1 2-8 0-32 0-19-3-11-2 0-2 13-3 26 1 11 3 3zM188 1386l1-3 2-9 4-29 2-79-1-17-1-9-3 50-4 28-2 24-1 30 1 11zM188 1368l-1-11 0-17 2-19 2-5 1 11-1 25-2 16zM248 1376l5-13 0-8 0-18 0-6-2-2-2 8-2 11 0 17zM165 1367l1-5 2-24 3-72 0-35-3-61-4-9-2-39-3-12-1-7-2-102-10 0-1 20-2 3 0-23-2 0 1 43 1 13 0 2 2-5 3-14 2 5 3 1 2 18 0 19-2 13-1 3-2-1-1-3-1-1-3 16-2 2-1-5-1-11-1-30-3-35-1-30-1 0 0 30 3 46 0 28-1 6-2-5-2 4-1 15-4 91 0 30 2 15 2 3 2-7 1-69 3-55 1-5 1 5 2 9 1 13-3 33-1 36-2 33 0 30 2 12 1-4 3-37 2-8 4 33 3 17 3 50 1 7 3 6 1 0 2-2zM157 1316l-1-3 0-13 0-11 2-9 0 16zM166 1305l-2-35-2-10-2 1 0-2 0-8 1-40 4-16 1 1 2 11 1 37 0 30-1 25zM149 1255l-3-24-1-4-3 4 0 3-1-14 0-32 2-13 3-10 2 1 1 4 7 29-4 26-2 28zM132 1235l-1-15 1-26zM153 1179l-3-17-1-20 2-15 4-9 1 2 1 5 0 37-1 14-1 4zM133 1166l0-20 2-4zM286 1343l1 1 0-4 0-27-4-67-2 11 0 22 3 50zM237 1313l2-10 0-20-1-26-1-15-2 2 0 32 0 29zM362 1283l1-22 0-67-5-66-2 1-1 25-1 62 1 19zM359 1235l-3-15-1-19 1-37 2-5 2 24 1 22 0 28-1 3zM99 1277l1-18 2-58-1-27-2-14-2 28 0 62 0 16zM409 1271l2 0 0-21 0-30-2-5-1 29zM182 1267l0-33-1 4-1 12 1 13zM116 1228l1-2 3-12 1-20-2-30-4-24-3-139-7 0 0 46 4 59 1 19 2 8 2 9-2 52 2 28zM116 1214l-2-9-1-15 1-13 2-6 1 0 2 12 1 15-1 11-2 5zM110 1084l0-32 1 25zM201 1213l1-10 3-107-1-14-2-4-3 2-4-24-1 53 0 59 2 33 2 6zM198 1181l-2-12 0-29 0-30 2-4 3 10 0 20 0 37-2 10zM185 1207l1-8 1-16-1-37-1 11-1 26 0 16zM373 1207l2-9 0-37-1-26-2-11-1 14-1 19 2 37zM418 1203l1-7 2-35 0-30-2-18-2 27-1 21 0 25zM444 1190l1 0 1-9 4-45 1 3 4 20 2-3 1-8 1-23 1-59 2-65-2 0 0 18-2 17 0 71-1 21-2 10-1-2-2-14-2-49 0-16 5-39 0-17-6 0-1 26-1 8-2 1-3-3-1-7-2-25-1 0 0 24 3 45-1 57zM445 1155l-1-3-1-19 1-25 1 2 1 17 0 19-1 11zM80 1172l1-1 2-6 2-25 0-31-1-9-1 0-3 7-2 15 0 33 1 10zM429 1165l2-5 1-15 2-42-2-102-10 0-2 65 0 24 1 6 1-1 2 0 0 4 3 52 1 10zM429 1140l-1-12-1-36 2-46 2 10 1 45-1 34zM263 1139l0-10 4-16 1-12-2-35 1-65-2 0-1 28-1 12-2-8-1-32-2 0 1 39 3 56zM280 1139l2-8 1-22-1-38-1-24-4 21-1 11 1 48 1 11zM401 1133l1-43 0-4-1-2-2 7 0 16 0 24zM172 1107l1 0 1-11-1-25-1 2zM342 1086l1 0 1-22-1-63-4 0 1 54zM392 1053l1-5 1-8 1-39-2 0-1 32-1 0-2-13 0-19-2 0 2 35 2 14zM350 1050l2-2 3-14 3 7 2-16 1-24-3 0 0 6-1-6-8 0 0 32zM185 1046l3-21 1-24-2 0-2 24-2-2 0-22-2 0 1 29 1 13zM368 1045l1-12 1-32-6 0 1 28 1 13zM329 1037l2-10 0-26-1 0-1 17-2-17-2 0 1 26zM288 1028l2-11 0-16-6 0 1 15 2 9zM238 1025l2-1 1-23-4 0zM76 1022l1-7 1-14-4 0zM254 1021l1-20-3 0z" style="fill:#fbe3d4;stroke:#fbe3d4;stroke-width:.8" />
<path d="M84 1426l2 0 1-4 0 4 3 0-3-49-1 3-2 23 0 23zM194 1426l1 0-5-8-1-5 6-10 3-2 4 2 4 0 3 4 2 8-1 5-4 5-3 1 6 0 3-8 0-5-3-9-3-4-4 1-6-4-7 12-1 4 0 4zM293 1426l1-9 5-12 1-2 3 2 4 7 2-8-2-45-1-111-2-26-1-8-2-2-2 12-1 18 2 61-1 54 1 35-1 6-2 1-1-1-3-6-2 3 0 16zM293 1411l0-8 1 2 0 3zM304 1389l0-20 1 18zM304 1283l-3-17 0-16 0-17 0-3 2-1 2 22zM322 1426l-7-19 0-7 1-8 1-1 3 0 7-1 2-1 7-8 1-5 0-87 1-25 2-12 2 1 1 12 3 64 0 67-1 30 1 0 0-2 2-30 0-46-4-95-2-13-2 1-1 5-2 17-2 94-3 17-2 7-4 5-6 2-1-1-3-5-2 10-1 12 1 7zM355 1426l1-2 1-4-1-4-1-1-1 5zM145 1424l1 0-1-16-2 16zM219 1423l2-5 0-26 2-24-2-13-2-5-1-1-1 2-2 12 1 31-1 17 1 6zM218 1409l0-15-2-26 1-10 1-4 1 1 2 4 1 9-1 10-3 16zM372 1423l8 1-5-2-3-2-1-3 0-4 1-4 3-3 1-1 5 2 1-1 2-8 1-10 0 36 2 0 0-50-1-24-1-16-1-1 0-2-1-22 0 48-2 39-1 6-5 1-4 4-1 10 0 4zM424 1423l1 1 3 0 3-4 1-5-1-10-2-3-2-2-3 2-3 7 0 8zM425 1422l-2-4-1-7 2-6 3-2 3 2 1 8-2 7-1 2zM455 1424l2 0 0-3-2-1 0 4zM467 1424l4 0 1-11 3-11 1-10 0-22-2-13 0-2-1 0-2 5-1-3-1-5 1-45 1-7 2-4 5 0 5 6 6 25 2 34 2 35 0 21 0 1 1 0 0-7 1-17-3-70-2-13-3-7-5-17-1-13 4-112 1-20 2-8 2 6 1 21 0 92 3 44 1 42 3 37 5 13 1 8 1 12 0 9 1 0 1-3 1-45 2-4 1 1 2-2 6-13 1-6 1-14 1-43-2-52-1-14-5-11-1-2-2 8-3 39 0 65-1 17-5 22-1 2-1-1-2-6-2-23-1-41-3-46 0-104-2-24-6-30-1 2-2 15 0 100-1 28-1 11-1 3-1-4-4-16-2-13 0-26 2-37 0-23-2 4-2 23-2 11-1 11-2 113 3 84zM512 1348l-1-2-1-9-1-60 2-36 2-7 1-1 3 6 2 9 1 26 1 29-1 21-1 10-5 11zM270 1417l3-1 1-3-1-4-2-1-3 1-1 2 0 4zM516 1418l1 0 7 0-7-1-2-4 2-4 6-1 4-3 0-5-3 5-7 2-3 2 0 6zM274 1380l1-15 0-26-4-51-1 16 0 45 1 20 2 9zM188 1369l1-1 2-16 1-25-1-11-2 5-2 19 0 17zM373 1368l2-15 0-20-2-28-1-4-1 12 0 18 1 31zM330 1333l2 1 0-5 0-29-1-47-1-9-1-6-2 6 0 7 0 34 0 24 2 17zM329 1303l-1-22 1-18 1 15 0 14 0 10-1 2zM158 1317l0-23 0-14-2 9 0 13 0 11zM166 1307l2-8 1-25 0-30-1-37-2-11-1-1-4 16-1 40 0 8 0 2 2-1 2 12zM149 1256l1-3 2-29 4-25-7-29-1-4-2-1-3 10-2 13 0 32 1 14 0-3 3-4 1 4zM149 1224l-6-11-1-10 2-18 2-8 2-1 3 9 2 14-2 17zM132 1235l0-41-1 26zM359 1235l1 1 1-3 0-28-1-22-2-24-2 5-1 37 1 19zM116 1215l1-1 2-5 1-11-1-15-2-12-1 0-2 6-1 13 1 15zM116 1205l-2-11 2-12 1 0 2 12-2 11zM521 1190l2-4 1-11 0-32-1-23-2-11-2-12-2-18-1-78-4 0-1 63-3 43 1 18 2 26 2-1 3-13 1-2 2 12 1 36zM511 1125l-1-22 3-34 2 25 1 13-2 14-1 6zM199 1183l2-13 0-41-1-15-2-8-2 4 0 6 0 33 1 23 1 9zM133 1168l2-26-2 4zM445 1157l1-32-1-15-1-2-1 28 1 16zM429 1141l2-6 1-34-1-45-2-10-1 22-1 26 1 34zM455 1138l2-24 1-76 2-19 0-18-5 0 0 17-5 46 0 24 1 28 3 20zM454 1112l-2-33 0-13 2-9 1 5 1 24-1 26zM501 1129l1-13-1-16zM143 1112l2-2 3-16 1 1 1 3 2 1 1-3 2-13 0-24-2-13-3-1-2-5-5 19-1-13-1-45-1 0-1 28-2-28-1 0 1 30 3 35 1 30 1 11zM110 1085l1-8-1-25zM497 1050l0-49-2 0 1 40zM263 1041l1-12 1-28-5 0 1 32zM444 1035l1 1 2-1 1-4 1-30-10 0 2 25zM391 1033l1 0 0-4 1-28-2 0 0 4 0-4-2 0 0 19zM185 1025l2-24-4 0 0 22zM329 1018l1-17-3 0z" style="fill:#fbd0b9;stroke:#fbd0b9;stroke-width:.8" />
<path d="M87 1426l0-4-1 4zM195 1425l10 1 3-2 2-6 1-5-2-6-3-4-4 0-4-2-2 0-5 8-2 4 0 4zM195 1424l-4-7-1-4 2-4 3-4 3-2 8 3 3 3 0 4-1 8-2 2-7 3-1 0zM323 1426l1 0-7-19-1-5 1-6 5-3 5 1 6-3 4 0 3-2 3 2 1 5 0 21-1 9 2 0 0-4 1-26 0-61-3-70-1-12-2-1-2 12-1 23 0 91-1 3-7 8-9 2-3 0-1 1-1 6 1 13zM341 1370l-2-13-1-43 0-33 2-17 2 2 1 15 2 58-1 24-1 6-1 2zM375 1422l5 2 5 0 0-36-1 10-2 8-1 1-5-2-1 1-2 1-2 4 0 7 1 2zM375 1420l-3-3 0-4 1-4 3-1 3 3 1 6-2 3zM425 1422l3 0 1-2 2-7-1-8-3-2-3 2-2 6 1 7zM425 1420l-2-3 0-6 1-4 3-2 3 2 0 8-2 5zM494 1418l1 0 0-7 1-6 2-6 3 3 2 4 1 7-1 5 2 0 0-9-2-18-4-10-1-7-3-34-1-43-3-44 0-92-1-21-2-6-2 8-1 20-4 112 1 13 5 17 3 7 2 13 3 70-1 17zM487 1289l-3-12 0-14 3-84 1-19 2 10 0 11 0 95-1 13-1 0zM519 1417l8 1 0-1-4-2-4 0-1-2 1-2 1-1 3 1 4-1 0-5-4 3-4 0-3 3 0 4zM293 1411l1-6-1-2zM218 1410l0-16 3-16 1-10-1-9-2-4-1-1-2 5 0 11 2 22zM218 1379l-1-11 1-9 1 0 2 4 0 7-2 10-1 1zM513 1348l6-14 1-10 1-22-1-30-1-25-2-8-3-6-1 1-2 7-2 38 1 58 1 10zM515 1316l-2-11-2-24 2-21 1-5 2 0 1 4 2 13 0 22-1 17-1 4-1 2zM329 1304l1-2 0-12-1-27-1 18zM304 1285l1-34-2-22-2 1 0 3 0 18 0 15zM149 1224l3-15 1-11-3-15-2-7-2 1-2 8-2 18 1 10 5 10zM148 1214l-3-5-1-10 1-11 1-3 2-2 2 5 1 10-1 11-1 5zM116 1206l1-1 2-11-2-12-1 0-2 12zM511 1126l2 1 1-6 2-14-1-13-2-25-3 34zM454 1112l1 0 1-26-1-24-1-5-2 9 0 13zM139 1029l1-28-3 0z" style="fill:#f7b799;stroke:#f7b799;stroke-width:.8" />
<path d="M196 1425l3 1 7-3 2-3 2-5-1-6-3-3-8-3-5 4-2 4-1 4 2 5zM198 1424l-5-4-2-5 3-6 4-4 8 3 2 3 1 4-3 6-7 3zM324 1426l3 0-4-5-4-10-1-6 1-5 4-4 4 1 6-2 3 1 4 4 2 4 1 5-1 10-8 7 9-1 1-8 1-19-2-7-1-2-5 2-4 0-6 3-4-1-6 3-1 6 1 5zM375 1420l3 0 2-3 0-2-1-4-3-3-3 1-1 4 0 4zM373 1417l0-5 2-2 1 0 2 3 0 4-2 1-1 0zM425 1420l3 0 2-5 0-8-3-2-3 2-1 4 0 6zM425 1418l-2-3 0-4 2-4 2-1 1 1 1 2 1 6-2 4-1 0zM496 1418l0-9 1-4 1-1 2 0 2 5-1 9 2 0 0-1 0-12-3-6-2 0-1 1-2 7 0 8zM526 1417l1 0 0-7-8 1-1 2 1 2 4 0zM218 1381l1-1 1-2 1-10-1-7-1-2-1 0-1 11zM218 1372l0-6 1-1 0 9zM342 1371l1-2 2-9 0-25-2-56-1-13-2-2-1 8-1 13 0 39 1 34 1 11zM341 1352l-2-13 0-25 0-23 1-14 2 5 2 42-1 21-1 8zM516 1317l1-2 2-7 0-16 0-20-2-13-1-4-2 0-1 5-2 23 2 25 1 7zM487 1289l1 0 1-2 1-11 0-95 0-11-2-10-1 19-3 84 0 14zM149 1214l2-7 0-9-1-10-2-5-2 2-1 5-1 11 2 10 2 3zM147 1205l-1-7 2-7 1 2 0 6 0 6z" style="fill:#f09c7b;stroke:#f09c7b;stroke-width:.8" />
<path d="M198 1424l8-3 3-6-1-4-2-3-8-3-4 4-3 6 2 5zM196 1422l-3-4-1-5 3-5 1-1 3 0 7 4 1 6-2 3-4 2-3 1zM326 1425l1 1 7 0 8-8 1-7-1-8-3-4-5-4-7 2-4-1-3 2-1 2-1 5 1 6 4 10zM327 1424l-5-9-2-8 0-4 2-3 1-1 10-1 3 2 3 5 1 4 0 6-3 5-4 4-3 2zM425 1419l2 0 1 0 2-4-1-6-1-2-1-1-2 1-2 4 0 4zM425 1417l-1-6 1-2 2-1 1 1 1 2 0 4-1 2-1 1zM375 1418l1 0 2-3 0-3-2-2-1 0-2 3 0 3zM497 1418l1 0-1-3 0-4 1-4 2 1 1 3-1 7 1 0 1-3-1-8-1-3-2 0-1 1-1 6 0 6 0 1zM218 1373l1 1 0-9-1 1zM342 1353l1-9 0-26-1-36-2-5-1 14 0 33 1 26zM340 1324l0-25 2 8 0 11 0 7-2 0zM148 1206l1-1 0-6 0-6-1-2-2 7z" style="fill:#e17860;stroke:#e17860;stroke-width:.8" />
<path d="M327 1424l3 2 3-2 4-4 3-5 0-6-1-4-3-5-3-2-10 1-1 1-2 3 0 4 2 8 1 3zM328 1422l-5-7-1-10 1-3 10-1 3 3 1 3 1 8-2 3-3 4-3 1zM196 1422l2 1 3-1 4-2 2-3-1-6-7-4-3 0-1 1-3 5 1 5zM196 1420l-3-5 2-5 1-2 3 0 6 3 1 4-1 3-6 4zM425 1417l2 1 1-1 1-2 0-4-1-2-1-1-2 1-1 2zM426 1415l-1-2 2-3 1 3-1 2zM497 1417l1 1 2 0 1-3-1-6-2-2-1 4zM498 1415l0-4 1 2zM340 1325l2 0 0-9 0-9-2-8z" style="fill:#d25849;stroke:#d25849;stroke-width:.8" />
<path d="M329 1423l3 0 2-3 4-7-1-8-3-3-2-1-9 1-2 3 2 10zM328 1420l-4-5-1-8 1-2 5-2 3 0 3 2 1 4 0 4-1 4-2 3-3 1zM196 1421l2 1 3-1 5-4 0-4-1-2-6-3-3 0-3 5 0 4zM197 1420l-3-3 0-4 2-3 3-1 4 2 2 4-3 4-3 2zM427 1415l1-2-1-3-2 3zM498 1415l1-2-1-2z" style="fill:#c13639;stroke:#c13639;stroke-width:.8" />
<path d="M198 1421l5-3 2-3-2-4-4-2-3 1-1 1-1 4 1 3zM196 1418l-1-1 0-4 3-3 3 1 2 2 0 4-4 2zM329 1421l1 0 3-1 2-3 1-4 0-4-1-4-3-2-3 0-5 2-1 2 1 8zM329 1418l-3-3-1-6 4-4 3 0 3 4-1 6-2 3z" style="fill:#ae172a;stroke:#ae172a;stroke-width:.8" />
<path d="M196 1419l3 0 4-2 0-4-4-3-3 1-1 2 0 4zM196 1417l0-5 3-1 2 2 0 4-2 1-1 0zM329 1419l1 0 3-2 2-4-1-5-2-3-3 0-4 4 1 6zM330 1417l-2-2-1-4 1-2 2-2 3 2 0 2 0 4z" style="fill:#8a0b25;stroke:#8a0b25;stroke-width:.8" />
<path d="M196 1417l2 1 3-1 1-2-1-3-3-1-2 1 0 3zM330 1417l3-2 0-4 0-2-3-2-2 2-1 2 1 4z" style="fill:#67001f;stroke:#67001f;stroke-width:.8" />
</g></g>
<g id="matplotlib.axis_17">
<g id="xtick_37">
<g id="line2d_115">
<g>
<use href="#mbc3e3207b5" x="33.5" y="723.1" style="stroke:#000000;stroke-width:1" />
</g>
</g>
<g id="text_59">
<text style="font-size:10.4px;font-family:&quot;Liberation Sans&quot;, sans-serif;text-anchor:middle" x="33.5" y="741.2" transform="rotate(0 33.5 741.2)" textLength="17" lengthAdjust="spacingAndGlyphs">-80</text>
</g>
</g>
<g id="xtick_38">
<g id="line2d_116">
<g>
<use href="#mbc3e3207b5" x="62.3" y="723.1" style="stroke:#000000;stroke-width:1" />
</g>
</g>
<g id="text_60">
<text style="font-size:10.4px;font-family:&quot;Liberation Sans&quot;, sans-serif;text-anchor:middle" x="62.3" y="741.2" transform="rotate(0 62.3 741.2)" textLength="17" lengthAdjust="spacingAndGlyphs">-60</text>
</g>
</g>
<g id="xtick_39">
<g id="line2d_117">
<g>
<use href="#mbc3e3207b5" x="91" y="723.1" style="stroke:#000000;stroke-width:1" />
</g>
</g>
<g id="text_61">
<text style="font-size:10.4px;font-family:&quot;Liberation Sans&quot;, sans-serif;text-anchor:middle" x="91" y="741.2" transform="rotate(0 91 741.2)" textLength="17" lengthAdjust="spacingAndGlyphs">-40</text>
</g>
</g>
<g id="xtick_40">
<g id="line2d_118">
<g>
<use href="#mbc3e3207b5" x="119.8" y="723.1" style="stroke:#000000;stroke-width:1" />
</g>
</g>
<g id="text_62">
<text style="font-size:10.4px;font-family:&quot;Liberation Sans&quot;, sans-serif;text-anchor:middle" x="119.8" y="741.2" transform="rotate(0 119.8 741.2)" textLength="17" lengthAdjust="spacingAndGlyphs">-20</text>
</g>
</g>
<g id="xtick_41">
<g id="line2d_119">
<g>
<use href="#mbc3e3207b5" x="148.6" y="723.1" style="stroke:#000000;stroke-width:1" />
</g>
</g>
<g id="text_63">
<text style="font-size:10.4px;font-family:&quot;Liberation Sans&quot;, sans-serif;text-anchor:middle" x="148.6" y="741.2" transform="rotate(0 148.6 741.2)" textLength="6.6" lengthAdjust="spacingAndGlyphs">0</text>
</g>
</g>
<g id="xtick_42">
<g id="line2d_120">
<g>
<use href="#mbc3e3207b5" x="177.3" y="723.1" style="stroke:#000000;stroke-width:1" />
</g>
</g>
<g id="text_64">
<text style="font-size:10.4px;font-family:&quot;Liberation Sans&quot;, sans-serif;text-anchor:middle" x="177.3" y="741.2" transform="rotate(0 177.3 741.2)" textLength="13.3" lengthAdjust="spacingAndGlyphs">20</text>
</g>
</g>
<g id="xtick_43">
<g id="line2d_121">
<g>
<use href="#mbc3e3207b5" x="206.1" y="723.1" style="stroke:#000000;stroke-width:1" />
</g>
</g>
<g id="text_65">
<text style="font-size:10.4px;font-family:&quot;Liberation Sans&quot;, sans-serif;text-anchor:middle" x="206.1" y="741.2" transform="rotate(0 206.1 741.2)" textLength="13.3" lengthAdjust="spacingAndGlyphs">40</text>
</g>
</g>
<g id="xtick_44">
<g id="line2d_122">
<g>
<use href="#mbc3e3207b5" x="234.8" y="723.1" style="stroke:#000000;stroke-width:1" />
</g>
</g>
<g id="text_66">
<text style="font-size:10.4px;font-family:&quot;Liberation Sans&quot;, sans-serif;text-anchor:middle" x="234.8" y="741.2" transform="rotate(0 234.8 741.2)" textLength="13.3" lengthAdjust="spacingAndGlyphs">60</text>
</g>
</g>
<g id="xtick_45">
<g id="line2d_123">
<g>
<use href="#mbc3e3207b5" x="263.6" y="723.1" style="stroke:#000000;stroke-width:1" />
</g>
</g>
<g id="text_67">
<text style="font-size:10.4px;font-family:&quot;Liberation Sans&quot;, sans-serif;text-anchor:middle" x="263.6" y="741.2" transform="rotate(0 263.6 741.2)" textLength="13.3" lengthAdjust="spacingAndGlyphs">80</text>
</g>
</g>
<g id="text_68">
<text style="font-size:10.4px;font-family:&quot;Liberation Sans&quot;, sans-serif;text-anchor:middle" x="148.6" y="758" transform="rotate(0 148.6 758)" textLength="171.6" lengthAdjust="spacingAndGlyphs">Distance from urban center [km]</text>
</g>
</g>
<g id="matplotlib.axis_18">
<g id="ytick_59">
<g id="line2d_124">
<g>
<use href="#m0c8410b8b1" x="33.5" y="723.1" style="stroke:#000000;stroke-width:1" />
</g>
</g>
<g id="text_69">
<text style="font-size:10.4px;font-family:&quot;Liberation Sans&quot;, sans-serif;text-anchor:end" x="23.8" y="727.1" transform="rotate(0 23.8 727.1)" textLength="6.6" lengthAdjust="spacingAndGlyphs">0</text>
</g>
</g>
<g id="ytick_60">
<g id="line2d_125">
<g>
<use href="#m0c8410b8b1" x="33.5" y="686" style="stroke:#000000;stroke-width:1" />
</g>
</g>
<g id="text_70">
<text style="font-size:10.4px;font-family:&quot;Liberation Sans&quot;, sans-serif;text-anchor:end" x="23.8" y="690" transform="rotate(0 23.8 690)" textLength="6.6" lengthAdjust="spacingAndGlyphs">1</text>
</g>
</g>
<g id="ytick_61">
<g id="line2d_126">
<g>
<use href="#m0c8410b8b1" x="33.5" y="648.9" style="stroke:#000000;stroke-width:1" />
</g>
</g>
<g id="text_71">
<text style="font-size:10.4px;font-family:&quot;Liberation Sans&quot;, sans-serif;text-anchor:end" x="23.8" y="652.9" transform="rotate(0 23.8 652.9)" textLength="6.6" lengthAdjust="spacingAndGlyphs">2</text>
</g>
</g>
<g id="ytick_62">
<g id="line2d_127">
<g>
<use href="#m0c8410b8b1" x="33.5" y="611.8" style="stroke:#000000;stroke-width:1" />
</g>
</g>
<g id="text_72">
<text style="font-size:10.4px;font-family:&quot;Liberation Sans&quot;, sans-serif;text-anchor:end" x="23.8" y="615.8" transform="rotate(0 23.8 615.8)" textLength="6.6" lengthAdjust="spacingAndGlyphs">3</text>
</g>
</g>
<g id="ytick_63">
<g id="line2d_128">
<g>
<use href="#m0c8410b8b1" x="33.5" y="574.7" style="stroke:#000000;stroke-width:1" />
</g>
</g>
<g id="text_73">
<text style="font-size:10.4px;font-family:&quot;Liberation Sans&quot;, sans-serif;text-anchor:end" x="23.8" y="578.7" transform="rotate(0 23.8 578.7)" textLength="6.6" lengthAdjust="spacingAndGlyphs">4</text>
</g>
</g>
<g id="ytick_64">
<g id="line2d_129">
<g>
<use href="#m0c8410b8b1" x="33.5" y="537.6" style="stroke:#000000;stroke-width:1" />
</g>
</g>
<g id="text_74">
<text style="font-size:10.4px;font-family:&quot;Liberation Sans&quot;, sans-serif;text-anchor:end" x="23.8" y="541.6" transform="rotate(0 23.8 541.6)" textLength="6.6" lengthAdjust="spacingAndGlyphs">5</text>
</g>
</g>
<g id="text_75">
<text style="font-size:10.4px;font-family:&quot;Liberation Sans&quot;, sans-serif;text-anchor:middle" x="10.8" y="611.8" transform="rotate(-90 10.8 611.8)" textLength="62.1" lengthAdjust="spacingAndGlyphs">Height [km]</text>
</g>
</g>
<g id="arrows_e"><path d="M33.4 713.6l.8 -.1M39.7 713.4l1.7 0M46.9 713.7l1.7 -.2M54.1 713.7l1.7 -.3M61.3 713.7l1.7 -.3M68.5 713.5l1.7 -.1M75.7 713.6l1.7 -.1M82.9 713.7l1.7 -.2M90 713.6l1.7 -.1M97.2 713.6l1.7 -.2M104.4 713.3l1.7 .1M111.6 713.4l1.7 0M118.8 713.3l1.7 .1M126 713.7l1.7 -.2M133.2 713.5l1.7 0M140.4 713.6l1.7 -.2M147.6 713.4l1.7 0M154.8 713.5l1.7 0M162 713.3l1.7 .1M169.1 713.5l1.7 0M176.4 713.7l1.7 -.3M183.5 713.4l1.7 .1M190.7 713.4l1.7 0M198.4 713.6l1.2 -.2M205.6 713.3l1.2 .2M212.7 713.3l1.2 .2M219.9 713.5l1.2 -.1M227.1 713.6l1.2 -.2M234.3 713.2l1.2 .2M241.5 713.6l1.2 -.1M248.7 713.6l1.2 -.1M255.9 713.3l1.2 .2M33.4 703.9l.8 -.1M39.7 703.9l1.7 -.1M46.9 703.9l1.7 -.1M54.1 704.1l1.7 -.3M61.3 703.7l1.7 .1M68.5 703.8l1.7 0M75.7 704l1.7 -.2M82.9 703.8l1.7 0M90 703.8l1.7 0M97.2 704l1.7 -.2M104.4 704.1l1.7 -.3M111.6 703.8l1.7 0M120 706.1l.6 -2.4M127.7 701.4l0 2.6M135.1 705.6l-.2 -1.8M141.5 706.3l.6 -2.8M148.7 701.8l.5 2M156.8 701.9l-.4 1.9M163.6 701.3l0 2.7M170.6 705.8l.2 -2M177.9 705.7l.2 -1.9M185.4 706.1l-.2 -2.4M192.7 706.6l-.3 -3.5M199.2 705.5l.4 -1.7M207.2 702.1l-.4 1.7M213.8 705.5l.2 -1.7M221.1 706l.1 -2.2M229 705.9l-.6 -2.1M236.2 705.4l-.6 -1.6M242.7 701.7l0 2.2M249.7 702.1l.2 1.7M257.7 702.1l-.6 1.7M33.7 694.5l.5 -.3M40.2 694.3l1.2 -.1M47.4 694.2l1.2 -.1M54.6 694.3l1.2 -.2M61.8 694.6l1.2 -.4M69 694.5l1.2 -.4M76.2 694.6l1.2 -.4M83.5 694.8l1.1 -.6M90.5 694.3l1.2 -.2M97.7 694.3l1.2 -.2M105 694.7l1.1 -.5M112.1 694.3l1.2 -.1M120.7 696.8l-.2 -3M127.3 692.1l.4 2M134.9 696.1l0 -2M142.3 691.7l-.2 2.6M149.1 696.2l.1 -2.1M156.3 696.5l.1 -2.5M164.4 697l-.9 -3.5M170.9 696.3l-.1 -2.1M178.2 691.4l-.2 3.3M185.4 691.9l-.2 2.3M192 696.3l.4 -2.2M200.2 696.3l-.6 -2.1M207.6 691.6l-.9 3M213.4 695.6l.5 -1.5M220.6 692l.6 2.3M228.3 691.6l.1 3M235.8 696l-.3 -1.8M242.5 696.8l.3 -3M249.8 695.7l.1 -1.6M256.7 695.7l.4 -1.5M34.2 685l.1 -.4M41.4 685.4l0 -.9M48.3 685.3l.3 -.8M55.5 685.3l.3 -.8M63.3 685.4l-.3 -.8M70.1 685.4l.1 -.9M77.1 685.4l.3 -.8M84.8 685.4l-.3 -.9M92.1 685.3l-.4 -.8M99.2 685.4l-.3 -.8M106.3 685.4l-.2 -.9M112.9 685.3l.4 -.8M120.6 681.6l-.1 3.6M127.5 687.1l.3 -3.1M134.3 681.6l.7 3.7M142.1 681.7l-.1 3.4M149.4 686.4l-.1 -1.9M156.6 686.4l-.1 -1.9M163.8 682.5l-.1 2M170.2 681.9l.7 3M178.3 686.4l-.3 -1.9M184.9 686.6l.3 -2.1M192.7 681.8l-.3 3.3M199.8 682.2l-.2 2.5M207 682.7l-.2 1.9M214.3 682.8l-.3 1.7M221.2 686.5l-.1 -1.9M227.9 682.9l.4 1.6M235.9 687.1l-.3 -3M243.5 682l-.9 3M250 681.8l-.1 3.2M256.7 686.7l.4 -2.1M34.4 674.5l-.2 .4M41.7 672.3l-.3 3M49.2 672l-.7 3.5M56.1 673.1l-.3 1.8M63.7 673.1l-.8 1.8M70.8 672.3l-.7 3M78.2 673.2l-.8 1.7M85.1 673.3l-.5 1.6M92.8 672.3l-1.2 3.1M100 672.7l-1.1 2.3M106.6 672.9l-.4 1.9M113.6 672.6l-.3 2.3M120.2 672.1l.3 3.4M127.8 677.3l-.1 -2.6M135.6 672.1l-.9 3.3M142.4 673l-.3 1.9M149.3 672.7l0 2.1M157 672.5l-.6 2.6M163.5 677.6l.2 -3.3M171 677.4l-.2 -2.8M177.9 676.9l.1 -2M185 672.9l.2 1.9M192 677.6l.5 -3.3M200 673.2l-.4 1.7M206.3 672.5l.5 2.6M213.2 677.5l.9 -3M220.5 677.3l.8 -2.7M227.6 676.8l.7 -1.9M235.2 677l.4 -2.1M242.7 677.3l.1 -2.7M249.3 673.2l.6 1.7M256.8 676.5l.3 -1.7M34.4 664.9l-.2 .4M41.7 663.6l-.3 1.6M49.5 663.2l-.9 2.1M57 662.8l-1.4 2.9M63.9 662.6l-1.1 3.2M71.1 663.1l-.9 2.3M78.1 663.5l-.7 1.7M85.1 663.3l-.6 2M92.3 663.8l-.5 1.4M99.4 663.3l-.5 1.9M106.6 662.5l-.6 3.3M114.3 662.4l-1.3 3.6M120.2 667.2l.3 -2M127.2 667.6l.5 -2.6M135 667.6l-.2 -2.5M142.4 667.4l-.4 -2.2M149.5 662.7l-.2 2.9M156.5 663.5l0 1.8M163.4 667.2l.3 -2M171.1 662.5l-.3 3.2M177.8 663l.2 2.2M185.8 662.9l-.7 2.6M192.8 663.4l-.4 1.8M199.1 663.7l.5 1.6M207.4 667.1l-.6 -1.9M213.2 667.5l.8 -2.4M221.7 662.7l-.6 2.9M228.9 662.6l-.6 3.1M235.8 667.8l-.3 -3M242.8 663.1l-.1 2.1M249.6 667.2l.3 -2M257.1 666.8l0 -1.5M34.4 655.2l-.2 .4M42.4 653.6l-1 2M49.7 653.2l-1.2 2.7M56.3 653.8l-.5 1.8M63.6 653l-.7 3.1M70.9 653.4l-.8 2.3M78.1 652.7l-.9 3.6M85.8 653l-1.6 3.2M92.3 652.9l-.6 3.1M99.1 653.9l-.2 1.7M107.4 652.9l-1.6 3.4M114.2 654l-.9 1.6M120.6 653.2l-.2 2.5M127 652.8l.8 3.3M135.2 653.4l-.3 2.2M142.4 658.1l-.3 -2.8M149.2 653.1l.1 2.9M156.8 657.3l-.4 -1.7M163.6 653.4l.1 2.2M170.6 657.7l.3 -2.1M178.5 653.6l-.5 2M185.7 658.1l-.5 -3M192.6 657.9l-.2 -2.5M198.8 657.6l.8 -2M207.2 658.1l-.5 -2.9M214.4 653.6l-.4 2M220.7 654.1l.5 1.5M229 657.3l-.7 -1.7M234.8 653.5l.8 2.1M242.8 657.4l-.1 -1.9M249.9 657.8l0 -2.2M257.8 653.2l-.7 2.7M34.4 645.5l-.2 .4M42 644.5l-.6 1.4M49.1 643.6l-.6 2.5M56.2 643.5l-.4 2.7M63.4 643.4l-.5 2.9M70.9 644.6l-.7 1.4M77.6 644.2l-.2 1.8M85.4 644.2l-.8 1.8M92.2 644.4l-.5 1.6M99.3 644.3l-.4 1.6M106.6 644.1l-.5 1.8M114 643.3l-.9 3.1M121 644.2l-.4 1.7M128.1 643.9l-.4 2M134.9 642.9l-.1 3.8M142.2 648l-.2 -2M149.7 643.5l-.5 2.7M156 643.3l.5 3.2M163.6 643.9l0 2.1M171 643.2l-.1 3.3M178 648.6l0 -3.2M185.4 648.5l-.3 -2.9M192.2 643.7l.2 2.2M199.9 647.9l-.3 -2M206.5 648l.3 -2.1M214.4 647.5l-.4 -1.5M222 643.8l-.9 2.3M228.2 647.4l.1 -1.5M235.9 647.5l-.3 -1.5M242.7 647.6l0 -1.7M250.3 644.2l-.3 1.7M257.2 643.5l0 2.6M34.4 636l-.2 .3M42.1 634.1l-.7 2.2M49.1 634.4l-.5 1.9M56.5 634.9l-.7 1.4M64 633.6l-1.3 3.4M70.9 634.6l-.8 1.7M78.3 633.5l-1.1 3.4M85.5 634.2l-1 2.2M92.2 634.5l-.5 1.8M99.7 633.7l-.9 3M106.6 634.9l-.5 1.4M113.7 634.2l-.4 2.1M120.4 639.1l.1 -3.3M127.5 633.6l.2 3.2M135.1 638.4l-.2 -2.1M142.1 638.5l0 -2.2M148.7 638.6l.7 -2.5M156 634.2l.5 2.1M164.1 639.1l-.6 -3.4M170.9 638.8l-.1 -2.9M178.1 638.4l-.1 -2.1M185.3 633.5l-.1 3.3M191.9 633.3l.7 3.7M199.7 634.6l-.1 1.7M205.9 638.8l1.1 -2.9M214.4 638.4l-.4 -2.1M221.1 634.5l.1 1.8M228.1 638.5l.3 -2.2M235.4 638.7l.2 -2.7M243.4 634.3l-.6 2M250.4 634.2l-.4 2.1M257.2 638l0 -1.8M34.4 626.3l-.2 .4M42.6 624.3l-1.3 2.7M48.9 623.8l-.3 3.4M56.6 624.8l-.9 1.9M63.2 624.4l-.3 2.3M71.3 624.3l-1.3 2.6M78.6 624l-1.6 3.2M85 625l-.4 1.6M92.9 624.5l-1.3 2.4M99.6 625.1l-.7 1.5M106.8 624.6l-.7 2M113.7 624l-.4 3M121 624.6l-.5 2M127.7 629l0 -2.6M134.9 628.5l0 -1.8M141.7 624.8l.3 1.8M149 624.2l.3 2.7M156.4 623.7l.1 3.7M163.2 629.2l.6 -2.9M170.4 624.2l.5 2.6M178 628.6l0 -2M185.7 629.2l-.5 -3M192.7 623.9l-.3 3.3M199.2 624.1l.4 2.8M206.6 624.8l.2 1.8M214 624.3l0 2.5M220.6 628.9l.6 -2.4M227.9 625l.5 1.6M235.9 629.3l-.5 -3.2M242.3 629l.5 -2.6M250.3 628.3l-.3 -1.6M257.3 628.8l-.2 -2.1M34.4 616.5l-.2 .5M42.3 615.3l-.9 1.7M49.9 614.4l-1.6 3.1M56.2 615.3l-.4 1.7M63.4 614.9l-.4 2.1M71.2 614.9l-1.1 2.2M78.1 615.4l-.7 1.6M85.1 615.3l-.5 1.7M92.2 615.1l-.5 1.9M100 614.6l-1.2 2.8M106.4 614.7l-.3 2.5M114.1 615.6l-.8 1.4M121.8 614.5l-1.5 3M126.9 619.4l.9 -2.8M135.5 614.1l-.7 3.5M142.6 614.6l-.5 2.6M148.6 614.5l.8 2.8M155.9 614.4l.7 3.1M162.1 614.2l2 3.7M171.8 619.1l-1 -2.3M176.8 613.9l1.7 4.2M184 614.6l1.4 2.7M191.6 614.4l.9 3M200 618.5l-.4 -1.5M207.4 615.4l-.6 1.6M214.4 615.5l-.4 1.5M220.7 614.3l.5 3.2M228.6 618.9l-.3 -1.9M235.9 619.1l-.4 -2.1M243.1 614.6l-.4 2.6M250 619.6l-.1 -3M256.7 614.7l.4 2.4M34.4 606.7l-.2 .7M41.7 605.1l-.3 2.3M48.9 605.7l-.3 1.6M57 604.9l-1.4 2.9M64 605.1l-1.1 2.5M70.5 605.4l-.4 2M77.6 605.8l-.2 1.5M85.3 605.2l-.8 2.2M92.4 605.2l-.6 2.1M99.3 605.5l-.3 1.9M107.3 605.1l-1.3 2.5M114.2 605l-1 2.5M121.7 604.8l-1.4 3.1M126.4 609.8l1.6 -3M136 604.1l-1.6 4.5M140.6 609.9l1.9 -3.2M150.1 609.5l-.9 -2.2M155.8 604.4l.8 3.7M162.1 604.9l1.9 3M172 610.3l-1.5 -3.9M177.5 604.9l.7 2.8M184 605.1l1.4 2.6M191.4 605.3l1.1 2.1M199.2 609.1l.4 -1.8M206 605l.9 2.6M213.8 604.7l.2 3.1M221.2 609.3l-.1 -2M228.8 605.3l-.4 2.1M236.3 609.5l-.8 -2.2M242 605.4l.8 2M250.4 609.9l-.6 -3M257.2 605.2l0 2.2M34.5 597l-.2 .7M42.1 596l-.7 1.7M48.8 595.5l-.2 2.3M56 595.9l-.2 1.8M63.2 596.1l-.2 1.6M70.8 596l-.6 1.7M77.9 596.2l-.5 1.5M85.5 595.3l-1.1 2.8M92.6 595.2l-1 2.9M99.7 595.2l-.8 2.9M106.4 595.4l-.3 2.3M113.7 596.1l-.4 1.6M118.8 600.2l2.1 -3.2M129.2 595l-2 3.5M136.3 594.6l-1.9 4.2M142.9 595.4l-.9 2.5M148.1 595.2l1.4 3M155.8 594.7l.9 3.9M164.6 600.6l-1.2 -3.7M170.3 594.9l.7 3.5M177.1 595.6l1 2.1M184.4 595.3l1 2.7M191.3 594.6l1.5 4.1M198.9 599.6l.7 -1.9M207.5 595.5l-.7 2.3M214 595.7l0 2M220.8 599.7l.4 -2M227.9 599.2l.4 -1.5M235.8 599.6l-.2 -1.9M242.7 599.3l.1 -1.6M249.8 600l.1 -2.4M257 599.3l.1 -1.6M34.3 587.7l-.1 .4M42.3 586.3l-.9 1.7M49.4 585.8l-.9 2.5M56.2 585.4l-.5 3.1M63.5 585.7l-.6 2.5M71.2 585.6l-1.2 2.8M77.8 585.2l-.5 3.6M84.8 586.6l-.2 1.5M92.2 586.1l-.4 1.9M99.4 586.6l-.5 1.4M106.8 585.5l-.8 3M113.8 585.2l-.6 3.6M121.4 585.9l-.9 2.3M128.7 586l-1.1 2.2M135.6 585.2l-.9 3.5M143.5 585.3l-1.8 3.6M147.6 585.2l2.2 3.9M155.8 585.2l.8 3.6M162.3 585.8l1.6 2.6M169.8 584.8l1.4 4.4M176.7 585.4l1.7 3.4M184.1 584.8l1.5 4.3M191.4 584.9l1.3 4.3M199.6 590.3l0 -2.4M207.5 590.3l-.7 -2.3M214.6 589.9l-.6 -1.9M221.8 589.7l-.7 -1.7M228.7 590.1l-.4 -2M235.7 586.5l-.2 1.6M241.9 590.5l1 -2.7M249.8 586l.2 2.1M256.6 590.1l.5 -2.1M34.3 577.9l-.1 .5M41.6 576.9l-.2 1.5M49.6 576.3l-1 2.2M56.4 576.2l-.6 2.2M63.6 576.2l-.6 2.3M71 576.3l-.9 2.2M77.9 576.2l-.6 2.3M85.6 576.2l-1.2 2.5M92.6 576.8l-.8 1.6M99.4 576.4l-.5 2M106.7 575.6l-.7 3.5M113.7 576.3l-.3 2.1M121.1 576.3l-.7 2.2M128.6 576l-1 2.7M136.1 576.5l-1.3 1.9M142.9 575l-1.1 4.6M148.2 575.6l1.4 3.6M155.3 575.9l1.5 3.1M164.9 581.5l-1.6 -4.1M169.2 575.9l2 3.2M177 576.4l1.1 2.1M184.2 576.2l1.1 2.5M191.8 575.2l.8 4.3M199.7 576.6l-.1 1.9M207.2 576.3l-.4 2.1M214.1 580.1l-.1 -1.7M220.6 577l.5 1.4M227.8 579.9l.5 -1.5M235.4 580.6l.2 -2.2M242.6 581.1l.1 -3.1M250.5 576.1l-.6 2.4M257 576.7l.1 1.7M34.4 568.2l-.2 .5M42.7 566.3l-1.5 3M49.1 567.2l-.5 1.6M56.4 566.6l-.6 2.3M63.6 566.4l-.7 2.6M70.4 566.7l-.3 2.1M77.7 566.3l-.4 2.8M84.8 566.9l-.2 1.9M92.3 567l-.5 1.7M99.7 566.3l-.8 2.8M107.1 566.3l-1.2 2.8M113.5 566.2l-.3 3M119.3 572l1.6 -4.4M129 566.7l-1.4 2.3M136.1 566.5l-1.4 2.6M142.6 566.5l-.6 2.4M150 571.8l-1 -4M155.7 566.3l.9 2.9M162.7 565.5l1.3 4.4M170.3 565.7l.7 3.9M176.7 566l1.7 3.5M183.6 566l2.2 3.7M191.6 566.3l.9 2.8M198.7 571.3l1.1 -2.9M206.9 571.2l-.1 -2.7M213.9 566.4l.1 2.4M220.9 570.5l.2 -1.8M228.6 566.8l-.2 1.9M235.1 566.8l.5 1.9M243 567.1l-.2 1.7M249.8 571l.2 -2.3M257.1 570.4l0 -1.7M34.4 558.7l-.2 .4M41.8 556.8l-.4 2.5M49.5 557.1l-1 2.1M56.4 556.7l-.7 2.6M63.9 557.3l-.9 1.8M71 557.3l-.9 1.8M78 557.3l-.6 1.8M85.3 557.4l-.8 1.7M92.6 557l-.9 2.2M99.3 556.5l-.4 3M106.6 556.7l-.6 2.6M114.1 556.8l-.9 2.5M121.7 556.6l-1.4 3.1M128.5 556.8l-.9 2.6M135.7 556.7l-.9 2.7M143.3 556.3l-1.6 3.6M148.6 555.8l1 4.5M155.2 556.5l1.5 3.2M163 556.8l.7 2.5M171.6 562l-1 -3.6M177.1 555.9l1.2 4.4M183.9 556.9l1.5 2.6M191.3 557l1.2 2.2M199.7 557.5l-.1 1.6M206.6 556.4l.2 3.2M213.3 556.9l.7 2.3M220.5 561l.7 -1.9M228.2 561.1l.2 -2M235.7 561.7l-.2 -2.9M243.1 557.5l-.3 1.6M250.4 557.6l-.5 1.5M256.4 561.7l.8 -3.1M34.4 548.9l-.2 .5M42.5 546.9l-1.3 3.2M49.1 546.5l-.7 3.7M57 547.2l-1.4 2.5M64.4 546.9l-1.7 3.1M70.5 548l-.4 1.5M77.8 546.7l-.6 3.3M85.3 548l-.8 1.5M92.2 547.4l-.5 2.1M99.6 548.1l-.6 1.4M106.8 548.1l-.7 1.4M113.5 547.4l-.2 2M121.1 546.5l-.8 3.8M128.8 546.6l-1.4 3.7M135.7 547.3l-.9 2.3M142.5 546.9l-.5 2.9M148.2 546.1l1.5 4.6M155.9 546.9l.7 2.9M162.9 546.8l.9 3.2M170 547l1 2.9M177.3 546.9l.9 3.1M184.1 546.3l1.5 4.2M191 546.9l1.7 3.2M199.4 551.6l.2 -2.1M206.2 551.2l.6 -1.7M213.1 552l1 -3.1M221.7 551.4l-.5 -2M227.9 551.9l.5 -2.7M235.5 552.1l0 -3.1M242.8 551l0 -1.6M249.8 547.4l.2 2.1M257.4 551l-.2 -1.5M34.4 539.4l-.1 .4M42.2 537.9l-.8 1.9M48.9 537l-.4 3.5M56.5 538.1l-.7 1.7M63.8 537.8l-.8 2.1M70.5 538.3l-.3 1.5M78.3 538.1l-.9 1.8M85.5 537.7l-1 2.3M92.1 537.1l-.5 3.3M99.9 537.1l-1.1 3.4M107.2 537.5l-1.3 2.7M113.6 538.3l-.3 1.5M119.8 542l.8 -2.3M128.2 537l-.7 3.5M136.2 537.7l-1.5 2.5M141.2 543.2l1.2 -4.6M148.2 537.6l1.2 2.6M155.4 536.7l1.5 4.2M162.6 537l1.3 3.6M169.6 536.6l1.6 4.5M179.2 542.4l-1.4 -3.2M184.5 536.8l1 3.9M191.4 537.7l1.1 2.4M198.9 537.9l.8 1.9M206.6 542.2l.2 -2.6M213.7 541.4l.3 -1.5M220.9 537.7l.3 2.1M228.1 542.2l.3 -2.5M235.6 537.4l0 2.6M243.2 541.4l-.4 -1.6M250.1 538l-.2 1.9M257.5 538.1l-.4 1.8M34.5 529.6l-.3 .6M42 528.8l-.6 1.4M49.4 527.4l-1 3.5M56.4 528.5l-.6 1.7M63.7 527.6l-.8 2.9M71.2 527.5l-1.3 3.2M78 528.6l-.6 1.6M85.8 527.6l-1.6 3.2M92.5 527.4l-.9 3.3M99.8 527.7l-1 2.8M107.4 527.6l-1.6 3.1M113.7 528.2l-.4 2M121.5 528.1l-1.1 2.2M128.4 526.8l-1 4.6M134.1 532.6l.9 -2.8M142.7 527.4l-.8 3.5M148.4 527.7l1 2.8M155.4 528l1.1 2.3M162.5 528.2l1.2 2.1M172.6 533l-2.4 -3.7M176.9 527.4l1.4 3.6M184.3 527l1.2 4.3M190.9 527.8l1.8 2.9M199.6 532.5l.1 -2.5M206.5 532.4l.3 -2.4M214.3 532.3l-.3 -2.1M221.3 531.9l-.1 -1.7M228 528.3l.4 1.8M235.6 532.1l-.1 -1.9M243.4 528.2l-.6 2M250.2 532.5l-.3 -2.6M256.7 528.3l.4 1.9M34.3 520.2l-.1 .4M42.2 519.2l-.7 1.3M49.2 517.8l-.8 3.4M56 518.4l-.2 2.1M63.8 518.5l-.9 2.1M71.3 518.1l-1.4 3M77.7 518.5l-.4 2M85.5 518.3l-1 2.4M92.3 518.2l-.6 2.6M99.9 518.2l-1.1 2.6M106.9 518.4l-.8 2.3M114.2 518.7l-.9 1.8M121.4 518.3l-.9 2.5M128.7 517.6l-1.3 3.7M136 517.6l-1.4 3.8M143.3 517.7l-1.6 3.6M148.5 518.4l.9 2.3M155 517.9l1.8 3.3M164.6 523.1l-1.1 -3.1M169.6 517.5l1.7 4M176.9 518.5l1.3 2.2M183.9 517.8l1.6 3.5M191 517.6l1.9 4M199.8 518.1l-.2 2.7M207.4 522.6l-.6 -2.1M214 517.9l-.1 3M221.1 522l.1 -1.5M229 518.1l-.8 2.8M236.2 518.4l-.6 2.1M242.9 518.6l-.1 1.9M249.9 522.3l0 -1.8M256.8 518.3l.4 2.2M34.4 510.4l-.2 .5M42.5 508.6l-1.2 2.6M49.3 509.5l-.7 1.4M56.4 508.7l-.6 2.2M63.6 509.1l-.6 1.8M70.8 509.3l-.7 1.6M77.9 508.9l-.6 2M85.9 508.3l-1.7 3.2M92.5 508.1l-.9 3.4M99.5 508.9l-.6 2M106.8 509l-.6 1.9M113.8 509.4l-.4 1.5M121.5 508.8l-1 2.1M128.9 508.3l-1.5 3.2M134.3 513.2l.7 -2.5M142.9 507.6l-1.1 4.5M148 508.7l1.4 2.5M155.3 508.2l1.4 3.3M162.2 508.3l1.7 3.2M169.7 508.5l1.3 2.8M177 508.4l1.2 2.9M183.8 508.4l1.8 3M191 508.8l1.6 2.4M200.4 508.6l-.8 2.6M206.9 509.3l-.1 1.6M213.9 508.5l.1 2.5M221.1 512.6l.1 -1.7M227.9 509.1l.5 1.8M236.4 513.2l-.9 -2.5M242.7 513.5l.1 -3M250.6 512.5l-.6 -1.6M256.8 509.1l.3 1.8M34.5 500.6l-.3 .6M42.4 499.4l-1 1.9M49.3 499.3l-.7 1.9M56.2 498.8l-.4 2.7M63.2 499.1l-.3 2.1M71.3 498.8l-1.3 2.8M77.8 499.3l-.4 2M85.4 499.2l-.8 2.1M92.3 499.5l-.6 1.8M100 499l-1.1 2.5M106.8 498.9l-.7 2.6M114.4 498.6l-1.4 3.2M121.4 499.1l-1 2.3M128.9 498.9l-1.3 2.7M134.2 504.5l.9 -4.4M143.3 498.6l-1.5 3.2M150.7 503.8l-1.8 -3.3M157.6 503.5l-1.2 -2.6M162.8 498.1l1.1 4.2M170 497.9l1.1 4.5M178.7 504.3l-.8 -3.9M184.5 498.1l1 4.1M191.8 498.7l.7 2.9M199.9 499.3l-.3 1.9M206.7 503.1l.1 -1.9M214.1 499.2l-.1 2.1M221.2 499.3l0 1.9M228.6 503.1l-.2 -1.9M235.8 503.1l-.2 -1.9M242.2 503.9l.6 -3.2M250.4 502.9l-.5 -1.6M257.6 499.3l-.5 2" style="fill:none;stroke:#000;stroke-width:.55" /><path d="M35.1 713.4L34.3 714.2 34.1 712.7zM43.1 713.5L41.4 714.3 41.4 712.7zM50.3 713.2L48.7 714.2 48.5 712.7zM57.5 713.2L55.9 714.2 55.7 712.7zM64.7 713.2L63.1 714.2 62.8 712.7zM71.9 713.4L70.2 714.3 70.1 712.7zM79.1 713.3L77.4 714.3 77.3 712.7zM86.2 713.3L84.6 714.2 84.5 712.7zM93.4 713.3L91.8 714.3 91.7 712.7zM100.6 713.3L99 714.2 98.9 712.7zM107.8 713.6L106.1 714.3 106.2 712.7zM115 713.5L113.3 714.3 113.3 712.7zM122.2 713.6L120.4 714.3 120.6 712.7zM129.4 713.2L127.8 714.2 127.6 712.7zM136.6 713.4L134.9 714.3 134.9 712.7zM143.8 713.3L142.2 714.3 142 712.7zM151 713.5L149.3 714.3 149.3 712.7zM158.2 713.4L156.5 714.3 156.5 712.7zM165.3 713.6L163.6 714.3 163.7 712.7zM172.5 713.4L170.8 714.3 170.8 712.7zM179.7 713.2L178.2 714.2 177.9 712.7zM186.9 713.5L185.2 714.3 185.2 712.7zM194.1 713.5L192.4 714.3 192.4 712.7zM200.8 713.3L199.7 714.2 199.5 712.7zM208 713.7L206.7 714.2 206.9 712.7zM215.2 713.6L213.9 714.2 214.1 712.7zM222.4 713.4L221.2 714.3 221.1 712.7zM229.6 713.3L228.5 714.2 228.3 712.7zM236.8 713.7L235.4 714.2 235.7 712.7zM244 713.3L242.8 714.3 242.7 712.7zM251.2 713.3L250 714.2 249.9 712.7zM258.4 713.6L257 714.2 257.2 712.7zM35.1 703.7L34.3 704.6 34.2 703zM43.1 703.7L41.4 704.6 41.4 703zM50.3 703.7L48.6 704.6 48.6 703zM57.5 703.5L55.9 704.6 55.7 703zM64.7 704L62.9 704.6 63.1 703zM71.9 703.8L70.2 704.6 70.2 703zM79.1 703.6L77.4 704.6 77.3 703zM86.3 703.8L84.6 704.6 84.6 703zM93.4 703.8L91.7 704.6 91.8 703zM100.6 703.6L99 704.6 98.9 703zM107.8 703.5L106.2 704.6 106 703zM115 703.8L113.3 704.6 113.3 703zM121 701.5L121.3 703.9 119.8 703.5zM127.7 706.2L126.9 704 128.5 704zM134.7 702L135.7 703.7 134.1 703.9zM142.6 701.3L142.9 703.7 141.4 703.3zM149.8 705.8L148.5 704 150 703.6zM156.1 705.7L155.7 703.7 157.2 704zM163.7 706.3L162.9 704.1 164.5 704.1zM171.1 701.8L171.6 703.9 170 703.7zM178.2 701.9L178.8 703.9 177.2 703.7zM185 701.5L186 703.6 184.4 703.7zM192.2 701L193.2 703.1 191.6 703.2zM200 702.1L200.4 704 198.8 703.6zM206.4 705.5L206 703.6 207.6 704zM214.2 702.1L214.8 703.9 213.2 703.7zM221.2 701.6L222 703.8 220.4 703.8zM227.8 701.7L229.1 703.6 227.6 704zM234.9 702.2L236.3 703.5 234.8 704.1zM242.8 706L241.9 703.8 243.5 703.8zM250.2 705.5L249.1 703.9 250.7 703.7zM256.5 705.5L256.4 703.5 257.9 704.1zM34.8 693.9L34.6 694.9 33.8 693.5zM42.7 694L41.5 695 41.3 693.4zM49.8 694.1L48.6 695 48.6 693.4zM57 694L55.9 695 55.7 693.4zM64.2 693.7L63.2 694.9 62.7 693.4zM71.4 693.8L70.4 694.9 69.9 693.4zM78.5 693.7L77.6 694.9 77.1 693.4zM85.6 693.6L84.9 694.9 84.2 693.5zM93 694L91.9 695 91.6 693.4zM100.2 694L99 695 98.8 693.4zM107.3 693.6L106.5 694.9 105.8 693.4zM114.6 694L113.4 695 113.2 693.4zM120.3 691.6L121.3 693.7 119.7 693.8zM128.1 696.2L126.9 694.3 128.5 694zM134.9 692.2L135.7 694.2 134.1 694.2zM141.9 696.6L141.3 694.3 142.9 694.4zM149.4 692.1L150.1 694.2 148.5 694.1zM156.6 691.8L157.3 694.1 155.7 694zM162.9 691.4L164.2 693.3 162.7 693.7zM170.8 692L171.6 694.1 170 694.2zM177.9 696.9L177.2 694.7 178.8 694.8zM185.1 696.4L184.4 694.2 186 694.3zM192.8 692L193.2 694.3 191.6 694zM199 692.1L200.4 694 198.8 694.4zM206 696.7L205.9 694.4 207.4 694.9zM214.5 692.7L214.7 694.4 213.2 693.9zM221.8 696.4L220.4 694.4 222 694zM228.5 696.7L227.6 694.6 229.2 694.5zM235.3 692.3L236.3 694 234.8 694.3zM243 691.6L243.6 693.8 242 693.7zM250.1 692.6L250.7 694.2 249.1 694.1zM257.6 692.6L257.9 694.4 256.4 694zM34.3 684.1L35 684.6 33.4 684.4zM41.4 683.6L42.2 684.5 40.6 684.5zM48.9 683.7L49.3 684.8 47.9 684.2zM56.1 683.7L56.5 684.8 55.1 684.2zM62.7 683.7L63.7 684.2 62.2 684.8zM70.3 683.6L71 684.6 69.4 684.4zM77.7 683.7L78.1 684.8 76.6 684.2zM84.3 683.7L85.3 684.3 83.8 684.8zM91.4 683.7L92.5 684.2 91 684.8zM98.6 683.7L99.7 684.2 98.2 684.8zM105.9 683.6L106.9 684.3 105.3 684.7zM113.7 683.7L114 684.8 112.6 684.2zM120.4 687.4L119.7 685.2 121.3 685.2zM127.9 681.9L128.5 684.1 126.9 684zM135.4 687.5L134.3 685.4 135.8 685.1zM142 687.3L141.3 685.1 142.9 685.1zM149.2 682.6L150.1 684.5 148.5 684.6zM156.3 682.6L157.3 684.5 155.7 684.6zM163.5 686.5L162.9 684.5 164.4 684.6zM171.5 687.1L170.2 685.1 171.7 684.8zM177.7 682.6L178.8 684.4 177.2 684.6zM185.5 682.4L186 684.6 184.4 684.4zM192.1 687.2L191.6 685 193.2 685.1zM199.4 686.9L198.8 684.6 200.4 684.7zM206.6 686.4L206 684.4 207.6 684.6zM213.7 686.2L213.2 684.4 214.8 684.7zM221.1 682.6L222 684.5 220.4 684.5zM228.8 686.1L227.6 684.7 229.1 684.3zM235.3 681.9L236.3 684 234.7 684.2zM242 687.1L241.8 684.7 243.4 685.2zM249.9 687.2L249.1 685 250.7 685zM257.5 682.4L257.9 684.7 256.3 684.4zM34 675.3L33.5 674.5 35 675.2zM41.1 677.5L40.6 675.2 42.2 675.3zM48 677.7L47.7 675.4 49.2 675.7zM55.4 676.7L55 674.7 56.6 675zM62.2 676.7L62.2 674.6 63.7 675.2zM69.6 677.5L69.3 675.1 70.9 675.5zM76.5 676.6L76.6 674.5 78.1 675.2zM84 676.4L83.8 674.6 85.3 675.1zM90.7 677.4L90.8 675.1 92.3 675.7zM97.9 677L98.1 674.7 99.6 675.4zM105.7 676.8L105.3 674.7 106.9 675zM113 677.1L112.5 674.8 114.1 675zM120.8 677.6L119.8 675.5 121.4 675.4zM127.6 672.5L128.5 674.6 126.9 674.7zM134.2 677.6L134 675.3 135.5 675.7zM141.8 676.7L141.3 674.7 142.9 675zM149.2 677L148.5 674.9 150.1 674.9zM155.9 677.2L155.6 674.9 157.2 675.3zM163.8 672.1L164.5 674.4 162.9 674.3zM170.7 672.4L171.6 674.5 170 674.6zM178.2 672.9L178.8 674.9 177.2 674.8zM185.4 676.8L184.4 675 186 674.8zM192.8 672.1L193.3 674.4 191.7 674.2zM199.2 676.6L198.8 674.7 200.4 675.1zM207.3 677.2L206.1 675.2 207.6 674.9zM214.7 672.3L214.9 674.6 213.4 674.2zM221.9 672.5L222 674.8 220.5 674.4zM229.1 673L229.1 675.2 227.6 674.6zM236 672.8L236.3 675 234.8 674.7zM242.8 672.4L243.6 674.6 242 674.6zM250.5 676.6L249.2 675.1 250.7 674.6zM257.5 673.2L257.9 675 256.3 674.7zM34.1 665.6L33.5 664.9 34.9 665.6zM41.1 666.8L40.6 665.1 42.2 665.4zM47.7 667.3L47.8 665 49.3 665.6zM54.6 667.6L54.9 665.3 56.3 666zM62.1 667.9L62 665.5 63.6 666zM69.3 667.4L69.4 665.1 70.9 665.7zM76.6 666.9L76.6 664.9 78.1 665.5zM84 667.2L83.8 665 85.3 665.4zM91.2 666.7L91 664.9 92.5 665.5zM98.4 667.2L98.2 665 99.7 665.4zM105.6 668L105.2 665.7 106.8 666zM112.3 668L112.3 665.7 113.8 666.2zM120.8 663.2L121.3 665.3 119.7 665.1zM128.2 662.8L128.5 665.1 127 664.8zM134.7 662.9L135.7 665 134.1 665.1zM141.7 663.1L142.9 665.1 141.3 665.4zM149.1 667.8L148.4 665.5 150 665.6zM156.5 667L155.7 665.2 157.3 665.2zM163.9 663.3L164.4 665.3 162.9 665.1zM170.6 667.9L170 665.6 171.6 665.8zM178.3 667.4L177.2 665.3 178.8 665.1zM184.6 667.6L184.4 665.2 185.9 665.6zM192 667L191.6 665.1 193.2 665.4zM200.1 666.8L198.8 665.5 200.4 665zM206.2 663.3L207.6 665 206 665.5zM214.7 663L214.8 665.3 213.3 664.8zM220.6 667.7L220.3 665.4 221.9 665.7zM227.8 667.9L227.5 665.5 229.1 665.9zM235.3 662.6L236.3 664.7 234.7 664.9zM242.7 667.3L241.9 665.2 243.5 665.3zM250.2 663.3L250.7 665.3 249.1 665.1zM257.1 663.7L257.9 665.2 256.3 665.2zM34 656L33.5 655.2 34.9 656zM40.4 657.6L40.7 655.2 42.1 656zM47.5 657.9L47.7 655.6 49.2 656.3zM55.3 657.4L55 655.4 56.6 655.8zM62.4 658.2L62.1 655.9 63.7 656.2zM69.4 657.8L69.4 655.4 70.9 655.9zM76.6 658.5L76.4 656.1 77.9 656.5zM83.3 658.2L83.5 655.8 85 656.5zM91.2 658.2L90.9 655.9 92.4 656.2zM98.7 657.3L98.1 655.5 99.7 655.7zM104.9 658.3L105.1 656 106.5 656.6zM112.5 657.1L112.6 655.2 114 656zM120.4 657.9L119.7 655.7 121.3 655.8zM128.4 658.3L127.1 656.4 128.6 656zM134.6 657.7L134.1 655.5 135.7 655.7zM141.8 653.1L142.8 655.2 141.2 655.3zM149.4 658.1L148.5 655.9 150.1 655.9zM156.1 653.8L157.2 655.4 155.7 655.8zM163.7 657.8L162.9 655.6 164.4 655.6zM171.1 653.4L171.6 655.7 170 655.5zM177.5 657.6L177.3 655.4 178.8 655.8zM184.8 653L185.9 655 184.4 655.3zM192.2 653.3L193.2 655.4 191.6 655.5zM200.4 653.6L200.3 655.9 198.9 655.3zM206.4 653.1L207.5 655.1 205.9 655.4zM213.6 657.6L213.2 655.4 214.8 655.7zM221.6 657.1L220.4 655.8 221.9 655.3zM227.7 653.9L229.1 655.3 227.6 655.9zM236.3 657.7L234.8 655.9 236.3 655.3zM242.7 653.7L243.5 655.6 241.9 655.6zM249.9 653.4L250.7 655.6 249.1 655.6zM256.5 658L256.3 655.6 257.8 656.1zM34.1 646.3L33.5 645.6 35 646.2zM40.8 647.3L40.7 645.6 42.1 646.3zM48.1 648.3L47.8 645.9 49.3 646.3zM55.4 648.4L55 646.1 56.5 646.3zM62.6 648.5L62.1 646.2 63.7 646.4zM69.5 647.3L69.5 645.6 70.9 646.3zM77.1 647.7L76.6 645.8 78.2 646zM83.7 647.7L83.8 645.6 85.3 646.3zM91.2 647.5L91 645.7 92.5 646.2zM98.5 647.6L98.2 645.7 99.7 646.1zM105.7 647.8L105.3 645.7 106.9 646.1zM112.6 648.6L112.4 646.2 113.9 646.6zM120.1 647.6L119.7 645.7 121.3 646.1zM127.3 648L126.9 645.8 128.5 646.1zM134.8 648.9L134.1 646.7 135.7 646.7zM141.9 643.9L142.9 645.9 141.3 646zM148.8 648.4L148.4 646 150 646.3zM156.9 648.6L155.8 646.6 157.3 646.3zM163.7 648L162.9 645.9 164.5 645.9zM170.7 648.7L170 646.5 171.6 646.5zM178.1 643.2L178.8 645.4 177.2 645.4zM185 643.4L186 645.5 184.4 645.6zM192.6 648.1L191.6 646 193.2 645.9zM199.3 643.9L200.4 645.8 198.8 646.1zM207.1 643.9L207.6 646.1 206 645.8zM213.6 644.4L214.8 645.7 213.2 646.1zM220.3 648.1L220.4 645.7 221.9 646.3zM228.5 644.4L229.2 646 227.6 645.9zM235.2 644.4L236.3 645.8 234.8 646.1zM242.8 644.2L243.5 646 241.9 645.9zM249.6 647.7L249.2 645.8 250.7 646.1zM257.1 648.3L256.3 646.1 257.9 646.2zM34 636.6L33.5 635.9 34.9 636.7zM40.7 638.4L40.6 636.1 42.2 636.6zM48.1 638.2L47.8 636.1 49.4 636.5zM55.1 637.7L55.1 635.9 56.5 636.6zM61.9 639L62 636.6 63.5 637.2zM69.4 638L69.4 636 70.9 636.6zM76.4 639L76.4 636.7 77.9 637.2zM83.6 638.4L83.8 636.1 85.2 636.7zM91.3 638.1L91 636.1 92.5 636.5zM98.2 638.9L98 636.5 99.6 637zM105.7 637.7L105.4 636 106.9 636.5zM112.9 638.3L112.5 636.1 114.1 636.4zM120.6 633.5L121.3 635.7 119.7 635.7zM127.9 639L126.9 636.9 128.5 636.7zM134.7 634.1L135.7 636.2 134.1 636.4zM142.1 634.1L142.9 636.3 141.3 636.3zM149.9 634L150.1 636.3 148.5 635.9zM157 638.4L155.7 636.5 157.2 636.1zM163.2 633.5L164.3 635.5 162.8 635.8zM170.8 633.7L171.6 635.9 170 635.9zM177.9 634.1L178.8 636.3 177.2 636.3zM185.1 639L184.4 636.8 186 636.8zM192.9 639.2L191.8 637.2 193.3 636.9zM199.5 638L198.8 636.2 200.4 636.3zM207.7 633.8L207.7 636.1 206.2 635.6zM213.5 634.2L214.8 636.1 213.2 636.4zM221.3 638.1L220.4 636.3 222 636.2zM228.7 634.1L229.2 636.4 227.6 636.2zM235.7 633.8L236.4 636.1 234.8 636zM242.1 638.3L242 636.1 243.5 636.5zM249.5 638.4L249.2 636.1 250.7 636.4zM257.1 634.5L257.9 636.3 256.3 636.3zM34 627L33.5 626.3 34.9 627zM40.3 629L40.5 626.6 42 627.3zM48.3 629.4L47.7 627.2 49.3 627.3zM54.9 628.5L55.1 626.3 56.5 627zM62.7 628.9L62.2 626.6 63.8 626.8zM69.1 628.9L69.3 626.6 70.7 627.3zM76.1 629.3L76.3 626.9 77.8 627.6zM84.1 628.3L83.8 626.4 85.3 626.8zM90.6 628.8L90.9 626.5 92.3 627.2zM98.2 628.2L98.2 626.3 99.7 627zM105.5 628.7L105.4 626.4 106.9 626.9zM113 629.2L112.5 627 114.1 627.2zM120 628.7L119.7 626.4 121.3 626.8zM127.7 624.2L128.5 626.4 126.9 626.5zM134.9 624.8L135.7 626.6 134.1 626.7zM142.4 628.5L141.3 626.8 142.9 626.5zM149.6 629.1L148.5 627 150.1 626.8zM156.6 629.6L155.7 627.4 157.3 627.4zM164.1 624.1L164.5 626.4 162.9 626.1zM171.3 629L170.1 627 171.7 626.7zM178.1 624.7L178.8 626.7 177.2 626.6zM184.8 624L185.9 626.1 184.4 626.4zM192.2 629.4L191.6 627.1 193.2 627.2zM200 629.1L198.9 627.1 200.4 626.9zM207 628.4L206 626.7 207.6 626.5zM214 629L213.2 626.8 214.8 626.8zM221.7 624.4L222 626.7 220.4 626.3zM228.8 628.3L227.6 626.9 229.1 626.4zM235.2 624L236.3 626 234.7 626.3zM243.2 624.3L243.6 626.6 242 626.3zM249.6 625L250.7 626.5 249.2 626.8zM257 624.5L257.9 626.6 256.3 626.7zM34 617.4L33.5 616.7 34.9 617.3zM40.6 618.7L40.7 616.6 42.1 617.4zM47.3 619.5L47.6 617.2 49 617.9zM55.4 618.7L55 616.8 56.6 617.2zM62.6 619.1L62.2 616.8 63.8 617.1zM69.1 619L69.4 616.7 70.8 617.5zM76.6 618.6L76.6 616.7 78.1 617.3zM84 618.7L83.8 616.8 85.3 617.2zM91.2 618.9L91 616.8 92.5 617.2zM97.9 619.4L98 617 99.5 617.7zM105.8 619.3L105.3 617 106.9 617.2zM112.5 618.4L112.6 616.6 114 617.4zM119.2 619.5L119.5 617.1 121 617.9zM128.5 614.6L128.6 616.9 127.1 616.4zM134.3 619.8L134 617.5 135.5 617.8zM141.6 619.4L141.3 617 142.8 617.4zM149.9 619.5L148.6 617.6 150.1 617.1zM157 619.6L155.8 617.6 157.3 617.3zM165.2 619.8L163.4 618.3 164.8 617.5zM169.9 614.9L171.5 616.6 170.1 617.2zM179.3 620.1L177.7 618.4 179.2 617.8zM186.4 619.3L184.7 617.7 186.1 617zM193.2 619.5L191.8 617.7 193.3 617.2zM199.2 615.5L200.4 616.8 198.8 617.2zM206.2 618.6L206 616.7 207.5 617.3zM213.5 618.5L213.2 616.8 214.8 617.2zM221.6 619.7L220.5 617.6 222.1 617.4zM228.1 615.1L229.2 616.9 227.6 617.1zM235.2 614.9L236.3 616.8 234.8 617.1zM242.3 619.4L241.9 617.1 243.5 617.4zM249.9 614.4L250.7 616.6 249.1 616.6zM257.5 619.3L256.4 617.2 257.9 616.9zM34 608L33.4 607.1 35 607.6zM41.1 609.6L40.6 607.3 42.2 607.5zM48.3 608.9L47.8 607.2 49.4 607.5zM54.6 609.8L54.8 607.5 56.3 608.2zM62 609.6L62.1 607.3 63.6 607.9zM69.8 609.3L69.4 607.2 71 607.5zM77.2 608.9L76.6 607.2 78.2 607.4zM83.8 609.5L83.8 607.1 85.3 607.7zM91.1 609.5L91 607.1 92.5 607.6zM98.6 609.2L98.1 607.2 99.7 607.5zM105 609.6L105.3 607.3 106.7 608zM112.4 609.7L112.5 607.3 114 607.9zM119.3 609.9L119.5 607.6 121 608.2zM129 604.9L128.7 607.2 127.3 606.4zM133.7 610.6L133.7 608.3 135.2 608.8zM143.6 604.8L143.1 607.1 141.8 606.3zM148.4 605.2L150 606.9 148.5 607.6zM157.1 610.3L155.8 608.3 157.4 608zM165.2 609.8L163.3 608.4 164.7 607.5zM169.7 604.4L171.2 606.1 169.7 606.7zM178.6 609.8L177.3 607.8 178.9 607.5zM186.4 609.6L184.7 608.1 186.1 607.3zM193.5 609.4L191.7 607.8 193.2 607zM200 605.6L200.4 607.5 198.8 607.2zM207.6 609.7L206.1 607.9 207.6 607.4zM214.2 610L213.2 607.9 214.8 607.8zM221.1 605.4L222 607.3 220.4 607.4zM227.9 609.4L227.6 607.2 229.1 607.5zM234.8 605.2L236.3 607 234.8 607.6zM243.5 609.3L242 607.6 243.5 607.1zM249.4 604.8L250.6 606.8 249.1 607.1zM257.1 609.5L256.3 607.3 257.9 607.4zM34 598.4L33.5 597.4 35 598zM40.7 599.4L40.7 597.4 42.1 598zM48.4 599.9L47.8 597.7 49.4 597.8zM55.6 599.5L55 597.6 56.6 597.8zM62.8 599.3L62.2 597.6 63.8 597.8zM69.6 599.4L69.4 597.4 70.9 598zM76.8 599.2L76.6 597.4 78.1 598zM83.6 600.1L83.7 597.8 85.2 598.4zM90.9 600.2L90.8 597.9 92.4 598.4zM98.2 600.2L98.1 597.8 99.6 598.3zM105.8 600L105.3 597.7 106.9 597.9zM112.9 599.3L112.5 597.5 114.1 597.9zM122.2 595.2L121.6 597.4 120.3 596.6zM126.2 600.4L126.6 598.1 128 598.9zM133.5 600.8L133.7 598.5 135.1 599.1zM141.3 600L141.2 597.7 142.8 598.2zM150.4 600.2L148.8 598.5 150.2 597.9zM157.1 600.7L155.9 598.7 157.4 598.4zM162.7 594.8L164.2 596.7 162.6 597.2zM171.4 600.5L170.2 598.5 171.8 598.2zM179 599.8L177.3 598.1 178.8 597.4zM186.1 600.1L184.6 598.3 186.1 597.7zM193.5 600.8L192 599 193.5 598.4zM200.3 595.8L200.4 598 198.8 597.4zM206.1 599.9L206 597.6 207.5 598.1zM213.9 599.7L213.2 597.7 214.8 597.7zM221.5 595.7L222 597.8 220.4 597.6zM228.8 596.2L229.1 597.9 227.6 597.5zM235.3 595.8L236.4 597.6 234.8 597.8zM242.8 596.1L243.5 597.7 241.9 597.7zM250.1 595.4L250.7 597.6 249.1 597.6zM257.2 596.1L257.9 597.7 256.3 597.7zM34.1 588.4L33.5 587.8 35 588.3zM40.5 589.8L40.7 587.7 42.1 588.4zM47.8 590.3L47.8 588 49.3 588.5zM55.4 590.7L54.9 588.4 56.5 588.7zM62.5 590.4L62.2 588.1 63.7 588.4zM69.2 590.5L69.3 588.1 70.8 588.7zM76.9 590.9L76.5 588.6 78.1 588.9zM84.3 589.5L83.8 587.9 85.3 588.2zM91.3 590L91 587.9 92.5 588.2zM98.4 589.5L98.2 587.8 99.7 588.3zM105.4 590.6L105.2 588.3 106.8 588.7zM112.8 590.9L112.4 588.6 114 588.9zM119.7 590.2L119.7 587.9 121.2 588.5zM126.7 590.1L126.9 587.8 128.4 588.5zM134.2 590.9L133.9 588.6 135.5 588.9zM140.7 590.8L140.9 588.5 142.4 589.2zM150.9 591L149.1 589.4 150.5 588.6zM157.1 590.9L155.8 589 157.4 588.6zM165 590.3L163.2 588.8 164.5 588zM171.9 591.3L170.4 589.5 172 589zM179.4 590.7L177.7 589.1 179.1 588.4zM186.3 591.3L184.9 589.4 186.4 588.9zM193.4 591.3L192 589.4 193.5 588.9zM199.6 585.8L200.4 588 198.8 588zM206.1 585.8L207.5 587.7 206 588.2zM213.3 586.2L214.7 587.8 213.2 588.3zM220.5 586.4L221.9 587.8 220.4 588.3zM228 586L229.2 587.9 227.6 588.2zM235.4 589.6L234.8 588 236.4 588.1zM243.6 585.7L243.6 588 242.1 587.4zM250.1 590.1L249.1 588.1 250.7 588zM257.6 586L257.9 588.2 256.4 587.9zM34.1 578.9L33.4 578.3 35 578.5zM41.2 579.9L40.6 578.3 42.2 578.5zM47.6 580.5L47.8 578.2 49.3 578.9zM55.2 580.6L55 578.3 56.6 578.7zM62.4 580.6L62.2 578.3 63.7 578.7zM69.3 580.5L69.4 578.2 70.9 578.8zM76.8 580.6L76.6 578.3 78.1 578.7zM83.5 580.6L83.7 578.3 85.2 579zM90.9 580L91 578 92.4 578.8zM98.4 580.4L98.2 578.2 99.7 578.6zM105.5 581.2L105.2 578.9 106.8 579.2zM113 580.5L112.5 578.3 114.1 578.5zM119.9 580.6L119.7 578.2 121.3 578.7zM126.8 580.8L126.8 578.4 128.3 579zM133.7 580.3L134.2 578 135.5 578.9zM141.3 581.8L141 579.5 142.6 579.8zM150.4 581.2L148.8 579.5 150.3 578.9zM157.7 580.9L156 579.3 157.4 578.6zM162.4 575.3L164 577.1 162.5 577.7zM172.5 580.9L170.6 579.5 171.9 578.7zM179.1 580.4L177.4 578.9 178.8 578.1zM186.2 580.7L184.6 579 186.1 578.3zM193 581.7L191.8 579.7 193.4 579.3zM199.5 580.3L198.8 578.4 200.4 578.5zM206.4 580.5L206 578.3 207.6 578.6zM213.9 576.8L214.8 578.4 213.2 578.5zM221.7 579.8L220.4 578.7 221.9 578.1zM228.9 576.9L229.1 578.7 227.6 578.1zM235.7 576.2L236.4 578.5 234.8 578.4zM242.9 575.7L243.6 578 242 577.9zM249.4 580.7L249.1 578.4 250.7 578.7zM257.3 580.1L256.3 578.5 257.9 578.3zM34 569.3L33.5 568.5 35 569.1zM40.2 571.2L40.4 568.9 41.9 569.6zM48.1 570.3L47.8 568.5 49.4 569zM55.2 571L55 568.6 56.5 569zM62.4 571.1L62.1 568.8 63.7 569.2zM69.9 570.8L69.4 568.7 71 568.9zM77 571.3L76.5 569 78.1 569.2zM84.3 570.7L83.8 568.7 85.3 568.9zM91.2 570.5L91 568.5 92.5 569zM98.2 571.2L98.1 568.9 99.6 569.3zM105.1 571.2L105.2 568.9 106.7 569.5zM113.1 571.3L112.5 569.1 114.1 569.2zM121.7 565.5L121.7 567.9 120.2 567.3zM126.4 570.8L126.9 568.5 128.2 569.4zM133.7 571.1L134 568.7 135.4 569.5zM141.5 571.1L141.3 568.7 142.8 569.1zM148.5 565.7L149.8 567.6 148.3 568zM157.2 571.3L155.8 569.4 157.3 568.9zM164.6 572L163.2 570.1 164.8 569.7zM171.4 571.8L170.2 569.8 171.8 569.5zM179.4 571.5L177.7 569.9 179.1 569.2zM186.9 571.5L185.1 570.1 186.4 569.2zM193.2 571.2L191.8 569.3 193.3 568.8zM200.5 566.3L200.5 568.6 199 568zM206.7 566.3L207.6 568.5 206 568.5zM214.1 571.1L213.2 568.9 214.8 568.8zM221.4 567L222 568.9 220.4 568.7zM228.2 570.7L227.6 568.7 229.2 568.8zM236 570.7L234.8 568.9 236.3 568.6zM242.5 570.4L242 568.7 243.5 568.9zM250.1 566.5L250.7 568.8 249.1 568.7zM257.1 567.1L257.9 568.8 256.3 568.8zM34 559.5L33.5 558.8 34.9 559.5zM41 561.5L40.6 559.1 42.2 559.4zM47.7 561.2L47.8 558.8 49.3 559.5zM55.2 561.5L55 559.2 56.5 559.6zM62.1 560.9L62.3 558.8 63.7 559.5zM69.3 560.9L69.5 558.8 70.9 559.5zM76.8 560.9L76.6 558.9 78.1 559.4zM83.8 560.8L83.8 558.8 85.3 559.4zM90.9 561.2L91 558.9 92.4 559.5zM98.6 561.7L98.1 559.4 99.7 559.6zM105.6 561.5L105.3 559.2 106.9 559.5zM112.5 561.4L112.5 559.1 114 559.6zM119.4 561.7L119.5 559.3 121 560zM126.9 561.5L126.8 559.1 128.4 559.7zM134.1 561.5L134 559.2 135.5 559.7zM140.8 561.9L141 559.6 142.5 560.2zM150 562.5L148.7 560.5 150.3 560.1zM157.7 561.7L156 560.1 157.5 559.4zM164.3 561.4L162.9 559.5 164.5 559.1zM170.1 556.3L171.4 558.2 169.9 558.6zM179 562.4L177.6 560.5 179.1 560zM186.5 561.4L184.7 559.8 186.1 559zM193.5 561.2L191.8 559.6 193.2 558.9zM199.5 560.8L198.8 559.1 200.4 559.2zM207 561.8L206 559.7 207.6 559.6zM214.6 561.3L213.2 559.4 214.8 559zM221.9 557.2L221.9 559.4 220.4 558.8zM228.5 557.1L229.2 559.2 227.6 559.1zM235.4 556.6L236.3 558.7 234.7 558.8zM242.4 560.8L242 559 243.5 559.3zM249.4 560.6L249.2 558.9 250.7 559.4zM257.8 556.5L258 558.8 256.5 558.4zM34.1 550L33.4 549.3 35 549.7zM40.3 552.1L40.4 549.7 41.9 550.4zM48.1 552.4L47.7 550.1 49.2 550.4zM54.6 551.7L54.9 549.4 56.3 550.2zM61.6 552L61.9 549.7 63.3 550.5zM69.8 550.9L69.4 549.3 70.9 549.7zM76.9 552.2L76.5 549.9 78.1 550.2zM83.8 551L83.8 549.1 85.3 549.8zM91.2 551.6L91 549.3 92.5 549.7zM98.3 550.9L98.2 549.1 99.7 549.8zM105.4 550.8L105.4 549.1 106.8 549.8zM113.1 551.5L112.5 549.4 114.1 549.5zM119.9 552.4L119.6 550.1 121.1 550.5zM126.6 552.3L126.6 550 128.1 550.6zM134 551.6L134.1 549.3 135.6 549.9zM141.6 552L141.2 549.7 142.8 550zM150.3 552.8L148.9 551 150.4 550.5zM157 552L155.8 550 157.3 549.7zM164.4 552.1L163 550.2 164.6 549.8zM171.7 552L170.2 550.1 171.7 549.7zM178.8 552.1L177.4 550.2 178.9 549.7zM186.3 552.6L184.8 550.8 186.3 550.3zM193.8 552L192 550.5 193.4 549.7zM199.8 547.4L200.4 549.5 198.8 549.4zM207.3 547.8L207.6 549.7 206 549.2zM214.8 546.9L214.9 549.2 213.4 548.7zM220.7 547.5L222 549.3 220.4 549.7zM228.8 547.1L229.2 549.4 227.6 549.1zM235.6 546.8L236.4 549 234.8 549zM242.7 547.9L243.5 549.4 241.9 549.5zM250.1 551.6L249.1 549.5 250.7 549.4zM256.9 547.9L257.9 549.4 256.3 549.6zM34.1 540.2L33.5 539.6 35 540.1zM40.6 541.7L40.7 539.5 42.1 540.1zM48.3 542.7L47.7 540.4 49.3 540.6zM55.1 541.5L55.1 539.5 56.5 540.1zM62.2 541.9L62.2 539.6 63.7 540.1zM69.9 541.3L69.4 539.7 71 540zM76.4 541.6L76.7 539.5 78.1 540.2zM83.6 542L83.8 539.7 85.2 540.3zM91.3 542.6L90.9 540.3 92.5 540.5zM98 542.6L98 540.2 99.5 540.7zM105 542.2L105.2 539.8 106.7 540.5zM113 541.4L112.5 539.7 114.1 540zM121.2 537.6L121.3 539.9 119.8 539.5zM127.1 542.7L126.8 540.4 128.4 540.7zM133.5 542L134 539.7 135.4 540.5zM143 536.5L143.2 538.8 141.6 538.4zM150.3 542.1L148.7 540.5 150.1 539.8zM157.5 543L156.1 541.1 157.6 540.6zM164.7 542.6L163.2 540.9 164.7 540.3zM172 543.1L170.5 541.3 172 540.8zM176.9 537.2L178.5 538.9 177 539.6zM186 542.8L184.7 540.9 186.2 540.5zM193.4 542L191.8 540.3 193.2 539.7zM200.4 541.7L198.9 540.1 200.3 539.5zM207 537.5L207.6 539.7 206 539.6zM214.3 538.3L214.8 540 213.2 539.7zM221.5 541.9L220.4 539.9 222 539.7zM228.7 537.5L229.2 539.8 227.6 539.6zM235.5 542.2L234.8 540 236.4 540zM242.3 538.2L243.5 539.6 242 540zM249.8 541.7L249.1 539.8 250.7 539.9zM256.7 541.6L256.3 539.7 257.9 540zM33.9 530.8L33.5 529.8 34.9 530.5zM40.8 531.6L40.7 529.9 42.1 530.5zM47.8 533L47.6 530.7 49.2 531.1zM55.2 531.9L55 529.9 56.6 530.4zM62.3 532.7L62.1 530.4 63.6 530.8zM69.1 532.8L69.2 530.5 70.7 531.1zM76.7 531.8L76.6 529.9 78.1 530.5zM83.3 532.8L83.5 530.4 85 531.1zM91 532.9L90.8 530.6 92.4 531zM98.1 532.6L98 530.3 99.6 530.8zM104.8 532.7L105.1 530.4 106.6 531.1zM113 532.2L112.5 530 114.1 530.3zM119.5 532.2L119.7 529.9 121.2 530.6zM127 533.6L126.7 531.3 128.2 531.6zM135.6 527.7L135.8 530.1 134.2 529.6zM141.4 533L141.1 530.7 142.7 531zM150.1 532.6L148.6 530.8 150.1 530.3zM157.5 532.3L155.8 530.7 157.3 530zM164.8 532.2L163 530.7 164.4 529.9zM169 527.4L170.9 528.8 169.6 529.7zM179.1 533L177.6 531.2 179.1 530.7zM186.1 533.4L184.8 531.5 186.3 531zM193.9 532.6L192.1 531.1 193.4 530.3zM199.7 527.8L200.4 530 198.8 530zM207.1 527.9L207.6 530.2 206 530zM213.7 528.1L214.8 530.1 213.2 530.3zM221.1 528.5L222 530.1 220.4 530.2zM228.7 532L227.6 530.3 229.2 530zM235.5 528.2L236.4 530.2 234.8 530.2zM242.1 532.2L242 529.9 243.5 530.4zM249.7 527.8L250.7 529.9 249.1 530.1zM257.6 532.1L256.3 530.4 257.9 530zM34.1 520.9L33.4 520.3 35 520.7zM40.7 521.9L40.7 520.1 42.1 520.9zM48 523.3L47.7 521 49.2 521.3zM55.6 522.6L55 520.4 56.6 520.6zM62.1 522.6L62.2 520.3 63.7 520.9zM69 523L69.2 520.7 70.7 521.4zM77 522.5L76.6 520.4 78.2 520.7zM83.6 522.7L83.7 520.4 85.2 521zM91.2 522.9L90.9 520.6 92.5 520.9zM97.9 522.9L98.1 520.5 99.5 521.2zM105.4 522.7L105.3 520.4 106.8 520.9zM112.4 522.3L112.6 520.2 114 520.9zM119.7 522.8L119.7 520.5 121.2 521zM126.7 523.4L126.7 521.1 128.2 521.6zM133.8 523.5L133.8 521.1 135.3 521.7zM140.8 523.3L141 521 142.5 521.7zM150.1 522.7L148.6 520.9 150.1 520.3zM157.9 523.1L156.1 521.6 157.5 520.8zM162.7 517.9L164.2 519.7 162.7 520.3zM172.1 523.6L170.5 521.8 172 521.2zM179.2 522.6L177.4 521.1 178.8 520.3zM186.5 523.3L184.8 521.6 186.3 520.9zM193.8 523.5L192.2 521.9 193.6 521.2zM199.4 523L198.8 520.7 200.4 520.8zM206.2 518.5L207.6 520.3 206 520.7zM213.9 523.2L213.2 520.9 214.8 521zM221.3 519L222 520.6 220.4 520.5zM227.7 523L227.5 520.7 229 521.1zM234.9 522.6L234.8 520.3 236.3 520.8zM242.6 522.5L241.9 520.5 243.5 520.6zM250 518.8L250.7 520.5 249.1 520.5zM257.5 522.7L256.3 520.7 257.9 520.4zM34 511.4L33.5 510.6 35 511.2zM40.3 513.2L40.5 510.9 42 511.5zM47.9 512.3L47.9 510.5 49.3 511.2zM55.2 513L55 510.7 56.6 511.1zM62.4 512.7L62.2 510.6 63.7 511.1zM69.5 512.5L69.4 510.6 70.9 511.2zM76.8 512.9L76.6 510.7 78.1 511.1zM83.2 513.5L83.5 511.1 84.9 511.9zM91 513.7L90.8 511.3 92.4 511.7zM98.4 512.9L98.2 510.7 99.7 511.1zM105.5 512.8L105.4 510.6 106.9 511.1zM112.9 512.4L112.5 510.7 114.1 511.1zM119.6 512.9L119.8 510.6 121.2 511.3zM126.4 513.5L126.7 511.1 128.1 511.8zM135.5 508.6L135.7 510.9 134.2 510.5zM141.3 514.2L141 511.9 142.6 512.3zM150.5 513.1L148.7 511.6 150.1 510.8zM157.6 513.6L156 511.8 157.5 511.2zM165.1 513.4L163.3 511.9 164.7 511.1zM171.9 513.3L170.3 511.6 171.8 511zM179.1 513.3L177.5 511.6 178.9 511zM186.7 513.3L184.9 511.9 186.2 511zM193.8 513L191.9 511.6 193.3 510.7zM198.8 513.2L198.8 510.9 200.3 511.4zM206.7 512.5L206 510.8 207.6 511zM214.1 513.3L213.2 511.1 214.8 511zM221.3 509.2L222 510.9 220.4 510.8zM228.8 512.7L227.6 511.1 229.1 510.7zM234.7 508.6L236.2 510.4 234.7 510.9zM242.8 508.3L243.6 510.5 242 510.5zM249.3 509.3L250.7 510.6 249.2 511.2zM257.5 512.7L256.3 511 257.9 510.7zM33.9 501.8L33.5 500.9 34.9 501.6zM40.4 503.1L40.7 500.9 42.1 501.6zM47.9 503.2L47.9 501 49.3 501.5zM55.4 503.7L55 501.4 56.5 501.6zM62.7 503.4L62.2 501.1 63.8 501.3zM69.1 503.7L69.3 501.3 70.7 502zM77 503.2L76.6 501.1 78.1 501.4zM83.8 503.3L83.8 501 85.3 501.5zM91.2 503L91 501 92.5 501.5zM97.9 503.5L98.1 501.1 99.6 501.8zM105.5 503.6L105.3 501.3 106.8 501.7zM112.2 503.9L112.3 501.5 113.8 502.2zM119.6 503.4L119.7 501.1 121.2 501.7zM126.5 503.6L126.8 501.2 128.2 502zM135.5 498L135.9 500.3 134.3 500zM140.9 503.8L141.1 501.5 142.5 502.2zM147.8 498.7L149.6 500.2 148.2 501zM155.4 499L157 500.6 155.6 501.3zM164.5 504.4L163.2 502.5 164.7 502.1zM171.7 504.6L170.4 502.6 171.9 502.2zM177.4 498.2L178.6 500.2 177.1 500.5zM186 504.4L184.7 502.4 186.2 502.1zM193 503.8L191.7 501.8 193.3 501.4zM199.3 503.2L198.8 501.1 200.4 501.4zM206.9 499.3L207.6 501.3 206 501.2zM213.9 503.3L213.2 501.2 214.8 501.3zM221.2 503.2L220.4 501.2 222 501.2zM228.1 499.4L229.2 501.1 227.6 501.3zM235.3 499.4L236.4 501.1 234.8 501.3zM243.3 498.6L243.6 500.9 242.1 500.6zM249.4 499.6L250.7 501 249.2 501.5zM256.6 503.2L256.4 501 257.9 501.4z" style="fill:#000;stroke:none" /></g>
<g id="line2d_130">
<path d="M115.2 721.6L115.2 500.5" clip-path="url(#pd62a0e9e07)" style="fill:none;stroke:#ffffff;stroke-width:1.6" />
</g>
<g id="line2d_131">
<path d="M115.2 721.6L115.2 500.5" clip-path="url(#pd62a0e9e07)" style="fill:none;stroke-dasharray:4.6,2.5;stroke-dashoffset:0;stroke:#333333;stroke-width:1.6" />
</g>
<g id="line2d_132">
<path d="M194.7 721.6L194.7 500.5" clip-path="url(#pd62a0e9e07)" style="fill:none;stroke:#ffffff;stroke-width:1.6" />
</g>
<g id="line2d_133">
<path d="M194.7 721.6L194.7 500.5" clip-path="url(#pd62a0e9e07)" style="fill:none;stroke-dasharray:4.6,2.5;stroke-dashoffset:0;stroke:#333333;stroke-width:1.6" />
</g>
<g id="line2d_134">
<path d="M115.2 721.6L194.7 721.6" clip-path="url(#pd62a0e9e07)" style="fill:none;stroke-dasharray:4.6,2.5;stroke-dashoffset:0;stroke:#333333;stroke-width:1.6" />
</g>
<g id="patch_35">
<path d="M33.5 723.1L33.5 500.5" style="fill:none;stroke:#000000;stroke-width:1;stroke-linejoin:miter;stroke-linecap:square" />
</g>
<g id="patch_36">
<path d="M263.6 723.1L263.6 500.5" style="fill:none;stroke:#000000;stroke-width:1;stroke-linejoin:miter;stroke-linecap:square" />
</g>
<g id="patch_37">
<path d="M33.5 723.1L263.6 723.1" style="fill:none;stroke:#000000;stroke-width:1;stroke-linejoin:miter;stroke-linecap:square" />
</g>
<g id="patch_38">
<path d="M33.5 500.5L263.6 500.5" style="fill:none;stroke:#000000;stroke-width:1;stroke-linejoin:miter;stroke-linecap:square" />
</g>
<g id="text_76">
<g id="patch_39">
<path d="M36.9 515.4L56.5 515.4L56.5 503.1L36.9 503.1z" style="fill:#ffffff" />
</g>
<text style="font-weight:700;font-size:11.7px;font-family:&quot;Liberation Sans&quot;, sans-serif;text-anchor:start" x="37.4" y="512.5" transform="rotate(0 37.4 512.5)" textLength="18.6" lengthAdjust="spacingAndGlyphs">(e)</text>
</g>
</g>
<g id="axes_10">
<g id="patch_40">
<path d="M278 723.1L289.4 723.1L289.4 500.5L278 500.5z" style="fill:#ffffff" />
</g>
<g id="QuadMesh_5">
<path d="M278 723.1L289.4 723.1L289.4 713L278 713L278 723.1" clip-path="url(#p9e24a1d734)" style="fill:#053061" />
<path d="M278 713L289.4 713L289.4 702.9L278 702.9L278 713" clip-path="url(#p9e24a1d734)" style="fill:#124984" />
<path d="M278 702.9L289.4 702.9L289.4 692.7L278 692.7L278 702.9" clip-path="url(#p9e24a1d734)" style="fill:#1f63a8" />
<path d="M278 692.7L289.4 692.7L289.4 682.6L278 682.6L278 692.7" clip-path="url(#p9e24a1d734)" style="fill:#2f79b5" />
<path d="M278 682.6L289.4 682.6L289.4 672.5L278 672.5L278 682.6" clip-path="url(#p9e24a1d734)" style="fill:#3f8ec0" />
<path d="M278 672.5L289.4 672.5L289.4 662.4L278 662.4L278 672.5" clip-path="url(#p9e24a1d734)" style="fill:#5fa5cd" />
<path d="M278 662.4L289.4 662.4L289.4 652.3L278 652.3L278 662.4" clip-path="url(#p9e24a1d734)" style="fill:#87beda" />
<path d="M278 652.3L289.4 652.3L289.4 642.2L278 642.2L278 652.3" clip-path="url(#p9e24a1d734)" style="fill:#a7d0e4" />
<path d="M278 642.2L289.4 642.2L289.4 632L278 632L278 642.2" clip-path="url(#p9e24a1d734)" style="fill:#c5dfec" />
<path d="M278 632L289.4 632L289.4 621.9L278 621.9L278 632" clip-path="url(#p9e24a1d734)" style="fill:#dbeaf2" />
<path d="M278 621.9L289.4 621.9L289.4 611.8L278 611.8L278 621.9" clip-path="url(#p9e24a1d734)" style="fill:#edf2f5" />
<path d="M278 611.8L289.4 611.8L289.4 601.7L278 601.7L278 611.8" clip-path="url(#p9e24a1d734)" style="fill:#f9f0eb" />
<path d="M278 601.7L289.4 601.7L289.4 591.6L278 591.6L278 601.7" clip-path="url(#p9e24a1d734)" style="fill:#fbe3d4" />
<path d="M278 591.6L289.4 591.6L289.4 581.4L278 581.4L278 591.6" clip-path="url(#p9e24a1d734)" style="fill:#fbd0b9" />
<path d="M278 581.4L289.4 581.4L289.4 571.3L278 571.3L278 581.4" clip-path="url(#p9e24a1d734)" style="fill:#f7b799" />
<path d="M278 571.3L289.4 571.3L289.4 561.2L278 561.2L278 571.3" clip-path="url(#p9e24a1d734)" style="fill:#f09c7b" />
<path d="M278 561.2L289.4 561.2L289.4 551.1L278 551.1L278 561.2" clip-path="url(#p9e24a1d734)" style="fill:#e17860" />
<path d="M278 551.1L289.4 551.1L289.4 541L278 541L278 551.1" clip-path="url(#p9e24a1d734)" style="fill:#d25849" />
<path d="M278 541L289.4 541L289.4 530.9L278 530.9L278 541" clip-path="url(#p9e24a1d734)" style="fill:#c13639" />
<path d="M278 530.9L289.4 530.9L289.4 520.7L278 520.7L278 530.9" clip-path="url(#p9e24a1d734)" style="fill:#ae172a" />
<path d="M278 520.7L289.4 520.7L289.4 510.6L278 510.6L278 520.7" clip-path="url(#p9e24a1d734)" style="fill:#8a0b25" />
<path d="M278 510.6L289.4 510.6L289.4 500.5L278 500.5L278 510.6" clip-path="url(#p9e24a1d734)" style="fill:#67001f" />
</g>
<g id="matplotlib.axis_19" />
<g id="matplotlib.axis_20">
<g id="ytick_65">
<g id="line2d_135">
<g>
<use href="#mbff90f7d70" x="289.4" y="702.9" style="stroke:#000000;stroke-width:1" />
</g>
</g>
<g id="text_77">
<text style="font-size:10.4px;font-family:&quot;Liberation Sans&quot;, sans-serif;text-anchor:start" x="299.1" y="706.8" transform="rotate(0 299.1 706.8)" textLength="31.9" lengthAdjust="spacingAndGlyphs">−0.36</text>
</g>
</g>
<g id="ytick_66">
<g id="line2d_136">
<g>
<use href="#mbff90f7d70" x="289.4" y="672.5" style="stroke:#000000;stroke-width:1" />
</g>
</g>
<g id="text_78">
<text style="font-size:10.4px;font-family:&quot;Liberation Sans&quot;, sans-serif;text-anchor:start" x="299.1" y="676.5" transform="rotate(0 299.1 676.5)" textLength="31.9" lengthAdjust="spacingAndGlyphs">−0.24</text>
</g>
</g>
<g id="ytick_67">
<g id="line2d_137">
<g>
<use href="#mbff90f7d70" x="289.4" y="642.2" style="stroke:#000000;stroke-width:1" />
</g>
</g>
<g id="text_79">
<text style="font-size:10.4px;font-family:&quot;Liberation Sans&quot;, sans-serif;text-anchor:start" x="299.1" y="646.1" transform="rotate(0 299.1 646.1)" textLength="31.9" lengthAdjust="spacingAndGlyphs">−0.12</text>
</g>
</g>
<g id="ytick_68">
<g id="line2d_138">
<g>
<use href="#mbff90f7d70" x="289.4" y="611.8" style="stroke:#000000;stroke-width:1" />
</g>
</g>
<g id="text_80">
<text style="font-size:10.4px;font-family:&quot;Liberation Sans&quot;, sans-serif;text-anchor:start" x="299.1" y="615.8" transform="rotate(0 299.1 615.8)" textLength="23.2" lengthAdjust="spacingAndGlyphs">0.00</text>
</g>
</g>
<g id="ytick_69">
<g id="line2d_139">
<g>
<use href="#mbff90f7d70" x="289.4" y="581.4" style="stroke:#000000;stroke-width:1" />
</g>
</g>
<g id="text_81">
<text style="font-size:10.4px;font-family:&quot;Liberation Sans&quot;, sans-serif;text-anchor:start" x="299.1" y="585.4" transform="rotate(0 299.1 585.4)" textLength="23.2" lengthAdjust="spacingAndGlyphs">0.12</text>
</g>
</g>
<g id="ytick_70">
<g id="line2d_140">
<g>
<use href="#mbff90f7d70" x="289.4" y="551.1" style="stroke:#000000;stroke-width:1" />
</g>
</g>
<g id="text_82">
<text style="font-size:10.4px;font-family:&quot;Liberation Sans&quot;, sans-serif;text-anchor:start" x="299.1" y="555" transform="rotate(0 299.1 555)" textLength="23.2" lengthAdjust="spacingAndGlyphs">0.24</text>
</g>
</g>
<g id="ytick_71">
<g id="line2d_141">
<g>
<use href="#mbff90f7d70" x="289.4" y="520.7" style="stroke:#000000;stroke-width:1" />
</g>
</g>
<g id="text_83">
<text style="font-size:10.4px;font-family:&quot;Liberation Sans&quot;, sans-serif;text-anchor:start" x="299.1" y="524.7" transform="rotate(0 299.1 524.7)" textLength="23.2" lengthAdjust="spacingAndGlyphs">0.36</text>
</g>
</g>
<g id="text_84">
<g transform="translate(347.4 653.4) rotate(-90)">
<text>
<tspan x="0" y="-1.1" style="font-size:10.4px;font-family:&quot;Liberation Sans&quot;, sans-serif" textLength="7.13" lengthAdjust="spacingAndGlyphs">Δ</tspan>
<tspan x="27.4" y="-1.1" style="font-size:10.4px;font-family:&quot;Liberation Sans&quot;, sans-serif"> </tspan>
<tspan x="30.7" y="-1.1" style="font-size:10.4px;font-family:&quot;Liberation Sans&quot;, sans-serif" textLength="4.06" lengthAdjust="spacingAndGlyphs">[</tspan>
<tspan x="34.7" y="-1.1" style="font-size:10.4px;font-family:&quot;Liberation Sans&quot;, sans-serif" textLength="6.63" lengthAdjust="spacingAndGlyphs">1</tspan>
<tspan x="41.4" y="-1.1" style="font-size:10.4px;font-family:&quot;Liberation Sans&quot;, sans-serif" textLength="6.63" lengthAdjust="spacingAndGlyphs">0</tspan>
<tspan x="59.2" y="-1.1" style="font-size:10.4px;font-family:&quot;Liberation Sans&quot;, sans-serif"> </tspan>
<tspan x="62.5" y="-1.1" style="font-size:10.4px;font-family:&quot;Liberation Sans&quot;, sans-serif" textLength="5.43" lengthAdjust="spacingAndGlyphs">s</tspan>
<tspan x="79.1" y="-1.1" style="font-size:10.4px;font-family:&quot;Liberation Sans&quot;, sans-serif" textLength="4.06" lengthAdjust="spacingAndGlyphs">]</tspan>
<tspan x="7.1" y="-1.1" style="font-style:oblique;font-size:10.4px;font-family:&quot;Liberation Sans&quot;, sans-serif" textLength="7.27" lengthAdjust="spacingAndGlyphs">C</tspan>
<tspan x="14.4" y="-1.1" style="font-style:oblique;font-size:10.4px;font-family:&quot;Liberation Sans&quot;, sans-serif" textLength="6.37" lengthAdjust="spacingAndGlyphs">o</tspan>
<tspan x="20.8" y="-1.1" style="font-style:oblique;font-size:10.4px;font-family:&quot;Liberation Sans&quot;, sans-serif" textLength="6.60" lengthAdjust="spacingAndGlyphs">n</tspan>
<tspan x="48.1" y="-5.3" style="font-size:7.3px;font-family:&quot;Liberation Sans&quot;, sans-serif" textLength="6.11" lengthAdjust="spacingAndGlyphs">−</tspan>
<tspan x="54.2" y="-5.3" style="font-size:7.3px;font-family:&quot;Liberation Sans&quot;, sans-serif" textLength="4.64" lengthAdjust="spacingAndGlyphs">3</tspan>
<tspan x="68" y="-5.3" style="font-size:7.3px;font-family:&quot;Liberation Sans&quot;, sans-serif" textLength="6.11" lengthAdjust="spacingAndGlyphs">−</tspan>
<tspan x="74.1" y="-5.3" style="font-size:7.3px;font-family:&quot;Liberation Sans&quot;, sans-serif" textLength="4.64" lengthAdjust="spacingAndGlyphs">1</tspan>
</text>
</g>
</g>
</g>
<g id="LineCollection_5" />
<g id="patch_41">
<path d="M278 723.1L283.7 723.1L289.4 723.1L289.4 500.5L283.7 500.5L278 500.5L278 723.1z" style="fill:none;stroke:#000000;stroke-width:1;stroke-linejoin:miter;stroke-linecap:square" />
</g>
</g>
<g id="axes_11">
<g id="patch_42">
<path d="M361.5 723.1L592 723.1L592 500.5L361.5 500.5z" style="fill:#ffffff" />
</g>
<g id="QuadContourSet_7" clip-path="url(#p440bb8ea17)">
<g transform="scale(.5)"><path d="M884 1274l1-34-1-28-1 13 0 17 0 17z" style="fill:#3a87bd;stroke:#3a87bd;stroke-width:.8" />
<path d="M884 1285l2-17 0-28 0-22-2-16-1 7-1 33 1 35zM884 1274l-1-15 0-17 0-17 1-13 1 30zM760 1193l2-1 2-18 0-8-2-5-2 0-1 3-1 10 0 11z" style="fill:#4f9bc7;stroke:#4f9bc7;stroke-width:.8" />
<path d="M884 1293l2-16 0-39 0-31-2-12-1 2-1 8 0 35 0 41 1 9zM884 1285l-1-9-1-38 1-29 1-7 2 16 0 26 0 26zM762 1207l5-39-1-10-1-3-3-3-2 0-1 2-2 5-1 7-1 11 2 17 3 11zM760 1192l-2-7 0-11 1-10 1-3 2 0 2 5 0 9-2 17-2 1zM854 1176l2-1 0-7 0-7-2-2-1 2-1 5 1 7z" style="fill:#71b0d3;stroke:#71b0d3;stroke-width:.8" />
<path d="M905 1306l1-3 1-10 3-42 0-24-1-9-2 0-3 11-2 24 0 37 1 12zM884 1300l2-17 1-45-1-35-2-15-1 2-1 11-1 37 1 47 1 13zM884 1292l-1-2-1-13 0-46 0-28 1-6 1-2 2 16 0 40 0 32-2 10zM762 1232l1-2 1-25 4-28 1-11-1-14-2-3-4-4-2 0-2 3-3 7-1 11-1 13 1 19 6 16zM762 1207l-2-2-3-13-2-15 1-11 1-7 2-5 1-2 2 0 3 3 1 3 1 10-4 32zM854 1185l2 0 1-3 1-12-1-13-3-5-1 0-2 4-1 10 1 12zM854 1175l-2-9 1-5 1-2 2 3 0 8 0 5-2 1zM733 1138l0-5-1 3z" style="fill:#93c6de;stroke:#93c6de;stroke-width:.8" />
<path d="M763 1320l2-18 0-88 1-13 4-22 0-15-1-13-1-7-5-5-3-1-2 2-3 4-2 13-1 20 0 40 1 9 2-8 1-2 2 1 2 10 1 24 0 56 1 11zM762 1231l-3-19-5-14-1-19 1-13 1-11 3-7 2-3 2 0 4 4 2 3 1 14-1 11-4 28-1 25-1 2zM905 1321l1-2 1-4 2-10 3-35 0-50-1-13-2-4-3 4-3 9-3 24 0 58 2 15 1 6zM904 1305l-1-3-1-13 0-38 2-22 3-11 2 0 1 9 0 24-3 42-1 10zM737 1317l2 1 1-5 1-28-3-41-1-13-2-6-2 4 0 8-1 55 2 15zM884 1308l2-7 1-14 1-50-1-38-1-11-2-5-1 1-2 12-1 41 1 53 2 15zM884 1300l-1-2-2-15 0-52 1-32 1-9 1-2 3 17 0 43-1 39 0 7zM830 1304l1-1 2-16-1-32-1-11-2 7-1 21 0 22zM856 1192l1-1 2-6 1-17-2-15-2-5-2-1-1 0-2 2-1 4-2 17 3 16 2 4zM854 1185l-3-7-1-12 1-10 2-4 1 0 3 5 1 13-1 12-1 3zM732 1164l1 0 3-5 3-13 0-26 0-11-2-6-1 0-3 4-3 0-1 2-2 9 0 28 2 10zM733 1138l-1-2 1-3 1 3zM752 1049l1 2 1-4 1-13-1-20-1-4-1-2-5 12-1 9 1 5z" style="fill:#b1d5e7;stroke:#b1d5e7;stroke-width:.8" />
<path d="M740 1339l2-10 1-22-2-70-2-19-4-14-2-2-1 7-2 18 0 76 2 15 7 20zM737 1316l-4-11-1-13 1-55 0-8 2-4 2 10 2 11 2 41-1 26-1 5zM763 1335l2-9 1-15 0-95 5-33 0-17 0-15-2-11-3-6-4-4-2-1-4 3-1 2-2 8-2 15-1 28 0 80 1 16 1 6 0-2 1-6 2-41 1-7 2 0 1 20 1 71 2 13zM763 1320l-1-2-1-11 0-56-1-24-2-10-2-1-1 2-2 8-1-9 0-40 1-20 2-13 3-4 2-2 3 1 5 5 1 7 1 13 0 15-4 22-1 11 0 90zM905 1332l2-4 4-14 2-14 1-17 1-35-2-36-1-17-2-5-1 0-4 9-5 13-2 26-1 64 3 16 3 11zM904 1320l-2-7-2-17 1-58 2-22 3-9 3-4 2 4 1 15 0 52-3 35-3 10-1 2zM830 1319l1-2 2-6 1-24 0-45-2-13-1-1-2 5-2 7-1 28 0 37 1 9zM829 1303l-1-11 0-22 1-19 2-7 1 11 1 32-2 16zM883 1317l1 0 2-6 1-17 1-59-1-45-1-9-2-4-1 0-2 6-1 11-1 39 1 59 1 15zM884 1307l-1-1-1-4-1-15-1-62 1-31 2-10 1-1 2 5 1 13 1 49-1 42-1 9-2 7zM854 1200l3 1 2-5 2-13 1-11-1-11-2-10-2-6-3-3-3 1-2 6-3 10 0 9 1 9 2 11 2 7zM854 1192l-1-2-3-7-2-15 2-15 1-4 2-2 1 0 2 2 2 6 2 15-2 17-1 4-1 1zM732 1184l1 0 6-15 2-12 1-21 0-46 1-15 2-7 2-4 2 1 4 7 2 1 1-3 1-8 1-26-2-35-14 0-3 20-2 47-1 13-3 8-4-4-2 6-2 27 0 24 2 22zM730 1162l-1-6-2-12 1-28 1-7 1-3 3 1 3-4 1 0 2 6 1 13-1 26-2 7-2 7-2 2-1 0zM752 1049l-5-15-1-5 1-9 5-12 1 2 1 4 1 20-1 13-1 4zM841 1072l2-4 0-13-2-50 0-4-7 0 0 20 1 21zM1060 1068l2-2 0-6 1-20 0-17-3-9-1 7-1 19 1 18zM939 1047l1-13-1-19-1 14z" style="fill:#cce2ef;stroke:#cce2ef;stroke-width:.8" />
<path d="M843 1387l1-4 0-5-1-16-2 2 0 6zM743 1380l2-1 1-6 1-20-1-51-5-106 3-39 0-56 2-13 1-7 2-1 1 2 5 15 1-1 5-23 1-20-4-52-2 0 2 41 0 15-1 11-2 5-2-1-4-7-2-1-3 6-2 9 0 67-1 15-2 8-6 15-1 0-2-5-4-26-1-28 1-21 2-16 1-3 4 4 2-4 1-8 3-56 3-20-6 0-3 42-1-5-3-25-2 9-1 46-3 33 0 56 5 29 1 15-2 97 1 18 1 13 4 10 2 6 2 25 2 5zM740 1339l-8-22-2-14 0-76 2-18 1-7 2 2 4 14 2 22 2 71-1 23-2 5zM1005 1375l2 0 1-5 2-18-1-21-1-7-1-2-2 1-1 4-1 13 0 23zM776 1370l2-8 0-14 0-14-2-2-2 25 1 9zM762 1360l1-2 4-12 1-9-1-110 1-15 4-29 1-17-2-22-3-16-6-10-6-4-1 1-3 17-3 36-1 124 2 16 2 0 1-4 2-15 1-20 2-6 1 70 1 21zM762 1335l-1-8-1-13-1-76-1-7-2 0 0 2-3 47-1 7-1-15-1-41 0-54 2-26 3-17 1-2 4-3 2 1 4 4 3 6 2 11 0 15 0 17-4 20-1 15 0 100-1 12-2 5zM884 1349l4-53 1-71-1-39-2-11-2-4-1-1-3 7-1 19 0 91 1 33 3 25zM883 1316l-3-24-1-61 1-39 3-15 1 0 2 4 1 9 1 47-1 57-1 17-2 6zM905 1347l2-4 8-23 2-20 0-41-1-39-3-36-1-11-2-3-1 2-6 20-4 9-1 8-5 83 0 21 1 13 2 4 3 1zM903 1331l-3-13-3-16 1-69 3-22 5-15 3-6 1 0 2 5 1 19 2 37-1 34-1 18-3 17-4 11-1 1zM828 1337l3-3 2-7 2-25 0-67-1-19-2-5-7 12-1 17 0 69 1 23 2 5zM829 1318l-2-5-1-11 0-39 1-23 2-7 2-5 1 1 2 13 0 47-2 23-1 5-1 2zM858 1220l2-3 3-25 1-24-1-11-3-11-4-8-3-1-3 3-7 13-1 11 0 15 1 9zM854 1199l-3-5-3-9-2-17 0-9 3-10 2-6 3-1 3 3 3 8 2 11 0 10-1 14-3 11-1 2-1 0zM1115 1201l2-20-1-8-1-4-2 7 0 10 0 10zM1135 1164l0-23-1 14zM1060 1101l6-3 3-9 7-50 1-38-21 0-4 82 2 14 2 2zM1060 1066l-1-8-1-22 1-15 1-7 3 11 0 17-1 20 0 4-2 2zM841 1090l2 1 1-5 3-29-4-56-2 0 2 52 0 15-2 4-6-30-1-21 0-20-3 0 0 39 1 26 2 7 3 3zM939 1071l2 0 2-7 1-22-3-41-4 0-1 46 1 17zM939 1047l-1-18 1-14 1 19zM821 1068l1-1 2-13 0-53-5 0 0 46 1 14zM869 1061l1-3 1-14 1-43-5 0 0 46 0 9zM964 1046l1-5 1-10 0-24 0-6-5 0-1 32 2 11 0 1zM948 1043l3-5 2-2 2-9-2-19-1-4-3-2-1 7-1 14 0 13zM978 1027l1-11 0-15-2 0 0 6z" style="fill:#deebf2;stroke:#deebf2;stroke-width:.8" />
<path d="M724 1426l45 0 2-2 14 0 1 2 9 0 1-2 12 0 1 2 84 0 0-9-2-30 1-23 2 3 5-11 1 8 2 29 1 6 2 0 2-5 3 1 1-1 2-39 0-3 2-2 1 1 1-1 3-110-6-87-2-4-4 2-2 2-4 24-2 2-1 0-2 3-5 45-4-48-4-14-1-2-2 0-3 11-1 18 0 80-2 85-2 17-3 18-3 7-1-1-2-4-2-22-1-33 2-36 0-50 3-81-2-17-3-11-5-11-3-1-2 0-4 4-3 1-1 3-6 34-3-7-2 3-2 27-2 1-3-26-1-1-3 28-1-1-2-24-1-12-2-3-1 0-2 5-1 30 3 109 1 35 6 50 6-5 1-1 1 9-1 12-1 6-2 2-1-4-3-14-4 5-3 0-2-1-4-18-3-4-3-11-2-14-4-47-1-2-1 6-3 32-2-2-4-32-4-20-2-4-1 1-5 11-1 1-1-4-2-10-1-53 1-9 5-30 1-18-3-26-6-39 3-43 0-21-1-24-2-6-1 2-2-1-1-11-4 0 4 52 0 11-1 13-5 19-1 1-5-15-1-2-2 1-1 7-1 11-1 58-3 39 6 143 0 26-2 13 0 1-2 1-4-4-1-4-3-27-2-6-3-8-2-9-1-22 2-101-1-14-5-28 0 32 3 13 0 16 0 39-2 43 3 81-1 15-3 10 0 20zM754 1387l-1-8 0-22 0-18 2-14 1 2 1 32-1 24-1 5zM842 1387l-1-17 0-6 2-2 1 16 0 5zM850 1376l-2-12-1-33-2-3-2-3-2-9-3-37 0-30 1-25 1-2 5-6 3 6 1 13 0 68 1 2 1-8 1-34 1-12 1-1 2 5 2 22 0 56-4 31-1 8-2 4zM775 1368l-1-13 2-23 2 2 0 23-2 13zM762 1359l-2-5-1-25-1-66-2 6-1 20-2 15-1 4-2 0-2-16 1-124 3-36 3-17 1-1 6 4 6 10 3 16 2 22-1 17-4 29-1 15 1 110-1 9-2 6-2 6-1 2zM884 1348l-1-3-3-25-1-33 0-91 1-19 3-7 1 1 2 4 2 11 1 39-1 71zM904 1346l-5-15-3-1-2-4-1-15 0-21 5-81 1-8 4-9 6-20 1-2 2 3 1 11 3 36 1 41 0 41-1 11-2 9-7 21-1 3-1 1zM827 1337l-2-10-2-24 1-66 1-14 7-12 2 5 2 21-1 70-3 23-2 6-2 1zM857 1218l-14-30-1-11 0-13 1-11 7-13 3-3 3 1 4 8 3 11 1 11 0 15-1 15-3 19-2 3zM747 1133l0-23 0-4 2-5 1 15-1 14zM1129 1414l2-7 1-15-1-14-2-3-1 10-1 13 1 10zM1147 1406l1-2 1-15 0-17-1-11-1 1-2 8-1 11 1 15zM1033 1404l1-1 2-3 1-6 3-37 1 0 2 5 4 39 2 1 0-2 2-9-3-58-3-96-2-17-2 1-1 12-2 77-1 3-4-32-2 1-3 34-1 71 1 12 2 3zM1007 1402l1 0 2-1 1-3 1-17 1-54 0-12-2-6-1 0-5 4-2 3-2 8 0 11-1 28 2 22 2 13zM1005 1374l-2-13 0-22 1-12 1-4 2-1 1 2 1 7 1 22-2 17-1 5-2 0zM1057 1400l5-15 2-2 1-2 1-7 0-19 0-46-3-61 0-54-1-15-2-1-3 31 1 74-4 102 1 11 1 4zM941 1397l5-6 2-12 0-18-5-124 1-51-1-5-1-1-1 1-3-4-2 6 0 8 4 21 1 26-2 143 0 10zM1116 1397l2-3 0-5 1-26-3-132 6-59 0-17-1-15-2 0-4 15-2 11-1 19 2 50-1 42 1 93 1 22zM1114 1199l-1-3 0-11 0-9 2-7 1 4 1 10-1 11-1 7zM1177 1393l1-5 3-44 3-17 0-35-1 2-2 0-3-6-1 0-2 13-1 67 1 19zM1128 1258l2-29 6-28 2-18 2-58-1-9-3-5-1 1-2 8-4 24-3 91 0 19zM1135 1162l-1-9 1-12 1 10zM1059 1123l1 0 3-3 4-1 2-5 5-33 5-22 1-2 5 3 1 1 4 11 2 0 0-2 3-21 0-48-18 0-1 38-7 50-3 9-6 3-4-2-2-2-2-14 4-82-11 0-3 72 1 15 1 6 5 5 5 17zM843 1106l1-3 10-50 1-22-1-30-11 0 4 52-2 24-2 14-2-1-4-14-3-3-2-7-1-26 0-39-7 0 0 53-2 13-1 1-1-7-1-14 0-46-3 0-1 46-1-7-1-39-7 0 1 51 1 16 1 5 2 1 2-6 1-19 1 5 2 25 3 10 1 1 1 0 2-2 4-11 2 2 2 7 5 2zM723 1099l3-31 1-47 2-8 3 25 1 5 3-42-13 0zM902 1093l1 0 2-3 1-6 0-7-5-35-1-41-6 0 2 71 1 13zM913 1093l2-1 1-3 2-12 4-59 0-17-12 0-2 78 1 7zM1037 1087l1-12 0-74-10 0 0 41 1 18 2 11 5 14zM1144 1088l1-3 4-17 4-11 4-23 1-11 1-22-20 0 1 22 2 50zM939 1085l2 0 4-8 6-7 1-1 4 7 2-1 8-16 6-31 2 3 3 15 1 1 1-1 3-17 0-28-3 0 0 15-1 11-1-13 0-13-11 0 0 28-1 11-1 6-2-1 0-1-2-11 1-32-20 0 3 46-1 15-2 9-2 0-1-3-1-11-1-26 1-30-2 0-1 58 2 14zM947 1042l0-21 1-12 1-7 3 2 1 4 2 19-2 9-2 2-2 3-1 2zM1170 1082l1-3 2-17 1-61-7 0 1 59zM867 1077l2 0 2-4 3-13 1-22 1-37-4 0-1 43-1 14-1 3-2-5 0-9 0-46-2 0-1 59 1 13zM795 1069l1 0 2-16 1-52-11 0 0 4-1-4-8 0 0 29 2 16 1-2 6-35 3 38zM1007 1041l1-2 1-10 2-28-7 0 0 26z" style="fill:#eff3f5;stroke:#eff3f5;stroke-width:.8" />
<path d="M893 1426l118 0 2-2 118 0 0-4 1-2 52 0 0-91-3 17-3 44-1 5-2-5-1-20 2-74 1-6 1 0 3 6 2 0 1-2 0-25-3 6-1 0-4-7-3-13-2-42-5-62 1-20 4-24 6-52 1-5 6 28 0-75-10 0-1 61-2 17-1 3-2-22-1-59-8 0-1 22-1 11-4 23-4 11-4 17-1 3-2-15-3-68 0-4-5 0 4 26 1 52-2 9-5 17-3 8-1 0-2-3-2-7-1-26 0-24 3-52-31 0 0 48-3 21 0 2-2 0-4-11-1-1-5-3-1 2-5 22-5 33-2 5-4 1-3 3-1 0-3-3-7-21-5-5-1-6-1-15 3-72-7 0 0 74-1 12-1-2-5-14-2-11-1-18 0-41-17 0-2 28-1 10-1 2-3-14 0-26-11 0 1 41 1 10 3 8 2 2 2-3 2 1 3 5 1 0 2-3 3-11 1-2 4 6 3-5 2-1 5 32 5 12 4 16 1 2 5-3 4 1 2 1 5 17 2 15 1 13-1 19-4 50 2 39 0 36-1 20-2 1-1-28-2-65-4-19-3-5-1 1-4 27-2 2-3-1-1 0-1 5-2 53-3 21-1 2-2 1-1-1-1-2-5-24-1 2-6 14-7 9-2 0-3-4-1 6-4 39-2 5-3-14-2-28 0-102-2-6-2 1-1 5 0 8 1 130-2 27 0 7-2 3-2-6-3-17-2-35-2-2-2 15-2 5-1 1-5-2-3 3-1-2-1-5-4-41-1-74 1-20 2-14 3 6 1 1 1-4 1-24-2-7-4 6-14-37-1-11-1-16 2-13 4 4 7-13 5-3 1 1 1 3 5 18 1-3 4-22 9-29 2-1 4 9 1 0 2-3 3-23 0-33-2 0 0 28-3 17-1 1-1-1-3-15-2-3-6 31-8 16-2 1-4-7-1 1-6 7-4 8-2 0-2-6-2-19 0-59-13 0 0 17-4 59-2 12-1 3-2 1-4-7-1-7 2-78-2 0-1 25-1 13-1-5-1-7-1-26-3 0 1 41 5 39-1 7-2 5-1 0-5-8-1-17-2-67-3 0-1 52 7 63 3-5 3-2 4-8 2-1 6 4 4-4 1 1 4 9 1 12-5 43-1 5-2-22-2-9-2-1-4 1-4-2-3 1-2-1-3-7-4 38-1 9-2-1-9-23-1 0-1 3-4 12-1 11-1 11 2 76-2 69-2 23-2 10-2 0-1-5-1-19 1-83 3-75-1-16-2-19-5-14-5-10-3-2-5-1-1-6 1-17 5-18 4-13 1-8-1-61-3 0 1 33-2 23-9 47-1 2-6-18-5-2-2-7-2-2-4 11-2 2-1 0-1-1-3-10-2-25-1-5-1 19-2 6-2-1-1-5-1-16-1-51-7 0 0 45-3 23-1 0-3-14-4-46-6 35-1 2-2-16 0-29-3 0 0 41 1 18 2 11 2 0 4-15 1-1 3 8 6 29 1 2 2-4 3-22 1-5 3 28 3 9 4 4 3-1 3 1 3 0 3-3 4-8 2-1 2 4 5 1 1 2 2 10 1 11-1 20-2 11-1 3-3-1-2 1-2 6-2-1-3-8-1-1-3 1-4-11-2-2-1-1-3 5-2 9-2 21 3 52 0 46-3 26-3 17-2 0-3-21-3-8-1-1-4 8-2-3-9-59-1-17-1-42-5-28-3-32 2-59-1-50-9 0 1 11 2 1 1-2 2 6 1 24 0 21-3 43 6 39 3 26-1 16-5 32-1 13 1 37 2 22 1 4 1-1 5-11 1-1 2 4 4 20 4 32 2 2 3-32 1-6 1 2 4 49 4 19 1 4 3 4 4 18 2 1 3 0 4-5 3 14 1 4 2-2 1-6 1-16-1-5-1 1-6 5-4-33-3-35-3-134 1-18 2-9 1 0 2 5 3 33 1 2 3-28 1 1 3 26 2-1 2-27 2-3 3 7 6-34 1-3 3-1 6-4 3 1 5 9 3 11 2 15 0 15-2 61-1 59-2 41 2 43 1 7 2 4 1 1 3-7 2-9 3-31 2-82-1-72 3-26 2-8 0-1 2 0 4 11 2 16 3 37 5-45 2-3 1 0 2-2 4-24 4-3 2-1 1 2 2 10 1 29 4 50-3 110-1 1-1-1-2 2 0 3-2 39-1 1-3-1-2 5-2 0-1-6-2-29-1-8-5 11-2-3-1 23 2 30zM1129 1413l-1-5-1-12 2-21 2 3 1 14-1 17-2 5zM1146 1405l-1-11-1-15 3-17 1-1 1 11 0 19-1 14-1 1zM1032 1404l-2-2-2-3-1-12 1-71 3-34 2-1 4 32 1-3 2-77 1-12 2-1 2 17 3 96 3 58-2 9 0 2-2-1-4-39-2-5-1 0-4 39-2 7zM1106 1404l-3-8-5-27-2-1-5 19-4 8-4-1-3 2-1-1-6-2-2-8-1-19-1-57 3-69-1-98 4-43 2-16 3-7 3 1 3 3 6 17 2-3 2-13 2-48 2-19 2-3 4 2 2 0 3-3 1 6 2 30 2 72-1 17-3 31-1 20 1 47 0 143-2 22-2 6zM1006 1402l-3-6-2-13-1-24 1-26 1-11 2-7 6-6 1 0 2 6 0 12-1 56-2 17-2 2zM1056 1400l-2-6 0-9 4-102-1-72 3-33 2 1 1 17 0 52 3 63 0 52 0 11-2 9-2 2-5 15zM940 1396l-1-6 0-9 2-143-1-26-4-21 0-8 2-6 3 4 1-1 1 1 1 5-1 51 5 126 0 16-2 12-5 6zM1116 1396l-1-5-1-23-1-91 1-42-2-50 1-19 2-11 4-15 2 0 1 15 0 17-6 59 3 134-1 24 0 5zM933 1379l-4-11-3 4-1-1-2-5-1-14-1-21 1-37 1-11 3-10 2-44 2-7 2-3 3 6 2 13 2 36-2 79-2 25zM1123 1359l-1-26 1-11 2 24zM1134 1353l-4-14-1-15 4-80 2-17 6-26 1-50 3-35 4-24 2-3 4-4 2 0 0 1 2 8 5 57-3 108-2 18-2 5-5-14-1-1-2 3-1 15-3 42-2 21-2 6-3 0-3 1zM1169 1318l0-18 1-18 1 9 0 14 0 9-1 6zM1127 1257l-1-3 0-21 4-91 3-22 2-8 1-1 3 5 1 9-2 60-3 22-5 20-2 31zM723 1405l3-11 1-16-3-78 2-47 0-42 0-12-3-10zM755 1388l1-5 1-26-1-30-1-2-2 14 0 20 0 22zM851 1376l3-12 4-33-1-55-1-21-2-5-1 1-1 12-1 34-1 8-1-2 0-68-1-13-3-6-5 6-1 2-1 25 0 30 3 37 2 9 2 3 2 3 1 34 2 10zM1096 1337l1-19-1-8zM747 1133l2-3 1-14-1-15-2 5 0 4zM866 1088l3-2 6-7 5-10 3 7 3-2 3-6 1-13-1-54-13 0-1 37-1 22-3 13-2 4-2 0-1-3-1-10 0-63-2 0-1 65 1 17zM815 1047l1-46-3 0 1 39zM788 1005l0-4-1 0z" style="fill:#f8f1ed;stroke:#f8f1ed;stroke-width:.8" />
<path d="M1106 1404l2 0 2-6 2-22 0-143-1-47 1-20 3-31 1-17-2-72-2-30-1-6-3 3-2 0-4-2-2 3-2 19-2 48-2 13-2 3-6-17-3-3-3-1-3 7-2 16-4 43 1 98-3 69 1 57 1 19 2 8 6 2 1 1 3-2 4 1 4-8 5-19 2 1 5 27zM1106 1385l-3-7-2-17-1-91-1-25-1-6-5 42-2 76-2 19-2 3-1 1-3-2-3 0-1 0-4-7-3-10 0-21 3-76 1-113 1-34 3-18 2-2 1 0 2 1 1 5 4 26 3 5 3 8 2-11 1-27 2-60 1-10 1-4 2-1 3 2 1 2 2 9 3 78-4 68 1 173-2 19-1 5-2 1zM1096 1335l0-25 1 10zM975 1389l2-3 0-7 2-27-1-130 0-8 1-5 2-1 2 6 0 102 2 28 3 14 2-5 4-39 1-6 3 4 2 0 7-9 6-14 1-2 5 24 1 2 1 1 2-1 1-2 3-21 2-53 1-5 1 0 3 1 2-2 4-27 1-1 3 5 4 19 2 65 1 28 2-1 1-20 0-36-2-39 4-50 1-19-1-13-2-15-5-17-2-1-4-1-5 3-1-2-4-16-5-12-5-32-2 1-3 5-4-6-1 2-3 11-2 3-1 0-3-5-2-1-2 3-2-2-3-8-1-10-1-41-3 0 1 50 3 24 1 2 2 0 7-4 4 7 2 1 3-1 1 1 3 3 1 0 5-5 9 22 5 20 1 2 6-7 3 0 2 1 2 8 3 13 1 15 0 15-2 18-3 18-1 2-2 0-7-14-2 2-4 18-1 3-5 1-1 3-1 12-1 46-1 13-1 5-2 0-1-4-2-12-1-20 1-37-1-12-2-2-1 12 0 43-4 22-3 11-3 5-4 0-5-6-1 2-4 30-2 9-1-2-2-8-1-21 0-106-2-9-1 0-6 8-2 13 3 33 2 82-1 27-2 13-1-1-1-4-2-15-3-82-2 1-2 48-2 17-1 3-2-1-3-5-4-2-1-4-2-9-1-25-1-52 2-17 2 1 2 7 2-1 4-10 2 3 3 9 2 19 2-7 0-25-5-33-2-22-1-24 2-25 2-20 8-25 2-2 1 1 3 6 1 1 2-1 3-8 3-28 1-33-4 0 0 33-3 23-2 3-1 0-4-9-2 1-9 29-4 22-1 3-5-18-1-3-1-1-5 3-7 13-4-4-2 18 2 22 14 37 4-6 2 7-1 24-1 4-1-1-3-6-2 10-1 20 1 69 2 40 3 15 1 2 3-3 5 2 1-1 2-3 2-17 2 2 2 35 3 17zM948 1157l-4-8-2-9-2-18 1-12 2-9 3-6 3-2 2 0 1 2 2 8 1 15 1 13-1 13-2 7-2 6-2 1zM933 1380l2-2 0-4 2-22 2-78-2-36-2-13-3-6-2 3-2 7-2 44-3 10-1 11-1 37 1 21 1 14 2 5 1 1 3-4zM933 1348l-1-9-1-17 1-50 1-13 2 7 1 30-1 42zM867 1368l2 0 1-3 1-7 2-19 2-73-2-78 1-11 2-11 3-10 1-3 1 0 9 23 2 1 1-9 4-38 3 7 2 1 3-1 4 2 4-1 2 1 2 9 2 22 1-5 5-43-1-12-4-9-1-1-4 4-6-4-2 1-4 8-3 2-3 5-7-63 1-52-2 0 1 54-1 13-3 6-3 2-3-7-5 10-6 7-3 2-3-5-1-17 1-65-6 0 1 61-1 8-7 25-3 18 0 7 1 3 5 2 3 2 3 6 4 7 3 12 2 18 1 16-3 75-1 81 0 19zM869 1337l-1-65 1-20 1-9 1 2 1 6 1 23-2 52-1 12zM871 1164l-2-6-6-26-9-20 0-9 2-5 2-4 2 0 3 4 1 0 6-7 3-2 4 1 3 6 1 0 5-11 3-3 1 1 2 7 3 28-1 22-2 19-2 4-1 0-3-5-5-15-1 0-7 20-2 2zM909 1129l-2-4-1-5 1-6 2-3 1 0 2 2 3 8 2-4 2 6-2 5-2-6-3 5-2 2zM1123 1360l2-14-2-24-1 11zM1135 1355l3-1 3 0 2-8 3-22 2-41 1-13 2-3 1 1 5 14 2-6 3-19 0-48 2-39 0-21-5-55-2-8 0-1-2 0-4 4-2 3-4 24-3 35-1 50-6 26-2 19-4 81 2 17 3 9zM1137 1324l-1-1-1-7-1-13 1-51 3-20 1-3 3 2 1-7 1-17-1-41 1-26 4-29 1-5 2-3 1 0 3 1 2 8 4 43 0 19-3 70-1 11-2 1-3-4-1 0-2 1-5 13-1 11-2 41-2 6zM1170 1320l1-6 0-11 0-12-1-9-1 20zM802 1313l2 0 3-17 3-26 0-46-3-52 2-21 2-9 3-5 1 1 2 2 4 11 3-1 1 1 3 8 2 1 2-6 2-1 3 1 1-3 2-13 1-20-2-13-2-8-5-1-2-4-2 1-4 8-3 3-3 0-3-1-3 1-4-4-3-9-3-28-1 5-3 22-2 4-1-2-6-29-3-8-1 1-4 15-2 0-2-11-1-18 0-41-5 0 1 50-2 59 3 32 5 30 2 53 9 63 2 3 4-8 1 1 3 8zM802 1281l-6-11-1-1-3 2-1-2-1-5-4-36-4-25-2-39-5-25-2-17 0-23 2-17 3 3 1 1 6-14 1 0 4 11 5 27 1 4 5-13 1 1 3 20 0 11-4 39 2 18 4 13 1 9 0 41-1 24-2 3-3 2zM828 1148l-7-17 0-6 0-5 5-13 2-6 2 0 2 2 5 2 2 9 1 13-1 11-2 6-5 1-2 4zM1180 1273l1 0 3-6 0-19-2 11-2 2-2-2-2-8-6-74-1-22 2-28 3-33 3-15 1-2 2 4 4 24 0-29-6-28-1 5-6 52-4 22-1 22 5 62 2 40 3 13zM796 1174l2 0 1-8-1-15-2-5-1 6 0 9zM1128 1113l1 0 3-8 5-17 2-9-1-52-4-26-3 0 3 20 1 30-1 26-3 17-2 2-2-4-1-22 1-43 2-26-3 0-2 26-1 33 0 24 2 21 1 7zM906 1039l1-13 1-25-5 0 1 26 1 7z" style="fill:#fbe5d8;stroke:#fbe5d8;stroke-width:.8" />
<path d="M1106 1386l2-1 1-5 2-20-1-172 4-70-3-76-2-9-1-2-3-2-2 1-1 4-1 10-2 60-1 27-2 11-3-8-3-5-4-26-1-5-2-1-1 0-2 2-3 18-1 34-1 112-3 79 1 21 2 8 4 7 1 0 3 0 3 2 1-1 2-3 2-19 2-76 5-42 1 6 1 25 1 91 2 18zM1106 1372l-2-7-1-15-1-106-3-87 4-98 1-12 1-2 1 0 2 3 1 11 3 68-3 67 0 159-1 17-2 3zM1084 1366l-1-1-3-2-2-4-1-11-1-15 3-92 1-7 2-1 1-8 2-43 1-12 1 2 4 20 1 26-2 56 0 78-3 15-1 1zM974 1365l1 1 2-6 1-25-2-89-3-35 0-8 2-7 6-6 1 0 2 9 0 106 1 21 2 8 1 2 2-9 4-30 1-2 5 6 4 0 3-5 3-11 4-22 0-43 1-12 2 2 1 12-1 37 1 20 2 12 1 4 2 0 1-5 1-13 1-46 1-12 1-3 5-1 1-3 4-18 2-2 7 14 2 0 1-2 3-18 2-18 0-15-1-15-3-13-2-8-2-1-3 0-6 7-1-2-5-20-9-22-5 5-1 0-3-3-1-1-3 1-2-1-4-7-7 4-2 0-1-2-3-24-1-50-2 0-2 41-3 22-2 6-2 1-1-1-3-6-1-1-2 2-7 23-3 21-2 26 1 24 2 22 5 33 0 25-2 7-2-19-3-9-2-3-4 10-2 1-2-7-2-1-2 15 1 54 1 25 2 9 1 4 4 2 3 5 2 1 1-3 2-17 2-48 2-1 3 76 1 15zM974 1350l-2-19-1-46 0-30 1-15 2 3 0 12 2 63 0 26-1 6zM988 1322l-2-9-1-24 0-45 2-39-1-17-2-11-2-2-4 6-4 3-3 5-2 0-1-2-4-23-1-28 0-18 2-15 7-27 2-2 1 0 3 6 3 2 3-3 4-12 2 5 2 18 2 2 7-8 3-1 11 20 2-1 4-8 2-1 1 1 7 13 6 24 1 2 6-11 3 0 2 1 3 13 2 23-2 24-2 11-1 3-2 1-1-2-6-13-2-1-5 22-2 1-4 2-4 9-2-2-4-20-2-2 0 2-3 17 0 48-3 26-4 9-3 1-2-1-5-9-1 0-2 5-2 28zM959 1311l-4-24-3 11-1-4-2-35 2-14 4 24 2-21 2-8 2 2 1 10 1 25-1 26-1 9zM1022 1268l-1 0 0-4 0-14 0-8 2 0 0 21 0 5zM933 1348l2-10 1-42-1-30-2-7-1 13-1 50 1 17zM870 1338l1-18 2-50-2-25-1-2-2 10 0 23 0 55 1 5zM1138 1324l1 0 2-6 2-41 1-11 5-13 2-1 1 0 3 4 2-1 1-11 3-70 0-19-4-43-2-8-3-1-1 0-2 3-1 5-4 29-1 26 1 41-1 17-1 7-3-2-1 3-3 20-1 27 0 26 1 13 1 5zM1152 1233l-3-4-2-7-2-36-1-22 1-18 2-19 2-11 2-3 1 0 3 4 2 10 2 19 1 20-1 20-4 43-1 4zM802 1282l3-2 2-3 1-24 0-41-1-9-4-13-2-18 4-39 0-11-3-20-1-1-5 13-1-4-5-27-4-11-1 0-6 14-1-1-3-3-2 19 0 22 2 16 5 25 2 39 4 25 4 36 1 5 1 2 3-2 1 1 5 10zM805 1259l-2-11-1-10 1-7 2-12 2 3 0 22 0 14-2 2zM792 1251l-3-18-1-26 1-21 2-10 9 40 2 22 0 8-3 5-3 0-4 2zM796 1174l-1-7 0-8 0-7 1-6 2 5 1 15-1 8zM783 1168l-7-37-1-19 1-12 3-4 6-12 1 0 2 4 3 13 2 15 0 13-3 28-1 4-4 7-1 1zM1180 1261l2-2 2-11 0-26-3 25-1 2-2-3-6-67-1-22 1-30 3-26 2-10 1-1 3 6 3 26-1-25-2-12-3-8-1 2-2 6-1 12-4 36-1 22 1 22 6 69 1 9zM871 1165l3-6 6-16 1 0 5 15 3 5 1 0 2-4 2-19 1-22-3-28-2-7-1-1-3 3-5 11-1 0-3-6-4-1-3 2-6 7-1 0-3-4-2 0-2 4-2 5 0 9 9 20 6 26 1 5zM888 1157l-2-5-5-21-1-2-6 22-3 4-1-1-4-16-2-20 1-11 5-10 3-2 3 2 4 15 1-1 5-18 1-3 2 0 1 2 2 7 2 24-2 25-2 7zM948 1157l1 1 2-1 2-6 2-7 1-13-1-13-1-15-2-8-1-2-2 0-3 2-3 6-2 9-1 12 2 18 2 9zM947 1148l-2-6-2-7 0-15 2-15 1-3 3-2 2 1 2 8 1 20-1 11-2 8-2 1zM828 1148l2 1 2-4 5-1 2-6 1-11-1-13-2-9-5-2-2-2-2 0-2 6-5 13 0 5 0 6zM828 1138l-2-7 0-9 1-10 3-4 7 6 1 13-1 7-5 2-2 4zM909 1129l1 0 2-2 3-5 2 6 2-5-2-6-2 4-3-8-2-2-1 0-2 3-1 6 1 5zM1129 1096l2-2 2-11 2-26-1-34-3-22-2 0-1 7-2 47 0 29 2 10zM1129 1070l-1-30 1-13 2-1 1 31-1 13-2 1z" style="fill:#fcd7c2;stroke:#fcd7c2;stroke-width:.8" />
<path d="M1106 1373l2-5 1-15 0-159 3-67-3-68-1-11-2-3-1 0-1 2-1 12-4 98 3 87 1 106 1 15 1 5zM1106 1355l-2-16 0-108-3-54-1-26 1-28 2-30 2-12 1-1 4 29 1 24-3 70-1 84 1 59-1 9-1 2zM1085 1367l1 1 1-1 3-15 0-78 2-58-1-26-4-18-1-2-1 12-2 43-1 8-2 1-1 7-3 92 1 15 1 11 2 4 3 2zM1086 1353l-3-13-1-13 2-27 2-14 1 9 1 36-1 20-1 3zM974 1350l1 0 1-6 0-28-2-61 0-12-2-3-1 15 0 30 1 48zM988 1323l2-5 2-28 2-5 1 0 5 9 2 1 3-1 2-2 2-9 3-22 0-45 2-20 1-4 2 2 4 20 2 2 4-9 4-2 2-1 5-22 2 1 6 13 1 2 2-1 1-3 2-11 2-24-2-23-3-13-2-1-3 0-6 11-1-2-6-24-7-13-1-1-2 1-4 8-2 1-11-20-3 1-7 8-2-2-2-18-2-5-4 12-3 3-3-2-3-6-1 0-2 2-7 27-2 15 0 18 1 28 4 23 1 2 2 0 3-5 4-3 4-6 2 2 2 9 1 19-2 41 0 46 1 22zM988 1305l-1-13-1-39 2-27 3-8 0-4-1-27-4-19-2-7-2 0-5 10-6 4-2-1-2-10-2-15 0-18 1-17 4-20 4-10 1 0 4 9 3 3 2 1 3-3 1 0 4 13 7-13 3-4 2 0 4 7 6 20 1 1 6-14 2-2 1 0 7 12 6 29 1 3 5-16 2-3 2 0 3 6 2 16 0 25-1 11-2 6-2 0-3-4-6-18-4 23-3 5-1 1-7 3-2-3-6-18-1 3-3 26 0 48-3 24-3 8-3 1-3-3-5-13-2 2-2 24-2 7zM959 1312l2 0 1-9 1-27-1-24-1-10-2-2-2 8-2 21-4-24-2 14 2 35 1 4 3-11zM1023 1268l0-26-2 0 0 13 0 13zM805 1260l2-2 0-18 0-18-2-3-2 12-1 7 1 12zM792 1253l4-2 3 0 3-5 0-8-2-22-9-40-2 10-1 23 2 29 1 10zM1180 1249l2-5 2-15 0-36-3 34-1 6-2-5-5-45-1-26 1-28 4-27 1-2 2 5 4 31 0-14-2-15-2-13-2-4-1 1-1 5-2 14-3 25 0 22 1 20 5 59 1 10zM1152 1233l2 0 1-4 4-43 1-22-3-37-2-10-3-4-1 0-2 3-2 13-2 19-1 18 1 22 3 36 1 7zM1150 1211l-2-7-2-14-1-31 3-29 1-5 2-3 1 0 3 5 2 9 2 17 0 17-1 16-3 18-3 8-1 0zM784 1169l5-8 1-4 3-28 0-13-2-15-3-13-2-4-1 0-6 12-3 4-1 12 1 19zM783 1155l-4-20-2-17 3-15 4-10 1-1 2 4 2 9 2 22-2 19-4 9-1 1zM889 1157l1-2 2-7 2-25-2-24-2-7-1-2-2 0-1 3-5 18-1 1-4-15-3-2-3 2-5 10-1 11 2 20 4 16 1 1 3-4 6-22 1 2 5 21zM888 1151l-2-3-1-6-2-20 2-21 2-5 2 0 1 2 2 8 1 19-2 19-1 5zM871 1148l-2-5-2-7-1-16 2-13 3-6 2 0 1 1 2 4 2 16-3 18-2 7-2 1zM948 1149l1 0 3-5 2-17-2-20-1-6-2-1-3 2-1 3-3 17 2 16zM947 1140l-2-8-1-12 2-11 2-2 1 0 2 2 1 5 0 15-1 10-2 3-1-1zM828 1139l2 1 2-4 5-2 1-7-1-13-7-6-3 4-1 10 0 9zM829 1127l0-4 1-4 1 6-1 4zM1129 1071l2-1 1-15-1-29-2 1-1 15z" style="fill:#f8bfa4;stroke:#f8bfa4;stroke-width:.8" />
<path d="M1106 1357l2-15-1-55 1-89 3-65-1-24-4-29-1 1-2 12-2 32-1 28 4 82 0 107 1 9zM1106 1207l-1-3-2-19-2-34 2-39 2-9 1-1 3 14 1 22-2 53zM1086 1354l2-4 0-21-1-34-1-9-2 14-2 27 1 15zM988 1307l4-31 2-2 5 13 3 3 3-1 3-8 3-24 0-48 3-26 1-3 6 18 2 3 7-3 1-1 3-5 4-23 6 18 3 4 2 0 2-6 1-11 0-25-2-16-3-6-2 0-2 3-5 16-1-3-6-29-7-12-1 0-2 2-6 14-1-1-6-20-4-7-2 0-3 4-7 13-4-13-1 0-3 3-2-1-3-3-4-9-1 0-4 10-4 20-1 17 0 18 2 15 2 10 2 1 6-4 5-10 2 0 2 7 4 19 1 27-3 13-2 28 1 41zM1002 1285l-2-3-3-6-4-23 2-39-9-81 2-8 3 0 7-22 4-7 2 1 3 6 7 30 1 1 5-18 3-6 1 0 2 1 4 6 4 16 2 26-2 22-2 7-2 3-6 3-2-2-2-6-5-21-1 3-5 41 1 42-1 17-3 15-2 3zM988 1276l0-26 2-7 1 10-1 21zM1046 1185l-4-13-2-17 3-18 2-4 1-2 1 0 2 4 2 7 1 20-2 19-1 4-2 1zM972 1162l-1 0-2-3-1-7-1-23 4-25 3-10 1 0 3 7 3 11 2 19-1 13-3 13-2 4zM1180 1233l1-6 3-31 0-29-1 26-3 19-2-4-3-20-2-29 1-32 3-15 1-2 2 2 2 11 2 33 0-20-1-11-2-15-1-7-2-3-2 5-2 16-2 21 0 17 1 24 5 45zM1151 1212l1 0 1-1 2-7 3-18 1-18-2-32-2-9-3-5-1 0-2 3-1 6-2 15-1 16 2 31 1 12zM1150 1199l-2-7-1-9-1-24 2-23 3-7 1 0 3 6 2 8 1 27-3 23-3 8-1 0zM784 1156l2-3 3-9 2-17-2-22-2-9-2-4-1 1-4 10-3 15 2 18 3 17zM783 1146l-3-13 0-15 2-13 2-5 1-1 1 2 2 9 1 17-3 16-1 3-1 1zM889 1151l1-2 1-7 2-19-2-18-1-7-1-2-2 0-2 5-2 21 2 20 2 9zM887 1146l-2-10-1-14 1-13 2-8 2 0 1 4 2 18-2 20-1 3zM871 1148l2-2 3-8 2-16-2-16-2-4-1-1-2 0-2 3-2 5-1 13 2 18 2 7zM870 1140l-2-9-1-11 2-9 2-5 2 1 2 5 1 13-1 10-2 5-2 2zM948 1141l1 1 2-3 1-12 0-13-1-5-2-2-1 0-2 2-2 13 1 11zM947 1131l0-11 1-4 1 0 1 11-1 5-1 0zM830 1129l1-6-1-4-1 4z" style="fill:#f4a683;stroke:#f4a683;stroke-width:.8" />
<path d="M1002 1285l2 1 1-2 2-3 2-13 1-17-1-42 5-41 1-3 5 21 2 6 2 2 6-3 3-5 1-6 2-23-2-24-4-16-4-6-2-1-1 0-3 6-5 18-1-1-7-30-3-6-2-1-4 7-7 22-3 0-2 8 9 81-2 39 5 24 2 5zM1004 1281l-3-2-2-3-3-15 0-13 1-32-4-35-1-26 1-20 3-17 2-10 4-6 2 0 1 3 4 13 3 18 1 15-1 17-4 44 1 51-2 13-2 4zM1023 1186l-2-3-2-9-2-25 3-24 1-5 2-3 1-1 4 5 3 6 3 15 1 17-2 15-2 9-3 3-2 1zM988 1276l2-2 1-21-1-10-2 7zM1180 1212l1-6 2-18 1-32-2-33-2-11-2-2-1 2-3 15-1 32 2 29 3 20zM1178 1196l-3-19-1-22 1-26 2-8 1-2 2 2 1 10 2 30-2 31-1 6zM1106 1208l4-70-1-22-3-14-1 1-2 9-2 39 2 35 2 18zM1105 1186l-2-18-1-24 2-21 1-7 1-2 3 13 0 21-1 28-2 12zM1151 1201l1 0 1-2 2-6 3-25-1-25-2-8-3-6-1 0-2 3-1 6-2 23 1 25 2 12zM1151 1192l-3-11-1-20 2-21 2-4 1 0 2 2 2 10 1 20-2 18-3 6zM1046 1185l1 1 2-1 1-4 2-19-1-20-2-7-2-4-1 0-1 2-2 4-3 18 2 17zM1046 1179l-3-11-1-15 2-13 2-4 1 0 2 2 1 7 1 17-2 17-2 2zM972 1162l5-1 2-4 3-13 1-13-2-19-3-11-3-7-1 0-3 10-4 25 1 24 1 6 2 3zM973 1149l-2-6-1-14 2-17 2-5 1-1 3 10 1 17-2 15-2 2zM784 1147l1-1 2-6 2-15-1-16-2-8-1-2-1 1-2 5-3 15 2 16 1 8zM783 1138l-2-7 0-11 1-8 2-4 1-1 2 7 0 11-1 11-1 2-1 1zM887 1146l2 0 1-3 2-20-2-18-1-4-2 0-2 8-1 14 1 15zM887 1140l-2-7 0-11 1-12 1-4 2 0 1 5 1 14-1 13-1 3-2 0zM870 1140l1 2 2-2 2-5 1-10-1-13-2-5-2-1-2 5-2 9 1 11zM870 1133l-1-11 1-7 1-2 2 3 1 9-1 7-2 2zM948 1132l1 0 1-9-1-7-1 0-2 7z" style="fill:#e8896c;stroke:#e8896c;stroke-width:.8" />
<path d="M1004 1281l1-1 2-4 2-13-1-51 4-44 1-17-1-15-3-18-4-13-1-3-2 0-4 6-2 10-3 17-1 20 1 26 4 35-1 32 0 13 4 16 1 2zM1002 1276l-3-6-1-11-1-13 2-30-4-33-2-26 1-19 2-15 3-11 3-5 2 1 1 3 3 12 2 15 1 17-1 19-3 38 1 34 0 15-3 14-1 2zM1178 1196l2 2 1-6 2-31-2-30-1-10-2-2-1 2-2 8-1 26 1 22zM1178 1186l-3-14 0-17 1-17 1-8 1-3 2 3 1 9 1 22-1 19-1 7zM1151 1193l1-1 3-6 2-18-1-20-2-10-2-2-1 0-2 4-2 21 1 21zM1151 1185l-2-10-1-14 1-14 2-4 1 0 3 10 1 15-2 14-2 3zM1024 1187l4-1 3-3 3-11 1-15-1-17-3-13-3-6-4-5-1 1-2 3-2 7-2 24 1 13 2 14 1 5zM1022 1179l-2-13-1-18 2-19 2-5 1-1 2 0 2 4 3 8 2 11 0 13-1 13-2 6-4 3-2 0zM1105 1187l1 1 2-12 1-28 0-21-3-13-1 2-1 7-2 21 1 24zM1105 1174l-2-30 2-17 1-2 2 10 0 18-2 22zM1046 1179l1 2 2-2 2-17-1-17-1-7-2-2-1 0-2 4-2 13 1 15zM1046 1174l-2-10-1-11 1-8 2-3 1-1 2 8 1 13-1 10-2 3zM974 1150l1 0 2-2 2-15-1-17-3-10-1 1-2 5-2 19 1 12 1 5zM887 1141l2 0 1-5 1-13-1-13-1-4-2 0-1 6-1 11 1 12zM887 1135l-1-13 1-11 2 1 1 11-1 12-2 1zM784 1139l1-1 1-3 1-10 0-11-2-7-1 1-2 4-1 8 1 13zM783 1125l1-6 1 1 0 3-1 4zM871 1134l2-2 1-9-1-7-2-3-1 3-1 7 1 9z" style="fill:#db6b55;stroke:#db6b55;stroke-width:.8" />
<path d="M1002 1276l2 1 1-2 3-14 0-15-1-34 3-38 1-19-1-17-2-15-3-12-1-3-2-1-3 5-3 11-2 15-1 19 2 26 4 33-2 30 1 13 2 12zM1002 1270l-2-7-1-13 1-12 3-22-6-28-2-31 2-30 3-11 2-4 2 1 1 3 3 11 1 13 1 17-2 26-4 33 3 22 0 23-2 9-1 2zM1178 1187l2 0 1-7 1-19-1-22-1-9-2-3-1 3-1 8-1 17 0 17zM1178 1177l-1-7-1-15 1-15 1-4 2 6 1 17-1 16 0 2zM1151 1185l1 0 2-3 2-14-1-15-3-10-1 0-2 4-1 14 1 14zM1150 1175l-1-6 0-10 2-8 1-1 2 9 0 11-2 7-1 0zM1023 1179l3 2 4-3 2-6 1-13 0-13-2-11-3-8-2-4-2 0-1 1-2 5-2 19 1 20zM1024 1174l-3-7-1-16 1-14 2-6 1-2 3 2 3 6 1 9 1 11-2 14-3 3-1 1zM1046 1174l1 1 2-3 1-10-1-13-2-8-1 1-2 3-1 8 1 11zM1047 1168l-1-2-1-9 1-8 1-1 2 11zM1105 1174l1 1 2-22 0-18-2-10-1 2-2 19zM1106 1161l-1-4 0-9 1-10 1 11zM887 1136l2-1 1-12-1-11-2-1-1 12zM784 1127l1-2 0-3 0-2-1-1z" style="fill:#cc4c44;stroke:#cc4c44;stroke-width:.8" />
<path d="M1002 1271l2 1 1-2 2-11 0-21-3-22 5-35 1-26-1-15-2-15-2-9-1-3-2-1-2 4-3 11-2 30 2 31 6 28-3 22-1 12 1 13zM1002 1264l-1-5 0-9 1-10 2-5 2 5 0 15-1 8-1 3zM1001 1199l-2-7-2-11-1-26 2-26 2-7 2-4 2 1 1 3 2 9 2 28-1 18-3 19-1 4-2 1zM1178 1178l2-1 0-2 1-16-1-17-2-6-1 4-1 15 1 15zM1178 1166l-1-9 1-10 2 6 0 6 0 3zM1151 1177l1 0 2-9 0-11-2-7-1 1-2 8 0 10zM1024 1174l3 0 3-3 1-6 1-10-2-18-3-6-3-2-1 2-2 6-1 14 1 16 2 5zM1024 1166l-2-7 0-11 1-8 1-2 2-1 3 7 1 13-2 7-2 3zM1047 1168l2-9-2-11-1 1-1 8 1 9zM1106 1161l0-23-1 5 0 8 0 6z" style="fill:#bd2d35;stroke:#bd2d35;stroke-width:.8" />
<path d="M1002 1265l2 1 1-3 1-8 0-15-2-5-2 5-1 10 0 9zM1002 1201l2-1 1-2 2-11 2-30-2-28-2-7-1-3-2-1-2 4-2 7-2 28 1 28 3 10zM1001 1192l-3-15-1-24 1-20 2-8 2-2 3 4 2 9 1 25-3 27-1 4-2 2zM1024 1166l2 1 2-3 2-7-1-13-3-7-2 1-1 2-1 8 0 11zM1178 1166l2-7 0-6-2-6-1 10z" style="fill:#a81529;stroke:#a81529;stroke-width:.8" />
<path d="M1001 1192l1 2 2-2 1-4 3-27-1-25-2-9-3-4-2 2-2 8-1 20 1 24zM1002 1186l-1-1-2-8-1-20 1-21 2-6 1-2 2 2 1 6 2 23-2 20-1 6-2 2z" style="fill:#870a24;stroke:#870a24;stroke-width:.8" />
<path d="M1002 1187l2-2 1-6 2-22-2-21-1-6-2-2-1 2-2 6-1 21 1 20 2 9z" style="fill:#67001f;stroke:#67001f;stroke-width:.8" />
</g></g>
<g id="matplotlib.axis_21">
<g id="xtick_46">
<g id="line2d_142">
<g>
<use href="#mbc3e3207b5" x="361.5" y="723.1" style="stroke:#000000;stroke-width:1" />
</g>
</g>
<g id="text_85">
<text style="font-size:10.4px;font-family:&quot;Liberation Sans&quot;, sans-serif;text-anchor:middle" x="361.5" y="741.2" transform="rotate(0 361.5 741.2)" textLength="17" lengthAdjust="spacingAndGlyphs">-80</text>
</g>
</g>
<g id="xtick_47">
<g id="line2d_143">
<g>
<use href="#mbc3e3207b5" x="390.3" y="723.1" style="stroke:#000000;stroke-width:1" />
</g>
</g>
<g id="text_86">
<text style="font-size:10.4px;font-family:&quot;Liberation Sans&quot;, sans-serif;text-anchor:middle" x="390.3" y="741.2" transform="rotate(0 390.3 741.2)" textLength="17" lengthAdjust="spacingAndGlyphs">-60</text>
</g>
</g>
<g id="xtick_48">
<g id="line2d_144">
<g>
<use href="#mbc3e3207b5" x="419.1" y="723.1" style="stroke:#000000;stroke-width:1" />
</g>
</g>
<g id="text_87">
<text style="font-size:10.4px;font-family:&quot;Liberation Sans&quot;, sans-serif;text-anchor:middle" x="419.1" y="741.2" transform="rotate(0 419.1 741.2)" textLength="17" lengthAdjust="spacingAndGlyphs">-40</text>
</g>
</g>
<g id="xtick_49">
<g id="line2d_145">
<g>
<use href="#mbc3e3207b5" x="447.9" y="723.1" style="stroke:#000000;stroke-width:1" />
</g>
</g>
<g id="text_88">
<text style="font-size:10.4px;font-family:&quot;Liberation Sans&quot;, sans-serif;text-anchor:middle" x="447.9" y="741.2" transform="rotate(0 447.9 741.2)" textLength="17" lengthAdjust="spacingAndGlyphs">-20</text>
</g>
</g>
<g id="xtick_50">
<g id="line2d_146">
<g>
<use href="#mbc3e3207b5" x="476.7" y="723.1" style="stroke:#000000;stroke-width:1" />
</g>
</g>
<g id="text_89">
<text style="font-size:10.4px;font-family:&quot;Liberation Sans&quot;, sans-serif;text-anchor:middle" x="476.7" y="741.2" transform="rotate(0 476.7 741.2)" textLength="6.6" lengthAdjust="spacingAndGlyphs">0</text>
</g>
</g>
<g id="xtick_51">
<g id="line2d_147">
<g>
<use href="#mbc3e3207b5" x="505.6" y="723.1" style="stroke:#000000;stroke-width:1" />
</g>
</g>
<g id="text_90">
<text style="font-size:10.4px;font-family:&quot;Liberation Sans&quot;, sans-serif;text-anchor:middle" x="505.6" y="741.2" transform="rotate(0 505.6 741.2)" textLength="13.3" lengthAdjust="spacingAndGlyphs">20</text>
</g>
</g>
<g id="xtick_52">
<g id="line2d_148">
<g>
<use href="#mbc3e3207b5" x="534.4" y="723.1" style="stroke:#000000;stroke-width:1" />
</g>
</g>
<g id="text_91">
<text style="font-size:10.4px;font-family:&quot;Liberation Sans&quot;, sans-serif;text-anchor:middle" x="534.4" y="741.2" transform="rotate(0 534.4 741.2)" textLength="13.3" lengthAdjust="spacingAndGlyphs">40</text>
</g>
</g>
<g id="xtick_53">
<g id="line2d_149">
<g>
<use href="#mbc3e3207b5" x="563.2" y="723.1" style="stroke:#000000;stroke-width:1" />
</g>
</g>
<g id="text_92">
<text style="font-size:10.4px;font-family:&quot;Liberation Sans&quot;, sans-serif;text-anchor:middle" x="563.2" y="741.2" transform="rotate(0 563.2 741.2)" textLength="13.3" lengthAdjust="spacingAndGlyphs">60</text>
</g>
</g>
<g id="xtick_54">
<g id="line2d_150">
<g>
<use href="#mbc3e3207b5" x="592" y="723.1" style="stroke:#000000;stroke-width:1" />
</g>
</g>
<g id="text_93">
<text style="font-size:10.4px;font-family:&quot;Liberation Sans&quot;, sans-serif;text-anchor:middle" x="592" y="741.2" transform="rotate(0 592 741.2)" textLength="13.3" lengthAdjust="spacingAndGlyphs">80</text>
</g>
</g>
<g id="text_94">
<text style="font-size:10.4px;font-family:&quot;Liberation Sans&quot;, sans-serif;text-anchor:middle" x="476.7" y="758" transform="rotate(0 476.7 758)" textLength="171.6" lengthAdjust="spacingAndGlyphs">Distance from urban center [km]</text>
</g>
</g>
<g id="matplotlib.axis_22">
<g id="ytick_72">
<g id="line2d_151">
<g>
<use href="#m0c8410b8b1" x="361.5" y="723.1" style="stroke:#000000;stroke-width:1" />
</g>
</g>
</g>
<g id="ytick_73">
<g id="line2d_152">
<g>
<use href="#m0c8410b8b1" x="361.5" y="686" style="stroke:#000000;stroke-width:1" />
</g>
</g>
</g>
<g id="ytick_74">
<g id="line2d_153">
<g>
<use href="#m0c8410b8b1" x="361.5" y="648.9" style="stroke:#000000;stroke-width:1" />
</g>
</g>
</g>
<g id="ytick_75">
<g id="line2d_154">
<g>
<use href="#m0c8410b8b1" x="361.5" y="611.8" style="stroke:#000000;stroke-width:1" />
</g>
</g>
</g>
<g id="ytick_76">
<g id="line2d_155">
<g>
<use href="#m0c8410b8b1" x="361.5" y="574.7" style="stroke:#000000;stroke-width:1" />
</g>
</g>
</g>
<g id="ytick_77">
<g id="line2d_156">
<g>
<use href="#m0c8410b8b1" x="361.5" y="537.6" style="stroke:#000000;stroke-width:1" />
</g>
</g>
</g>
</g>
<g id="arrows_f" />
<g id="line2d_157">
<path d="M443.9 721.6L443.9 500.5" clip-path="url(#p440bb8ea17)" style="fill:none;stroke:#ffffff;stroke-width:1.6" />
</g>
<g id="line2d_158">
<path d="M443.9 721.6L443.9 500.5" clip-path="url(#p440bb8ea17)" style="fill:none;stroke-dasharray:4.6,2.5;stroke-dashoffset:0;stroke:#333333;stroke-width:1.6" />
</g>
<g id="line2d_159">
<path d="M523 721.6L523 500.5" clip-path="url(#p440bb8ea17)" style="fill:none;stroke:#ffffff;stroke-width:1.6" />
</g>
<g id="line2d_160">
<path d="M523 721.6L523 500.5" clip-path="url(#p440bb8ea17)" style="fill:none;stroke-dasharray:4.6,2.5;stroke-dashoffset:0;stroke:#333333;stroke-width:1.6" />
</g>
<g id="line2d_161">
<path d="M443.9 721.6L523 721.6" clip-path="url(#p440bb8ea17)" style="fill:none;stroke-dasharray:4.6,2.5;stroke-dashoffset:0;stroke:#333333;stroke-width:1.6" />
</g>
<g id="patch_43">
<path d="M361.5 723.1L361.5 500.5" style="fill:none;stroke:#000000;stroke-width:1;stroke-linejoin:miter;stroke-linecap:square" />
</g>
<g id="patch_44">
<path d="M592 723.1L592 500.5" style="fill:none;stroke:#000000;stroke-width:1;stroke-linejoin:miter;stroke-linecap:square" />
</g>
<g id="patch_45">
<path d="M361.5 723.1L592 723.1" style="fill:none;stroke:#000000;stroke-width:1;stroke-linejoin:miter;stroke-linecap:square" />
</g>
<g id="patch_46">
<path d="M361.5 500.5L592 500.5" style="fill:none;stroke:#000000;stroke-width:1;stroke-linejoin:miter;stroke-linecap:square" />
</g>
<g id="text_95">
<g id="patch_47">
<path d="M365 515.4L381.6 515.4L381.6 503.1L365 503.1z" style="fill:#ffffff" />
</g>
<text style="font-weight:700;font-size:11.7px;font-family:&quot;Liberation Sans&quot;, sans-serif;text-anchor:start" x="365.4" y="512.5" transform="rotate(0 365.4 512.5)" textLength="15.7" lengthAdjust="spacingAndGlyphs">(f)</text>
</g>
</g>
<g id="axes_12">
<g id="patch_48">
<path d="M606.4 723.1L617.6 723.1L617.6 500.5L606.4 500.5z" style="fill:#ffffff" />
</g>
<g id="QuadMesh_6">
<path d="M606.4 723.1L617.6 723.1L617.6 712.5L606.4 712.5L606.4 723.1" clip-path="url(#p525e8ab28d)" style="fill:#2b73b3" />
<path d="M606.4 712.5L617.6 712.5L617.6 701.9L606.4 701.9L606.4 712.5" clip-path="url(#p525e8ab28d)" style="fill:#3a87bd" />
<path d="M606.4 701.9L617.6 701.9L617.6 691.3L606.4 691.3L606.4 701.9" clip-path="url(#p525e8ab28d)" style="fill:#4f9bc7" />
<path d="M606.4 691.3L617.6 691.3L617.6 680.7L606.4 680.7L606.4 691.3" clip-path="url(#p525e8ab28d)" style="fill:#71b0d3" />
<path d="M606.4 680.7L617.6 680.7L617.6 670.1L606.4 670.1L606.4 680.7" clip-path="url(#p525e8ab28d)" style="fill:#93c6de" />
<path d="M606.4 670.1L617.6 670.1L617.6 659.5L606.4 659.5L606.4 670.1" clip-path="url(#p525e8ab28d)" style="fill:#b1d5e7" />
<path d="M606.4 659.5L617.6 659.5L617.6 648.9L606.4 648.9L606.4 659.5" clip-path="url(#p525e8ab28d)" style="fill:#cce2ef" />
<path d="M606.4 648.9L617.6 648.9L617.6 638.3L606.4 638.3L606.4 648.9" clip-path="url(#p525e8ab28d)" style="fill:#deebf2" />
<path d="M606.4 638.3L617.6 638.3L617.6 627.7L606.4 627.7L606.4 638.3" clip-path="url(#p525e8ab28d)" style="fill:#eff3f5" />
<path d="M606.4 627.7L617.6 627.7L617.6 617.1L606.4 617.1L606.4 627.7" clip-path="url(#p525e8ab28d)" style="fill:#f8f1ed" />
<path d="M606.4 617.1L617.6 617.1L617.6 606.5L606.4 606.5L606.4 617.1" clip-path="url(#p525e8ab28d)" style="fill:#fbe5d8" />
<path d="M606.4 606.5L617.6 606.5L617.6 595.9L606.4 595.9L606.4 606.5" clip-path="url(#p525e8ab28d)" style="fill:#fcd7c2" />
<path d="M606.4 595.9L617.6 595.9L617.6 585.3L606.4 585.3L606.4 595.9" clip-path="url(#p525e8ab28d)" style="fill:#f8bfa4" />
<path d="M606.4 585.3L617.6 585.3L617.6 574.7L606.4 574.7L606.4 585.3" clip-path="url(#p525e8ab28d)" style="fill:#f4a683" />
<path d="M606.4 574.7L617.6 574.7L617.6 564.1L606.4 564.1L606.4 574.7" clip-path="url(#p525e8ab28d)" style="fill:#e8896c" />
<path d="M606.4 564.1L617.6 564.1L617.6 553.5L606.4 553.5L606.4 564.1" clip-path="url(#p525e8ab28d)" style="fill:#db6b55" />
<path d="M606.4 553.5L617.6 553.5L617.6 542.9L606.4 542.9L606.4 553.5" clip-path="url(#p525e8ab28d)" style="fill:#cc4c44" />
<path d="M606.4 542.9L617.6 542.9L617.6 532.3L606.4 532.3L606.4 542.9" clip-path="url(#p525e8ab28d)" style="fill:#bd2d35" />
<path d="M606.4 532.3L617.6 532.3L617.6 521.7L606.4 521.7L606.4 532.3" clip-path="url(#p525e8ab28d)" style="fill:#a81529" />
<path d="M606.4 521.7L617.6 521.7L617.6 511.1L606.4 511.1L606.4 521.7" clip-path="url(#p525e8ab28d)" style="fill:#870a24" />
<path d="M606.4 511.1L617.6 511.1L617.6 500.5L606.4 500.5L606.4 511.1" clip-path="url(#p525e8ab28d)" style="fill:#67001f" />
</g>
<g id="matplotlib.axis_23" />
<g id="matplotlib.axis_24">
<g id="ytick_78">
<g id="line2d_162">
<g>
<use href="#mbff90f7d70" x="617.6" y="723.1" style="stroke:#000000;stroke-width:1" />
</g>
</g>
<g id="text_96">
<text style="font-size:10.4px;font-family:&quot;Liberation Sans&quot;, sans-serif;text-anchor:start" x="627.3" y="727.1" transform="rotate(0 627.3 727.1)" textLength="38.5" lengthAdjust="spacingAndGlyphs">−0.072</text>
</g>
</g>
<g id="ytick_79">
<g id="line2d_163">
<g>
<use href="#mbff90f7d70" x="617.6" y="691.3" style="stroke:#000000;stroke-width:1" />
</g>
</g>
<g id="text_97">
<text style="font-size:10.4px;font-family:&quot;Liberation Sans&quot;, sans-serif;text-anchor:start" x="627.3" y="695.3" transform="rotate(0 627.3 695.3)" textLength="38.5" lengthAdjust="spacingAndGlyphs">−0.048</text>
</g>
</g>
<g id="ytick_80">
<g id="line2d_164">
<g>
<use href="#mbff90f7d70" x="617.6" y="659.5" style="stroke:#000000;stroke-width:1" />
</g>
</g>
<g id="text_98">
<text style="font-size:10.4px;font-family:&quot;Liberation Sans&quot;, sans-serif;text-anchor:start" x="627.3" y="663.5" transform="rotate(0 627.3 663.5)" textLength="38.5" lengthAdjust="spacingAndGlyphs">−0.024</text>
</g>
</g>
<g id="ytick_81">
<g id="line2d_165">
<g>
<use href="#mbff90f7d70" x="617.6" y="627.7" style="stroke:#000000;stroke-width:1" />
</g>
</g>
<g id="text_99">
<text style="font-size:10.4px;font-family:&quot;Liberation Sans&quot;, sans-serif;text-anchor:start" x="627.3" y="631.7" transform="rotate(0 627.3 631.7)" textLength="29.8" lengthAdjust="spacingAndGlyphs">0.000</text>
</g>
</g>
<g id="ytick_82">
<g id="line2d_166">
<g>
<use href="#mbff90f7d70" x="617.6" y="595.9" style="stroke:#000000;stroke-width:1" />
</g>
</g>
<g id="text_100">
<text style="font-size:10.4px;font-family:&quot;Liberation Sans&quot;, sans-serif;text-anchor:start" x="627.3" y="599.9" transform="rotate(0 627.3 599.9)" textLength="29.8" lengthAdjust="spacingAndGlyphs">0.024</text>
</g>
</g>
<g id="ytick_83">
<g id="line2d_167">
<g>
<use href="#mbff90f7d70" x="617.6" y="564.1" style="stroke:#000000;stroke-width:1" />
</g>
</g>
<g id="text_101">
<text style="font-size:10.4px;font-family:&quot;Liberation Sans&quot;, sans-serif;text-anchor:start" x="627.3" y="568.1" transform="rotate(0 627.3 568.1)" textLength="29.8" lengthAdjust="spacingAndGlyphs">0.048</text>
</g>
</g>
<g id="ytick_84">
<g id="line2d_168">
<g>
<use href="#mbff90f7d70" x="617.6" y="532.3" style="stroke:#000000;stroke-width:1" />
</g>
</g>
<g id="text_102">
<text style="font-size:10.4px;font-family:&quot;Liberation Sans&quot;, sans-serif;text-anchor:start" x="627.3" y="536.3" transform="rotate(0 627.3 536.3)" textLength="29.8" lengthAdjust="spacingAndGlyphs">0.072</text>
</g>
</g>
<g id="ytick_85">
<g id="line2d_169">
<g>
<use href="#mbff90f7d70" x="617.6" y="500.5" style="stroke:#000000;stroke-width:1" />
</g>
</g>
<g id="text_103">
<text style="font-size:10.4px;font-family:&quot;Liberation Sans&quot;, sans-serif;text-anchor:start" x="627.3" y="504.5" transform="rotate(0 627.3 504.5)" textLength="29.8" lengthAdjust="spacingAndGlyphs">0.096</text>
</g>
</g>
<g id="text_104">
<g transform="translate(682.9 652.1) rotate(-90)">
<text>
<tspan x="0" y="-1.2" style="font-size:10.4px;font-family:&quot;Liberation Sans&quot;, sans-serif" textLength="7.13" lengthAdjust="spacingAndGlyphs">Δ</tspan>
<tspan x="35.4" y="-1.2" style="font-size:10.4px;font-family:&quot;Liberation Sans&quot;, sans-serif"> </tspan>
<tspan x="38.7" y="-1.2" style="font-size:10.4px;font-family:&quot;Liberation Sans&quot;, sans-serif" textLength="4.06" lengthAdjust="spacingAndGlyphs">[</tspan>
<tspan x="42.7" y="-1.2" style="font-size:10.4px;font-family:&quot;Liberation Sans&quot;, sans-serif" textLength="6.61" lengthAdjust="spacingAndGlyphs">g</tspan>
<tspan x="49.4" y="-1.2" style="font-size:10.4px;font-family:&quot;Liberation Sans&quot;, sans-serif"> </tspan>
<tspan x="52.7" y="-1.2" style="font-size:10.4px;font-family:&quot;Liberation Sans&quot;, sans-serif" textLength="6.03" lengthAdjust="spacingAndGlyphs">k</tspan>
<tspan x="58.7" y="-1.2" style="font-size:10.4px;font-family:&quot;Liberation Sans&quot;, sans-serif" textLength="6.61" lengthAdjust="spacingAndGlyphs">g</tspan>
<tspan x="76.5" y="-1.2" style="font-size:10.4px;font-family:&quot;Liberation Sans&quot;, sans-serif" textLength="4.06" lengthAdjust="spacingAndGlyphs">]</tspan>
<tspan x="7.1" y="-1.2" style="font-style:oblique;font-size:10.4px;font-family:&quot;Liberation Sans&quot;, sans-serif" textLength="8.20" lengthAdjust="spacingAndGlyphs">Q</tspan>
<tspan x="15.3" y=".6" style="font-style:oblique;font-size:7.3px;font-family:&quot;Liberation Sans&quot;, sans-serif" textLength="4.01" lengthAdjust="spacingAndGlyphs">c</tspan>
<tspan x="19.3" y=".6" style="font-style:oblique;font-size:7.3px;font-family:&quot;Liberation Sans&quot;, sans-serif" textLength="2.03" lengthAdjust="spacingAndGlyphs">l</tspan>
<tspan x="21.4" y=".6" style="font-style:oblique;font-size:7.3px;font-family:&quot;Liberation Sans&quot;, sans-serif" textLength="4.46" lengthAdjust="spacingAndGlyphs">o</tspan>
<tspan x="25.8" y=".6" style="font-style:oblique;font-size:7.3px;font-family:&quot;Liberation Sans&quot;, sans-serif" textLength="4.62" lengthAdjust="spacingAndGlyphs">u</tspan>
<tspan x="30.4" y=".6" style="font-style:oblique;font-size:7.3px;font-family:&quot;Liberation Sans&quot;, sans-serif" textLength="4.63" lengthAdjust="spacingAndGlyphs">d</tspan>
<tspan x="65.4" y="-5.4" style="font-size:7.3px;font-family:&quot;Liberation Sans&quot;, sans-serif" textLength="6.11" lengthAdjust="spacingAndGlyphs">−</tspan>
<tspan x="71.5" y="-5.4" style="font-size:7.3px;font-family:&quot;Liberation Sans&quot;, sans-serif" textLength="4.64" lengthAdjust="spacingAndGlyphs">1</tspan>
</text>
</g>
</g>
</g>
<g id="LineCollection_6" />
<g id="patch_49">
<path d="M606.4 723.1L612 723.1L617.6 723.1L617.6 500.5L612 500.5L606.4 500.5L606.4 723.1z" style="fill:none;stroke:#000000;stroke-width:1;stroke-linejoin:miter;stroke-linecap:square" />
</g>
</g>
<g id="text_105">
<text style="font-size:11.8px;font-family:&quot;Liberation Sans&quot;, sans-serif;text-anchor:middle" x="340.5" y="8.8" transform="rotate(0 340.5 8.8)" textLength="91.6" lengthAdjust="spacingAndGlyphs">E, 09-Aug-2023</text>
</g>
<g id="text_106">
<g transform="translate(66.2 17.8)">
<text>
<tspan x="0" y="-1.2" style="font-size:10.4px;font-family:&quot;Liberation Sans&quot;, sans-serif" textLength="7.13" lengthAdjust="spacingAndGlyphs">Δ</tspan>
<tspan x="7.1" y="-1.2" style="font-size:10.4px;font-family:&quot;Liberation Sans&quot;, sans-serif" textLength="7.62" lengthAdjust="spacingAndGlyphs">U</tspan>
<tspan x="14.8" y="-1.2" style="font-size:10.4px;font-family:&quot;Liberation Sans&quot;, sans-serif" textLength="3.51" lengthAdjust="spacingAndGlyphs">:</tspan>
<tspan x="18.3" y="-1.2" style="font-size:10.4px;font-family:&quot;Liberation Sans&quot;, sans-serif"> </tspan>
<tspan x="21.6" y="-1.2" style="font-size:10.4px;font-family:&quot;Liberation Sans&quot;, sans-serif" textLength="6.63" lengthAdjust="spacingAndGlyphs">2</tspan>
<tspan x="28.2" y="-1.2" style="font-size:10.4px;font-family:&quot;Liberation Sans&quot;, sans-serif"> </tspan>
<tspan x="31.5" y="-1.2" style="font-size:10.4px;font-family:&quot;Liberation Sans&quot;, sans-serif" textLength="10.15" lengthAdjust="spacingAndGlyphs">m</tspan>
<tspan x="41.7" y="-1.2" style="font-size:10.4px;font-family:&quot;Liberation Sans&quot;, sans-serif"> </tspan>
<tspan x="45" y="-1.2" style="font-size:10.4px;font-family:&quot;Liberation Sans&quot;, sans-serif" textLength="5.43" lengthAdjust="spacingAndGlyphs">s</tspan>
<tspan x="50.5" y="-5.4" style="font-size:7.3px;font-family:&quot;Liberation Sans&quot;, sans-serif" textLength="6.11" lengthAdjust="spacingAndGlyphs">−</tspan>
<tspan x="56.6" y="-5.4" style="font-size:7.3px;font-family:&quot;Liberation Sans&quot;, sans-serif" textLength="4.64" lengthAdjust="spacingAndGlyphs">1</tspan>
</text>
</g>
</g>
<g id="text_107">
<g transform="translate(183.6 17.8)">
<text>
<tspan x="0" y="-1.2" style="font-size:10.4px;font-family:&quot;Liberation Sans&quot;, sans-serif" textLength="7.13" lengthAdjust="spacingAndGlyphs">Δ</tspan>
<tspan x="7.1" y="-1.2" style="font-size:10.4px;font-family:&quot;Liberation Sans&quot;, sans-serif" textLength="8.52" lengthAdjust="spacingAndGlyphs">w</tspan>
<tspan x="15.6" y="-1.2" style="font-size:10.4px;font-family:&quot;Liberation Sans&quot;, sans-serif" textLength="3.51" lengthAdjust="spacingAndGlyphs">:</tspan>
<tspan x="19.2" y="-1.2" style="font-size:10.4px;font-family:&quot;Liberation Sans&quot;, sans-serif"> </tspan>
<tspan x="22.5" y="-1.2" style="font-size:10.4px;font-family:&quot;Liberation Sans&quot;, sans-serif" textLength="6.63" lengthAdjust="spacingAndGlyphs">0</tspan>
<tspan x="29.1" y="-1.2" style="font-size:10.4px;font-family:&quot;Liberation Sans&quot;, sans-serif" textLength="3.31" lengthAdjust="spacingAndGlyphs">.</tspan>
<tspan x="31.9" y="-1.2" style="font-size:10.4px;font-family:&quot;Liberation Sans&quot;, sans-serif" textLength="6.63" lengthAdjust="spacingAndGlyphs">2</tspan>
<tspan x="38.5" y="-1.2" style="font-size:10.4px;font-family:&quot;Liberation Sans&quot;, sans-serif"> </tspan>
<tspan x="41.8" y="-1.2" style="font-size:10.4px;font-family:&quot;Liberation Sans&quot;, sans-serif" textLength="10.15" lengthAdjust="spacingAndGlyphs">m</tspan>
<tspan x="52" y="-1.2" style="font-size:10.4px;font-family:&quot;Liberation Sans&quot;, sans-serif"> </tspan>
<tspan x="55.3" y="-1.2" style="font-size:10.4px;font-family:&quot;Liberation Sans&quot;, sans-serif" textLength="5.43" lengthAdjust="spacingAndGlyphs">s</tspan>
<tspan x="60.8" y="-5.4" style="font-size:7.3px;font-family:&quot;Liberation Sans&quot;, sans-serif" textLength="6.11" lengthAdjust="spacingAndGlyphs">−</tspan>
<tspan x="66.9" y="-5.4" style="font-size:7.3px;font-family:&quot;Liberation Sans&quot;, sans-serif" textLength="4.64" lengthAdjust="spacingAndGlyphs">1</tspan>
</text>
</g>
</g>
<g id="text_108">
<g transform="translate(66.2 499.7)">
<text>
<tspan x="0" y="-1.2" style="font-size:10.4px;font-family:&quot;Liberation Sans&quot;, sans-serif" textLength="7.13" lengthAdjust="spacingAndGlyphs">Δ</tspan>
<tspan x="7.1" y="-1.2" style="font-size:10.4px;font-family:&quot;Liberation Sans&quot;, sans-serif" textLength="7.62" lengthAdjust="spacingAndGlyphs">U</tspan>
<tspan x="14.8" y="-1.2" style="font-size:10.4px;font-family:&quot;Liberation Sans&quot;, sans-serif" textLength="3.51" lengthAdjust="spacingAndGlyphs">:</tspan>
<tspan x="18.3" y="-1.2" style="font-size:10.4px;font-family:&quot;Liberation Sans&quot;, sans-serif"> </tspan>
<tspan x="21.6" y="-1.2" style="font-size:10.4px;font-family:&quot;Liberation Sans&quot;, sans-serif" textLength="6.63" lengthAdjust="spacingAndGlyphs">2</tspan>
<tspan x="28.2" y="-1.2" style="font-size:10.4px;font-family:&quot;Liberation Sans&quot;, sans-serif"> </tspan>
<tspan x="31.5" y="-1.2" style="font-size:10.4px;font-family:&quot;Liberation Sans&quot;, sans-serif" textLength="10.15" lengthAdjust="spacingAndGlyphs">m</tspan>
<tspan x="41.7" y="-1.2" style="font-size:10.4px;font-family:&quot;Liberation Sans&quot;, sans-serif"> </tspan>
<tspan x="45" y="-1.2" style="font-size:10.4px;font-family:&quot;Liberation Sans&quot;, sans-serif" textLength="5.43" lengthAdjust="spacingAndGlyphs">s</tspan>
<tspan x="50.5" y="-5.4" style="font-size:7.3px;font-family:&quot;Liberation Sans&quot;, sans-serif" textLength="6.11" lengthAdjust="spacingAndGlyphs">−</tspan>
<tspan x="56.6" y="-5.4" style="font-size:7.3px;font-family:&quot;Liberation Sans&quot;, sans-serif" textLength="4.64" lengthAdjust="spacingAndGlyphs">1</tspan>
</text>
</g>
</g>
<g id="text_109">
<g transform="translate(183.6 499.7)">
<text>
<tspan x="0" y="-1.2" style="font-size:10.4px;font-family:&quot;Liberation Sans&quot;, sans-serif" textLength="7.13" lengthAdjust="spacingAndGlyphs">Δ</tspan>
<tspan x="7.1" y="-1.2" style="font-size:10.4px;font-family:&quot;Liberation Sans&quot;, sans-serif" textLength="8.52" lengthAdjust="spacingAndGlyphs">w</tspan>
<tspan x="15.6" y="-1.2" style="font-size:10.4px;font-family:&quot;Liberation Sans&quot;, sans-serif" textLength="3.51" lengthAdjust="spacingAndGlyphs">:</tspan>
<tspan x="19.2" y="-1.2" style="font-size:10.4px;font-family:&quot;Liberation Sans&quot;, sans-serif"> </tspan>
<tspan x="22.5" y="-1.2" style="font-size:10.4px;font-family:&quot;Liberation Sans&quot;, sans-serif" textLength="6.63" lengthAdjust="spacingAndGlyphs">0</tspan>
<tspan x="29.1" y="-1.2" style="font-size:10.4px;font-family:&quot;Liberation Sans&quot;, sans-serif" textLength="3.31" lengthAdjust="spacingAndGlyphs">.</tspan>
<tspan x="31.9" y="-1.2" style="font-size:10.4px;font-family:&quot;Liberation Sans&quot;, sans-serif" textLength="6.63" lengthAdjust="spacingAndGlyphs">2</tspan>
<tspan x="38.5" y="-1.2" style="font-size:10.4px;font-family:&quot;Liberation Sans&quot;, sans-serif"> </tspan>
<tspan x="41.8" y="-1.2" style="font-size:10.4px;font-family:&quot;Liberation Sans&quot;, sans-serif" textLength="10.15" lengthAdjust="spacingAndGlyphs">m</tspan>
<tspan x="52" y="-1.2" style="font-size:10.4px;font-family:&quot;Liberation Sans&quot;, sans-serif"> </tspan>
<tspan x="55.3" y="-1.2" style="font-size:10.4px;font-family:&quot;Liberation Sans&quot;, sans-serif" textLength="5.43" lengthAdjust="spacingAndGlyphs">s</tspan>
<tspan x="60.8" y="-5.4" style="font-size:7.3px;font-family:&quot;Liberation Sans&quot;, sans-serif" textLength="6.11" lengthAdjust="spacingAndGlyphs">−</tspan>
<tspan x="66.9" y="-5.4" style="font-size:7.3px;font-family:&quot;Liberation Sans&quot;, sans-serif" textLength="4.64" lengthAdjust="spacingAndGlyphs">1</tspan>
</text>
</g>
</g>
<g id="text_110">
<g transform="translate(394.5 258.2)">
<text>
<tspan x="0" y="-1.2" style="font-size:10.4px;font-family:&quot;Liberation Sans&quot;, sans-serif" textLength="7.62" lengthAdjust="spacingAndGlyphs">U</tspan>
<tspan x="7.6" y="-1.2" style="font-size:10.4px;font-family:&quot;Liberation Sans&quot;, sans-serif" textLength="3.51" lengthAdjust="spacingAndGlyphs">:</tspan>
<tspan x="11.1" y="-1.2" style="font-size:10.4px;font-family:&quot;Liberation Sans&quot;, sans-serif"> </tspan>
<tspan x="14.4" y="-1.2" style="font-size:10.4px;font-family:&quot;Liberation Sans&quot;, sans-serif" textLength="6.63" lengthAdjust="spacingAndGlyphs">2</tspan>
<tspan x="21.1" y="-1.2" style="font-size:10.4px;font-family:&quot;Liberation Sans&quot;, sans-serif" textLength="6.63" lengthAdjust="spacingAndGlyphs">0</tspan>
<tspan x="27.7" y="-1.2" style="font-size:10.4px;font-family:&quot;Liberation Sans&quot;, sans-serif"> </tspan>
<tspan x="31" y="-1.2" style="font-size:10.4px;font-family:&quot;Liberation Sans&quot;, sans-serif" textLength="10.15" lengthAdjust="spacingAndGlyphs">m</tspan>
<tspan x="41.2" y="-1.2" style="font-size:10.4px;font-family:&quot;Liberation Sans&quot;, sans-serif"> </tspan>
<tspan x="44.5" y="-1.2" style="font-size:10.4px;font-family:&quot;Liberation Sans&quot;, sans-serif" textLength="5.43" lengthAdjust="spacingAndGlyphs">s</tspan>
<tspan x="50" y="-5.4" style="font-size:7.3px;font-family:&quot;Liberation Sans&quot;, sans-serif" textLength="6.11" lengthAdjust="spacingAndGlyphs">−</tspan>
<tspan x="56.1" y="-5.4" style="font-size:7.3px;font-family:&quot;Liberation Sans&quot;, sans-serif" textLength="4.64" lengthAdjust="spacingAndGlyphs">1</tspan>
</text>
</g>
</g>
<g id="text_111">
<g transform="translate(512.6 258.2)">
<text>
<tspan x="0" y="-1.2" style="font-size:10.4px;font-family:&quot;Liberation Sans&quot;, sans-serif" textLength="8.52" lengthAdjust="spacingAndGlyphs">w</tspan>
<tspan x="8.5" y="-1.2" style="font-size:10.4px;font-family:&quot;Liberation Sans&quot;, sans-serif" textLength="3.51" lengthAdjust="spacingAndGlyphs">:</tspan>
<tspan x="12" y="-1.2" style="font-size:10.4px;font-family:&quot;Liberation Sans&quot;, sans-serif"> </tspan>
<tspan x="15.3" y="-1.2" style="font-size:10.4px;font-family:&quot;Liberation Sans&quot;, sans-serif" textLength="6.63" lengthAdjust="spacingAndGlyphs">2</tspan>
<tspan x="22" y="-1.2" style="font-size:10.4px;font-family:&quot;Liberation Sans&quot;, sans-serif"> </tspan>
<tspan x="25.3" y="-1.2" style="font-size:10.4px;font-family:&quot;Liberation Sans&quot;, sans-serif" textLength="10.15" lengthAdjust="spacingAndGlyphs">m</tspan>
<tspan x="35.4" y="-1.2" style="font-size:10.4px;font-family:&quot;Liberation Sans&quot;, sans-serif"> </tspan>
<tspan x="38.7" y="-1.2" style="font-size:10.4px;font-family:&quot;Liberation Sans&quot;, sans-serif" textLength="5.43" lengthAdjust="spacingAndGlyphs">s</tspan>
<tspan x="44.3" y="-5.4" style="font-size:7.3px;font-family:&quot;Liberation Sans&quot;, sans-serif" textLength="6.11" lengthAdjust="spacingAndGlyphs">−</tspan>
<tspan x="50.4" y="-5.4" style="font-size:7.3px;font-family:&quot;Liberation Sans&quot;, sans-serif" textLength="4.64" lengthAdjust="spacingAndGlyphs">1</tspan>
</text>
</g>
</g>
</g>
<defs>
<clipPath id="p49ef406c6c">
<rect x="33.5" y="18.6" width="230.1" height="222.6" />
</clipPath>
<clipPath id="p65a85aa761">
<rect x="278" y="18.6" width="11.4" height="222.6" />
</clipPath>
<clipPath id="p26001cd7fa">
<rect x="361.5" y="18.6" width="230.5" height="222.6" />
</clipPath>
<clipPath id="pd825c84d82">
<rect x="606.4" y="18.6" width="11.2" height="222.6" />
</clipPath>
<clipPath id="p3f610aff29">
<rect x="33.5" y="259.5" width="230.1" height="222.6" />
</clipPath>
<clipPath id="pf4e5fc58b5">
<rect x="278" y="259.5" width="11.4" height="222.6" />
</clipPath>
<clipPath id="p706396b148">
<rect x="361.5" y="259.5" width="230.5" height="222.6" />
</clipPath>
<clipPath id="p2c75ea1437">
<rect x="606.4" y="259.5" width="11.2" height="222.6" />
</clipPath>
<clipPath id="pd62a0e9e07">
<rect x="33.5" y="500.5" width="230.1" height="222.6" />
</clipPath>
<clipPath id="p9e24a1d734">
<rect x="278" y="500.5" width="11.4" height="222.6" />
</clipPath>
<clipPath id="p440bb8ea17">
<rect x="361.5" y="500.5" width="230.5" height="222.6" />
</clipPath>
<clipPath id="p525e8ab28d">
<rect x="606.4" y="500.5" width="11.2" height="222.6" />
</clipPath>
</defs>
<g><path d="M47.3 13.8l6 0M164.9 13.8l5.8 0M47.3 495.7l6 0M164.9 495.7l5.8 0M374 254.9l7 0M492.3 254.9l7 0" style="fill:none;stroke:#666;stroke-width:.9" /><path d="M55.9 13.8L53.3 15.1 53.3 12.5zM173.3 13.8L170.7 15.1 170.7 12.5zM55.9 495.7L53.3 497 53.3 494.4zM173.3 495.7L170.7 497 170.7 494.4zM383.6 254.9L381 256.2 381 253.6zM501.9 254.9L499.3 256.2 499.3 253.6z" style="fill:#444;stroke:none" /></g></svg>
</body></html>
